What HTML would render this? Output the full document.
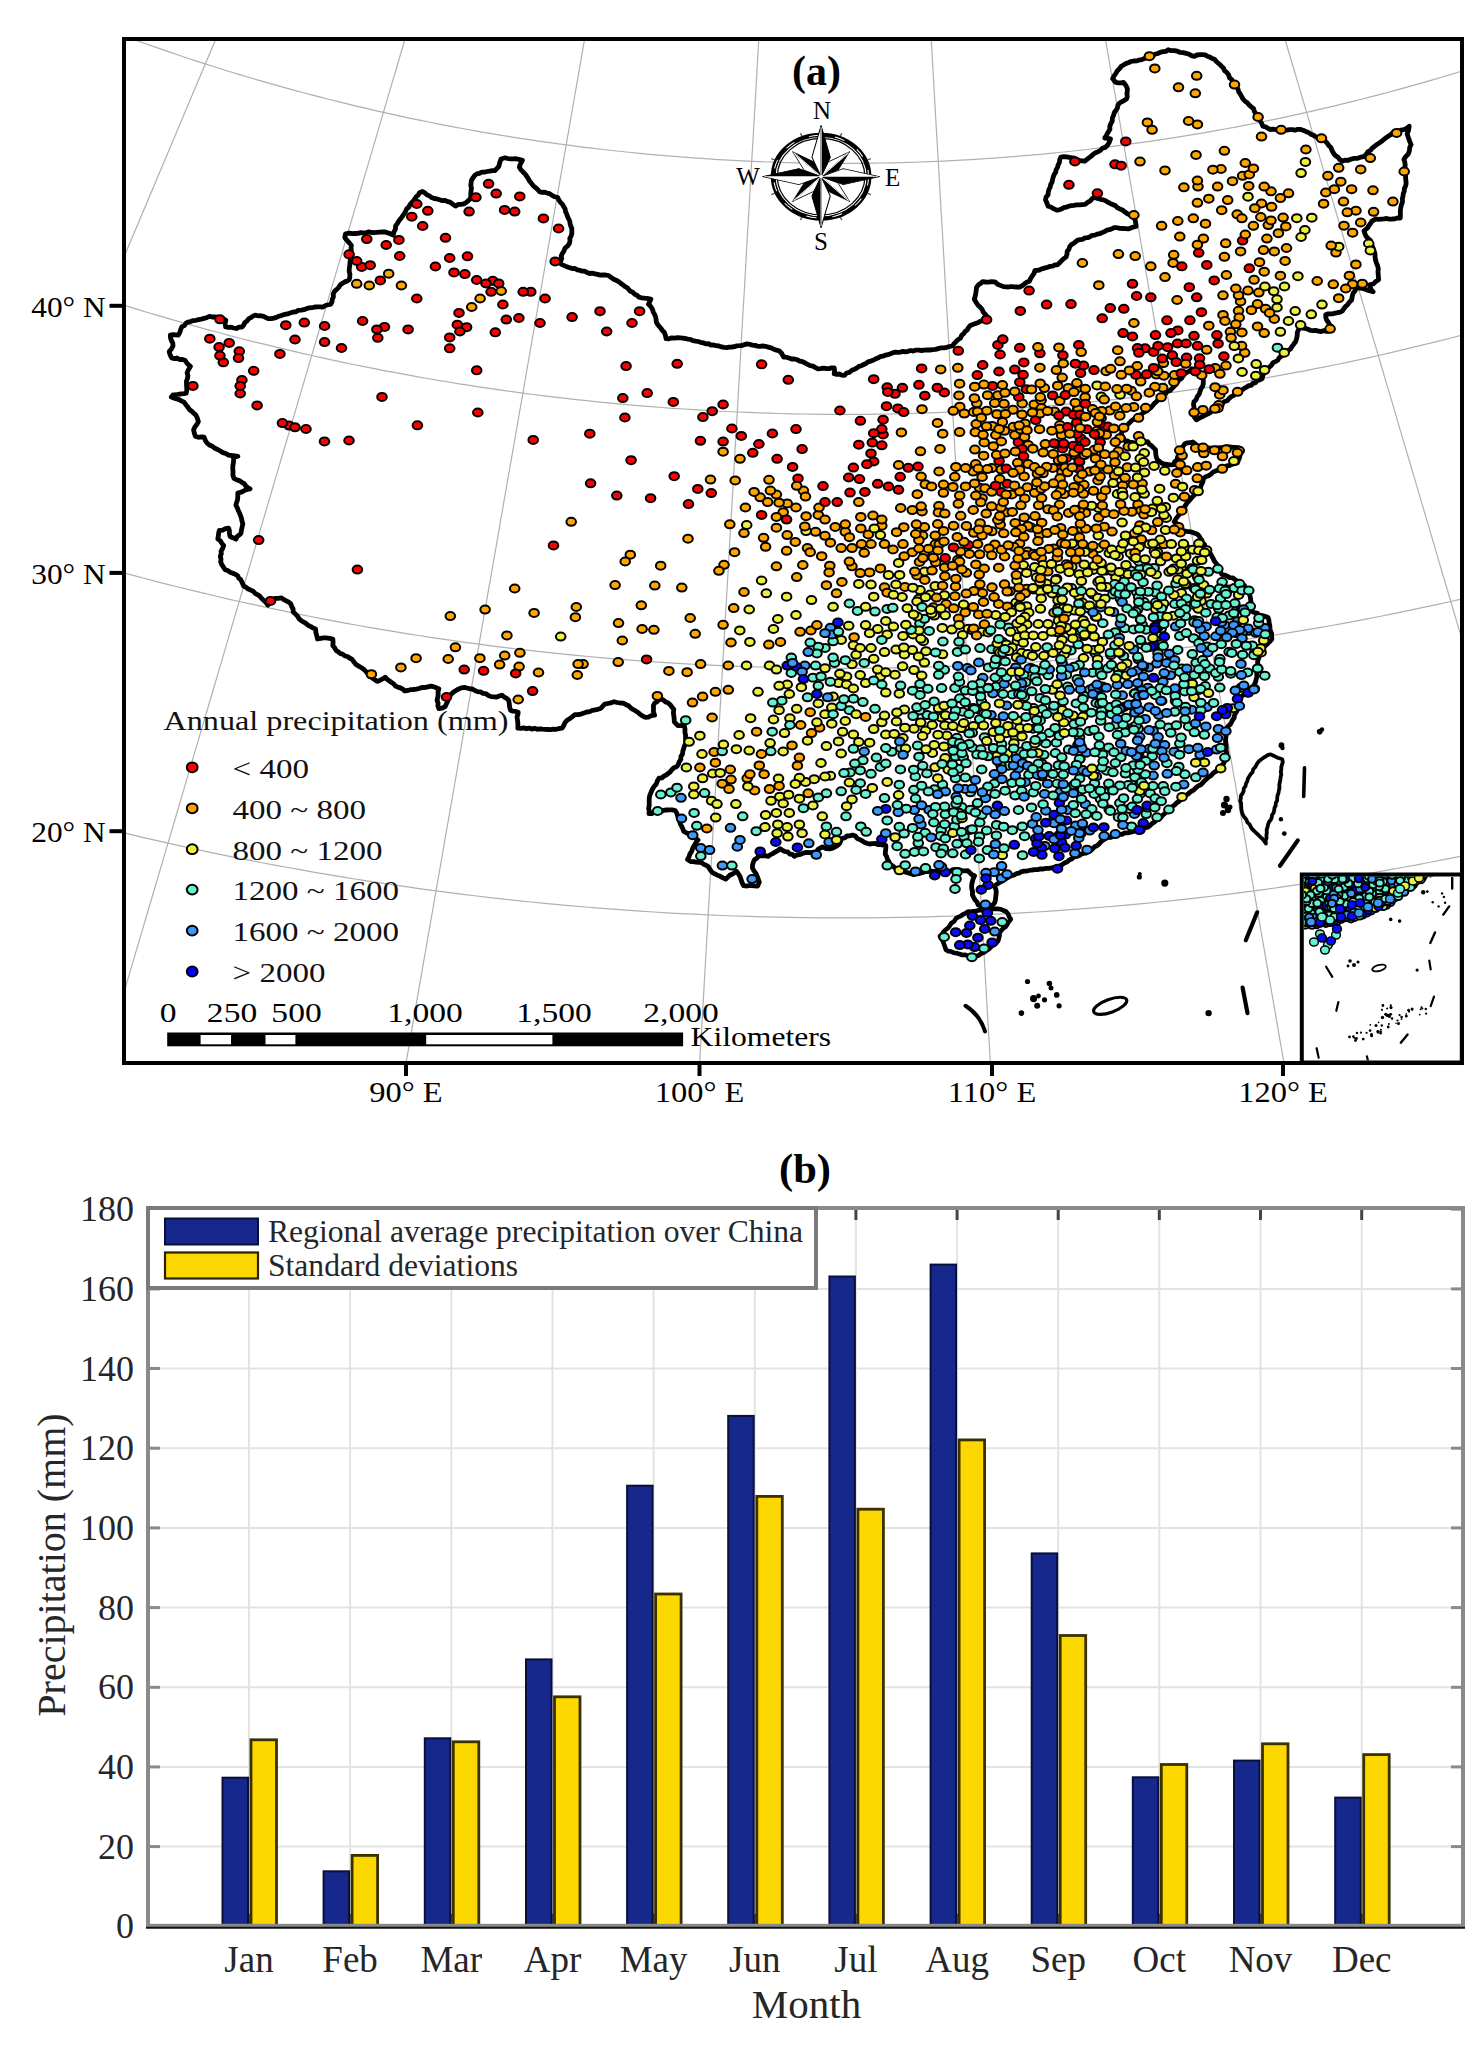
<!DOCTYPE html><html><head><meta charset="utf-8"><style>html,body{margin:0;padding:0;background:#fff;width:1481px;height:2049px;overflow:hidden}svg{display:block}</style></head><body>
<svg xmlns="http://www.w3.org/2000/svg" width="1481" height="2049" viewBox="0 0 1481 2049">
<rect width="100%" height="100%" fill="#fff"/>
<defs><clipPath id="mclip"><rect x="126" y="41" width="1334" height="1020"/></clipPath></defs>
<g clip-path="url(#mclip)">
<polyline fill="none" stroke="#b0b0b0" stroke-width="1.2" points="-578.7,1097.5 -567.7,1077.8 -556.6,1058.0 -545.4,1038.0 -534.2,1017.8 -522.9,997.5 -511.5,977.1 -500.0,956.6 -488.5,935.9 -476.9,915.1 -465.2,894.1 -453.4,873.1 -441.6,851.9 -429.7,830.6 -417.8,809.2 -405.8,787.7 -393.7,766.0 -381.6,744.3 -369.4,722.5 -357.1,700.5 -344.9,678.5 -332.5,656.4 -320.1,634.2 -307.7,612.0 -295.2,589.6 -282.7,567.2 -270.2,544.7 -257.6,522.1 -245.0,499.5 -232.3,476.9 -219.7,454.2 -207.0,431.4 -194.2,408.7 -181.5,385.8 -168.8,363.0 -156.0,340.1 -143.3,317.3 -130.5,294.4 -117.7,271.5 -105.0,248.7 -92.2,225.8 -79.5,203.0 -66.8,180.2 -54.1,157.5 -41.4,134.8 -28.8,112.1 -16.2,89.5 -3.6,67.0 8.9,44.6 21.3,22.3 33.7,0.1 46.0,-21.9 58.3,-43.9 70.4,-65.7 82.5,-87.3 94.5,-108.7 106.3,-130.0 118.1,-151.0 129.7,-171.8 141.2,-192.4 152.5,-212.7"/>
<polyline fill="none" stroke="#b0b0b0" stroke-width="1.2" points="-277.5,1209.5 -268.9,1188.9 -260.1,1168.2 -251.3,1147.3 -242.5,1126.3 -233.6,1105.1 -224.6,1083.8 -215.5,1062.4 -206.4,1040.8 -197.3,1019.0 -188.1,997.2 -178.8,975.2 -169.5,953.1 -160.1,930.9 -150.7,908.5 -141.2,886.0 -131.7,863.5 -122.1,840.8 -112.5,818.0 -102.9,795.1 -93.2,772.1 -83.5,749.0 -73.7,725.9 -63.9,702.6 -54.1,679.3 -44.2,655.9 -34.3,632.4 -24.4,608.9 -14.4,585.3 -4.5,561.6 5.5,537.9 15.5,514.2 25.6,490.4 35.6,466.6 45.7,442.7 55.7,418.9 65.8,395.0 75.8,371.1 85.9,347.2 96.0,323.4 106.0,299.5 116.1,275.7 126.1,251.9 136.1,228.2 146.1,204.5 156.1,180.8 166.0,157.3 175.9,133.8 185.7,110.4 195.6,87.1 205.3,63.9 215.0,40.9 224.7,18.0 234.3,-4.7 243.8,-27.3 253.2,-49.7 262.6,-71.9 271.8,-93.9 281.0,-115.6 290.1,-137.1 299.0,-158.3"/>
<polyline fill="none" stroke="#b0b0b0" stroke-width="1.2" points="35.0,1294.4 41.2,1273.2 47.5,1251.8 53.9,1230.3 60.3,1208.6 66.7,1186.8 73.2,1164.8 79.7,1142.6 86.3,1120.4 92.9,1097.9 99.5,1075.4 106.2,1052.7 112.9,1029.9 119.7,1006.9 126.5,983.9 133.3,960.7 140.2,937.4 147.1,914.0 154.0,890.5 161.0,866.8 168.0,843.1 175.0,819.3 182.1,795.4 189.1,771.4 196.2,747.3 203.4,723.2 210.5,699.0 217.7,674.7 224.8,650.3 232.0,625.9 239.2,601.5 246.5,577.0 253.7,552.4 260.9,527.8 268.2,503.2 275.4,478.6 282.7,454.0 290.0,429.4 297.2,404.7 304.5,380.1 311.7,355.5 319.0,330.9 326.2,306.3 333.4,281.8 340.7,257.4 347.8,233.0 355.0,208.7 362.2,184.4 369.3,160.3 376.4,136.3 383.4,112.4 390.4,88.6 397.4,65.0 404.3,41.5 411.2,18.2 418.0,-4.9 424.7,-27.8 431.4,-50.5 438.0,-72.9 444.5,-95.1 451.0,-116.9"/>
<polyline fill="none" stroke="#b0b0b0" stroke-width="1.2" points="355.7,1351.6 359.5,1329.9 363.3,1308.1 367.1,1286.1 371.0,1264.0 374.8,1241.7 378.8,1219.2 382.7,1196.6 386.7,1173.9 390.7,1151.0 394.7,1128.0 398.7,1104.8 402.8,1081.5 406.9,1058.1 411.0,1034.6 415.1,1010.9 419.2,987.1 423.4,963.2 427.6,939.2 431.8,915.1 436.0,890.9 440.3,866.6 444.5,842.2 448.8,817.7 453.1,793.1 457.4,768.5 461.7,743.7 466.0,718.9 470.4,694.1 474.7,669.2 479.1,644.2 483.4,619.2 487.8,594.1 492.2,569.0 496.6,543.9 500.9,518.8 505.3,493.7 509.7,468.5 514.1,443.4 518.5,418.2 522.9,393.1 527.2,368.0 531.6,342.9 536.0,317.9 540.3,293.0 544.7,268.1 549.0,243.2 553.3,218.5 557.6,193.9 561.9,169.3 566.2,144.9 570.4,120.7 574.6,96.5 578.8,72.6 582.9,48.8 587.0,25.2 591.1,1.8 595.2,-21.3 599.1,-44.2 603.1,-66.8 607.0,-89.1"/>
<polyline fill="none" stroke="#b0b0b0" stroke-width="1.2" points="681.3,1380.3 682.6,1358.4 683.9,1336.4 685.2,1314.2 686.4,1291.8 687.8,1269.3 689.1,1246.6 690.4,1223.8 691.7,1200.8 693.0,1177.7 694.4,1154.4 695.7,1131.0 697.1,1107.5 698.5,1083.8 699.8,1060.0 701.2,1036.1 702.6,1012.1 704.0,988.0 705.4,963.7 706.8,939.3 708.2,914.9 709.6,890.3 711.1,865.7 712.5,840.9 713.9,816.1 715.4,791.2 716.8,766.2 718.2,741.2 719.7,716.1 721.2,690.9 722.6,665.7 724.1,640.4 725.5,615.1 727.0,589.7 728.5,564.4 729.9,539.0 731.4,513.6 732.9,488.2 734.3,462.8 735.8,437.4 737.3,412.0 738.7,386.6 740.2,361.3 741.6,336.1 743.1,310.8 744.6,285.7 746.0,260.6 747.4,235.6 748.9,210.7 750.3,185.9 751.7,161.3 753.2,136.8 754.6,112.4 756.0,88.2 757.3,64.2 758.7,40.4 760.1,16.7 761.4,-6.6 762.8,-29.8 764.1,-52.6 765.4,-75.2"/>
<polyline fill="none" stroke="#b0b0b0" stroke-width="1.2" points="1008.7,1380.3 1007.4,1358.4 1006.1,1336.4 1004.8,1314.2 1003.6,1291.8 1002.2,1269.3 1000.9,1246.6 999.6,1223.8 998.3,1200.8 997.0,1177.7 995.6,1154.4 994.3,1131.0 992.9,1107.5 991.5,1083.8 990.2,1060.0 988.8,1036.1 987.4,1012.1 986.0,988.0 984.6,963.7 983.2,939.3 981.8,914.9 980.4,890.3 978.9,865.7 977.5,840.9 976.1,816.1 974.6,791.2 973.2,766.2 971.8,741.2 970.3,716.1 968.8,690.9 967.4,665.7 965.9,640.4 964.5,615.1 963.0,589.7 961.5,564.4 960.1,539.0 958.6,513.6 957.1,488.2 955.7,462.8 954.2,437.4 952.7,412.0 951.3,386.6 949.8,361.3 948.4,336.1 946.9,310.8 945.4,285.7 944.0,260.6 942.6,235.6 941.1,210.7 939.7,185.9 938.3,161.3 936.8,136.8 935.4,112.4 934.0,88.2 932.7,64.2 931.3,40.4 929.9,16.7 928.6,-6.6 927.2,-29.8 925.9,-52.6 924.6,-75.2"/>
<polyline fill="none" stroke="#b0b0b0" stroke-width="1.2" points="1334.3,1351.6 1330.5,1329.9 1326.7,1308.1 1322.9,1286.1 1319.0,1264.0 1315.2,1241.7 1311.2,1219.2 1307.3,1196.6 1303.3,1173.9 1299.3,1151.0 1295.3,1128.0 1291.3,1104.8 1287.2,1081.5 1283.1,1058.1 1279.0,1034.6 1274.9,1010.9 1270.8,987.1 1266.6,963.2 1262.4,939.2 1258.2,915.1 1254.0,890.9 1249.7,866.6 1245.5,842.2 1241.2,817.7 1236.9,793.1 1232.6,768.5 1228.3,743.7 1224.0,718.9 1219.6,694.1 1215.3,669.2 1210.9,644.2 1206.6,619.2 1202.2,594.1 1197.8,569.0 1193.4,543.9 1189.1,518.8 1184.7,493.7 1180.3,468.5 1175.9,443.4 1171.5,418.2 1167.1,393.1 1162.8,368.0 1158.4,342.9 1154.0,317.9 1149.7,293.0 1145.3,268.1 1141.0,243.2 1136.7,218.5 1132.4,193.9 1128.1,169.3 1123.8,144.9 1119.6,120.7 1115.4,96.5 1111.2,72.6 1107.1,48.8 1103.0,25.2 1098.9,1.8 1094.8,-21.3 1090.9,-44.2 1086.9,-66.8 1083.0,-89.1"/>
<polyline fill="none" stroke="#b0b0b0" stroke-width="1.2" points="1655.0,1294.4 1648.8,1273.2 1642.5,1251.8 1636.1,1230.3 1629.7,1208.6 1623.3,1186.8 1616.8,1164.8 1610.3,1142.6 1603.7,1120.4 1597.1,1097.9 1590.5,1075.4 1583.8,1052.7 1577.1,1029.9 1570.3,1006.9 1563.5,983.9 1556.7,960.7 1549.8,937.4 1542.9,914.0 1536.0,890.5 1529.0,866.8 1522.0,843.1 1515.0,819.3 1507.9,795.4 1500.9,771.4 1493.8,747.3 1486.6,723.2 1479.5,699.0 1472.3,674.7 1465.2,650.3 1458.0,625.9 1450.8,601.5 1443.5,577.0 1436.3,552.4 1429.1,527.8 1421.8,503.2 1414.6,478.6 1407.3,454.0 1400.0,429.4 1392.8,404.7 1385.5,380.1 1378.3,355.5 1371.0,330.9 1363.8,306.3 1356.6,281.8 1349.3,257.4 1342.2,233.0 1335.0,208.7 1327.8,184.4 1320.7,160.3 1313.6,136.3 1306.6,112.4 1299.6,88.6 1292.6,65.0 1285.7,41.5 1278.8,18.2 1272.0,-4.9 1265.3,-27.8 1258.6,-50.5 1252.0,-72.9 1245.5,-95.1 1239.0,-116.9"/>
<polyline fill="none" stroke="#b0b0b0" stroke-width="1.2" points="1967.5,1209.5 1958.9,1188.9 1950.1,1168.2 1941.3,1147.3 1932.5,1126.3 1923.6,1105.1 1914.6,1083.8 1905.5,1062.4 1896.4,1040.8 1887.3,1019.0 1878.1,997.2 1868.8,975.2 1859.5,953.1 1850.1,930.9 1840.7,908.5 1831.2,886.0 1821.7,863.5 1812.1,840.8 1802.5,818.0 1792.9,795.1 1783.2,772.1 1773.5,749.0 1763.7,725.9 1753.9,702.6 1744.1,679.3 1734.2,655.9 1724.3,632.4 1714.4,608.9 1704.4,585.3 1694.5,561.6 1684.5,537.9 1674.5,514.2 1664.4,490.4 1654.4,466.6 1644.3,442.7 1634.3,418.9 1624.2,395.0 1614.2,371.1 1604.1,347.2 1594.0,323.4 1584.0,299.5 1573.9,275.7 1563.9,251.9 1553.9,228.2 1543.9,204.5 1533.9,180.8 1524.0,157.3 1514.1,133.8 1504.3,110.4 1494.4,87.1 1484.7,63.9 1475.0,40.9 1465.3,18.0 1455.7,-4.7 1446.2,-27.3 1436.8,-49.7 1427.4,-71.9 1418.2,-93.9 1409.0,-115.6 1399.9,-137.1 1391.0,-158.3"/>
<polyline fill="none" stroke="#b0b0b0" stroke-width="1.2" points="-729.0,767.3 -716.2,774.2 -703.3,781.0 -690.4,787.8 -677.4,794.5 -664.5,801.2 -651.4,807.8 -638.4,814.3 -625.3,820.8 -612.1,827.3 -598.9,833.6 -585.7,839.9 -572.5,846.2 -559.2,852.4 -545.9,858.5 -532.5,864.6 -519.1,870.6 -505.7,876.6 -492.2,882.5 -478.7,888.4 -465.2,894.1 -451.6,899.9 -438.0,905.5 -424.4,911.1 -410.7,916.7 -397.0,922.2 -383.3,927.6 -369.6,933.0 -355.8,938.3 -342.0,943.5 -328.1,948.7 -314.2,953.8 -300.3,958.9 -286.4,963.9 -272.4,968.8 -258.4,973.7 -244.4,978.5 -230.4,983.3 -216.3,988.0 -202.2,992.6 -188.1,997.2 -173.9,1001.7 -159.7,1006.1 -145.5,1010.5 -131.3,1014.8 -117.0,1019.1 -102.7,1023.3 -88.4,1027.4 -74.1,1031.5 -59.8,1035.5 -45.4,1039.4 -31.0,1043.3 -16.6,1047.1 -2.1,1050.9 12.3,1054.6 26.8,1058.2 41.3,1061.8 55.8,1065.3 70.4,1068.7 85.0,1072.1 99.5,1075.4 114.1,1078.6 128.8,1081.8 143.4,1084.9 158.1,1088.0 172.7,1091.0 187.4,1093.9 202.1,1096.7 216.9,1099.5 231.6,1102.3 246.3,1104.9 261.1,1107.5 275.9,1110.1 290.7,1112.5 305.5,1114.9 320.3,1117.3 335.2,1119.5 350.0,1121.7 364.9,1123.9 379.8,1126.0 394.7,1128.0 409.6,1129.9 424.5,1131.8 439.4,1133.6 454.4,1135.4 469.3,1137.0 484.2,1138.7 499.2,1140.2 514.2,1141.7 529.2,1143.1 544.1,1144.5 559.1,1145.8 574.1,1147.0 589.2,1148.2 604.2,1149.2 619.2,1150.3 634.2,1151.2 649.3,1152.1 664.3,1152.9 679.3,1153.7 694.4,1154.4 709.4,1155.0 724.5,1155.6 739.5,1156.1 754.6,1156.5 769.7,1156.9 784.7,1157.2 799.8,1157.4 814.9,1157.6 829.9,1157.7 845.0,1157.7 860.1,1157.7 875.1,1157.6 890.2,1157.4 905.3,1157.2 920.3,1156.9 935.4,1156.5 950.5,1156.1 965.5,1155.6 980.6,1155.0 995.6,1154.4 1010.7,1153.7 1025.7,1152.9 1040.7,1152.1 1055.8,1151.2 1070.8,1150.3 1085.8,1149.2 1100.8,1148.2 1115.9,1147.0 1130.9,1145.8 1145.9,1144.5 1160.8,1143.1 1175.8,1141.7 1190.8,1140.2 1205.8,1138.7 1220.7,1137.0 1235.6,1135.4 1250.6,1133.6 1265.5,1131.8 1280.4,1129.9 1295.3,1128.0 1310.2,1126.0 1325.1,1123.9 1340.0,1121.7 1354.8,1119.5 1369.7,1117.3 1384.5,1114.9 1399.3,1112.5 1414.1,1110.1 1428.9,1107.5 1443.7,1104.9 1458.4,1102.3 1473.1,1099.5 1487.9,1096.7 1502.6,1093.9 1517.3,1091.0 1531.9,1088.0 1546.6,1084.9 1561.2,1081.8 1575.9,1078.6 1590.5,1075.4 1605.0,1072.1 1619.6,1068.7 1634.2,1065.3 1648.7,1061.8 1663.2,1058.2 1677.7,1054.6 1692.1,1050.9 1706.6,1047.1 1721.0,1043.3 1735.4,1039.4 1749.8,1035.5 1764.1,1031.5 1778.4,1027.4 1792.7,1023.3 1807.0,1019.1 1821.3,1014.8 1835.5,1010.5 1849.7,1006.1 1863.9,1001.7 1878.1,997.2 1892.2,992.6 1906.3,988.0 1920.4,983.3 1934.4,978.5 1948.4,973.7 1962.4,968.8 1976.4,963.9 1990.3,958.9 2004.2,953.8 2018.1,948.7 2032.0,943.5 2045.8,938.3 2059.6,933.0 2073.3,927.6 2087.0,922.2 2100.7,916.7 2114.4,911.1 2128.0,905.5 2141.6,899.9 2155.2,894.1 2168.7,888.4 2182.2,882.5 2195.7,876.6 2209.1,870.6 2222.5,864.6 2235.9,858.5 2249.2,852.4 2262.5,846.2 2275.7,839.9 2288.9,833.6 2302.1,827.3 2315.3,820.8 2328.4,814.3 2341.4,807.8 2354.5,801.2 2367.4,794.5 2380.4,787.8 2393.3,781.0 2406.2,774.2 2419.0,767.3"/>
<polyline fill="none" stroke="#b0b0b0" stroke-width="1.2" points="-584.5,563.3 -572.8,569.6 -561.1,575.8 -549.4,582.0 -537.6,588.1 -525.8,594.1 -514.0,600.1 -502.1,606.0 -490.2,611.9 -478.3,617.8 -466.3,623.6 -454.3,629.3 -442.3,635.0 -430.2,640.6 -418.1,646.2 -406.0,651.7 -393.8,657.2 -381.6,662.6 -369.4,668.0 -357.1,673.3 -344.9,678.5 -332.5,683.7 -320.2,688.9 -307.8,694.0 -295.4,699.0 -283.0,704.0 -270.5,708.9 -258.0,713.8 -245.5,718.6 -232.9,723.4 -220.4,728.1 -207.8,732.7 -195.1,737.3 -182.5,741.9 -169.8,746.4 -157.1,750.8 -144.4,755.2 -131.6,759.5 -118.8,763.7 -106.0,768.0 -93.2,772.1 -80.3,776.2 -67.4,780.2 -54.5,784.2 -41.6,788.1 -28.7,792.0 -15.7,795.8 -2.7,799.6 10.3,803.3 23.3,806.9 36.4,810.5 49.5,814.0 62.6,817.5 75.7,820.9 88.8,824.2 102.0,827.5 115.1,830.8 128.3,833.9 141.5,837.1 154.8,840.1 168.0,843.1 181.3,846.1 194.5,849.0 207.8,851.8 221.1,854.6 234.5,857.3 247.8,859.9 261.2,862.5 274.5,865.1 287.9,867.5 301.3,869.9 314.7,872.3 328.2,874.6 341.6,876.9 355.1,879.0 368.5,881.2 382.0,883.2 395.5,885.2 409.0,887.2 422.5,889.1 436.0,890.9 449.6,892.6 463.1,894.4 476.7,896.0 490.2,897.6 503.8,899.1 517.4,900.6 531.0,902.0 544.6,903.4 558.2,904.6 571.8,905.9 585.4,907.0 599.0,908.2 612.7,909.2 626.3,910.2 639.9,911.1 653.6,912.0 667.2,912.8 680.9,913.6 694.6,914.2 708.2,914.9 721.9,915.5 735.6,916.0 749.2,916.4 762.9,916.8 776.6,917.1 790.3,917.4 803.9,917.6 817.6,917.8 831.3,917.9 845.0,917.9 858.7,917.9 872.4,917.8 886.1,917.6 899.7,917.4 913.4,917.1 927.1,916.8 940.8,916.4 954.4,916.0 968.1,915.5 981.8,914.9 995.4,914.2 1009.1,913.6 1022.8,912.8 1036.4,912.0 1050.1,911.1 1063.7,910.2 1077.3,909.2 1091.0,908.2 1104.6,907.0 1118.2,905.9 1131.8,904.6 1145.4,903.4 1159.0,902.0 1172.6,900.6 1186.2,899.1 1199.8,897.6 1213.3,896.0 1226.9,894.4 1240.4,892.6 1254.0,890.9 1267.5,889.1 1281.0,887.2 1294.5,885.2 1308.0,883.2 1321.5,881.2 1334.9,879.0 1348.4,876.9 1361.8,874.6 1375.3,872.3 1388.7,869.9 1402.1,867.5 1415.5,865.1 1428.8,862.5 1442.2,859.9 1455.5,857.3 1468.9,854.6 1482.2,851.8 1495.5,849.0 1508.7,846.1 1522.0,843.1 1535.2,840.1 1548.5,837.1 1561.7,833.9 1574.9,830.8 1588.0,827.5 1601.2,824.2 1614.3,820.9 1627.4,817.5 1640.5,814.0 1653.6,810.5 1666.7,806.9 1679.7,803.3 1692.7,799.6 1705.7,795.8 1718.7,792.0 1731.6,788.1 1744.5,784.2 1757.4,780.2 1770.3,776.2 1783.2,772.1 1796.0,768.0 1808.8,763.7 1821.6,759.5 1834.4,755.2 1847.1,750.8 1859.8,746.4 1872.5,741.9 1885.1,737.3 1897.8,732.7 1910.4,728.1 1922.9,723.4 1935.5,718.6 1948.0,713.8 1960.5,708.9 1973.0,704.0 1985.4,699.0 1997.8,694.0 2010.2,688.9 2022.5,683.7 2034.9,678.5 2047.1,673.3 2059.4,668.0 2071.6,662.6 2083.8,657.2 2096.0,651.7 2108.1,646.2 2120.2,640.6 2132.3,635.0 2144.3,629.3 2156.3,623.6 2168.3,617.8 2180.2,611.9 2192.1,606.0 2204.0,600.1 2215.8,594.1 2227.6,588.1 2239.4,582.0 2251.1,575.8 2262.8,569.6 2274.5,563.3"/>
<polyline fill="none" stroke="#b0b0b0" stroke-width="1.2" points="-434.1,351.1 -423.6,356.7 -413.2,362.3 -402.7,367.8 -392.1,373.2 -381.6,378.6 -371.0,384.0 -360.4,389.3 -349.7,394.6 -339.1,399.8 -328.3,405.0 -317.6,410.1 -306.8,415.2 -296.0,420.3 -285.2,425.2 -274.4,430.2 -263.5,435.1 -252.6,439.9 -241.6,444.7 -230.6,449.5 -219.7,454.2 -208.6,458.8 -197.6,463.4 -186.5,468.0 -175.4,472.5 -164.3,477.0 -153.1,481.4 -141.9,485.7 -130.7,490.0 -119.5,494.3 -108.3,498.5 -97.0,502.7 -85.7,506.8 -74.4,510.9 -63.0,514.9 -51.6,518.8 -40.3,522.8 -28.8,526.6 -17.4,530.4 -5.9,534.2 5.5,537.9 17.0,541.6 28.6,545.2 40.1,548.7 51.7,552.3 63.3,555.7 74.9,559.1 86.5,562.5 98.1,565.8 109.8,569.1 121.5,572.3 133.2,575.4 144.9,578.5 156.6,581.6 168.4,584.6 180.1,587.5 191.9,590.4 203.7,593.2 215.5,596.0 227.4,598.8 239.2,601.5 251.1,604.1 263.0,606.7 274.9,609.2 286.8,611.7 298.7,614.1 310.6,616.5 322.6,618.8 334.6,621.1 346.5,623.3 358.5,625.5 370.5,627.6 382.6,629.6 394.6,631.6 406.6,633.6 418.7,635.5 430.7,637.3 442.8,639.1 454.9,640.9 467.0,642.6 479.1,644.2 491.2,645.8 503.3,647.3 515.4,648.8 527.6,650.2 539.7,651.6 551.9,652.9 564.0,654.1 576.2,655.4 588.3,656.5 600.5,657.6 612.7,658.7 624.9,659.6 637.1,660.6 649.3,661.5 661.5,662.3 673.7,663.1 685.9,663.8 698.2,664.5 710.4,665.1 722.6,665.7 734.8,666.2 747.1,666.6 759.3,667.0 771.5,667.4 783.8,667.7 796.0,667.9 808.3,668.1 820.5,668.2 832.8,668.3 845.0,668.4 857.2,668.3 869.5,668.2 881.7,668.1 894.0,667.9 906.2,667.7 918.5,667.4 930.7,667.0 942.9,666.6 955.2,666.2 967.4,665.7 979.6,665.1 991.8,664.5 1004.1,663.8 1016.3,663.1 1028.5,662.3 1040.7,661.5 1052.9,660.6 1065.1,659.6 1077.3,658.7 1089.5,657.6 1101.7,656.5 1113.8,655.4 1126.0,654.1 1138.1,652.9 1150.3,651.6 1162.4,650.2 1174.6,648.8 1186.7,647.3 1198.8,645.8 1210.9,644.2 1223.0,642.6 1235.1,640.9 1247.2,639.1 1259.3,637.3 1271.3,635.5 1283.4,633.6 1295.4,631.6 1307.4,629.6 1319.5,627.6 1331.5,625.5 1343.5,623.3 1355.4,621.1 1367.4,618.8 1379.4,616.5 1391.3,614.1 1403.2,611.7 1415.1,609.2 1427.0,606.7 1438.9,604.1 1450.8,601.5 1462.6,598.8 1474.5,596.0 1486.3,593.2 1498.1,590.4 1509.9,587.5 1521.6,584.6 1533.4,581.6 1545.1,578.5 1556.8,575.4 1568.5,572.3 1580.2,569.1 1591.9,565.8 1603.5,562.5 1615.1,559.1 1626.7,555.7 1638.3,552.3 1649.9,548.7 1661.4,545.2 1673.0,541.6 1684.5,537.9 1695.9,534.2 1707.4,530.4 1718.8,526.6 1730.3,522.8 1741.6,518.8 1753.0,514.9 1764.4,510.9 1775.7,506.8 1787.0,502.7 1798.3,498.5 1809.5,494.3 1820.7,490.0 1831.9,485.7 1843.1,481.4 1854.3,477.0 1865.4,472.5 1876.5,468.0 1887.6,463.4 1898.6,458.8 1909.7,454.2 1920.6,449.5 1931.6,444.7 1942.6,439.9 1953.5,435.1 1964.4,430.2 1975.2,425.2 1986.0,420.3 1996.8,415.2 2007.6,410.1 2018.3,405.0 2029.1,399.8 2039.7,394.6 2050.4,389.3 2061.0,384.0 2071.6,378.6 2082.1,373.2 2092.7,367.8 2103.2,362.3 2113.6,356.7 2124.1,351.1"/>
<polyline fill="none" stroke="#b0b0b0" stroke-width="1.2" points="-281.0,135.1 -271.8,140.0 -262.6,144.9 -253.3,149.8 -244.1,154.6 -234.8,159.3 -225.4,164.1 -216.1,168.7 -206.7,173.4 -197.3,178.0 -187.9,182.5 -178.4,187.1 -169.0,191.5 -159.5,196.0 -149.9,200.4 -140.4,204.7 -130.8,209.0 -121.2,213.3 -111.6,217.5 -101.9,221.7 -92.2,225.8 -82.5,229.9 -72.8,234.0 -63.0,238.0 -53.3,242.0 -43.5,245.9 -33.7,249.8 -23.8,253.6 -14.0,257.4 -4.1,261.1 5.8,264.9 15.8,268.5 25.7,272.1 35.7,275.7 45.7,279.3 55.7,282.7 65.7,286.2 75.8,289.6 85.8,292.9 95.9,296.3 106.0,299.5 116.1,302.8 126.3,305.9 136.5,309.1 146.6,312.2 156.8,315.2 167.0,318.2 177.3,321.2 187.5,324.1 197.8,326.9 208.1,329.8 218.4,332.5 228.7,335.3 239.0,338.0 249.4,340.6 259.7,343.2 270.1,345.7 280.5,348.2 290.9,350.7 301.3,353.1 311.7,355.5 322.2,357.8 332.6,360.1 343.1,362.3 353.6,364.5 364.1,366.6 374.6,368.7 385.1,370.8 395.7,372.7 406.2,374.7 416.8,376.6 427.3,378.5 437.9,380.3 448.5,382.0 459.1,383.8 469.7,385.4 480.3,387.1 490.9,388.6 501.6,390.2 512.2,391.7 522.9,393.1 533.5,394.5 544.2,395.8 554.9,397.1 565.6,398.4 576.2,399.6 586.9,400.7 597.6,401.9 608.4,402.9 619.1,403.9 629.8,404.9 640.5,405.8 651.2,406.7 662.0,407.5 672.7,408.3 683.5,409.0 694.2,409.7 705.0,410.4 715.7,411.0 726.5,411.5 737.3,412.0 748.0,412.4 758.8,412.8 769.6,413.2 780.3,413.5 791.1,413.8 801.9,414.0 812.7,414.1 823.4,414.3 834.2,414.3 845.0,414.4 855.8,414.3 866.6,414.3 877.3,414.1 888.1,414.0 898.9,413.8 909.7,413.5 920.4,413.2 931.2,412.8 942.0,412.4 952.7,412.0 963.5,411.5 974.3,411.0 985.0,410.4 995.8,409.7 1006.5,409.0 1017.3,408.3 1028.0,407.5 1038.8,406.7 1049.5,405.8 1060.2,404.9 1070.9,403.9 1081.6,402.9 1092.4,401.9 1103.1,400.7 1113.8,399.6 1124.4,398.4 1135.1,397.1 1145.8,395.8 1156.5,394.5 1167.1,393.1 1177.8,391.7 1188.4,390.2 1199.1,388.6 1209.7,387.1 1220.3,385.4 1230.9,383.8 1241.5,382.0 1252.1,380.3 1262.7,378.5 1273.2,376.6 1283.8,374.7 1294.3,372.7 1304.9,370.8 1315.4,368.7 1325.9,366.6 1336.4,364.5 1346.9,362.3 1357.4,360.1 1367.8,357.8 1378.3,355.5 1388.7,353.1 1399.1,350.7 1409.5,348.2 1419.9,345.7 1430.3,343.2 1440.6,340.6 1451.0,338.0 1461.3,335.3 1471.6,332.5 1481.9,329.8 1492.2,326.9 1502.5,324.1 1512.7,321.2 1523.0,318.2 1533.2,315.2 1543.4,312.2 1553.5,309.1 1563.7,305.9 1573.9,302.8 1584.0,299.5 1594.1,296.3 1604.2,292.9 1614.2,289.6 1624.3,286.2 1634.3,282.7 1644.3,279.3 1654.3,275.7 1664.3,272.1 1674.2,268.5 1684.2,264.9 1694.1,261.1 1704.0,257.4 1713.8,253.6 1723.7,249.8 1733.5,245.9 1743.3,242.0 1753.0,238.0 1762.8,234.0 1772.5,229.9 1782.2,225.8 1791.9,221.7 1801.6,217.5 1811.2,213.3 1820.8,209.0 1830.4,204.7 1839.9,200.4 1849.5,196.0 1859.0,191.5 1868.4,187.1 1877.9,182.5 1887.3,178.0 1896.7,173.4 1906.1,168.7 1915.4,164.1 1924.8,159.3 1934.1,154.6 1943.3,149.8 1952.6,144.9 1961.8,140.0 1971.0,135.1"/>
<polyline fill="none" stroke="#b0b0b0" stroke-width="1.2" points="-129.6,-78.4 -121.7,-74.1 -113.7,-69.9 -105.7,-65.7 -97.7,-61.6 -89.7,-57.4 -81.6,-53.3 -73.5,-49.3 -65.4,-45.3 -57.3,-41.3 -49.1,-37.3 -40.9,-33.4 -32.7,-29.6 -24.5,-25.7 -16.2,-21.9 -7.9,-18.1 0.3,-14.4 8.7,-10.7 17.0,-7.1 25.4,-3.4 33.7,0.1 42.1,3.7 50.5,7.2 59.0,10.7 67.4,14.1 75.9,17.5 84.4,20.9 92.9,24.2 101.5,27.5 110.0,30.7 118.6,33.9 127.2,37.1 135.8,40.2 144.4,43.3 153.1,46.4 161.8,49.4 170.4,52.4 179.1,55.3 187.8,58.2 196.6,61.1 205.3,63.9 214.1,66.7 222.9,69.5 231.7,72.2 240.5,74.9 249.3,77.5 258.2,80.1 267.0,82.7 275.9,85.2 284.8,87.7 293.7,90.1 302.6,92.5 311.5,94.9 320.5,97.2 329.4,99.5 338.4,101.7 347.4,103.9 356.3,106.1 365.4,108.2 374.4,110.3 383.4,112.4 392.4,114.4 401.5,116.3 410.6,118.3 419.6,120.2 428.7,122.0 437.8,123.8 446.9,125.6 456.0,127.3 465.2,129.0 474.3,130.7 483.5,132.3 492.6,133.8 501.8,135.4 511.0,136.8 520.1,138.3 529.3,139.7 538.5,141.1 547.7,142.4 556.9,143.7 566.2,144.9 575.4,146.1 584.6,147.3 593.9,148.4 603.1,149.5 612.4,150.5 621.6,151.5 630.9,152.5 640.2,153.4 649.4,154.3 658.7,155.1 668.0,155.9 677.3,156.7 686.6,157.4 695.9,158.1 705.2,158.7 714.5,159.3 723.8,159.9 733.1,160.4 742.4,160.9 751.7,161.3 761.1,161.7 770.4,162.0 779.7,162.3 789.0,162.6 798.4,162.8 807.7,163.0 817.0,163.2 826.3,163.3 835.7,163.3 845.0,163.3 854.3,163.3 863.7,163.3 873.0,163.2 882.3,163.0 891.6,162.8 901.0,162.6 910.3,162.3 919.6,162.0 928.9,161.7 938.3,161.3 947.6,160.9 956.9,160.4 966.2,159.9 975.5,159.3 984.8,158.7 994.1,158.1 1003.4,157.4 1012.7,156.7 1022.0,155.9 1031.3,155.1 1040.6,154.3 1049.8,153.4 1059.1,152.5 1068.4,151.5 1077.6,150.5 1086.9,149.5 1096.1,148.4 1105.4,147.3 1114.6,146.1 1123.8,144.9 1133.1,143.7 1142.3,142.4 1151.5,141.1 1160.7,139.7 1169.9,138.3 1179.0,136.8 1188.2,135.4 1197.4,133.8 1206.5,132.3 1215.7,130.7 1224.8,129.0 1234.0,127.3 1243.1,125.6 1252.2,123.8 1261.3,122.0 1270.4,120.2 1279.4,118.3 1288.5,116.3 1297.6,114.4 1306.6,112.4 1315.6,110.3 1324.6,108.2 1333.7,106.1 1342.6,103.9 1351.6,101.7 1360.6,99.5 1369.5,97.2 1378.5,94.9 1387.4,92.5 1396.3,90.1 1405.2,87.7 1414.1,85.2 1423.0,82.7 1431.8,80.1 1440.7,77.5 1449.5,74.9 1458.3,72.2 1467.1,69.5 1475.9,66.7 1484.7,63.9 1493.4,61.1 1502.2,58.2 1510.9,55.3 1519.6,52.4 1528.2,49.4 1536.9,46.4 1545.6,43.3 1554.2,40.2 1562.8,37.1 1571.4,33.9 1580.0,30.7 1588.5,27.5 1597.1,24.2 1605.6,20.9 1614.1,17.5 1622.6,14.1 1631.0,10.7 1639.5,7.2 1647.9,3.7 1656.3,0.1 1664.6,-3.4 1673.0,-7.1 1681.3,-10.7 1689.7,-14.4 1697.9,-18.1 1706.2,-21.9 1714.5,-25.7 1722.7,-29.6 1730.9,-33.4 1739.1,-37.3 1747.3,-41.3 1755.4,-45.3 1763.5,-49.3 1771.6,-53.3 1779.7,-57.4 1787.7,-61.6 1795.7,-65.7 1803.7,-69.9 1811.7,-74.1 1819.6,-78.4"/>
<polyline fill="none" stroke="#b0b0b0" stroke-width="1.2" points="13.1,-279.8 19.9,-276.1 26.7,-272.5 33.5,-268.9 40.3,-265.4 47.2,-261.9 54.1,-258.4 61.0,-254.9 67.9,-251.5 74.9,-248.1 81.8,-244.7 88.8,-241.4 95.8,-238.1 102.8,-234.8 109.9,-231.5 116.9,-228.3 124.0,-225.2 131.1,-222.0 138.2,-218.9 145.4,-215.8 152.5,-212.7 159.7,-209.7 166.9,-206.7 174.1,-203.7 181.3,-200.8 188.5,-197.9 195.8,-195.0 203.1,-192.2 210.3,-189.4 217.7,-186.6 225.0,-183.9 232.3,-181.2 239.7,-178.5 247.0,-175.9 254.4,-173.3 261.8,-170.7 269.2,-168.1 276.6,-165.6 284.1,-163.1 291.5,-160.7 299.0,-158.3 306.5,-155.9 314.0,-153.5 321.5,-151.2 329.0,-148.9 336.5,-146.7 344.1,-144.5 351.6,-142.3 359.2,-140.1 366.8,-138.0 374.4,-135.9 382.0,-133.9 389.6,-131.9 397.3,-129.9 404.9,-127.9 412.6,-126.0 420.2,-124.1 427.9,-122.3 435.6,-120.5 443.3,-118.7 451.0,-116.9 458.7,-115.2 466.4,-113.5 474.2,-111.9 481.9,-110.3 489.7,-108.7 497.4,-107.2 505.2,-105.6 513.0,-104.2 520.8,-102.7 528.6,-101.3 536.4,-100.0 544.2,-98.6 552.0,-97.3 559.9,-96.0 567.7,-94.8 575.5,-93.6 583.4,-92.4 591.3,-91.3 599.1,-90.2 607.0,-89.1 614.9,-88.1 622.7,-87.1 630.6,-86.2 638.5,-85.2 646.4,-84.3 654.3,-83.5 662.2,-82.7 670.2,-81.9 678.1,-81.1 686.0,-80.4 693.9,-79.7 701.8,-79.1 709.8,-78.5 717.7,-77.9 725.7,-77.4 733.6,-76.9 741.5,-76.4 749.5,-75.9 757.4,-75.5 765.4,-75.2 773.3,-74.8 781.3,-74.5 789.3,-74.3 797.2,-74.1 805.2,-73.9 813.1,-73.7 821.1,-73.6 829.1,-73.5 837.0,-73.4 845.0,-73.4 853.0,-73.4 860.9,-73.5 868.9,-73.6 876.9,-73.7 884.8,-73.9 892.8,-74.1 900.7,-74.3 908.7,-74.5 916.7,-74.8 924.6,-75.2 932.6,-75.5 940.5,-75.9 948.5,-76.4 956.4,-76.9 964.3,-77.4 972.3,-77.9 980.2,-78.5 988.2,-79.1 996.1,-79.7 1004.0,-80.4 1011.9,-81.1 1019.8,-81.9 1027.8,-82.7 1035.7,-83.5 1043.6,-84.3 1051.5,-85.2 1059.4,-86.2 1067.3,-87.1 1075.1,-88.1 1083.0,-89.1 1090.9,-90.2 1098.7,-91.3 1106.6,-92.4 1114.5,-93.6 1122.3,-94.8 1130.1,-96.0 1138.0,-97.3 1145.8,-98.6 1153.6,-100.0 1161.4,-101.3 1169.2,-102.7 1177.0,-104.2 1184.8,-105.6 1192.6,-107.2 1200.3,-108.7 1208.1,-110.3 1215.8,-111.9 1223.6,-113.5 1231.3,-115.2 1239.0,-116.9 1246.7,-118.7 1254.4,-120.5 1262.1,-122.3 1269.8,-124.1 1277.4,-126.0 1285.1,-127.9 1292.7,-129.9 1300.4,-131.9 1308.0,-133.9 1315.6,-135.9 1323.2,-138.0 1330.8,-140.1 1338.4,-142.3 1345.9,-144.5 1353.5,-146.7 1361.0,-148.9 1368.5,-151.2 1376.0,-153.5 1383.5,-155.9 1391.0,-158.3 1398.5,-160.7 1405.9,-163.1 1413.4,-165.6 1420.8,-168.1 1428.2,-170.7 1435.6,-173.3 1443.0,-175.9 1450.3,-178.5 1457.7,-181.2 1465.0,-183.9 1472.3,-186.6 1479.7,-189.4 1486.9,-192.2 1494.2,-195.0 1501.5,-197.9 1508.7,-200.8 1515.9,-203.7 1523.1,-206.7 1530.3,-209.7 1537.5,-212.7 1544.6,-215.8 1551.8,-218.9 1558.9,-222.0 1566.0,-225.2 1573.1,-228.3 1580.1,-231.5 1587.2,-234.8 1594.2,-238.1 1601.2,-241.4 1608.2,-244.7 1615.1,-248.1 1622.1,-251.5 1629.0,-254.9 1635.9,-258.4 1642.8,-261.9 1649.7,-265.4 1656.5,-268.9 1663.3,-272.5 1670.1,-276.1 1676.9,-279.8"/>
<polygon points="237.5,500.0 237.8,496.6 237.8,493.0 240.3,492.4 242.7,491.6 244.9,490.2 247.3,489.4 250.1,488.8 247.7,487.6 245.7,485.9 244.2,483.6 241.8,482.3 239.3,480.6 236.4,479.7 233.9,478.3 232.9,475.2 233.0,471.9 232.8,468.8 232.8,466.1 233.3,463.4 233.6,460.7 233.5,457.5 237.9,456.3 234.8,455.8 231.7,455.5 228.5,455.1 225.8,453.5 222.9,452.6 220.3,451.0 217.7,449.5 214.9,448.3 212.4,446.3 209.3,445.0 207.0,443.0 205.3,440.4 204.1,437.2 201.4,436.9 198.5,437.3 195.5,436.5 194.3,433.1 193.6,429.9 194.9,426.9 196.9,424.3 198.4,421.6 197.3,418.1 195.8,414.9 193.6,413.1 191.5,411.1 189.3,409.3 187.7,406.9 185.8,404.7 184.0,402.2 181.3,400.9 178.6,399.4 175.1,398.4 171.3,397.0 173.0,394.9 175.7,394.7 178.4,394.4 181.1,393.8 183.8,393.7 186.2,393.2 186.9,389.8 186.6,386.4 186.5,383.7 186.5,381.0 187.5,378.3 187.9,375.6 187.1,372.9 188.1,370.4 190.4,366.3 188.4,364.7 186.7,362.8 185.2,360.5 182.5,359.5 179.5,359.5 177.0,358.0 174.3,358.6 171.8,358.0 170.1,354.8 169.2,351.6 171.4,348.9 173.0,345.9 172.8,343.1 171.4,340.5 170.5,337.9 170.3,335.2 173.0,334.6 175.7,334.8 178.3,335.1 179.8,332.5 180.7,329.5 182.0,326.6 184.5,325.5 185.9,323.3 187.9,322.1 190.6,321.6 193.2,320.6 195.9,320.3 198.6,319.6 201.3,319.1 204.0,318.4 206.7,317.7 209.4,316.3 212.0,317.0 214.8,316.9 217.5,317.2 220.1,317.8 223.0,318.7 225.8,320.3 225.1,323.6 225.6,327.0 228.3,327.4 231.1,327.2 233.7,328.0 236.4,328.5 239.0,327.2 241.9,327.1 243.6,325.1 244.8,322.6 247.0,321.0 248.6,318.9 250.9,317.7 253.0,316.1 255.2,315.1 257.9,315.8 260.8,315.7 263.5,316.4 266.1,317.7 268.7,318.7 271.4,318.6 273.9,318.1 276.4,317.4 278.8,316.3 281.2,315.6 283.6,314.7 286.1,314.1 288.7,313.6 291.0,312.6 293.5,312.0 296.1,311.8 298.4,310.3 301.2,310.2 304.0,309.7 306.6,308.6 309.3,307.8 312.1,307.7 314.8,307.0 317.5,306.8 320.2,306.9 323.0,307.0 325.5,305.5 328.2,304.8 330.8,304.1 332.0,301.8 332.3,299.2 333.4,296.9 333.3,294.2 334.2,291.8 336.5,289.6 338.7,287.4 340.4,284.8 342.5,283.3 344.7,281.9 347.2,281.1 349.2,279.8 349.8,277.0 349.9,274.1 349.2,271.3 349.3,268.4 349.8,265.6 349.9,263.1 350.3,260.6 350.1,258.0 350.1,255.4 350.5,252.9 351.3,250.4 351.0,247.8 351.4,245.4 349.7,243.3 347.9,241.3 346.1,239.3 344.8,237.4 345.4,233.8 349.0,233.2 352.6,233.7 355.3,233.5 358.0,233.4 360.7,232.6 363.4,233.0 366.1,232.8 368.8,231.9 371.5,232.5 374.2,232.6 376.9,232.4 379.6,232.2 382.3,232.0 385.1,232.0 387.8,232.9 390.6,233.8 393.2,235.2 393.9,232.1 395.4,229.2 395.6,225.9 397.5,223.3 399.0,220.8 400.8,218.6 402.5,216.2 404.2,213.9 405.6,211.3 406.8,208.6 408.9,207.0 410.0,204.6 411.6,202.7 413.4,200.9 414.8,198.8 416.3,196.7 418.3,195.0 419.4,192.8 422.5,191.5 424.9,192.9 426.9,194.8 429.5,195.9 431.7,197.6 434.2,198.5 437.0,198.9 439.6,199.8 442.2,200.6 445.1,200.4 447.6,201.6 450.1,202.2 452.7,204.1 455.5,206.1 458.1,204.5 461.0,204.4 463.9,203.9 466.2,202.5 468.4,200.6 470.3,198.7 470.8,196.1 470.8,193.5 471.0,190.9 471.5,188.3 470.8,185.7 471.1,183.1 471.4,180.3 473.0,177.9 474.6,175.5 476.8,173.9 479.4,173.4 481.8,172.1 484.5,172.1 487.1,171.5 489.7,171.1 492.3,170.7 495.0,170.5 497.0,168.4 498.9,166.3 499.7,162.7 501.0,159.0 505.1,157.8 507.6,158.5 510.1,158.9 512.7,158.8 515.3,158.7 518.8,159.4 522.4,160.4 521.2,162.6 520.0,164.8 519.4,167.2 521.0,169.9 523.2,172.1 525.4,174.4 526.9,176.6 528.4,178.9 529.7,181.3 531.5,183.4 533.3,185.7 535.5,187.6 537.7,189.5 539.5,191.7 542.0,192.4 544.6,192.2 547.1,193.1 549.6,193.6 552.1,195.4 554.8,196.8 557.8,197.6 558.9,200.2 560.5,202.4 562.5,204.4 563.8,206.8 565.2,209.0 565.5,211.7 566.7,214.0 567.5,216.4 568.6,218.8 569.7,221.0 570.1,223.6 570.8,226.1 571.8,228.5 571.8,231.1 571.8,233.7 571.1,236.1 569.8,238.3 570.0,241.0 569.3,243.6 567.5,246.1 565.0,248.1 563.9,251.1 562.3,253.5 561.2,255.9 561.7,258.5 560.7,261.0 560.7,263.8 563.7,265.3 566.7,266.7 569.9,267.7 572.3,268.6 575.0,268.5 577.3,269.9 579.8,270.3 582.2,271.2 584.9,271.2 587.2,272.6 589.6,273.5 592.3,273.2 594.9,273.8 597.6,274.4 600.3,275.1 603.0,274.8 605.7,275.0 608.5,275.5 610.9,277.3 613.3,279.0 616.0,280.2 618.6,281.7 620.6,283.2 622.7,284.7 624.7,286.3 626.9,287.5 628.7,289.4 630.4,291.3 632.8,292.3 634.6,294.2 637.0,295.2 638.8,297.2 641.8,297.8 644.8,298.2 647.9,298.5 650.9,299.0 649.8,301.5 648.5,304.3 650.8,306.4 652.3,308.9 653.2,311.8 654.6,314.3 655.5,316.7 656.1,319.2 656.3,321.8 657.3,324.1 659.0,326.2 660.8,328.1 662.3,330.4 664.3,332.3 665.4,335.4 666.1,338.7 669.0,338.8 671.8,337.9 674.6,338.1 677.5,337.6 680.2,337.9 682.8,338.2 685.4,338.5 687.9,339.1 690.5,339.5 692.9,340.6 695.5,341.1 698.1,341.5 700.5,342.3 703.2,342.8 705.7,343.8 708.5,343.6 710.9,345.1 713.7,345.0 716.3,345.7 718.9,346.0 721.5,346.9 724.1,347.4 726.8,347.7 729.3,347.2 731.9,347.0 734.5,346.7 736.9,345.8 739.5,345.7 742.1,345.5 744.6,344.6 747.1,343.9 749.7,344.3 752.3,345.1 754.9,345.4 757.4,346.1 760.0,346.3 762.7,346.0 765.4,346.3 768.2,347.1 771.1,347.9 773.8,349.2 776.6,350.2 779.1,350.8 781.8,353.5 783.5,357.1 786.4,357.2 789.0,358.0 791.6,359.0 794.5,359.0 797.2,359.7 799.7,361.1 802.5,361.7 805.1,363.0 807.6,364.4 810.1,365.6 813.0,366.1 815.5,367.6 818.0,368.8 820.7,368.7 823.4,368.2 826.1,368.5 828.8,368.7 831.5,367.9 834.2,367.9 834.6,370.9 834.2,373.7 836.7,374.3 839.3,374.0 841.7,375.1 844.5,375.3 846.6,373.0 849.6,372.3 851.9,370.3 854.6,369.2 856.9,368.0 858.9,366.4 861.4,365.7 863.7,364.5 866.0,363.5 868.0,361.8 870.6,361.2 872.9,360.3 875.3,359.1 877.8,358.1 880.1,356.7 882.8,356.2 885.3,355.2 887.9,354.7 890.4,353.8 892.9,352.8 895.4,352.1 898.0,352.3 900.5,352.1 903.0,351.3 905.6,351.8 908.1,351.3 910.6,350.5 913.2,351.1 916.0,350.1 918.8,350.2 921.6,350.5 924.4,350.2 927.1,350.0 929.9,350.0 932.7,349.7 935.5,349.4 938.2,348.6 941.0,347.9 943.9,347.9 946.7,347.3 949.4,346.5 952.4,346.0 954.1,343.7 956.1,341.6 958.2,339.6 960.6,338.0 961.6,335.4 963.7,333.7 965.1,331.5 967.3,329.8 968.6,327.5 970.3,325.4 972.8,324.5 975.3,323.6 977.8,322.8 980.0,321.4 982.8,320.7 984.2,317.7 986.4,315.7 984.6,313.7 983.0,311.7 982.0,309.2 980.3,307.2 978.2,305.5 976.2,302.5 974.3,299.3 975.2,296.3 975.8,293.3 976.2,290.2 976.6,287.2 978.2,285.1 980.4,283.6 982.5,281.7 985.5,282.0 988.6,282.1 991.7,281.7 994.9,281.8 997.6,284.3 1000.8,285.6 1003.4,286.6 1006.0,286.8 1008.6,287.0 1011.2,286.5 1013.8,286.9 1016.4,287.0 1019.1,287.2 1021.8,286.0 1024.2,284.2 1026.5,282.3 1029.4,281.2 1030.6,278.5 1032.2,276.0 1033.9,273.6 1035.0,270.4 1037.8,270.4 1040.3,269.6 1042.8,268.6 1045.3,267.9 1047.7,267.2 1050.1,266.3 1052.6,266.1 1054.9,264.9 1057.5,264.8 1059.6,262.9 1061.5,260.7 1063.6,258.8 1066.1,256.9 1067.0,254.3 1067.2,251.5 1068.9,249.2 1069.7,246.7 1071.3,244.7 1073.6,243.4 1075.5,241.8 1077.6,240.1 1080.2,239.7 1082.7,239.3 1085.0,237.9 1087.6,237.7 1090.0,236.7 1092.2,235.3 1094.9,235.2 1097.2,234.1 1099.7,233.7 1102.1,232.6 1104.5,231.6 1106.8,230.2 1109.5,229.7 1111.9,228.8 1114.1,227.7 1117.1,227.7 1119.8,228.4 1122.7,228.5 1125.6,228.6 1128.2,228.9 1130.9,227.9 1133.7,227.0 1136.1,226.4 1135.8,223.6 1135.3,220.8 1134.4,218.2 1131.9,216.7 1129.7,214.8 1127.0,213.5 1124.7,211.8 1122.4,209.9 1119.9,208.9 1117.5,207.8 1115.6,205.8 1113.2,204.7 1110.7,203.7 1108.3,202.4 1106.1,201.0 1103.4,199.9 1100.4,199.3 1097.6,198.5 1095.2,197.3 1092.3,198.5 1090.3,200.9 1087.6,202.4 1085.1,204.4 1082.3,204.6 1079.4,204.9 1076.6,204.8 1073.8,205.3 1071.1,205.6 1068.7,206.3 1066.3,207.1 1063.8,207.6 1061.6,208.9 1059.2,209.8 1056.7,210.2 1054.0,208.9 1051.4,207.2 1048.2,206.3 1047.0,203.1 1045.5,200.0 1046.1,197.1 1048.1,194.8 1048.3,191.8 1049.0,189.3 1050.2,187.1 1050.7,184.5 1052.0,182.3 1052.5,179.7 1053.2,177.2 1054.0,174.7 1055.6,172.5 1056.1,169.8 1057.5,167.5 1058.1,164.9 1059.4,162.6 1059.7,159.9 1060.8,157.2 1063.8,156.7 1066.7,156.8 1069.4,157.4 1072.1,157.8 1074.8,158.2 1077.2,159.6 1079.7,160.6 1082.5,160.9 1084.8,161.1 1086.8,159.5 1088.9,157.9 1090.9,156.4 1092.9,154.6 1094.9,153.0 1097.7,151.9 1100.3,150.5 1102.3,148.3 1105.2,147.4 1107.4,145.3 1109.2,142.4 1110.5,138.9 1108.0,138.3 1104.8,138.0 1106.5,135.1 1108.1,132.2 1109.9,129.2 1109.8,126.3 1110.8,123.6 1112.3,121.1 1112.3,118.2 1113.5,115.6 1114.2,112.8 1115.9,110.5 1117.4,108.1 1117.9,105.2 1119.6,103.0 1122.0,101.7 1124.4,100.4 1126.7,98.7 1127.3,96.2 1126.9,93.6 1127.3,91.1 1127.4,88.8 1125.9,85.4 1123.6,82.5 1120.9,82.8 1118.2,82.9 1115.7,82.4 1114.0,80.4 1112.6,78.6 1114.1,75.9 1115.9,73.4 1117.4,70.7 1119.6,68.6 1121.2,66.3 1123.5,65.0 1125.7,63.6 1128.3,62.8 1130.9,61.5 1133.6,61.0 1136.5,60.9 1139.1,60.0 1141.9,59.6 1144.6,58.6 1147.2,57.1 1150.0,56.6 1152.6,55.6 1155.0,54.3 1157.7,53.5 1160.2,52.3 1162.9,51.7 1165.7,51.4 1168.2,49.7 1171.1,50.7 1174.3,50.7 1177.3,51.2 1180.3,52.4 1183.2,52.7 1186.1,53.3 1188.9,54.2 1191.5,55.6 1194.4,56.3 1197.0,55.0 1199.8,54.6 1202.4,54.7 1205.1,54.9 1207.4,56.3 1209.9,57.1 1212.2,58.5 1214.6,59.3 1216.1,61.3 1218.0,63.0 1220.0,64.6 1221.7,66.4 1223.5,68.2 1224.5,70.6 1226.8,72.5 1228.6,74.8 1229.5,77.8 1231.9,79.7 1232.9,82.5 1235.4,84.4 1236.4,86.9 1238.0,89.1 1238.7,91.8 1240.3,94.1 1241.6,96.4 1242.9,98.9 1244.8,101.0 1247.3,102.7 1249.1,104.9 1251.2,106.8 1253.6,108.7 1254.4,111.6 1256.2,114.0 1257.5,116.7 1259.6,118.8 1260.5,121.4 1261.8,123.6 1262.9,126.2 1265.5,126.8 1267.7,128.2 1270.0,129.5 1272.8,129.1 1275.7,129.7 1278.5,130.0 1281.3,129.7 1284.2,130.1 1287.0,130.1 1289.6,129.6 1292.3,129.6 1294.9,130.2 1297.6,129.4 1300.2,129.4 1303.1,130.2 1305.7,131.4 1308.4,132.4 1310.8,134.2 1313.1,135.1 1315.3,136.4 1317.5,137.6 1319.9,138.4 1322.0,139.8 1324.5,140.5 1326.8,142.7 1328.7,145.4 1330.9,147.5 1332.2,150.8 1334.0,154.0 1335.8,155.9 1338.1,157.3 1339.7,159.5 1342.2,161.3 1345.2,160.1 1348.4,160.3 1351.4,159.1 1354.5,158.3 1357.7,158.3 1360.6,157.2 1363.7,156.7 1366.0,154.6 1367.8,151.9 1370.6,150.2 1372.3,148.1 1374.4,146.5 1376.4,144.8 1378.6,143.4 1381.4,141.6 1383.8,139.4 1386.4,137.5 1388.6,136.1 1390.7,134.7 1392.5,132.9 1394.7,131.3 1398.0,131.1 1401.1,130.1 1404.4,129.5 1407.1,128.1 1409.2,126.2 1408.8,128.8 1408.2,131.4 1407.1,133.7 1408.0,136.5 1408.9,139.2 1409.9,141.9 1411.1,144.6 1409.7,147.6 1409.4,150.9 1408.3,154.0 1405.9,156.4 1403.9,159.4 1404.8,162.1 1405.2,164.8 1404.9,167.5 1406.1,170.2 1406.0,172.9 1405.6,175.6 1405.6,178.3 1406.0,181.0 1406.1,183.8 1405.5,186.2 1404.4,188.6 1404.3,191.2 1403.3,193.5 1403.0,196.1 1402.4,198.5 1402.5,201.9 1401.4,205.0 1400.7,208.0 1400.3,211.2 1400.4,214.3 1400.3,218.0 1397.5,217.9 1394.9,218.8 1392.1,219.0 1389.4,219.1 1386.7,218.5 1383.9,218.9 1381.2,219.1 1378.5,219.3 1375.8,218.9 1371.7,221.4 1370.3,223.7 1368.7,225.8 1367.5,228.0 1364.0,230.9 1365.3,234.7 1366.6,237.0 1368.4,238.8 1370.4,240.4 1371.0,243.2 1372.1,245.8 1373.3,248.4 1374.1,251.1 1375.0,253.8 1375.0,256.7 1375.4,259.5 1376.3,262.7 1377.6,265.7 1378.3,268.8 1378.0,271.5 1378.2,274.2 1378.4,276.9 1378.6,279.7 1375.8,281.6 1373.2,284.0 1369.4,284.8 1370.3,287.4 1371.3,289.8 1373.1,291.8 1370.4,291.0 1367.6,290.2 1365.0,289.1 1362.4,288.3 1359.6,288.2 1356.5,287.4 1355.2,290.6 1353.1,293.1 1352.2,296.5 1351.6,300.0 1349.2,302.4 1347.3,305.0 1345.3,306.7 1343.8,308.7 1342.4,310.9 1340.2,312.1 1337.7,312.6 1335.2,313.1 1332.8,313.8 1330.2,313.8 1327.7,314.0 1325.7,314.8 1325.8,317.6 1326.7,320.2 1328.4,322.5 1329.9,325.0 1331.6,326.7 1329.4,330.9 1326.7,331.4 1324.0,330.6 1321.2,331.5 1318.5,331.2 1315.8,330.4 1313.1,330.6 1310.4,330.3 1307.9,329.2 1305.2,328.3 1302.2,328.1 1299.7,327.1 1298.5,329.8 1297.3,332.4 1297.2,335.8 1296.5,338.9 1295.6,341.8 1293.8,344.1 1292.1,346.4 1290.5,348.9 1288.0,350.5 1285.7,352.2 1283.5,354.0 1281.5,356.1 1279.2,357.8 1277.7,360.2 1275.5,361.6 1273.0,362.7 1271.6,365.1 1269.2,367.2 1266.8,369.3 1264.7,371.7 1263.1,374.9 1262.1,378.7 1259.8,379.9 1257.2,380.6 1255.5,382.7 1252.9,383.4 1251.2,385.4 1248.5,385.7 1246.4,387.2 1244.2,388.3 1242.2,389.9 1240.0,391.1 1237.3,391.6 1235.7,393.8 1233.7,395.5 1231.2,396.6 1229.2,398.3 1227.3,400.7 1224.4,401.5 1222.3,403.6 1220.1,405.4 1217.9,407.4 1215.3,408.8 1212.6,410.0 1210.6,412.3 1208.0,413.8 1205.3,415.1 1202.6,416.5 1199.3,418.2 1196.4,419.8 1194.6,417.5 1193.7,414.8 1193.5,412.0 1193.8,409.6 1194.0,407.1 1193.5,404.5 1193.9,401.9 1196.1,399.6 1197.3,396.7 1199.2,394.1 1200.1,391.2 1201.2,388.4 1202.8,386.0 1203.3,383.3 1203.3,380.7 1203.1,378.0 1201.6,375.7 1200.4,373.3 1199.0,371.1 1195.5,370.0 1191.8,368.7 1189.9,370.9 1187.3,372.2 1184.6,373.7 1183.0,375.7 1181.8,378.2 1179.4,379.7 1177.7,381.7 1176.3,384.3 1174.2,386.2 1172.2,388.2 1170.3,390.4 1167.6,391.2 1165.9,393.3 1163.4,394.5 1162.2,397.0 1160.4,398.9 1157.9,400.1 1156.1,402.0 1154.1,403.7 1152.5,405.8 1150.8,407.8 1148.5,409.0 1146.7,411.1 1144.3,412.1 1142.2,413.6 1140.2,415.3 1137.7,416.4 1135.7,418.1 1133.5,419.3 1131.4,420.9 1129.3,423.1 1127.1,425.2 1124.7,427.1 1122.7,430.2 1121.1,433.9 1122.8,437.1 1124.7,440.6 1127.3,440.8 1129.5,442.3 1132.2,442.4 1134.4,443.0 1137.1,443.1 1139.7,443.0 1142.3,442.3 1144.9,442.3 1147.7,441.6 1149.2,444.2 1151.6,445.8 1153.6,447.9 1155.6,449.9 1155.7,453.2 1156.1,456.5 1157.2,459.6 1159.4,461.2 1161.5,463.0 1163.7,464.0 1166.9,464.4 1170.2,464.9 1173.7,464.7 1174.6,461.8 1177.0,459.7 1177.6,456.9 1179.3,454.4 1179.8,451.4 1181.3,448.6 1183.2,446.1 1184.9,443.8 1187.5,442.8 1190.3,442.7 1192.7,442.0 1195.1,443.7 1197.0,445.6 1199.5,446.2 1202.0,446.5 1204.6,446.8 1207.0,447.5 1209.5,448.1 1212.1,448.2 1214.6,448.1 1217.6,447.9 1220.6,447.7 1223.7,447.7 1226.7,446.8 1229.8,446.9 1232.8,447.4 1235.9,447.5 1239.4,447.8 1239.7,451.5 1240.2,454.8 1239.5,457.8 1238.3,460.5 1237.4,463.0 1234.7,463.7 1232.0,464.3 1229.4,465.5 1226.6,465.9 1224.1,467.7 1221.0,468.2 1218.4,469.9 1215.6,471.0 1213.0,472.1 1210.9,474.2 1208.5,475.8 1205.7,476.7 1203.4,478.5 1203.1,481.0 1202.2,483.4 1201.0,485.7 1200.4,488.4 1198.0,489.8 1196.8,492.3 1195.0,494.3 1193.2,496.2 1191.3,498.2 1189.7,500.2 1187.9,502.1 1186.3,504.1 1184.9,506.2 1183.5,508.5 1181.2,509.9 1179.8,512.1 1179.0,514.8 1177.4,516.9 1175.7,519.1 1174.2,521.9 1176.6,523.3 1178.4,525.3 1179.6,527.7 1181.3,529.6 1183.9,530.8 1186.6,531.4 1189.4,531.6 1192.1,532.3 1194.8,533.2 1197.1,534.0 1199.1,535.9 1200.3,538.2 1201.9,540.3 1202.8,542.9 1204.7,544.8 1205.2,547.6 1207.1,549.6 1208.6,552.0 1210.6,554.0 1212.0,556.4 1213.3,558.9 1214.5,561.4 1216.4,563.5 1218.0,566.1 1218.6,569.1 1220.3,571.7 1221.8,574.3 1224.6,575.0 1227.3,576.1 1229.7,577.7 1232.8,577.9 1235.0,579.7 1237.4,581.1 1240.0,582.2 1242.2,584.0 1244.4,585.3 1245.5,587.7 1246.7,590.0 1248.3,592.2 1249.6,594.6 1250.3,597.2 1250.7,599.9 1251.1,602.6 1250.6,605.3 1251.6,608.0 1251.3,611.0 1254.0,612.5 1257.1,613.1 1259.5,615.2 1262.3,615.6 1265.1,616.3 1268.0,617.4 1268.9,620.1 1269.1,622.9 1269.8,625.6 1270.0,628.3 1270.4,631.0 1271.6,633.6 1271.6,636.4 1271.9,639.2 1269.8,641.6 1267.5,643.8 1265.1,646.0 1261.0,647.4 1260.7,650.3 1260.2,653.2 1259.4,656.0 1258.5,658.7 1257.6,661.5 1257.8,664.0 1257.1,666.5 1257.5,669.1 1256.8,671.5 1256.7,674.1 1257.0,676.6 1256.2,679.0 1255.7,681.5 1254.7,683.8 1253.8,686.1 1252.9,688.4 1250.7,690.2 1248.6,692.2 1245.8,693.2 1243.4,694.7 1241.3,696.7 1240.3,699.6 1239.8,702.6 1238.3,705.3 1237.6,708.3 1237.1,710.8 1235.6,712.9 1234.5,715.2 1234.2,717.7 1232.7,719.7 1231.5,722.1 1230.2,724.5 1228.2,726.2 1226.9,728.6 1224.9,730.6 1225.3,733.5 1226.0,736.3 1225.6,739.2 1225.5,742.1 1226.0,745.0 1226.2,747.6 1226.0,750.2 1226.7,752.8 1226.8,755.4 1226.9,757.9 1225.1,760.0 1224.1,762.6 1222.6,764.9 1220.4,766.6 1219.0,769.0 1217.1,770.8 1214.7,772.0 1212.7,773.7 1211.0,775.6 1208.7,776.9 1206.8,778.7 1204.7,780.6 1202.8,782.7 1200.8,784.7 1198.2,785.9 1196.0,787.6 1194.1,789.7 1191.8,791.1 1189.6,792.6 1187.6,794.4 1185.1,795.5 1183.0,797.1 1181.0,799.2 1179.0,801.4 1176.6,802.9 1174.6,805.0 1172.4,806.4 1170.9,808.5 1168.8,810.0 1167.0,811.9 1164.9,813.4 1162.9,815.0 1161.3,817.0 1159.0,818.8 1156.5,820.1 1154.4,822.1 1152.0,823.5 1150.0,825.5 1147.6,827.3 1145.1,827.6 1142.5,827.9 1140.1,828.7 1137.8,829.7 1135.5,830.6 1133.1,831.6 1130.7,832.1 1127.8,832.8 1124.8,832.8 1122.1,834.4 1119.0,834.2 1116.3,835.4 1113.4,836.3 1110.5,837.4 1107.3,837.5 1104.7,839.1 1102.5,840.4 1100.6,842.2 1098.9,844.1 1097.0,845.8 1094.5,846.8 1092.7,848.7 1090.9,850.4 1088.4,851.2 1086.3,853.0 1083.7,853.3 1081.2,854.2 1079.0,855.7 1076.5,856.5 1073.8,857.0 1071.8,859.0 1069.1,860.0 1067.0,862.0 1064.3,863.0 1062.2,864.8 1059.6,866.0 1057.2,867.6 1054.4,867.4 1051.6,867.8 1048.8,868.3 1046.0,868.4 1043.2,869.0 1040.4,868.9 1037.6,869.7 1034.8,869.7 1031.9,870.0 1029.1,870.5 1026.4,871.1 1023.6,871.2 1021.1,871.8 1018.9,873.2 1016.3,873.7 1014.1,875.0 1011.5,875.6 1009.0,876.9 1006.5,878.3 1004.1,879.9 1001.8,881.4 999.2,882.7 996.9,884.2 994.3,886.2 995.7,888.8 996.3,891.6 996.0,894.4 995.7,897.3 995.4,900.2 994.6,902.8 992.8,905.0 990.2,906.3 988.1,907.8 985.5,907.1 982.8,906.7 980.3,905.9 978.0,904.6 977.0,902.0 975.0,899.8 973.6,897.3 972.3,894.6 972.7,891.9 971.9,889.5 971.6,886.9 971.7,884.6 972.4,881.6 973.2,878.7 974.6,875.8 971.9,874.7 969.9,872.8 967.8,870.7 964.8,870.8 961.8,870.6 959.0,869.6 956.1,869.4 952.9,869.6 950.2,871.3 947.0,871.4 944.1,872.7 941.4,871.9 938.7,872.0 936.0,871.4 933.3,871.4 930.7,871.2 927.8,871.5 924.9,871.7 922.2,872.8 919.5,873.5 916.6,873.8 913.7,874.7 911.1,873.8 908.4,872.9 905.7,872.2 903.0,871.5 900.2,871.1 897.5,869.6 894.9,867.9 892.6,865.9 889.8,864.2 888.9,861.5 887.4,859.2 886.6,856.4 885.2,854.0 885.5,851.1 885.8,848.2 885.8,845.3 883.2,845.0 880.5,844.7 877.8,844.5 875.3,843.3 872.4,843.6 869.4,844.0 866.7,843.2 864.3,842.2 862.2,840.8 859.9,839.7 857.5,838.6 855.4,836.1 852.5,835.1 849.8,835.8 847.0,836.0 844.7,837.8 841.9,838.3 840.8,840.6 839.8,843.1 838.2,844.9 835.5,846.6 832.7,848.1 829.6,848.8 826.0,848.5 822.5,846.9 820.2,848.1 818.0,849.4 816.3,851.5 813.8,852.2 810.9,852.6 807.9,852.4 805.1,852.6 802.4,853.5 799.9,854.5 797.1,854.9 794.3,856.3 792.4,854.3 789.6,854.0 787.7,851.9 785.0,851.5 782.6,850.4 780.2,848.6 777.8,850.6 775.1,852.1 772.9,853.6 770.5,854.6 768.2,856.4 765.3,855.7 762.3,855.9 759.1,855.5 757.0,858.1 754.6,859.5 753.3,862.3 752.5,865.2 752.5,868.2 754.0,870.9 755.8,873.4 757.2,876.3 758.3,879.3 759.3,882.1 757.6,886.2 754.1,885.9 750.6,885.4 747.1,886.0 743.6,885.7 742.2,882.9 741.1,879.9 740.2,876.8 738.6,874.2 736.4,871.2 734.2,872.9 732.0,874.3 729.6,875.3 725.8,879.2 723.0,877.8 720.2,876.3 717.3,875.1 714.4,873.7 711.7,871.9 709.9,869.3 708.3,866.7 706.1,865.2 703.6,864.3 701.5,862.5 698.8,862.4 696.1,862.2 693.5,861.6 690.7,861.6 687.6,859.5 689.0,856.9 689.9,854.0 691.6,851.6 692.5,848.7 693.7,846.5 695.0,844.3 696.3,842.1 698.0,840.0 695.4,838.2 692.8,836.4 690.3,835.6 688.5,833.7 686.1,832.6 683.8,831.4 682.8,828.8 681.7,826.4 680.4,824.1 679.6,821.5 678.7,818.9 677.7,816.0 676.7,813.0 675.1,810.5 672.2,809.8 669.2,809.9 666.3,810.0 663.3,810.3 660.6,811.8 657.5,811.7 654.6,812.1 651.8,813.5 648.9,813.7 649.3,811.1 648.6,808.5 649.2,805.8 649.2,803.3 649.2,800.6 649.3,797.9 649.8,795.3 650.8,792.9 651.8,790.5 653.0,788.2 654.4,786.1 656.2,784.2 657.3,781.1 659.1,778.1 661.9,777.9 663.9,776.1 666.2,775.0 670.1,772.0 671.9,769.7 673.9,767.7 676.7,766.7 678.3,764.5 679.2,761.9 680.8,759.5 680.9,756.6 682.5,754.1 682.8,751.3 683.6,748.7 684.4,746.0 685.6,743.5 685.7,740.8 685.5,738.0 685.6,735.3 684.9,732.2 685.0,728.9 684.2,725.3 680.9,725.5 677.8,725.6 674.3,721.9 674.2,718.8 673.8,715.7 673.4,712.7 673.8,709.3 671.9,707.1 670.2,704.8 668.0,702.8 665.5,701.9 663.5,700.2 661.6,699.2 658.8,699.8 656.9,701.8 654.7,703.0 653.4,705.5 653.5,708.2 653.4,711.7 654.6,715.2 651.3,715.7 648.4,717.2 645.4,717.3 642.7,716.1 640.3,714.5 638.1,712.5 635.7,710.9 633.1,709.5 630.7,707.9 628.6,705.8 626.1,704.7 623.2,703.1 620.1,703.0 617.0,702.5 614.1,701.7 611.0,702.8 607.8,703.5 604.6,704.2 602.6,706.3 600.6,708.5 597.9,709.3 595.1,709.9 592.3,710.4 589.7,711.6 586.9,712.0 584.0,713.0 581.0,714.1 578.0,714.7 574.7,714.7 572.2,716.9 569.6,718.8 566.8,720.5 564.9,722.8 563.7,725.6 562.0,728.2 559.2,728.5 556.4,729.3 553.5,729.2 550.7,729.6 548.0,729.5 545.3,729.4 542.6,729.2 539.9,728.8 537.2,729.3 534.5,728.3 531.8,729.1 529.1,728.1 526.4,728.8 523.7,727.9 521.0,728.4 517.8,728.1 517.9,725.2 517.8,722.3 517.4,719.5 517.0,716.8 517.9,714.4 518.2,712.3 515.6,711.4 512.8,711.2 510.5,710.2 509.6,707.0 509.3,703.7 508.7,700.2 506.7,698.4 504.3,697.1 501.9,695.2 499.3,696.1 496.8,697.1 494.2,696.8 491.1,696.6 488.4,695.5 485.9,693.7 483.0,693.3 480.5,691.9 477.5,691.6 474.9,690.5 472.4,689.0 469.6,688.8 466.9,688.0 464.2,687.3 461.7,687.8 458.7,688.9 456.0,690.5 453.3,692.3 450.8,694.6 448.4,697.1 448.3,699.8 447.3,702.2 446.1,704.5 445.2,706.5 442.1,708.1 438.9,708.6 437.9,706.0 438.1,703.1 437.1,700.5 437.6,697.7 438.2,694.8 438.0,691.9 438.9,688.9 436.2,687.7 433.5,686.6 430.8,686.1 427.9,686.8 425.0,687.5 421.9,687.4 419.1,688.5 416.2,689.2 413.3,689.5 410.5,689.7 407.7,690.5 404.7,690.9 402.7,689.2 400.4,687.9 397.9,687.1 395.5,686.0 393.8,683.9 391.6,682.5 389.5,681.0 387.4,679.5 385.2,677.3 382.7,678.9 380.1,680.2 377.1,681.4 374.5,679.5 372.0,677.7 369.1,676.3 368.0,673.7 366.1,671.8 364.3,669.7 361.6,667.8 358.7,666.1 355.9,664.4 353.8,661.8 351.8,659.1 349.5,658.0 347.5,656.5 344.9,656.0 342.9,654.3 340.5,653.6 338.6,652.1 336.1,650.4 334.7,647.8 332.8,645.6 333.1,642.2 332.8,639.1 329.5,638.4 326.2,637.9 323.4,637.9 320.7,638.3 317.5,639.0 316.8,635.8 315.9,632.6 315.6,629.0 313.0,628.1 310.8,626.6 308.4,625.5 306.4,623.8 304.2,622.3 301.9,621.1 299.4,619.2 297.7,616.5 295.7,614.2 293.2,612.0 293.1,609.0 291.7,606.5 290.9,603.9 288.7,602.2 286.3,600.9 283.9,599.7 281.5,597.9 278.1,598.3 274.9,598.4 272.9,600.9 270.2,602.7 267.9,605.1 266.0,602.6 263.8,600.4 261.5,598.3 259.6,596.0 257.4,594.6 255.0,593.3 253.2,591.2 250.7,590.1 248.2,589.1 246.1,587.3 243.8,586.1 242.0,582.4 240.9,579.9 238.8,578.2 237.7,575.7 235.5,574.4 232.8,573.2 230.1,572.2 227.6,570.6 225.1,569.7 223.5,567.2 221.8,564.7 220.7,561.8 221.0,559.1 220.3,556.4 221.3,553.7 221.1,551.2 222.6,548.5 223.7,545.5 221.8,543.3 220.3,540.8 217.8,538.9 218.3,536.2 218.6,533.4 219.3,530.5 222.7,530.2 225.6,528.6 228.6,528.1 229.4,530.8 229.4,533.6 230.1,536.5 232.8,537.7 235.9,539.2 237.0,536.7 239.0,535.1 240.9,533.5 241.4,530.3 242.1,527.2 242.8,523.9 242.0,521.2 241.5,518.5 240.6,515.8 239.6,513.3 238.3,510.5 237.2,507.7 235.9,505.2 236.6,502.5" fill="none" stroke="#000" stroke-width="4.8" stroke-linejoin="round"/>
<polygon points="1270.8,754.4 1273.1,755.5 1275.4,756.6 1277.7,757.7 1280.1,758.5 1282.2,759.3 1282.8,761.9 1282.1,764.4 1281.3,766.9 1281.3,769.4 1280.8,771.9 1281.3,774.6 1280.6,777.1 1280.4,779.8 1279.7,782.4 1279.3,785.0 1279.5,787.7 1278.9,790.3 1278.5,793.0 1277.5,795.5 1277.2,798.1 1277.1,800.7 1275.8,802.9 1275.7,805.5 1274.5,807.8 1274.2,810.3 1273.6,812.7 1272.1,814.9 1271.7,817.5 1270.7,819.9 1269.0,822.0 1268.1,824.4 1267.6,826.9 1266.7,829.7 1266.8,832.5 1266.4,835.3 1266.6,838.1 1265.5,840.9 1265.9,843.6 1264.4,841.2 1262.6,839.0 1260.5,837.1 1258.4,835.0 1256.2,833.0 1254.0,830.9 1251.8,828.7 1250.6,826.5 1249.4,824.1 1247.4,822.3 1246.5,819.8 1244.8,817.8 1243.3,815.7 1242.3,813.4 1241.7,810.9 1241.3,808.4 1241.2,805.8 1241.1,803.2 1240.2,800.8 1240.8,798.4 1240.9,795.6 1242.5,793.5 1243.6,791.1 1243.8,788.4 1245.5,786.2 1246.0,783.7 1247.2,781.3 1247.9,778.7 1249.2,776.4 1250.6,774.2 1252.6,772.2 1253.1,769.5 1254.9,767.5 1256.3,765.2 1257.5,763.0 1259.2,760.9 1261.4,759.2 1263.6,757.7 1265.8,756.3 1268.1,754.8" fill="none" stroke="#000" stroke-width="3.8" stroke-linejoin="round"/>
<polygon points="958.5,917.0 961.1,915.8 963.4,914.3 965.9,913.0 968.4,911.5 971.1,911.8 973.6,911.2 976.2,911.1 978.7,910.3 981.3,910.3 984.0,909.5 986.7,909.8 989.4,909.5 992.1,909.0 994.8,908.9 997.4,908.8 1000.5,909.2 1003.4,910.5 1006.0,911.5 1008.1,913.9 1009.2,916.9 1010.9,919.3 1008.9,921.5 1007.5,924.0 1005.9,926.5 1003.3,928.2 1001.3,930.5 999.6,932.9 999.5,935.7 998.9,938.3 998.1,940.9 994.9,944.6 992.5,945.6 990.7,947.4 988.9,949.2 986.6,950.4 984.1,952.4 981.1,953.7 978.5,955.5 975.9,956.3 973.2,956.6 970.6,957.0 967.9,956.0 965.3,954.9 962.3,955.0 959.4,954.0 956.6,953.1 953.5,952.7 950.9,951.5 948.1,951.1 945.9,949.7 944.9,946.7 943.9,943.9 943.0,941.2 941.3,938.9 939.9,936.1 941.9,934.3 943.4,932.0 945.3,930.0 947.8,928.2 949.7,925.9 951.3,923.2 954.1,921.4 955.8,918.6" fill="none" stroke="#000" stroke-width="4.6" stroke-linejoin="round"/>
<g stroke="#000" stroke-width="2.0">
<ellipse cx="1097.6" cy="436.0" rx="4.8" ry="4.0" fill="#ffa500"/>
<ellipse cx="1058.4" cy="765.3" rx="4.8" ry="4.0" fill="#66f2d2"/>
<ellipse cx="1064.0" cy="494.2" rx="4.8" ry="4.0" fill="#ffa500"/>
<ellipse cx="833.1" cy="696.6" rx="4.8" ry="4.0" fill="#eef040"/>
<ellipse cx="1098.5" cy="548.2" rx="4.8" ry="4.0" fill="#eef040"/>
<ellipse cx="1216.6" cy="749.6" rx="4.8" ry="4.0" fill="#3c9aff"/>
<ellipse cx="969.8" cy="925.5" rx="4.8" ry="4.0" fill="#0a0aff"/>
<ellipse cx="1063.1" cy="701.3" rx="4.8" ry="4.0" fill="#66f2d2"/>
<ellipse cx="1130.4" cy="570.4" rx="4.8" ry="4.0" fill="#66f2d2"/>
<ellipse cx="903.8" cy="527.2" rx="4.8" ry="4.0" fill="#ffa500"/>
<ellipse cx="941.1" cy="830.2" rx="4.8" ry="4.0" fill="#66f2d2"/>
<ellipse cx="921.6" cy="368.4" rx="4.8" ry="4.0" fill="#ff0000"/>
<ellipse cx="1155.8" cy="602.3" rx="4.8" ry="4.0" fill="#66f2d2"/>
<ellipse cx="427.8" cy="210.8" rx="4.8" ry="4.0" fill="#ff0000"/>
<ellipse cx="872.3" cy="787.9" rx="4.8" ry="4.0" fill="#eef040"/>
<ellipse cx="1133.6" cy="556.6" rx="4.8" ry="4.0" fill="#ffa500"/>
<ellipse cx="965.5" cy="690.5" rx="4.8" ry="4.0" fill="#66f2d2"/>
<ellipse cx="1201.0" cy="601.1" rx="4.8" ry="4.0" fill="#eef040"/>
<ellipse cx="981.1" cy="690.4" rx="4.8" ry="4.0" fill="#66f2d2"/>
<ellipse cx="986.7" cy="830.5" rx="4.8" ry="4.0" fill="#66f2d2"/>
<ellipse cx="798.0" cy="478.4" rx="4.8" ry="4.0" fill="#ff0000"/>
<ellipse cx="1143.2" cy="823.1" rx="4.8" ry="4.0" fill="#0a0aff"/>
<ellipse cx="1163.2" cy="786.0" rx="4.8" ry="4.0" fill="#66f2d2"/>
<ellipse cx="865.6" cy="794.0" rx="4.8" ry="4.0" fill="#66f2d2"/>
<ellipse cx="802.1" cy="833.2" rx="4.8" ry="4.0" fill="#eef040"/>
<ellipse cx="1001.2" cy="469.6" rx="4.8" ry="4.0" fill="#ffa500"/>
<ellipse cx="765.6" cy="546.8" rx="4.8" ry="4.0" fill="#ffa500"/>
<ellipse cx="998.0" cy="395.2" rx="4.8" ry="4.0" fill="#ffa500"/>
<ellipse cx="987.4" cy="912.7" rx="4.8" ry="4.0" fill="#0a0aff"/>
<ellipse cx="1247.5" cy="672.5" rx="4.8" ry="4.0" fill="#66f2d2"/>
<ellipse cx="924.8" cy="395.7" rx="4.8" ry="4.0" fill="#ff0000"/>
<ellipse cx="639.6" cy="311.2" rx="4.8" ry="4.0" fill="#ff0000"/>
<ellipse cx="1100.4" cy="567.7" rx="4.8" ry="4.0" fill="#eef040"/>
<ellipse cx="1242.6" cy="240.6" rx="4.8" ry="4.0" fill="#ff0000"/>
<ellipse cx="796.0" cy="615.0" rx="4.8" ry="4.0" fill="#eef040"/>
<ellipse cx="1196.1" cy="662.7" rx="4.8" ry="4.0" fill="#66f2d2"/>
<ellipse cx="681.5" cy="818.5" rx="4.8" ry="4.0" fill="#3c9aff"/>
<ellipse cx="1001.6" cy="744.0" rx="4.8" ry="4.0" fill="#66f2d2"/>
<ellipse cx="1156.2" cy="574.5" rx="4.8" ry="4.0" fill="#eef040"/>
<ellipse cx="1098.8" cy="736.5" rx="4.8" ry="4.0" fill="#66f2d2"/>
<ellipse cx="1082.9" cy="770.0" rx="4.8" ry="4.0" fill="#3c9aff"/>
<ellipse cx="1060.7" cy="468.2" rx="4.8" ry="4.0" fill="#ff0000"/>
<ellipse cx="1004.5" cy="584.3" rx="4.8" ry="4.0" fill="#ffa500"/>
<ellipse cx="1002.4" cy="422.0" rx="4.8" ry="4.0" fill="#ffa500"/>
<ellipse cx="1015.4" cy="737.5" rx="4.8" ry="4.0" fill="#eef040"/>
<ellipse cx="1085.1" cy="397.2" rx="4.8" ry="4.0" fill="#ffa500"/>
<ellipse cx="995.9" cy="686.5" rx="4.8" ry="4.0" fill="#66f2d2"/>
<ellipse cx="1169.2" cy="653.7" rx="4.8" ry="4.0" fill="#3c9aff"/>
<ellipse cx="935.5" cy="544.0" rx="4.8" ry="4.0" fill="#ffa500"/>
<ellipse cx="883.1" cy="434.5" rx="4.8" ry="4.0" fill="#ff0000"/>
<ellipse cx="1147.4" cy="122.4" rx="4.8" ry="4.0" fill="#ffa500"/>
<ellipse cx="895.0" cy="393.8" rx="4.8" ry="4.0" fill="#ff0000"/>
<ellipse cx="1052.3" cy="593.5" rx="4.8" ry="4.0" fill="#eef040"/>
<ellipse cx="991.9" cy="531.3" rx="4.8" ry="4.0" fill="#ffa500"/>
<ellipse cx="699.9" cy="735.7" rx="4.8" ry="4.0" fill="#eef040"/>
<ellipse cx="972.3" cy="747.7" rx="4.8" ry="4.0" fill="#66f2d2"/>
<ellipse cx="1172.4" cy="355.3" rx="4.8" ry="4.0" fill="#ff0000"/>
<ellipse cx="1139.8" cy="568.9" rx="4.8" ry="4.0" fill="#66f2d2"/>
<ellipse cx="1183.7" cy="784.6" rx="4.8" ry="4.0" fill="#3c9aff"/>
<ellipse cx="1057.3" cy="557.5" rx="4.8" ry="4.0" fill="#ffa500"/>
<ellipse cx="884.5" cy="587.3" rx="4.8" ry="4.0" fill="#ffa500"/>
<ellipse cx="1013.3" cy="426.8" rx="4.8" ry="4.0" fill="#ffa500"/>
<ellipse cx="1030.8" cy="667.9" rx="4.8" ry="4.0" fill="#66f2d2"/>
<ellipse cx="1191.6" cy="709.7" rx="4.8" ry="4.0" fill="#3c9aff"/>
<ellipse cx="1181.0" cy="568.0" rx="4.8" ry="4.0" fill="#eef040"/>
<ellipse cx="825.0" cy="648.0" rx="4.8" ry="4.0" fill="#66f2d2"/>
<ellipse cx="1082.6" cy="789.4" rx="4.8" ry="4.0" fill="#66f2d2"/>
<ellipse cx="954.3" cy="826.4" rx="4.8" ry="4.0" fill="#66f2d2"/>
<ellipse cx="464.2" cy="669.6" rx="4.8" ry="4.0" fill="#ff0000"/>
<ellipse cx="976.2" cy="424.0" rx="4.8" ry="4.0" fill="#ffa500"/>
<ellipse cx="922.6" cy="535.5" rx="4.8" ry="4.0" fill="#ffa500"/>
<ellipse cx="1195.8" cy="777.3" rx="4.8" ry="4.0" fill="#66f2d2"/>
<ellipse cx="622.3" cy="640.5" rx="4.8" ry="4.0" fill="#ffa500"/>
<ellipse cx="1058.2" cy="607.6" rx="4.8" ry="4.0" fill="#eef040"/>
<ellipse cx="929.1" cy="810.0" rx="4.8" ry="4.0" fill="#3c9aff"/>
<ellipse cx="924.4" cy="527.1" rx="4.8" ry="4.0" fill="#ffa500"/>
<ellipse cx="925.2" cy="832.8" rx="4.8" ry="4.0" fill="#66f2d2"/>
<ellipse cx="1021.7" cy="652.8" rx="4.8" ry="4.0" fill="#eef040"/>
<ellipse cx="1181.7" cy="668.6" rx="4.8" ry="4.0" fill="#66f2d2"/>
<ellipse cx="899.3" cy="693.7" rx="4.8" ry="4.0" fill="#eef040"/>
<ellipse cx="1154.2" cy="765.6" rx="4.8" ry="4.0" fill="#3c9aff"/>
<ellipse cx="692.7" cy="835.2" rx="4.8" ry="4.0" fill="#3c9aff"/>
<ellipse cx="1044.8" cy="845.9" rx="4.8" ry="4.0" fill="#3c9aff"/>
<ellipse cx="807.5" cy="548.1" rx="4.8" ry="4.0" fill="#ffa500"/>
<ellipse cx="1100.2" cy="442.3" rx="4.8" ry="4.0" fill="#ff0000"/>
<ellipse cx="1200.1" cy="754.7" rx="4.8" ry="4.0" fill="#3c9aff"/>
<ellipse cx="1139.1" cy="547.3" rx="4.8" ry="4.0" fill="#eef040"/>
<ellipse cx="974.6" cy="947.1" rx="4.8" ry="4.0" fill="#0a0aff"/>
<ellipse cx="779.8" cy="796.7" rx="4.8" ry="4.0" fill="#eef040"/>
<ellipse cx="836.5" cy="831.8" rx="4.8" ry="4.0" fill="#66f2d2"/>
<ellipse cx="1264.8" cy="628.1" rx="4.8" ry="4.0" fill="#3c9aff"/>
<ellipse cx="1005.0" cy="392.8" rx="4.8" ry="4.0" fill="#ffa500"/>
<ellipse cx="1049.3" cy="836.0" rx="4.8" ry="4.0" fill="#0a0aff"/>
<ellipse cx="944.9" cy="576.2" rx="4.8" ry="4.0" fill="#ffa500"/>
<ellipse cx="1240.6" cy="301.4" rx="4.8" ry="4.0" fill="#ffa500"/>
<ellipse cx="964.4" cy="728.4" rx="4.8" ry="4.0" fill="#eef040"/>
<ellipse cx="912.3" cy="552.2" rx="4.8" ry="4.0" fill="#ffa500"/>
<ellipse cx="1185.4" cy="616.2" rx="4.8" ry="4.0" fill="#66f2d2"/>
<ellipse cx="1119.9" cy="438.2" rx="4.8" ry="4.0" fill="#ffa500"/>
<ellipse cx="961.0" cy="728.1" rx="4.8" ry="4.0" fill="#eef040"/>
<ellipse cx="514.7" cy="588.5" rx="4.8" ry="4.0" fill="#ffa500"/>
<ellipse cx="920.7" cy="722.5" rx="4.8" ry="4.0" fill="#eef040"/>
<ellipse cx="555.2" cy="261.4" rx="4.8" ry="4.0" fill="#ff0000"/>
<ellipse cx="1216.9" cy="335.1" rx="4.8" ry="4.0" fill="#ff0000"/>
<ellipse cx="944.2" cy="937.0" rx="4.8" ry="4.0" fill="#66f2d2"/>
<ellipse cx="815.6" cy="531.8" rx="4.8" ry="4.0" fill="#ffa500"/>
<ellipse cx="986.6" cy="319.7" rx="4.8" ry="4.0" fill="#ff0000"/>
<ellipse cx="1122.1" cy="522.6" rx="4.8" ry="4.0" fill="#eef040"/>
<ellipse cx="1122.8" cy="485.5" rx="4.8" ry="4.0" fill="#ffa500"/>
<ellipse cx="1017.3" cy="641.1" rx="4.8" ry="4.0" fill="#eef040"/>
<ellipse cx="1117.4" cy="685.0" rx="4.8" ry="4.0" fill="#3c9aff"/>
<ellipse cx="417.4" cy="425.3" rx="4.8" ry="4.0" fill="#ff0000"/>
<ellipse cx="1268.3" cy="225.1" rx="4.8" ry="4.0" fill="#ffa500"/>
<ellipse cx="1285.1" cy="260.9" rx="4.8" ry="4.0" fill="#ffa500"/>
<ellipse cx="921.0" cy="824.5" rx="4.8" ry="4.0" fill="#3c9aff"/>
<ellipse cx="1013.9" cy="743.2" rx="4.8" ry="4.0" fill="#eef040"/>
<ellipse cx="1288.5" cy="193.3" rx="4.8" ry="4.0" fill="#ffa500"/>
<ellipse cx="630.3" cy="554.7" rx="4.8" ry="4.0" fill="#ffa500"/>
<ellipse cx="1175.7" cy="626.6" rx="4.8" ry="4.0" fill="#3c9aff"/>
<ellipse cx="1392.9" cy="201.6" rx="4.8" ry="4.0" fill="#ffa500"/>
<ellipse cx="1102.9" cy="586.3" rx="4.8" ry="4.0" fill="#eef040"/>
<ellipse cx="361.7" cy="266.9" rx="4.8" ry="4.0" fill="#ff0000"/>
<ellipse cx="930.1" cy="594.5" rx="4.8" ry="4.0" fill="#eef040"/>
<ellipse cx="992.1" cy="425.9" rx="4.8" ry="4.0" fill="#ffa500"/>
<ellipse cx="860.2" cy="770.4" rx="4.8" ry="4.0" fill="#66f2d2"/>
<ellipse cx="880.4" cy="767.0" rx="4.8" ry="4.0" fill="#66f2d2"/>
<ellipse cx="904.1" cy="833.6" rx="4.8" ry="4.0" fill="#66f2d2"/>
<ellipse cx="1296.8" cy="218.2" rx="4.8" ry="4.0" fill="#eef040"/>
<ellipse cx="1048.2" cy="675.3" rx="4.8" ry="4.0" fill="#66f2d2"/>
<ellipse cx="962.6" cy="711.7" rx="4.8" ry="4.0" fill="#66f2d2"/>
<ellipse cx="1043.8" cy="655.8" rx="4.8" ry="4.0" fill="#eef040"/>
<ellipse cx="810.2" cy="712.2" rx="4.8" ry="4.0" fill="#ffa500"/>
<ellipse cx="1054.2" cy="818.3" rx="4.8" ry="4.0" fill="#3c9aff"/>
<ellipse cx="731.0" cy="642.5" rx="4.8" ry="4.0" fill="#ffa500"/>
<ellipse cx="1211.1" cy="604.0" rx="4.8" ry="4.0" fill="#66f2d2"/>
<ellipse cx="967.8" cy="944.4" rx="4.8" ry="4.0" fill="#0a0aff"/>
<ellipse cx="384.5" cy="326.9" rx="4.8" ry="4.0" fill="#ff0000"/>
<ellipse cx="969.3" cy="553.9" rx="4.8" ry="4.0" fill="#ffa500"/>
<ellipse cx="978.8" cy="662.5" rx="4.8" ry="4.0" fill="#3c9aff"/>
<ellipse cx="803.4" cy="808.2" rx="4.8" ry="4.0" fill="#66f2d2"/>
<ellipse cx="842.6" cy="731.8" rx="4.8" ry="4.0" fill="#eef040"/>
<ellipse cx="981.8" cy="815.1" rx="4.8" ry="4.0" fill="#66f2d2"/>
<ellipse cx="994.4" cy="783.6" rx="4.8" ry="4.0" fill="#66f2d2"/>
<ellipse cx="632.0" cy="323.0" rx="4.8" ry="4.0" fill="#ff0000"/>
<ellipse cx="1002.5" cy="641.9" rx="4.8" ry="4.0" fill="#66f2d2"/>
<ellipse cx="1311.3" cy="314.3" rx="4.8" ry="4.0" fill="#eef040"/>
<ellipse cx="825.0" cy="668.3" rx="4.8" ry="4.0" fill="#eef040"/>
<ellipse cx="571.2" cy="521.8" rx="4.8" ry="4.0" fill="#ffa500"/>
<ellipse cx="1015.8" cy="667.4" rx="4.8" ry="4.0" fill="#3c9aff"/>
<ellipse cx="1041.3" cy="558.1" rx="4.8" ry="4.0" fill="#ffa500"/>
<ellipse cx="1062.0" cy="709.9" rx="4.8" ry="4.0" fill="#eef040"/>
<ellipse cx="1066.5" cy="612.4" rx="4.8" ry="4.0" fill="#eef040"/>
<ellipse cx="1138.0" cy="504.4" rx="4.8" ry="4.0" fill="#ffa500"/>
<ellipse cx="1118.3" cy="451.3" rx="4.8" ry="4.0" fill="#ffa500"/>
<ellipse cx="898.5" cy="489.8" rx="4.8" ry="4.0" fill="#ff0000"/>
<ellipse cx="1155.1" cy="592.5" rx="4.8" ry="4.0" fill="#66f2d2"/>
<ellipse cx="229.2" cy="342.9" rx="4.8" ry="4.0" fill="#ff0000"/>
<ellipse cx="1031.7" cy="691.3" rx="4.8" ry="4.0" fill="#66f2d2"/>
<ellipse cx="1081.2" cy="528.7" rx="4.8" ry="4.0" fill="#ffa500"/>
<ellipse cx="1248.7" cy="185.9" rx="4.8" ry="4.0" fill="#ffa500"/>
<ellipse cx="1092.4" cy="672.7" rx="4.8" ry="4.0" fill="#66f2d2"/>
<ellipse cx="1061.6" cy="435.1" rx="4.8" ry="4.0" fill="#ffa500"/>
<ellipse cx="934.3" cy="789.3" rx="4.8" ry="4.0" fill="#66f2d2"/>
<ellipse cx="1159.6" cy="488.7" rx="4.8" ry="4.0" fill="#eef040"/>
<ellipse cx="450.3" cy="616.1" rx="4.8" ry="4.0" fill="#ffa500"/>
<ellipse cx="1197.5" cy="560.8" rx="4.8" ry="4.0" fill="#eef040"/>
<ellipse cx="1099.4" cy="745.3" rx="4.8" ry="4.0" fill="#66f2d2"/>
<ellipse cx="1218.4" cy="728.9" rx="4.8" ry="4.0" fill="#3c9aff"/>
<ellipse cx="1124.1" cy="581.6" rx="4.8" ry="4.0" fill="#66f2d2"/>
<ellipse cx="686.4" cy="767.5" rx="4.8" ry="4.0" fill="#eef040"/>
<ellipse cx="1373.0" cy="190.3" rx="4.8" ry="4.0" fill="#ffa500"/>
<ellipse cx="966.4" cy="572.8" rx="4.8" ry="4.0" fill="#ffa500"/>
<ellipse cx="1094.3" cy="449.8" rx="4.8" ry="4.0" fill="#ffa500"/>
<ellipse cx="1238.5" cy="310.8" rx="4.8" ry="4.0" fill="#ffa500"/>
<ellipse cx="885.8" cy="808.9" rx="4.8" ry="4.0" fill="#0a0aff"/>
<ellipse cx="1066.1" cy="411.6" rx="4.8" ry="4.0" fill="#ff0000"/>
<ellipse cx="1008.6" cy="765.7" rx="4.8" ry="4.0" fill="#66f2d2"/>
<ellipse cx="1012.4" cy="694.5" rx="4.8" ry="4.0" fill="#66f2d2"/>
<ellipse cx="814.2" cy="779.2" rx="4.8" ry="4.0" fill="#eef040"/>
<ellipse cx="1185.7" cy="556.5" rx="4.8" ry="4.0" fill="#eef040"/>
<ellipse cx="1238.6" cy="594.9" rx="4.8" ry="4.0" fill="#eef040"/>
<ellipse cx="764.1" cy="774.2" rx="4.8" ry="4.0" fill="#ffa500"/>
<ellipse cx="1193.5" cy="604.9" rx="4.8" ry="4.0" fill="#3c9aff"/>
<ellipse cx="1049.3" cy="733.0" rx="4.8" ry="4.0" fill="#66f2d2"/>
<ellipse cx="788.6" cy="794.7" rx="4.8" ry="4.0" fill="#eef040"/>
<ellipse cx="1005.1" cy="790.7" rx="4.8" ry="4.0" fill="#66f2d2"/>
<ellipse cx="1144.2" cy="453.1" rx="4.8" ry="4.0" fill="#eef040"/>
<ellipse cx="1039.7" cy="534.6" rx="4.8" ry="4.0" fill="#ffa500"/>
<ellipse cx="455.4" cy="647.3" rx="4.8" ry="4.0" fill="#ffa500"/>
<ellipse cx="1043.2" cy="564.7" rx="4.8" ry="4.0" fill="#eef040"/>
<ellipse cx="1176.5" cy="558.4" rx="4.8" ry="4.0" fill="#eef040"/>
<ellipse cx="1100.4" cy="672.4" rx="4.8" ry="4.0" fill="#66f2d2"/>
<ellipse cx="961.8" cy="807.0" rx="4.8" ry="4.0" fill="#66f2d2"/>
<ellipse cx="810.9" cy="630.5" rx="4.8" ry="4.0" fill="#ffa500"/>
<ellipse cx="1016.1" cy="602.6" rx="4.8" ry="4.0" fill="#eef040"/>
<ellipse cx="1351.6" cy="189.2" rx="4.8" ry="4.0" fill="#ffa500"/>
<ellipse cx="699.9" cy="767.5" rx="4.8" ry="4.0" fill="#ffa500"/>
<ellipse cx="1141.0" cy="510.4" rx="4.8" ry="4.0" fill="#ffa500"/>
<ellipse cx="1102.4" cy="641.7" rx="4.8" ry="4.0" fill="#eef040"/>
<ellipse cx="982.5" cy="631.6" rx="4.8" ry="4.0" fill="#eef040"/>
<ellipse cx="1104.0" cy="792.0" rx="4.8" ry="4.0" fill="#66f2d2"/>
<ellipse cx="997.7" cy="661.6" rx="4.8" ry="4.0" fill="#66f2d2"/>
<ellipse cx="841.2" cy="791.3" rx="4.8" ry="4.0" fill="#66f2d2"/>
<ellipse cx="1149.2" cy="707.2" rx="4.8" ry="4.0" fill="#3c9aff"/>
<ellipse cx="995.4" cy="844.2" rx="4.8" ry="4.0" fill="#3c9aff"/>
<ellipse cx="1039.9" cy="367.7" rx="4.8" ry="4.0" fill="#ffa500"/>
<ellipse cx="530.8" cy="291.8" rx="4.8" ry="4.0" fill="#ff0000"/>
<ellipse cx="1084.0" cy="636.1" rx="4.8" ry="4.0" fill="#eef040"/>
<ellipse cx="1165.5" cy="530.1" rx="4.8" ry="4.0" fill="#eef040"/>
<ellipse cx="1101.4" cy="697.1" rx="4.8" ry="4.0" fill="#66f2d2"/>
<ellipse cx="924.7" cy="571.5" rx="4.8" ry="4.0" fill="#eef040"/>
<ellipse cx="858.8" cy="444.7" rx="4.8" ry="4.0" fill="#ff0000"/>
<ellipse cx="1094.5" cy="783.3" rx="4.8" ry="4.0" fill="#66f2d2"/>
<ellipse cx="944.7" cy="567.4" rx="4.8" ry="4.0" fill="#ffa500"/>
<ellipse cx="1046.3" cy="583.6" rx="4.8" ry="4.0" fill="#eef040"/>
<ellipse cx="1092.7" cy="594.5" rx="4.8" ry="4.0" fill="#eef040"/>
<ellipse cx="1096.2" cy="702.9" rx="4.8" ry="4.0" fill="#66f2d2"/>
<ellipse cx="966.5" cy="932.9" rx="4.8" ry="4.0" fill="#0a0aff"/>
<ellipse cx="933.3" cy="607.3" rx="4.8" ry="4.0" fill="#ffa500"/>
<ellipse cx="1284.5" cy="286.5" rx="4.8" ry="4.0" fill="#eef040"/>
<ellipse cx="746.7" cy="525.0" rx="4.8" ry="4.0" fill="#eef040"/>
<ellipse cx="485.1" cy="609.6" rx="4.8" ry="4.0" fill="#ffa500"/>
<ellipse cx="572.1" cy="317.1" rx="4.8" ry="4.0" fill="#ff0000"/>
<ellipse cx="1009.9" cy="591.3" rx="4.8" ry="4.0" fill="#ffa500"/>
<ellipse cx="1100.7" cy="720.8" rx="4.8" ry="4.0" fill="#66f2d2"/>
<ellipse cx="791.3" cy="673.0" rx="4.8" ry="4.0" fill="#66f2d2"/>
<ellipse cx="956.1" cy="803.8" rx="4.8" ry="4.0" fill="#66f2d2"/>
<ellipse cx="1139.1" cy="756.8" rx="4.8" ry="4.0" fill="#3c9aff"/>
<ellipse cx="1109.7" cy="410.6" rx="4.8" ry="4.0" fill="#ffa500"/>
<ellipse cx="1188.9" cy="749.2" rx="4.8" ry="4.0" fill="#3c9aff"/>
<ellipse cx="979.7" cy="487.7" rx="4.8" ry="4.0" fill="#ffa500"/>
<ellipse cx="1241.4" cy="675.1" rx="4.8" ry="4.0" fill="#3c9aff"/>
<ellipse cx="1151.6" cy="530.3" rx="4.8" ry="4.0" fill="#ffa500"/>
<ellipse cx="1178.8" cy="766.7" rx="4.8" ry="4.0" fill="#66f2d2"/>
<ellipse cx="1121.3" cy="374.8" rx="4.8" ry="4.0" fill="#ffa500"/>
<ellipse cx="1179.8" cy="636.1" rx="4.8" ry="4.0" fill="#66f2d2"/>
<ellipse cx="799.4" cy="798.7" rx="4.8" ry="4.0" fill="#eef040"/>
<ellipse cx="898.6" cy="562.9" rx="4.8" ry="4.0" fill="#eef040"/>
<ellipse cx="1230.4" cy="331.8" rx="4.8" ry="4.0" fill="#ffa500"/>
<ellipse cx="1192.3" cy="654.1" rx="4.8" ry="4.0" fill="#66f2d2"/>
<ellipse cx="818.3" cy="797.4" rx="4.8" ry="4.0" fill="#66f2d2"/>
<ellipse cx="1198.7" cy="252.8" rx="4.8" ry="4.0" fill="#ff0000"/>
<ellipse cx="1277.0" cy="307.5" rx="4.8" ry="4.0" fill="#eef040"/>
<ellipse cx="996.4" cy="835.4" rx="4.8" ry="4.0" fill="#66f2d2"/>
<ellipse cx="984.0" cy="948.5" rx="4.8" ry="4.0" fill="#66f2d2"/>
<ellipse cx="1148.5" cy="568.2" rx="4.8" ry="4.0" fill="#66f2d2"/>
<ellipse cx="940.0" cy="448.9" rx="4.8" ry="4.0" fill="#ffa500"/>
<ellipse cx="868.3" cy="534.5" rx="4.8" ry="4.0" fill="#ffa500"/>
<ellipse cx="1023.3" cy="565.1" rx="4.8" ry="4.0" fill="#eef040"/>
<ellipse cx="995.0" cy="794.0" rx="4.8" ry="4.0" fill="#66f2d2"/>
<ellipse cx="761.6" cy="364.3" rx="4.8" ry="4.0" fill="#ff0000"/>
<ellipse cx="945.2" cy="872.3" rx="4.8" ry="4.0" fill="#0a0aff"/>
<ellipse cx="1217.9" cy="568.8" rx="4.8" ry="4.0" fill="#66f2d2"/>
<ellipse cx="1220.7" cy="747.7" rx="4.8" ry="4.0" fill="#66f2d2"/>
<ellipse cx="783.2" cy="751.5" rx="4.8" ry="4.0" fill="#eef040"/>
<ellipse cx="830.4" cy="775.8" rx="4.8" ry="4.0" fill="#eef040"/>
<ellipse cx="1058.5" cy="620.6" rx="4.8" ry="4.0" fill="#eef040"/>
<ellipse cx="1045.8" cy="810.7" rx="4.8" ry="4.0" fill="#3c9aff"/>
<ellipse cx="759.3" cy="765.4" rx="4.8" ry="4.0" fill="#ffa500"/>
<ellipse cx="382.0" cy="396.9" rx="4.8" ry="4.0" fill="#ff0000"/>
<ellipse cx="1063.8" cy="722.5" rx="4.8" ry="4.0" fill="#eef040"/>
<ellipse cx="357.4" cy="569.6" rx="4.8" ry="4.0" fill="#ff0000"/>
<ellipse cx="1153.1" cy="775.6" rx="4.8" ry="4.0" fill="#3c9aff"/>
<ellipse cx="349.0" cy="440.5" rx="4.8" ry="4.0" fill="#ff0000"/>
<ellipse cx="1165.0" cy="277.1" rx="4.8" ry="4.0" fill="#ffa500"/>
<ellipse cx="1238.5" cy="295.3" rx="4.8" ry="4.0" fill="#ffa500"/>
<ellipse cx="1215.2" cy="368.1" rx="4.8" ry="4.0" fill="#ffa500"/>
<ellipse cx="1101.6" cy="710.4" rx="4.8" ry="4.0" fill="#66f2d2"/>
<ellipse cx="715.7" cy="817.6" rx="4.8" ry="4.0" fill="#eef040"/>
<ellipse cx="1186.6" cy="357.5" rx="4.8" ry="4.0" fill="#ff0000"/>
<ellipse cx="900.4" cy="769.4" rx="4.8" ry="4.0" fill="#66f2d2"/>
<ellipse cx="1066.5" cy="820.5" rx="4.8" ry="4.0" fill="#0a0aff"/>
<ellipse cx="1033.0" cy="728.7" rx="4.8" ry="4.0" fill="#66f2d2"/>
<ellipse cx="1024.8" cy="498.5" rx="4.8" ry="4.0" fill="#ffa500"/>
<ellipse cx="1138.4" cy="691.3" rx="4.8" ry="4.0" fill="#3c9aff"/>
<ellipse cx="881.8" cy="445.3" rx="4.8" ry="4.0" fill="#ff0000"/>
<ellipse cx="942.3" cy="627.9" rx="4.8" ry="4.0" fill="#eef040"/>
<ellipse cx="799.4" cy="757.6" rx="4.8" ry="4.0" fill="#ffa500"/>
<ellipse cx="1019.9" cy="728.0" rx="4.8" ry="4.0" fill="#eef040"/>
<ellipse cx="723.1" cy="441.6" rx="4.8" ry="4.0" fill="#ff0000"/>
<ellipse cx="918.7" cy="598.8" rx="4.8" ry="4.0" fill="#eef040"/>
<ellipse cx="1115.2" cy="632.2" rx="4.8" ry="4.0" fill="#66f2d2"/>
<ellipse cx="501.2" cy="291.0" rx="4.8" ry="4.0" fill="#ffa500"/>
<ellipse cx="1073.7" cy="785.2" rx="4.8" ry="4.0" fill="#66f2d2"/>
<ellipse cx="796.0" cy="507.5" rx="4.8" ry="4.0" fill="#ffa500"/>
<ellipse cx="984.2" cy="568.5" rx="4.8" ry="4.0" fill="#ffa500"/>
<ellipse cx="1062.4" cy="448.4" rx="4.8" ry="4.0" fill="#ff0000"/>
<ellipse cx="964.0" cy="836.4" rx="4.8" ry="4.0" fill="#66f2d2"/>
<ellipse cx="1066.3" cy="458.2" rx="4.8" ry="4.0" fill="#ff0000"/>
<ellipse cx="1139.9" cy="525.2" rx="4.8" ry="4.0" fill="#ffa500"/>
<ellipse cx="875.0" cy="708.8" rx="4.8" ry="4.0" fill="#66f2d2"/>
<ellipse cx="1108.7" cy="747.6" rx="4.8" ry="4.0" fill="#66f2d2"/>
<ellipse cx="506.3" cy="319.6" rx="4.8" ry="4.0" fill="#ff0000"/>
<ellipse cx="997.9" cy="344.9" rx="4.8" ry="4.0" fill="#ff0000"/>
<ellipse cx="993.3" cy="446.2" rx="4.8" ry="4.0" fill="#ffa500"/>
<ellipse cx="1150.2" cy="793.5" rx="4.8" ry="4.0" fill="#66f2d2"/>
<ellipse cx="1060.1" cy="791.9" rx="4.8" ry="4.0" fill="#3c9aff"/>
<ellipse cx="1007.3" cy="753.5" rx="4.8" ry="4.0" fill="#eef040"/>
<ellipse cx="1114.6" cy="475.7" rx="4.8" ry="4.0" fill="#ffa500"/>
<ellipse cx="1204.2" cy="636.1" rx="4.8" ry="4.0" fill="#3c9aff"/>
<ellipse cx="1101.8" cy="496.8" rx="4.8" ry="4.0" fill="#ffa500"/>
<ellipse cx="1076.7" cy="422.6" rx="4.8" ry="4.0" fill="#ff0000"/>
<ellipse cx="1058.5" cy="460.3" rx="4.8" ry="4.0" fill="#ffa500"/>
<ellipse cx="1229.1" cy="651.8" rx="4.8" ry="4.0" fill="#66f2d2"/>
<ellipse cx="1088.3" cy="608.4" rx="4.8" ry="4.0" fill="#66f2d2"/>
<ellipse cx="915.5" cy="871.4" rx="4.8" ry="4.0" fill="#3c9aff"/>
<ellipse cx="1113.5" cy="612.1" rx="4.8" ry="4.0" fill="#3c9aff"/>
<ellipse cx="1053.3" cy="709.7" rx="4.8" ry="4.0" fill="#66f2d2"/>
<ellipse cx="917.3" cy="494.2" rx="4.8" ry="4.0" fill="#ffa500"/>
<ellipse cx="1155.7" cy="609.1" rx="4.8" ry="4.0" fill="#eef040"/>
<ellipse cx="697.8" cy="488.9" rx="4.8" ry="4.0" fill="#ff0000"/>
<ellipse cx="1112.2" cy="571.1" rx="4.8" ry="4.0" fill="#eef040"/>
<ellipse cx="469.1" cy="211.6" rx="4.8" ry="4.0" fill="#ff0000"/>
<ellipse cx="1254.1" cy="279.8" rx="4.8" ry="4.0" fill="#ffa500"/>
<ellipse cx="982.0" cy="688.7" rx="4.8" ry="4.0" fill="#66f2d2"/>
<ellipse cx="956.9" cy="819.7" rx="4.8" ry="4.0" fill="#66f2d2"/>
<ellipse cx="1248.5" cy="630.8" rx="4.8" ry="4.0" fill="#3c9aff"/>
<ellipse cx="1052.8" cy="467.9" rx="4.8" ry="4.0" fill="#ffa500"/>
<ellipse cx="830.4" cy="627.8" rx="4.8" ry="4.0" fill="#3c9aff"/>
<ellipse cx="1098.1" cy="581.9" rx="4.8" ry="4.0" fill="#eef040"/>
<ellipse cx="783.2" cy="512.2" rx="4.8" ry="4.0" fill="#ffa500"/>
<ellipse cx="1220.5" cy="598.3" rx="4.8" ry="4.0" fill="#66f2d2"/>
<ellipse cx="1111.6" cy="714.2" rx="4.8" ry="4.0" fill="#66f2d2"/>
<ellipse cx="1156.8" cy="663.6" rx="4.8" ry="4.0" fill="#3c9aff"/>
<ellipse cx="1404.2" cy="171.5" rx="4.8" ry="4.0" fill="#ffa500"/>
<ellipse cx="688.5" cy="504.1" rx="4.8" ry="4.0" fill="#ff0000"/>
<ellipse cx="1068.9" cy="184.8" rx="4.8" ry="4.0" fill="#ff0000"/>
<ellipse cx="1035.0" cy="677.2" rx="4.8" ry="4.0" fill="#66f2d2"/>
<ellipse cx="1140.0" cy="161.6" rx="4.8" ry="4.0" fill="#ffa500"/>
<ellipse cx="1241.0" cy="687.8" rx="4.8" ry="4.0" fill="#3c9aff"/>
<ellipse cx="927.8" cy="688.8" rx="4.8" ry="4.0" fill="#66f2d2"/>
<ellipse cx="1150.8" cy="297.3" rx="4.8" ry="4.0" fill="#ff0000"/>
<ellipse cx="1152.3" cy="508.5" rx="4.8" ry="4.0" fill="#eef040"/>
<ellipse cx="987.9" cy="786.6" rx="4.8" ry="4.0" fill="#66f2d2"/>
<ellipse cx="1194.0" cy="697.2" rx="4.8" ry="4.0" fill="#eef040"/>
<ellipse cx="846.6" cy="676.4" rx="4.8" ry="4.0" fill="#eef040"/>
<ellipse cx="1194.1" cy="587.9" rx="4.8" ry="4.0" fill="#66f2d2"/>
<ellipse cx="1084.7" cy="672.5" rx="4.8" ry="4.0" fill="#3c9aff"/>
<ellipse cx="700.4" cy="440.8" rx="4.8" ry="4.0" fill="#ff0000"/>
<ellipse cx="1059.4" cy="802.8" rx="4.8" ry="4.0" fill="#0a0aff"/>
<ellipse cx="760.2" cy="497.3" rx="4.8" ry="4.0" fill="#ffa500"/>
<ellipse cx="1186.2" cy="584.7" rx="4.8" ry="4.0" fill="#66f2d2"/>
<ellipse cx="1133.2" cy="727.3" rx="4.8" ry="4.0" fill="#66f2d2"/>
<ellipse cx="831.8" cy="707.5" rx="4.8" ry="4.0" fill="#eef040"/>
<ellipse cx="1138.3" cy="659.3" rx="4.8" ry="4.0" fill="#3c9aff"/>
<ellipse cx="1123.5" cy="656.2" rx="4.8" ry="4.0" fill="#66f2d2"/>
<ellipse cx="1083.5" cy="658.0" rx="4.8" ry="4.0" fill="#eef040"/>
<ellipse cx="770.8" cy="751.3" rx="4.8" ry="4.0" fill="#66f2d2"/>
<ellipse cx="700.8" cy="848.0" rx="4.8" ry="4.0" fill="#3c9aff"/>
<ellipse cx="712.2" cy="411.2" rx="4.8" ry="4.0" fill="#ff0000"/>
<ellipse cx="1209.3" cy="369.2" rx="4.8" ry="4.0" fill="#ff0000"/>
<ellipse cx="925.6" cy="730.5" rx="4.8" ry="4.0" fill="#eef040"/>
<ellipse cx="1063.2" cy="797.1" rx="4.8" ry="4.0" fill="#3c9aff"/>
<ellipse cx="1029.1" cy="290.6" rx="4.8" ry="4.0" fill="#ff0000"/>
<ellipse cx="988.1" cy="885.0" rx="4.8" ry="4.0" fill="#0a0aff"/>
<ellipse cx="972.5" cy="916.0" rx="4.8" ry="4.0" fill="#0a0aff"/>
<ellipse cx="1063.2" cy="774.6" rx="4.8" ry="4.0" fill="#66f2d2"/>
<ellipse cx="955.5" cy="756.6" rx="4.8" ry="4.0" fill="#66f2d2"/>
<ellipse cx="1336.0" cy="252.6" rx="4.8" ry="4.0" fill="#ffa500"/>
<ellipse cx="1203.0" cy="772.5" rx="4.8" ry="4.0" fill="#3c9aff"/>
<ellipse cx="1039.4" cy="770.0" rx="4.8" ry="4.0" fill="#66f2d2"/>
<ellipse cx="504.6" cy="209.9" rx="4.8" ry="4.0" fill="#ff0000"/>
<ellipse cx="1157.7" cy="544.6" rx="4.8" ry="4.0" fill="#eef040"/>
<ellipse cx="398.9" cy="239.9" rx="4.8" ry="4.0" fill="#ff0000"/>
<ellipse cx="796.7" cy="577.1" rx="4.8" ry="4.0" fill="#ffa500"/>
<ellipse cx="1085.5" cy="513.0" rx="4.8" ry="4.0" fill="#ffa500"/>
<ellipse cx="876.4" cy="757.6" rx="4.8" ry="4.0" fill="#66f2d2"/>
<ellipse cx="940.6" cy="836.0" rx="4.8" ry="4.0" fill="#66f2d2"/>
<ellipse cx="1017.8" cy="637.0" rx="4.8" ry="4.0" fill="#eef040"/>
<ellipse cx="800.7" cy="725.0" rx="4.8" ry="4.0" fill="#ffa500"/>
<ellipse cx="1191.8" cy="568.2" rx="4.8" ry="4.0" fill="#eef040"/>
<ellipse cx="942.5" cy="784.5" rx="4.8" ry="4.0" fill="#66f2d2"/>
<ellipse cx="838.5" cy="683.1" rx="4.8" ry="4.0" fill="#eef040"/>
<ellipse cx="981.5" cy="701.5" rx="4.8" ry="4.0" fill="#66f2d2"/>
<ellipse cx="913.9" cy="789.8" rx="4.8" ry="4.0" fill="#66f2d2"/>
<ellipse cx="1042.3" cy="709.0" rx="4.8" ry="4.0" fill="#66f2d2"/>
<ellipse cx="532.6" cy="691.1" rx="4.8" ry="4.0" fill="#ff0000"/>
<ellipse cx="1175.9" cy="786.7" rx="4.8" ry="4.0" fill="#66f2d2"/>
<ellipse cx="914.3" cy="810.1" rx="4.8" ry="4.0" fill="#3c9aff"/>
<ellipse cx="1033.3" cy="792.5" rx="4.8" ry="4.0" fill="#66f2d2"/>
<ellipse cx="955.0" cy="687.9" rx="4.8" ry="4.0" fill="#66f2d2"/>
<ellipse cx="1239.2" cy="450.7" rx="4.8" ry="4.0" fill="#eef040"/>
<ellipse cx="1078.7" cy="596.1" rx="4.8" ry="4.0" fill="#eef040"/>
<ellipse cx="1134.9" cy="777.2" rx="4.8" ry="4.0" fill="#66f2d2"/>
<ellipse cx="1102.2" cy="318.3" rx="4.8" ry="4.0" fill="#ff0000"/>
<ellipse cx="1224.6" cy="625.1" rx="4.8" ry="4.0" fill="#3c9aff"/>
<ellipse cx="1054.4" cy="411.4" rx="4.8" ry="4.0" fill="#ffa500"/>
<ellipse cx="1092.6" cy="553.9" rx="4.8" ry="4.0" fill="#ffa500"/>
<ellipse cx="1140.1" cy="793.9" rx="4.8" ry="4.0" fill="#66f2d2"/>
<ellipse cx="797.4" cy="765.7" rx="4.8" ry="4.0" fill="#ffa500"/>
<ellipse cx="999.0" cy="371.5" rx="4.8" ry="4.0" fill="#ff0000"/>
<ellipse cx="1043.8" cy="754.8" rx="4.8" ry="4.0" fill="#66f2d2"/>
<ellipse cx="1115.9" cy="577.6" rx="4.8" ry="4.0" fill="#eef040"/>
<ellipse cx="885.8" cy="734.5" rx="4.8" ry="4.0" fill="#eef040"/>
<ellipse cx="1007.3" cy="606.4" rx="4.8" ry="4.0" fill="#ffa500"/>
<ellipse cx="897.9" cy="408.4" rx="4.8" ry="4.0" fill="#ff0000"/>
<ellipse cx="959.7" cy="495.4" rx="4.8" ry="4.0" fill="#ffa500"/>
<ellipse cx="1164.6" cy="745.1" rx="4.8" ry="4.0" fill="#3c9aff"/>
<ellipse cx="1160.3" cy="616.0" rx="4.8" ry="4.0" fill="#66f2d2"/>
<ellipse cx="900.7" cy="508.0" rx="4.8" ry="4.0" fill="#ffa500"/>
<ellipse cx="1207.0" cy="593.6" rx="4.8" ry="4.0" fill="#eef040"/>
<ellipse cx="919.0" cy="756.7" rx="4.8" ry="4.0" fill="#66f2d2"/>
<ellipse cx="1362.3" cy="283.7" rx="4.8" ry="4.0" fill="#ffa500"/>
<ellipse cx="1103.9" cy="827.2" rx="4.8" ry="4.0" fill="#0a0aff"/>
<ellipse cx="944.3" cy="669.8" rx="4.8" ry="4.0" fill="#66f2d2"/>
<ellipse cx="1079.6" cy="737.3" rx="4.8" ry="4.0" fill="#66f2d2"/>
<ellipse cx="935.1" cy="767.3" rx="4.8" ry="4.0" fill="#eef040"/>
<ellipse cx="1071.4" cy="587.9" rx="4.8" ry="4.0" fill="#66f2d2"/>
<ellipse cx="994.1" cy="872.2" rx="4.8" ry="4.0" fill="#3c9aff"/>
<ellipse cx="1205.5" cy="223.7" rx="4.8" ry="4.0" fill="#ffa500"/>
<ellipse cx="1209.7" cy="668.4" rx="4.8" ry="4.0" fill="#66f2d2"/>
<ellipse cx="1222.1" cy="582.1" rx="4.8" ry="4.0" fill="#66f2d2"/>
<ellipse cx="1046.6" cy="714.0" rx="4.8" ry="4.0" fill="#66f2d2"/>
<ellipse cx="1070.9" cy="650.5" rx="4.8" ry="4.0" fill="#66f2d2"/>
<ellipse cx="1128.1" cy="574.3" rx="4.8" ry="4.0" fill="#eef040"/>
<ellipse cx="1034.2" cy="404.4" rx="4.8" ry="4.0" fill="#ffa500"/>
<ellipse cx="1264.6" cy="370.1" rx="4.8" ry="4.0" fill="#eef040"/>
<ellipse cx="1066.4" cy="564.2" rx="4.8" ry="4.0" fill="#eef040"/>
<ellipse cx="1119.8" cy="803.1" rx="4.8" ry="4.0" fill="#66f2d2"/>
<ellipse cx="761.4" cy="754.0" rx="4.8" ry="4.0" fill="#ffa500"/>
<ellipse cx="1126.7" cy="663.4" rx="4.8" ry="4.0" fill="#eef040"/>
<ellipse cx="914.0" cy="728.7" rx="4.8" ry="4.0" fill="#eef040"/>
<ellipse cx="877.7" cy="810.9" rx="4.8" ry="4.0" fill="#3c9aff"/>
<ellipse cx="1101.3" cy="396.6" rx="4.8" ry="4.0" fill="#eef040"/>
<ellipse cx="1049.3" cy="669.5" rx="4.8" ry="4.0" fill="#3c9aff"/>
<ellipse cx="1100.0" cy="580.4" rx="4.8" ry="4.0" fill="#eef040"/>
<ellipse cx="1097.1" cy="385.4" rx="4.8" ry="4.0" fill="#eef040"/>
<ellipse cx="944.3" cy="392.5" rx="4.8" ry="4.0" fill="#ff0000"/>
<ellipse cx="1118.2" cy="556.3" rx="4.8" ry="4.0" fill="#eef040"/>
<ellipse cx="825.0" cy="535.8" rx="4.8" ry="4.0" fill="#ffa500"/>
<ellipse cx="816.3" cy="854.8" rx="4.8" ry="4.0" fill="#3c9aff"/>
<ellipse cx="807.5" cy="740.7" rx="4.8" ry="4.0" fill="#eef040"/>
<ellipse cx="1041.5" cy="847.9" rx="4.8" ry="4.0" fill="#0a0aff"/>
<ellipse cx="1280.4" cy="331.8" rx="4.8" ry="4.0" fill="#eef040"/>
<ellipse cx="1080.4" cy="438.6" rx="4.8" ry="4.0" fill="#ff0000"/>
<ellipse cx="1062.0" cy="472.2" rx="4.8" ry="4.0" fill="#ffa500"/>
<ellipse cx="987.3" cy="529.8" rx="4.8" ry="4.0" fill="#ffa500"/>
<ellipse cx="1011.8" cy="494.4" rx="4.8" ry="4.0" fill="#ffa500"/>
<ellipse cx="959.7" cy="945.1" rx="4.8" ry="4.0" fill="#0a0aff"/>
<ellipse cx="1152.2" cy="756.2" rx="4.8" ry="4.0" fill="#66f2d2"/>
<ellipse cx="781.8" cy="700.7" rx="4.8" ry="4.0" fill="#66f2d2"/>
<ellipse cx="1018.4" cy="768.5" rx="4.8" ry="4.0" fill="#3c9aff"/>
<ellipse cx="860.2" cy="573.1" rx="4.8" ry="4.0" fill="#ffa500"/>
<ellipse cx="1084.0" cy="695.7" rx="4.8" ry="4.0" fill="#66f2d2"/>
<ellipse cx="1137.7" cy="609.3" rx="4.8" ry="4.0" fill="#66f2d2"/>
<ellipse cx="1100.5" cy="798.9" rx="4.8" ry="4.0" fill="#66f2d2"/>
<ellipse cx="422.7" cy="226.0" rx="4.8" ry="4.0" fill="#ff0000"/>
<ellipse cx="1008.5" cy="627.6" rx="4.8" ry="4.0" fill="#66f2d2"/>
<ellipse cx="1184.8" cy="691.5" rx="4.8" ry="4.0" fill="#66f2d2"/>
<ellipse cx="386.2" cy="245.0" rx="4.8" ry="4.0" fill="#ff0000"/>
<ellipse cx="446.5" cy="697.0" rx="4.8" ry="4.0" fill="#ff0000"/>
<ellipse cx="577.3" cy="675.0" rx="4.8" ry="4.0" fill="#ffa500"/>
<ellipse cx="992.0" cy="587.3" rx="4.8" ry="4.0" fill="#ffa500"/>
<ellipse cx="938.7" cy="674.8" rx="4.8" ry="4.0" fill="#66f2d2"/>
<ellipse cx="924.6" cy="552.3" rx="4.8" ry="4.0" fill="#ffa500"/>
<ellipse cx="1026.8" cy="624.4" rx="4.8" ry="4.0" fill="#eef040"/>
<ellipse cx="1218.8" cy="608.8" rx="4.8" ry="4.0" fill="#66f2d2"/>
<ellipse cx="887.2" cy="608.9" rx="4.8" ry="4.0" fill="#66f2d2"/>
<ellipse cx="1153.2" cy="731.0" rx="4.8" ry="4.0" fill="#3c9aff"/>
<ellipse cx="1073.0" cy="715.4" rx="4.8" ry="4.0" fill="#eef040"/>
<ellipse cx="241.9" cy="380.0" rx="4.8" ry="4.0" fill="#ff0000"/>
<ellipse cx="1058.9" cy="347.4" rx="4.8" ry="4.0" fill="#ffa500"/>
<ellipse cx="1118.5" cy="471.3" rx="4.8" ry="4.0" fill="#eef040"/>
<ellipse cx="786.6" cy="596.7" rx="4.8" ry="4.0" fill="#eef040"/>
<ellipse cx="1012.0" cy="782.9" rx="4.8" ry="4.0" fill="#66f2d2"/>
<ellipse cx="862.9" cy="760.3" rx="4.8" ry="4.0" fill="#66f2d2"/>
<ellipse cx="829.8" cy="565.7" rx="4.8" ry="4.0" fill="#ffa500"/>
<ellipse cx="1068.7" cy="512.9" rx="4.8" ry="4.0" fill="#ffa500"/>
<ellipse cx="973.5" cy="725.9" rx="4.8" ry="4.0" fill="#eef040"/>
<ellipse cx="1088.8" cy="548.4" rx="4.8" ry="4.0" fill="#ffa500"/>
<ellipse cx="880.4" cy="676.4" rx="4.8" ry="4.0" fill="#eef040"/>
<ellipse cx="920.5" cy="451.3" rx="4.8" ry="4.0" fill="#ffa500"/>
<ellipse cx="1015.2" cy="522.9" rx="4.8" ry="4.0" fill="#ffa500"/>
<ellipse cx="1134.4" cy="693.3" rx="4.8" ry="4.0" fill="#3c9aff"/>
<ellipse cx="881.8" cy="525.7" rx="4.8" ry="4.0" fill="#ffa500"/>
<ellipse cx="1101.8" cy="675.3" rx="4.8" ry="4.0" fill="#66f2d2"/>
<ellipse cx="1136.7" cy="592.1" rx="4.8" ry="4.0" fill="#66f2d2"/>
<ellipse cx="895.0" cy="674.7" rx="4.8" ry="4.0" fill="#eef040"/>
<ellipse cx="995.8" cy="723.1" rx="4.8" ry="4.0" fill="#eef040"/>
<ellipse cx="1170.4" cy="675.3" rx="4.8" ry="4.0" fill="#3c9aff"/>
<ellipse cx="1131.8" cy="511.8" rx="4.8" ry="4.0" fill="#ffa500"/>
<ellipse cx="1106.2" cy="434.8" rx="4.8" ry="4.0" fill="#ffa500"/>
<ellipse cx="960.7" cy="515.8" rx="4.8" ry="4.0" fill="#ffa500"/>
<ellipse cx="1027.5" cy="551.5" rx="4.8" ry="4.0" fill="#ffa500"/>
<ellipse cx="886.5" cy="406.2" rx="4.8" ry="4.0" fill="#ff0000"/>
<ellipse cx="1154.1" cy="466.0" rx="4.8" ry="4.0" fill="#eef040"/>
<ellipse cx="971.9" cy="957.2" rx="4.8" ry="4.0" fill="#66f2d2"/>
<ellipse cx="1135.8" cy="611.5" rx="4.8" ry="4.0" fill="#66f2d2"/>
<ellipse cx="887.2" cy="634.5" rx="4.8" ry="4.0" fill="#eef040"/>
<ellipse cx="1043.2" cy="452.6" rx="4.8" ry="4.0" fill="#ffa500"/>
<ellipse cx="1098.5" cy="507.9" rx="4.8" ry="4.0" fill="#eef040"/>
<ellipse cx="818.3" cy="646.7" rx="4.8" ry="4.0" fill="#66f2d2"/>
<ellipse cx="1098.7" cy="517.6" rx="4.8" ry="4.0" fill="#ffa500"/>
<ellipse cx="956.2" cy="796.8" rx="4.8" ry="4.0" fill="#3c9aff"/>
<ellipse cx="1176.0" cy="583.4" rx="4.8" ry="4.0" fill="#66f2d2"/>
<ellipse cx="1193.5" cy="638.2" rx="4.8" ry="4.0" fill="#66f2d2"/>
<ellipse cx="1077.5" cy="409.3" rx="4.8" ry="4.0" fill="#ff0000"/>
<ellipse cx="240.2" cy="393.5" rx="4.8" ry="4.0" fill="#ff0000"/>
<ellipse cx="1091.6" cy="505.8" rx="4.8" ry="4.0" fill="#eef040"/>
<ellipse cx="1060.6" cy="490.9" rx="4.8" ry="4.0" fill="#ffa500"/>
<ellipse cx="997.0" cy="414.2" rx="4.8" ry="4.0" fill="#ffa500"/>
<ellipse cx="1181.1" cy="708.1" rx="4.8" ry="4.0" fill="#66f2d2"/>
<ellipse cx="506.9" cy="635.4" rx="4.8" ry="4.0" fill="#ffa500"/>
<ellipse cx="1013.0" cy="409.8" rx="4.8" ry="4.0" fill="#ffa500"/>
<ellipse cx="834.5" cy="662.9" rx="4.8" ry="4.0" fill="#66f2d2"/>
<ellipse cx="1194.7" cy="620.2" rx="4.8" ry="4.0" fill="#eef040"/>
<ellipse cx="995.8" cy="615.1" rx="4.8" ry="4.0" fill="#eef040"/>
<ellipse cx="1154.4" cy="551.2" rx="4.8" ry="4.0" fill="#eef040"/>
<ellipse cx="1126.2" cy="750.9" rx="4.8" ry="4.0" fill="#3c9aff"/>
<ellipse cx="1161.4" cy="633.9" rx="4.8" ry="4.0" fill="#66f2d2"/>
<ellipse cx="492.8" cy="280.8" rx="4.8" ry="4.0" fill="#ff0000"/>
<ellipse cx="951.9" cy="629.6" rx="4.8" ry="4.0" fill="#eef040"/>
<ellipse cx="1019.6" cy="543.5" rx="4.8" ry="4.0" fill="#ffa500"/>
<ellipse cx="852.0" cy="566.3" rx="4.8" ry="4.0" fill="#ffa500"/>
<ellipse cx="1083.3" cy="493.8" rx="4.8" ry="4.0" fill="#ffa500"/>
<ellipse cx="1015.3" cy="775.6" rx="4.8" ry="4.0" fill="#3c9aff"/>
<ellipse cx="1231.8" cy="652.9" rx="4.8" ry="4.0" fill="#66f2d2"/>
<ellipse cx="1250.3" cy="606.3" rx="4.8" ry="4.0" fill="#66f2d2"/>
<ellipse cx="786.6" cy="519.6" rx="4.8" ry="4.0" fill="#ff0000"/>
<ellipse cx="948.3" cy="769.7" rx="4.8" ry="4.0" fill="#eef040"/>
<ellipse cx="1079.2" cy="664.8" rx="4.8" ry="4.0" fill="#66f2d2"/>
<ellipse cx="1095.0" cy="653.0" rx="4.8" ry="4.0" fill="#66f2d2"/>
<ellipse cx="514.7" cy="211.6" rx="4.8" ry="4.0" fill="#ff0000"/>
<ellipse cx="1020.9" cy="687.6" rx="4.8" ry="4.0" fill="#3c9aff"/>
<ellipse cx="747.2" cy="778.3" rx="4.8" ry="4.0" fill="#ffa500"/>
<ellipse cx="1166.9" cy="763.2" rx="4.8" ry="4.0" fill="#66f2d2"/>
<ellipse cx="1225.8" cy="714.3" rx="4.8" ry="4.0" fill="#0a0aff"/>
<ellipse cx="1020.9" cy="505.3" rx="4.8" ry="4.0" fill="#ffa500"/>
<ellipse cx="1218.3" cy="676.8" rx="4.8" ry="4.0" fill="#66f2d2"/>
<ellipse cx="1045.7" cy="743.4" rx="4.8" ry="4.0" fill="#66f2d2"/>
<ellipse cx="1340.8" cy="181.7" rx="4.8" ry="4.0" fill="#ffa500"/>
<ellipse cx="1067.8" cy="810.0" rx="4.8" ry="4.0" fill="#3c9aff"/>
<ellipse cx="968.4" cy="628.8" rx="4.8" ry="4.0" fill="#eef040"/>
<ellipse cx="977.9" cy="937.7" rx="4.8" ry="4.0" fill="#0a0aff"/>
<ellipse cx="1059.8" cy="401.1" rx="4.8" ry="4.0" fill="#ffa500"/>
<ellipse cx="1142.1" cy="483.5" rx="4.8" ry="4.0" fill="#ffa500"/>
<ellipse cx="858.8" cy="742.0" rx="4.8" ry="4.0" fill="#eef040"/>
<ellipse cx="1055.9" cy="444.1" rx="4.8" ry="4.0" fill="#ffa500"/>
<ellipse cx="965.3" cy="777.4" rx="4.8" ry="4.0" fill="#66f2d2"/>
<ellipse cx="952.9" cy="486.9" rx="4.8" ry="4.0" fill="#ffa500"/>
<ellipse cx="1074.9" cy="161.5" rx="4.8" ry="4.0" fill="#ff0000"/>
<ellipse cx="1060.2" cy="604.3" rx="4.8" ry="4.0" fill="#ffa500"/>
<ellipse cx="1053.9" cy="548.4" rx="4.8" ry="4.0" fill="#ffa500"/>
<ellipse cx="1080.9" cy="438.4" rx="4.8" ry="4.0" fill="#ff0000"/>
<ellipse cx="1185.1" cy="583.9" rx="4.8" ry="4.0" fill="#eef040"/>
<ellipse cx="853.4" cy="698.7" rx="4.8" ry="4.0" fill="#66f2d2"/>
<ellipse cx="1021.9" cy="628.7" rx="4.8" ry="4.0" fill="#eef040"/>
<ellipse cx="1149.4" cy="544.2" rx="4.8" ry="4.0" fill="#eef040"/>
<ellipse cx="902.9" cy="738.1" rx="4.8" ry="4.0" fill="#eef040"/>
<ellipse cx="990.8" cy="920.8" rx="4.8" ry="4.0" fill="#0a0aff"/>
<ellipse cx="641.3" cy="605.3" rx="4.8" ry="4.0" fill="#ffa500"/>
<ellipse cx="1333.3" cy="284.3" rx="4.8" ry="4.0" fill="#ffa500"/>
<ellipse cx="934.1" cy="701.4" rx="4.8" ry="4.0" fill="#66f2d2"/>
<ellipse cx="881.8" cy="722.3" rx="4.8" ry="4.0" fill="#eef040"/>
<ellipse cx="1175.6" cy="483.8" rx="4.8" ry="4.0" fill="#ffa500"/>
<ellipse cx="1261.5" cy="203.5" rx="4.8" ry="4.0" fill="#ffa500"/>
<ellipse cx="797.4" cy="847.4" rx="4.8" ry="4.0" fill="#0a0aff"/>
<ellipse cx="480.1" cy="298.5" rx="4.8" ry="4.0" fill="#ffa500"/>
<ellipse cx="1161.9" cy="751.2" rx="4.8" ry="4.0" fill="#3c9aff"/>
<ellipse cx="1177.6" cy="343.5" rx="4.8" ry="4.0" fill="#ff0000"/>
<ellipse cx="1206.1" cy="626.4" rx="4.8" ry="4.0" fill="#3c9aff"/>
<ellipse cx="1158.3" cy="644.5" rx="4.8" ry="4.0" fill="#0a0aff"/>
<ellipse cx="1228.3" cy="589.4" rx="4.8" ry="4.0" fill="#66f2d2"/>
<ellipse cx="1217.5" cy="738.1" rx="4.8" ry="4.0" fill="#3c9aff"/>
<ellipse cx="1136.6" cy="296.0" rx="4.8" ry="4.0" fill="#ff0000"/>
<ellipse cx="1168.5" cy="727.5" rx="4.8" ry="4.0" fill="#66f2d2"/>
<ellipse cx="1162.9" cy="681.7" rx="4.8" ry="4.0" fill="#3c9aff"/>
<ellipse cx="1074.5" cy="610.6" rx="4.8" ry="4.0" fill="#eef040"/>
<ellipse cx="805.5" cy="781.9" rx="4.8" ry="4.0" fill="#eef040"/>
<ellipse cx="1107.6" cy="426.5" rx="4.8" ry="4.0" fill="#ff0000"/>
<ellipse cx="821.7" cy="556.2" rx="4.8" ry="4.0" fill="#ffa500"/>
<ellipse cx="826.4" cy="746.1" rx="4.8" ry="4.0" fill="#eef040"/>
<ellipse cx="1110.9" cy="655.1" rx="4.8" ry="4.0" fill="#66f2d2"/>
<ellipse cx="1020.7" cy="751.5" rx="4.8" ry="4.0" fill="#66f2d2"/>
<ellipse cx="1352.6" cy="232.7" rx="4.8" ry="4.0" fill="#ffa500"/>
<ellipse cx="1061.7" cy="630.2" rx="4.8" ry="4.0" fill="#ffa500"/>
<ellipse cx="906.2" cy="808.7" rx="4.8" ry="4.0" fill="#66f2d2"/>
<ellipse cx="825.0" cy="834.5" rx="4.8" ry="4.0" fill="#eef040"/>
<ellipse cx="769.0" cy="479.8" rx="4.8" ry="4.0" fill="#ffa500"/>
<ellipse cx="1226.1" cy="449.2" rx="4.8" ry="4.0" fill="#ffa500"/>
<ellipse cx="1090.0" cy="689.5" rx="4.8" ry="4.0" fill="#66f2d2"/>
<ellipse cx="1045.3" cy="444.1" rx="4.8" ry="4.0" fill="#ffa500"/>
<ellipse cx="1137.4" cy="786.7" rx="4.8" ry="4.0" fill="#66f2d2"/>
<ellipse cx="1203.4" cy="238.6" rx="4.8" ry="4.0" fill="#ffa500"/>
<ellipse cx="1026.7" cy="588.7" rx="4.8" ry="4.0" fill="#ffa500"/>
<ellipse cx="1164.8" cy="470.8" rx="4.8" ry="4.0" fill="#eef040"/>
<ellipse cx="1026.9" cy="745.9" rx="4.8" ry="4.0" fill="#66f2d2"/>
<ellipse cx="958.8" cy="812.7" rx="4.8" ry="4.0" fill="#eef040"/>
<ellipse cx="1064.2" cy="654.4" rx="4.8" ry="4.0" fill="#eef040"/>
<ellipse cx="1155.2" cy="798.3" rx="4.8" ry="4.0" fill="#66f2d2"/>
<ellipse cx="1065.7" cy="788.5" rx="4.8" ry="4.0" fill="#66f2d2"/>
<ellipse cx="985.5" cy="798.2" rx="4.8" ry="4.0" fill="#3c9aff"/>
<ellipse cx="1059.6" cy="504.5" rx="4.8" ry="4.0" fill="#ffa500"/>
<ellipse cx="819.6" cy="727.7" rx="4.8" ry="4.0" fill="#ffa500"/>
<ellipse cx="1026.6" cy="606.2" rx="4.8" ry="4.0" fill="#eef040"/>
<ellipse cx="1007.2" cy="591.6" rx="4.8" ry="4.0" fill="#ffa500"/>
<ellipse cx="1086.9" cy="429.2" rx="4.8" ry="4.0" fill="#ff0000"/>
<ellipse cx="543.4" cy="218.4" rx="4.8" ry="4.0" fill="#ff0000"/>
<ellipse cx="1054.0" cy="823.2" rx="4.8" ry="4.0" fill="#3c9aff"/>
<ellipse cx="917.6" cy="745.6" rx="4.8" ry="4.0" fill="#66f2d2"/>
<ellipse cx="1079.4" cy="509.8" rx="4.8" ry="4.0" fill="#ffa500"/>
<ellipse cx="988.5" cy="667.4" rx="4.8" ry="4.0" fill="#66f2d2"/>
<ellipse cx="1237.8" cy="621.1" rx="4.8" ry="4.0" fill="#3c9aff"/>
<ellipse cx="1022.5" cy="855.2" rx="4.8" ry="4.0" fill="#66f2d2"/>
<ellipse cx="970.4" cy="792.3" rx="4.8" ry="4.0" fill="#66f2d2"/>
<ellipse cx="1017.7" cy="671.8" rx="4.8" ry="4.0" fill="#66f2d2"/>
<ellipse cx="1086.4" cy="752.7" rx="4.8" ry="4.0" fill="#3c9aff"/>
<ellipse cx="973.2" cy="708.1" rx="4.8" ry="4.0" fill="#eef040"/>
<ellipse cx="857.5" cy="610.9" rx="4.8" ry="4.0" fill="#66f2d2"/>
<ellipse cx="946.1" cy="604.0" rx="4.8" ry="4.0" fill="#ffa500"/>
<ellipse cx="864.2" cy="552.8" rx="4.8" ry="4.0" fill="#ffa500"/>
<ellipse cx="807.5" cy="697.3" rx="4.8" ry="4.0" fill="#66f2d2"/>
<ellipse cx="1123.1" cy="333.1" rx="4.8" ry="4.0" fill="#ff0000"/>
<ellipse cx="1047.1" cy="647.2" rx="4.8" ry="4.0" fill="#66f2d2"/>
<ellipse cx="1198.9" cy="543.5" rx="4.8" ry="4.0" fill="#eef040"/>
<ellipse cx="1031.2" cy="527.6" rx="4.8" ry="4.0" fill="#ffa500"/>
<ellipse cx="1007.2" cy="483.7" rx="4.8" ry="4.0" fill="#ff0000"/>
<ellipse cx="1137.2" cy="366.0" rx="4.8" ry="4.0" fill="#ffa500"/>
<ellipse cx="993.4" cy="747.9" rx="4.8" ry="4.0" fill="#66f2d2"/>
<ellipse cx="1127.4" cy="467.3" rx="4.8" ry="4.0" fill="#ffa500"/>
<ellipse cx="917.0" cy="601.6" rx="4.8" ry="4.0" fill="#eef040"/>
<ellipse cx="773.5" cy="629.0" rx="4.8" ry="4.0" fill="#eef040"/>
<ellipse cx="1148.6" cy="667.6" rx="4.8" ry="4.0" fill="#3c9aff"/>
<ellipse cx="754.1" cy="491.9" rx="4.8" ry="4.0" fill="#ffa500"/>
<ellipse cx="1002.3" cy="855.2" rx="4.8" ry="4.0" fill="#eef040"/>
<ellipse cx="872.3" cy="442.6" rx="4.8" ry="4.0" fill="#ff0000"/>
<ellipse cx="295.0" cy="339.5" rx="4.8" ry="4.0" fill="#ff0000"/>
<ellipse cx="923.3" cy="641.2" rx="4.8" ry="4.0" fill="#eef040"/>
<ellipse cx="996.9" cy="756.1" rx="4.8" ry="4.0" fill="#eef040"/>
<ellipse cx="1107.9" cy="469.5" rx="4.8" ry="4.0" fill="#ffa500"/>
<ellipse cx="1000.9" cy="765.3" rx="4.8" ry="4.0" fill="#66f2d2"/>
<ellipse cx="1124.0" cy="510.9" rx="4.8" ry="4.0" fill="#ffa500"/>
<ellipse cx="1102.3" cy="505.5" rx="4.8" ry="4.0" fill="#ffa500"/>
<ellipse cx="1244.7" cy="352.8" rx="4.8" ry="4.0" fill="#ffa500"/>
<ellipse cx="941.5" cy="717.6" rx="4.8" ry="4.0" fill="#eef040"/>
<ellipse cx="1139.7" cy="791.1" rx="4.8" ry="4.0" fill="#eef040"/>
<ellipse cx="806.1" cy="531.1" rx="4.8" ry="4.0" fill="#eef040"/>
<ellipse cx="888.5" cy="575.1" rx="4.8" ry="4.0" fill="#eef040"/>
<ellipse cx="1120.1" cy="394.7" rx="4.8" ry="4.0" fill="#eef040"/>
<ellipse cx="499.6" cy="664.6" rx="4.8" ry="4.0" fill="#ffa500"/>
<ellipse cx="976.8" cy="403.3" rx="4.8" ry="4.0" fill="#ffa500"/>
<ellipse cx="1133.9" cy="215.0" rx="4.8" ry="4.0" fill="#ffa500"/>
<ellipse cx="776.4" cy="494.6" rx="4.8" ry="4.0" fill="#ffa500"/>
<ellipse cx="1197.7" cy="467.1" rx="4.8" ry="4.0" fill="#ffa500"/>
<ellipse cx="829.1" cy="842.0" rx="4.8" ry="4.0" fill="#3c9aff"/>
<ellipse cx="1145.1" cy="718.9" rx="4.8" ry="4.0" fill="#3c9aff"/>
<ellipse cx="653.9" cy="629.8" rx="4.8" ry="4.0" fill="#ffa500"/>
<ellipse cx="986.5" cy="426.3" rx="4.8" ry="4.0" fill="#ffa500"/>
<ellipse cx="945.2" cy="615.3" rx="4.8" ry="4.0" fill="#eef040"/>
<ellipse cx="1343.5" cy="201.6" rx="4.8" ry="4.0" fill="#ffa500"/>
<ellipse cx="1271.0" cy="191.3" rx="4.8" ry="4.0" fill="#ffa500"/>
<ellipse cx="1137.4" cy="798.8" rx="4.8" ry="4.0" fill="#66f2d2"/>
<ellipse cx="1173.3" cy="615.7" rx="4.8" ry="4.0" fill="#eef040"/>
<ellipse cx="687.1" cy="672.2" rx="4.8" ry="4.0" fill="#ffa500"/>
<ellipse cx="958.6" cy="768.8" rx="4.8" ry="4.0" fill="#66f2d2"/>
<ellipse cx="1120.8" cy="757.3" rx="4.8" ry="4.0" fill="#66f2d2"/>
<ellipse cx="722.2" cy="783.7" rx="4.8" ry="4.0" fill="#ffa500"/>
<ellipse cx="988.3" cy="632.4" rx="4.8" ry="4.0" fill="#eef040"/>
<ellipse cx="1016.6" cy="657.3" rx="4.8" ry="4.0" fill="#eef040"/>
<ellipse cx="1177.7" cy="649.9" rx="4.8" ry="4.0" fill="#66f2d2"/>
<ellipse cx="955.0" cy="889.0" rx="4.8" ry="4.0" fill="#66f2d2"/>
<ellipse cx="869.6" cy="742.7" rx="4.8" ry="4.0" fill="#eef040"/>
<ellipse cx="887.2" cy="387.3" rx="4.8" ry="4.0" fill="#ff0000"/>
<ellipse cx="1149.4" cy="56.2" rx="4.8" ry="4.0" fill="#ffa500"/>
<ellipse cx="871.0" cy="773.8" rx="4.8" ry="4.0" fill="#66f2d2"/>
<ellipse cx="765.0" cy="827.1" rx="4.8" ry="4.0" fill="#eef040"/>
<ellipse cx="1163.9" cy="544.3" rx="4.8" ry="4.0" fill="#ffa500"/>
<ellipse cx="1060.3" cy="568.7" rx="4.8" ry="4.0" fill="#eef040"/>
<ellipse cx="1061.9" cy="668.6" rx="4.8" ry="4.0" fill="#66f2d2"/>
<ellipse cx="711.6" cy="800.8" rx="4.8" ry="4.0" fill="#eef040"/>
<ellipse cx="1078.8" cy="344.9" rx="4.8" ry="4.0" fill="#ff0000"/>
<ellipse cx="1022.2" cy="403.4" rx="4.8" ry="4.0" fill="#ffa500"/>
<ellipse cx="1101.1" cy="418.1" rx="4.8" ry="4.0" fill="#ffa500"/>
<ellipse cx="1074.7" cy="509.8" rx="4.8" ry="4.0" fill="#ffa500"/>
<ellipse cx="1144.5" cy="472.6" rx="4.8" ry="4.0" fill="#eef040"/>
<ellipse cx="810.2" cy="642.6" rx="4.8" ry="4.0" fill="#66f2d2"/>
<ellipse cx="1071.8" cy="566.7" rx="4.8" ry="4.0" fill="#eef040"/>
<ellipse cx="995.8" cy="435.0" rx="4.8" ry="4.0" fill="#ffa500"/>
<ellipse cx="1145.3" cy="774.2" rx="4.8" ry="4.0" fill="#66f2d2"/>
<ellipse cx="1360.7" cy="169.4" rx="4.8" ry="4.0" fill="#ffa500"/>
<ellipse cx="1098.4" cy="447.7" rx="4.8" ry="4.0" fill="#ffa500"/>
<ellipse cx="1021.1" cy="659.7" rx="4.8" ry="4.0" fill="#3c9aff"/>
<ellipse cx="1205.9" cy="726.4" rx="4.8" ry="4.0" fill="#3c9aff"/>
<ellipse cx="1002.4" cy="385.0" rx="4.8" ry="4.0" fill="#ffa500"/>
<ellipse cx="965.2" cy="612.5" rx="4.8" ry="4.0" fill="#ffa500"/>
<ellipse cx="1078.6" cy="468.7" rx="4.8" ry="4.0" fill="#ff0000"/>
<ellipse cx="1202.6" cy="660.0" rx="4.8" ry="4.0" fill="#66f2d2"/>
<ellipse cx="1034.7" cy="492.8" rx="4.8" ry="4.0" fill="#ffa500"/>
<ellipse cx="941.5" cy="866.8" rx="4.8" ry="4.0" fill="#3c9aff"/>
<ellipse cx="973.2" cy="471.6" rx="4.8" ry="4.0" fill="#ffa500"/>
<ellipse cx="802.8" cy="565.0" rx="4.8" ry="4.0" fill="#ffa500"/>
<ellipse cx="850.0" cy="772.4" rx="4.8" ry="4.0" fill="#66f2d2"/>
<ellipse cx="735.9" cy="804.1" rx="4.8" ry="4.0" fill="#eef040"/>
<ellipse cx="1147.9" cy="687.7" rx="4.8" ry="4.0" fill="#3c9aff"/>
<ellipse cx="1006.3" cy="733.2" rx="4.8" ry="4.0" fill="#eef040"/>
<ellipse cx="975.4" cy="779.9" rx="4.8" ry="4.0" fill="#3c9aff"/>
<ellipse cx="1166.3" cy="518.0" rx="4.8" ry="4.0" fill="#eef040"/>
<ellipse cx="1074.9" cy="853.2" rx="4.8" ry="4.0" fill="#3c9aff"/>
<ellipse cx="898.3" cy="812.2" rx="4.8" ry="4.0" fill="#3c9aff"/>
<ellipse cx="1254.8" cy="208.2" rx="4.8" ry="4.0" fill="#ffa500"/>
<ellipse cx="1220.9" cy="631.6" rx="4.8" ry="4.0" fill="#3c9aff"/>
<ellipse cx="696.8" cy="825.8" rx="4.8" ry="4.0" fill="#66f2d2"/>
<ellipse cx="1263.7" cy="640.5" rx="4.8" ry="4.0" fill="#eef040"/>
<ellipse cx="1248.0" cy="628.4" rx="4.8" ry="4.0" fill="#3c9aff"/>
<ellipse cx="1160.3" cy="687.9" rx="4.8" ry="4.0" fill="#66f2d2"/>
<ellipse cx="799.4" cy="777.8" rx="4.8" ry="4.0" fill="#eef040"/>
<ellipse cx="974.4" cy="398.2" rx="4.8" ry="4.0" fill="#ffa500"/>
<ellipse cx="1040.2" cy="698.0" rx="4.8" ry="4.0" fill="#66f2d2"/>
<ellipse cx="1098.0" cy="480.5" rx="4.8" ry="4.0" fill="#ffa500"/>
<ellipse cx="1074.0" cy="666.8" rx="4.8" ry="4.0" fill="#66f2d2"/>
<ellipse cx="849.4" cy="710.2" rx="4.8" ry="4.0" fill="#66f2d2"/>
<ellipse cx="642.1" cy="629.0" rx="4.8" ry="4.0" fill="#ffa500"/>
<ellipse cx="1105.9" cy="570.6" rx="4.8" ry="4.0" fill="#eef040"/>
<ellipse cx="903.7" cy="412.1" rx="4.8" ry="4.0" fill="#ff0000"/>
<ellipse cx="1066.1" cy="649.3" rx="4.8" ry="4.0" fill="#eef040"/>
<ellipse cx="349.1" cy="254.3" rx="4.8" ry="4.0" fill="#ff0000"/>
<ellipse cx="1052.9" cy="774.1" rx="4.8" ry="4.0" fill="#66f2d2"/>
<ellipse cx="1099.9" cy="791.5" rx="4.8" ry="4.0" fill="#66f2d2"/>
<ellipse cx="1233.2" cy="708.2" rx="4.8" ry="4.0" fill="#eef040"/>
<ellipse cx="1093.9" cy="650.0" rx="4.8" ry="4.0" fill="#eef040"/>
<ellipse cx="899.4" cy="870.3" rx="4.8" ry="4.0" fill="#eef040"/>
<ellipse cx="1141.3" cy="539.3" rx="4.8" ry="4.0" fill="#ffa500"/>
<ellipse cx="846.6" cy="684.5" rx="4.8" ry="4.0" fill="#eef040"/>
<ellipse cx="979.7" cy="719.2" rx="4.8" ry="4.0" fill="#66f2d2"/>
<ellipse cx="789.9" cy="718.3" rx="4.8" ry="4.0" fill="#eef040"/>
<ellipse cx="1127.8" cy="684.2" rx="4.8" ry="4.0" fill="#3c9aff"/>
<ellipse cx="1059.2" cy="835.1" rx="4.8" ry="4.0" fill="#0a0aff"/>
<ellipse cx="969.9" cy="829.9" rx="4.8" ry="4.0" fill="#66f2d2"/>
<ellipse cx="789.3" cy="812.9" rx="4.8" ry="4.0" fill="#eef040"/>
<ellipse cx="1024.9" cy="635.6" rx="4.8" ry="4.0" fill="#eef040"/>
<ellipse cx="1060.7" cy="527.9" rx="4.8" ry="4.0" fill="#ffa500"/>
<ellipse cx="1034.7" cy="567.0" rx="4.8" ry="4.0" fill="#eef040"/>
<ellipse cx="1261.1" cy="652.4" rx="4.8" ry="4.0" fill="#eef040"/>
<ellipse cx="1368.7" cy="243.5" rx="4.8" ry="4.0" fill="#eef040"/>
<ellipse cx="939.3" cy="544.2" rx="4.8" ry="4.0" fill="#ffa500"/>
<ellipse cx="994.6" cy="664.6" rx="4.8" ry="4.0" fill="#66f2d2"/>
<ellipse cx="1124.5" cy="706.7" rx="4.8" ry="4.0" fill="#3c9aff"/>
<ellipse cx="324.5" cy="441.4" rx="4.8" ry="4.0" fill="#ff0000"/>
<ellipse cx="921.6" cy="805.3" rx="4.8" ry="4.0" fill="#3c9aff"/>
<ellipse cx="1040.2" cy="720.4" rx="4.8" ry="4.0" fill="#66f2d2"/>
<ellipse cx="791.3" cy="657.5" rx="4.8" ry="4.0" fill="#66f2d2"/>
<ellipse cx="1137.6" cy="683.0" rx="4.8" ry="4.0" fill="#3c9aff"/>
<ellipse cx="802.1" cy="449.1" rx="4.8" ry="4.0" fill="#ff0000"/>
<ellipse cx="1197.4" cy="124.4" rx="4.8" ry="4.0" fill="#ffa500"/>
<ellipse cx="995.8" cy="659.2" rx="4.8" ry="4.0" fill="#66f2d2"/>
<ellipse cx="927.2" cy="715.1" rx="4.8" ry="4.0" fill="#66f2d2"/>
<ellipse cx="754.6" cy="790.4" rx="4.8" ry="4.0" fill="#ffa500"/>
<ellipse cx="1023.1" cy="374.8" rx="4.8" ry="4.0" fill="#ff0000"/>
<ellipse cx="1255.8" cy="375.8" rx="4.8" ry="4.0" fill="#eef040"/>
<ellipse cx="1057.1" cy="783.5" rx="4.8" ry="4.0" fill="#66f2d2"/>
<ellipse cx="1158.0" cy="653.4" rx="4.8" ry="4.0" fill="#66f2d2"/>
<ellipse cx="1139.0" cy="561.5" rx="4.8" ry="4.0" fill="#66f2d2"/>
<ellipse cx="887.2" cy="781.9" rx="4.8" ry="4.0" fill="#eef040"/>
<ellipse cx="714.1" cy="751.9" rx="4.8" ry="4.0" fill="#ffa500"/>
<ellipse cx="533.2" cy="439.9" rx="4.8" ry="4.0" fill="#ff0000"/>
<ellipse cx="983.6" cy="455.7" rx="4.8" ry="4.0" fill="#ffa500"/>
<ellipse cx="1134.4" cy="813.9" rx="4.8" ry="4.0" fill="#3c9aff"/>
<ellipse cx="1218.1" cy="343.7" rx="4.8" ry="4.0" fill="#ff0000"/>
<ellipse cx="449.7" cy="348.3" rx="4.8" ry="4.0" fill="#ff0000"/>
<ellipse cx="1138.2" cy="728.7" rx="4.8" ry="4.0" fill="#66f2d2"/>
<ellipse cx="1025.2" cy="593.3" rx="4.8" ry="4.0" fill="#ffa500"/>
<ellipse cx="1055.4" cy="753.1" rx="4.8" ry="4.0" fill="#66f2d2"/>
<ellipse cx="1093.2" cy="687.9" rx="4.8" ry="4.0" fill="#3c9aff"/>
<ellipse cx="924.4" cy="662.6" rx="4.8" ry="4.0" fill="#eef040"/>
<ellipse cx="1224.4" cy="150.8" rx="4.8" ry="4.0" fill="#ffa500"/>
<ellipse cx="1128.2" cy="785.0" rx="4.8" ry="4.0" fill="#66f2d2"/>
<ellipse cx="690.2" cy="618.0" rx="4.8" ry="4.0" fill="#ffa500"/>
<ellipse cx="983.5" cy="725.6" rx="4.8" ry="4.0" fill="#eef040"/>
<ellipse cx="979.2" cy="709.6" rx="4.8" ry="4.0" fill="#66f2d2"/>
<ellipse cx="1052.3" cy="689.8" rx="4.8" ry="4.0" fill="#eef040"/>
<ellipse cx="770.4" cy="490.6" rx="4.8" ry="4.0" fill="#ffa500"/>
<ellipse cx="1081.2" cy="352.1" rx="4.8" ry="4.0" fill="#ffa500"/>
<ellipse cx="1195.3" cy="93.3" rx="4.8" ry="4.0" fill="#ffa500"/>
<ellipse cx="1100.1" cy="476.6" rx="4.8" ry="4.0" fill="#ffa500"/>
<ellipse cx="1054.0" cy="443.3" rx="4.8" ry="4.0" fill="#ff0000"/>
<ellipse cx="1215.9" cy="636.3" rx="4.8" ry="4.0" fill="#3c9aff"/>
<ellipse cx="1072.7" cy="531.0" rx="4.8" ry="4.0" fill="#ffa500"/>
<ellipse cx="1060.1" cy="695.5" rx="4.8" ry="4.0" fill="#eef040"/>
<ellipse cx="1004.0" cy="403.8" rx="4.8" ry="4.0" fill="#ffa500"/>
<ellipse cx="1025.0" cy="423.4" rx="4.8" ry="4.0" fill="#ffa500"/>
<ellipse cx="1045.3" cy="689.1" rx="4.8" ry="4.0" fill="#66f2d2"/>
<ellipse cx="963.6" cy="604.5" rx="4.8" ry="4.0" fill="#eef040"/>
<ellipse cx="1056.4" cy="742.7" rx="4.8" ry="4.0" fill="#66f2d2"/>
<ellipse cx="1002.8" cy="339.3" rx="4.8" ry="4.0" fill="#ff0000"/>
<ellipse cx="881.8" cy="639.9" rx="4.8" ry="4.0" fill="#66f2d2"/>
<ellipse cx="1223.0" cy="314.9" rx="4.8" ry="4.0" fill="#ffa500"/>
<ellipse cx="956.9" cy="737.8" rx="4.8" ry="4.0" fill="#66f2d2"/>
<ellipse cx="865.6" cy="683.1" rx="4.8" ry="4.0" fill="#eef040"/>
<ellipse cx="1277.4" cy="347.7" rx="4.8" ry="4.0" fill="#66f2d2"/>
<ellipse cx="1014.3" cy="844.8" rx="4.8" ry="4.0" fill="#0a0aff"/>
<ellipse cx="711.3" cy="493.1" rx="4.8" ry="4.0" fill="#ff0000"/>
<ellipse cx="955.5" cy="586.5" rx="4.8" ry="4.0" fill="#ffa500"/>
<ellipse cx="1133.7" cy="406.9" rx="4.8" ry="4.0" fill="#ffa500"/>
<ellipse cx="902.4" cy="387.8" rx="4.8" ry="4.0" fill="#ff0000"/>
<ellipse cx="928.5" cy="548.7" rx="4.8" ry="4.0" fill="#ffa500"/>
<ellipse cx="1014.9" cy="435.1" rx="4.8" ry="4.0" fill="#ffa500"/>
<ellipse cx="616.8" cy="495.6" rx="4.8" ry="4.0" fill="#ff0000"/>
<ellipse cx="1133.3" cy="706.4" rx="4.8" ry="4.0" fill="#3c9aff"/>
<ellipse cx="987.6" cy="395.2" rx="4.8" ry="4.0" fill="#ffa500"/>
<ellipse cx="1233.8" cy="625.2" rx="4.8" ry="4.0" fill="#3c9aff"/>
<ellipse cx="1242.6" cy="175.8" rx="4.8" ry="4.0" fill="#ffa500"/>
<ellipse cx="1184.5" cy="547.0" rx="4.8" ry="4.0" fill="#eef040"/>
<ellipse cx="1004.2" cy="684.0" rx="4.8" ry="4.0" fill="#3c9aff"/>
<ellipse cx="892.8" cy="607.8" rx="4.8" ry="4.0" fill="#66f2d2"/>
<ellipse cx="1067.9" cy="713.3" rx="4.8" ry="4.0" fill="#66f2d2"/>
<ellipse cx="962.6" cy="634.9" rx="4.8" ry="4.0" fill="#eef040"/>
<ellipse cx="953.5" cy="525.8" rx="4.8" ry="4.0" fill="#ffa500"/>
<ellipse cx="944.4" cy="595.2" rx="4.8" ry="4.0" fill="#eef040"/>
<ellipse cx="919.5" cy="561.9" rx="4.8" ry="4.0" fill="#ffa500"/>
<ellipse cx="1015.1" cy="795.4" rx="4.8" ry="4.0" fill="#66f2d2"/>
<ellipse cx="1075.5" cy="455.7" rx="4.8" ry="4.0" fill="#ff0000"/>
<ellipse cx="1099.3" cy="648.8" rx="4.8" ry="4.0" fill="#eef040"/>
<ellipse cx="1035.7" cy="838.5" rx="4.8" ry="4.0" fill="#0a0aff"/>
<ellipse cx="1229.2" cy="615.4" rx="4.8" ry="4.0" fill="#66f2d2"/>
<ellipse cx="969.2" cy="743.9" rx="4.8" ry="4.0" fill="#66f2d2"/>
<ellipse cx="1002.2" cy="922.1" rx="4.8" ry="4.0" fill="#66f2d2"/>
<ellipse cx="1295.2" cy="311.1" rx="4.8" ry="4.0" fill="#eef040"/>
<ellipse cx="624.9" cy="417.5" rx="4.8" ry="4.0" fill="#ff0000"/>
<ellipse cx="852.0" cy="664.2" rx="4.8" ry="4.0" fill="#eef040"/>
<ellipse cx="953.7" cy="608.3" rx="4.8" ry="4.0" fill="#ffa500"/>
<ellipse cx="1234.3" cy="588.0" rx="4.8" ry="4.0" fill="#66f2d2"/>
<ellipse cx="816.9" cy="625.1" rx="4.8" ry="4.0" fill="#ffa500"/>
<ellipse cx="913.1" cy="634.4" rx="4.8" ry="4.0" fill="#eef040"/>
<ellipse cx="926.0" cy="651.2" rx="4.8" ry="4.0" fill="#eef040"/>
<ellipse cx="934.2" cy="744.9" rx="4.8" ry="4.0" fill="#eef040"/>
<ellipse cx="873.7" cy="729.1" rx="4.8" ry="4.0" fill="#eef040"/>
<ellipse cx="1074.1" cy="723.9" rx="4.8" ry="4.0" fill="#66f2d2"/>
<ellipse cx="747.9" cy="786.4" rx="4.8" ry="4.0" fill="#eef040"/>
<ellipse cx="1027.8" cy="728.1" rx="4.8" ry="4.0" fill="#eef040"/>
<ellipse cx="788.3" cy="379.8" rx="4.8" ry="4.0" fill="#ff0000"/>
<ellipse cx="1162.2" cy="606.8" rx="4.8" ry="4.0" fill="#eef040"/>
<ellipse cx="1160.2" cy="539.5" rx="4.8" ry="4.0" fill="#eef040"/>
<ellipse cx="435.4" cy="266.5" rx="4.8" ry="4.0" fill="#ff0000"/>
<ellipse cx="1185.2" cy="604.5" rx="4.8" ry="4.0" fill="#66f2d2"/>
<ellipse cx="1178.5" cy="87.3" rx="4.8" ry="4.0" fill="#ffa500"/>
<ellipse cx="974.4" cy="709.0" rx="4.8" ry="4.0" fill="#66f2d2"/>
<ellipse cx="1164.8" cy="791.2" rx="4.8" ry="4.0" fill="#66f2d2"/>
<ellipse cx="897.1" cy="846.2" rx="4.8" ry="4.0" fill="#66f2d2"/>
<ellipse cx="1119.8" cy="415.7" rx="4.8" ry="4.0" fill="#ffa500"/>
<ellipse cx="902.6" cy="666.3" rx="4.8" ry="4.0" fill="#eef040"/>
<ellipse cx="464.9" cy="274.1" rx="4.8" ry="4.0" fill="#ff0000"/>
<ellipse cx="825.0" cy="776.5" rx="4.8" ry="4.0" fill="#eef040"/>
<ellipse cx="1131.1" cy="390.7" rx="4.8" ry="4.0" fill="#ffa500"/>
<ellipse cx="1161.2" cy="628.6" rx="4.8" ry="4.0" fill="#66f2d2"/>
<ellipse cx="1243.8" cy="685.5" rx="4.8" ry="4.0" fill="#3c9aff"/>
<ellipse cx="977.6" cy="544.1" rx="4.8" ry="4.0" fill="#ffa500"/>
<ellipse cx="1112.1" cy="570.8" rx="4.8" ry="4.0" fill="#eef040"/>
<ellipse cx="192.9" cy="385.9" rx="4.8" ry="4.0" fill="#ff0000"/>
<ellipse cx="776.4" cy="812.9" rx="4.8" ry="4.0" fill="#eef040"/>
<ellipse cx="1041.1" cy="400.2" rx="4.8" ry="4.0" fill="#ffa500"/>
<ellipse cx="1004.5" cy="430.8" rx="4.8" ry="4.0" fill="#ffa500"/>
<ellipse cx="1024.2" cy="697.0" rx="4.8" ry="4.0" fill="#66f2d2"/>
<ellipse cx="985.4" cy="904.6" rx="4.8" ry="4.0" fill="#3c9aff"/>
<ellipse cx="1156.5" cy="374.6" rx="4.8" ry="4.0" fill="#ffa500"/>
<ellipse cx="1227.7" cy="200.1" rx="4.8" ry="4.0" fill="#ffa500"/>
<ellipse cx="1322.0" cy="304.6" rx="4.8" ry="4.0" fill="#eef040"/>
<ellipse cx="1176.9" cy="472.9" rx="4.8" ry="4.0" fill="#ffa500"/>
<ellipse cx="957.8" cy="367.8" rx="4.8" ry="4.0" fill="#ffa500"/>
<ellipse cx="1106.1" cy="371.2" rx="4.8" ry="4.0" fill="#ffa500"/>
<ellipse cx="1264.2" cy="271.7" rx="4.8" ry="4.0" fill="#ffa500"/>
<ellipse cx="1058.9" cy="415.6" rx="4.8" ry="4.0" fill="#ff0000"/>
<ellipse cx="904.3" cy="709.6" rx="4.8" ry="4.0" fill="#eef040"/>
<ellipse cx="811.5" cy="600.1" rx="4.8" ry="4.0" fill="#eef040"/>
<ellipse cx="919.9" cy="623.6" rx="4.8" ry="4.0" fill="#66f2d2"/>
<ellipse cx="1067.9" cy="566.2" rx="4.8" ry="4.0" fill="#ffa500"/>
<ellipse cx="1102.8" cy="623.2" rx="4.8" ry="4.0" fill="#66f2d2"/>
<ellipse cx="1168.9" cy="809.5" rx="4.8" ry="4.0" fill="#66f2d2"/>
<ellipse cx="1060.1" cy="478.2" rx="4.8" ry="4.0" fill="#ffa500"/>
<ellipse cx="1106.8" cy="770.7" rx="4.8" ry="4.0" fill="#66f2d2"/>
<ellipse cx="885.8" cy="621.0" rx="4.8" ry="4.0" fill="#eef040"/>
<ellipse cx="722.4" cy="865.6" rx="4.8" ry="4.0" fill="#3c9aff"/>
<ellipse cx="1096.4" cy="776.4" rx="4.8" ry="4.0" fill="#3c9aff"/>
<ellipse cx="803.4" cy="490.6" rx="4.8" ry="4.0" fill="#ffa500"/>
<ellipse cx="1271.6" cy="206.8" rx="4.8" ry="4.0" fill="#ffa500"/>
<ellipse cx="1101.7" cy="411.1" rx="4.8" ry="4.0" fill="#ffa500"/>
<ellipse cx="1149.0" cy="748.8" rx="4.8" ry="4.0" fill="#3c9aff"/>
<ellipse cx="1205.2" cy="686.0" rx="4.8" ry="4.0" fill="#66f2d2"/>
<ellipse cx="1188.7" cy="726.4" rx="4.8" ry="4.0" fill="#66f2d2"/>
<ellipse cx="1099.6" cy="423.9" rx="4.8" ry="4.0" fill="#ff0000"/>
<ellipse cx="715.4" cy="762.7" rx="4.8" ry="4.0" fill="#ffa500"/>
<ellipse cx="1013.5" cy="765.6" rx="4.8" ry="4.0" fill="#3c9aff"/>
<ellipse cx="1046.6" cy="466.8" rx="4.8" ry="4.0" fill="#ffa500"/>
<ellipse cx="356.7" cy="261.0" rx="4.8" ry="4.0" fill="#ff0000"/>
<ellipse cx="918.0" cy="466.6" rx="4.8" ry="4.0" fill="#ff0000"/>
<ellipse cx="1071.0" cy="304.1" rx="4.8" ry="4.0" fill="#ff0000"/>
<ellipse cx="1000.2" cy="524.7" rx="4.8" ry="4.0" fill="#ffa500"/>
<ellipse cx="1152.9" cy="748.8" rx="4.8" ry="4.0" fill="#66f2d2"/>
<ellipse cx="1216.6" cy="716.2" rx="4.8" ry="4.0" fill="#0a0aff"/>
<ellipse cx="919.5" cy="710.6" rx="4.8" ry="4.0" fill="#66f2d2"/>
<ellipse cx="756.2" cy="831.2" rx="4.8" ry="4.0" fill="#66f2d2"/>
<ellipse cx="841.2" cy="639.9" rx="4.8" ry="4.0" fill="#eef040"/>
<ellipse cx="1317.2" cy="281.0" rx="4.8" ry="4.0" fill="#ffa500"/>
<ellipse cx="1062.6" cy="831.9" rx="4.8" ry="4.0" fill="#3c9aff"/>
<ellipse cx="1219.9" cy="658.8" rx="4.8" ry="4.0" fill="#66f2d2"/>
<ellipse cx="1349.4" cy="275.7" rx="4.8" ry="4.0" fill="#ffa500"/>
<ellipse cx="1061.8" cy="757.3" rx="4.8" ry="4.0" fill="#66f2d2"/>
<ellipse cx="1130.6" cy="553.4" rx="4.8" ry="4.0" fill="#eef040"/>
<ellipse cx="919.0" cy="548.5" rx="4.8" ry="4.0" fill="#ffa500"/>
<ellipse cx="952.9" cy="741.7" rx="4.8" ry="4.0" fill="#66f2d2"/>
<ellipse cx="985.1" cy="488.3" rx="4.8" ry="4.0" fill="#ffa500"/>
<ellipse cx="1153.0" cy="638.0" rx="4.8" ry="4.0" fill="#eef040"/>
<ellipse cx="1104.4" cy="544.6" rx="4.8" ry="4.0" fill="#ffa500"/>
<ellipse cx="1023.8" cy="536.8" rx="4.8" ry="4.0" fill="#ffa500"/>
<ellipse cx="1255.8" cy="632.8" rx="4.8" ry="4.0" fill="#66f2d2"/>
<ellipse cx="1142.0" cy="644.5" rx="4.8" ry="4.0" fill="#66f2d2"/>
<ellipse cx="970.4" cy="809.8" rx="4.8" ry="4.0" fill="#66f2d2"/>
<ellipse cx="1087.1" cy="849.7" rx="4.8" ry="4.0" fill="#3c9aff"/>
<ellipse cx="999.1" cy="460.9" rx="4.8" ry="4.0" fill="#ff0000"/>
<ellipse cx="1197.4" cy="202.8" rx="4.8" ry="4.0" fill="#ffa500"/>
<ellipse cx="1026.3" cy="389.2" rx="4.8" ry="4.0" fill="#ff0000"/>
<ellipse cx="685.7" cy="720.2" rx="4.8" ry="4.0" fill="#66f2d2"/>
<ellipse cx="1105.2" cy="513.0" rx="4.8" ry="4.0" fill="#ffa500"/>
<ellipse cx="729.0" cy="789.1" rx="4.8" ry="4.0" fill="#ffa500"/>
<ellipse cx="1207.0" cy="707.1" rx="4.8" ry="4.0" fill="#3c9aff"/>
<ellipse cx="853.4" cy="645.3" rx="4.8" ry="4.0" fill="#eef040"/>
<ellipse cx="657.4" cy="695.9" rx="4.8" ry="4.0" fill="#ffa500"/>
<ellipse cx="1237.6" cy="391.8" rx="4.8" ry="4.0" fill="#ffa500"/>
<ellipse cx="694.1" cy="812.9" rx="4.8" ry="4.0" fill="#66f2d2"/>
<ellipse cx="1221.3" cy="622.5" rx="4.8" ry="4.0" fill="#3c9aff"/>
<ellipse cx="789.3" cy="694.0" rx="4.8" ry="4.0" fill="#eef040"/>
<ellipse cx="1167.0" cy="320.3" rx="4.8" ry="4.0" fill="#ff0000"/>
<ellipse cx="1092.8" cy="545.8" rx="4.8" ry="4.0" fill="#ffa500"/>
<ellipse cx="401.4" cy="285.5" rx="4.8" ry="4.0" fill="#ffa500"/>
<ellipse cx="1198.4" cy="690.1" rx="4.8" ry="4.0" fill="#66f2d2"/>
<ellipse cx="1133.5" cy="649.6" rx="4.8" ry="4.0" fill="#3c9aff"/>
<ellipse cx="1100.7" cy="607.4" rx="4.8" ry="4.0" fill="#3c9aff"/>
<ellipse cx="1221.0" cy="169.0" rx="4.8" ry="4.0" fill="#ffa500"/>
<ellipse cx="1264.8" cy="675.7" rx="4.8" ry="4.0" fill="#66f2d2"/>
<ellipse cx="1183.9" cy="187.3" rx="4.8" ry="4.0" fill="#ffa500"/>
<ellipse cx="962.0" cy="818.2" rx="4.8" ry="4.0" fill="#eef040"/>
<ellipse cx="1239.5" cy="583.8" rx="4.8" ry="4.0" fill="#66f2d2"/>
<ellipse cx="1157.5" cy="552.2" rx="4.8" ry="4.0" fill="#eef040"/>
<ellipse cx="998.6" cy="604.0" rx="4.8" ry="4.0" fill="#ffa500"/>
<ellipse cx="1160.6" cy="561.3" rx="4.8" ry="4.0" fill="#eef040"/>
<ellipse cx="935.7" cy="562.2" rx="4.8" ry="4.0" fill="#ffa500"/>
<ellipse cx="1035.7" cy="420.1" rx="4.8" ry="4.0" fill="#ff0000"/>
<ellipse cx="1137.3" cy="670.5" rx="4.8" ry="4.0" fill="#3c9aff"/>
<ellipse cx="1301.1" cy="173.1" rx="4.8" ry="4.0" fill="#eef040"/>
<ellipse cx="801.4" cy="687.2" rx="4.8" ry="4.0" fill="#eef040"/>
<ellipse cx="1190.4" cy="571.2" rx="4.8" ry="4.0" fill="#eef040"/>
<ellipse cx="1120.4" cy="598.7" rx="4.8" ry="4.0" fill="#66f2d2"/>
<ellipse cx="862.9" cy="702.1" rx="4.8" ry="4.0" fill="#66f2d2"/>
<ellipse cx="1016.3" cy="758.5" rx="4.8" ry="4.0" fill="#3c9aff"/>
<ellipse cx="899.3" cy="784.7" rx="4.8" ry="4.0" fill="#66f2d2"/>
<ellipse cx="626.1" cy="366.1" rx="4.8" ry="4.0" fill="#ff0000"/>
<ellipse cx="975.3" cy="432.2" rx="4.8" ry="4.0" fill="#ffa500"/>
<ellipse cx="1197.6" cy="576.9" rx="4.8" ry="4.0" fill="#eef040"/>
<ellipse cx="1237.1" cy="608.6" rx="4.8" ry="4.0" fill="#66f2d2"/>
<ellipse cx="650.6" cy="498.2" rx="4.8" ry="4.0" fill="#ff0000"/>
<ellipse cx="1200.6" cy="689.1" rx="4.8" ry="4.0" fill="#66f2d2"/>
<ellipse cx="1194.6" cy="490.0" rx="4.8" ry="4.0" fill="#ffa500"/>
<ellipse cx="1112.0" cy="531.6" rx="4.8" ry="4.0" fill="#ffa500"/>
<ellipse cx="1004.0" cy="848.3" rx="4.8" ry="4.0" fill="#66f2d2"/>
<ellipse cx="756.6" cy="731.7" rx="4.8" ry="4.0" fill="#ffa500"/>
<ellipse cx="1117.0" cy="389.1" rx="4.8" ry="4.0" fill="#ffa500"/>
<ellipse cx="324.6" cy="326.0" rx="4.8" ry="4.0" fill="#ff0000"/>
<ellipse cx="1083.9" cy="484.8" rx="4.8" ry="4.0" fill="#ffa500"/>
<ellipse cx="841.2" cy="706.1" rx="4.8" ry="4.0" fill="#66f2d2"/>
<ellipse cx="1206.6" cy="550.2" rx="4.8" ry="4.0" fill="#eef040"/>
<ellipse cx="1224.9" cy="757.6" rx="4.8" ry="4.0" fill="#66f2d2"/>
<ellipse cx="775.8" cy="842.0" rx="4.8" ry="4.0" fill="#0a0aff"/>
<ellipse cx="777.8" cy="824.4" rx="4.8" ry="4.0" fill="#eef040"/>
<ellipse cx="449.7" cy="258.0" rx="4.8" ry="4.0" fill="#ff0000"/>
<ellipse cx="1150.8" cy="266.3" rx="4.8" ry="4.0" fill="#ffa500"/>
<ellipse cx="369.3" cy="285.5" rx="4.8" ry="4.0" fill="#ffa500"/>
<ellipse cx="731.9" cy="865.6" rx="4.8" ry="4.0" fill="#66f2d2"/>
<ellipse cx="1177.8" cy="330.4" rx="4.8" ry="4.0" fill="#ff0000"/>
<ellipse cx="1017.0" cy="623.4" rx="4.8" ry="4.0" fill="#eef040"/>
<ellipse cx="1077.9" cy="745.1" rx="4.8" ry="4.0" fill="#0a0aff"/>
<ellipse cx="1112.8" cy="594.5" rx="4.8" ry="4.0" fill="#66f2d2"/>
<ellipse cx="1220.7" cy="630.8" rx="4.8" ry="4.0" fill="#3c9aff"/>
<ellipse cx="852.0" cy="548.1" rx="4.8" ry="4.0" fill="#ffa500"/>
<ellipse cx="992.5" cy="385.9" rx="4.8" ry="4.0" fill="#ff0000"/>
<ellipse cx="1155.5" cy="335.1" rx="4.8" ry="4.0" fill="#ff0000"/>
<ellipse cx="702.9" cy="417.1" rx="4.8" ry="4.0" fill="#ff0000"/>
<ellipse cx="681.8" cy="587.6" rx="4.8" ry="4.0" fill="#ffa500"/>
<ellipse cx="988.1" cy="756.3" rx="4.8" ry="4.0" fill="#66f2d2"/>
<ellipse cx="1044.4" cy="388.1" rx="4.8" ry="4.0" fill="#ffa500"/>
<ellipse cx="1219.8" cy="687.6" rx="4.8" ry="4.0" fill="#66f2d2"/>
<ellipse cx="1201.4" cy="312.2" rx="4.8" ry="4.0" fill="#ff0000"/>
<ellipse cx="1119.9" cy="785.4" rx="4.8" ry="4.0" fill="#66f2d2"/>
<ellipse cx="918.9" cy="540.2" rx="4.8" ry="4.0" fill="#ffa500"/>
<ellipse cx="1097.4" cy="193.3" rx="4.8" ry="4.0" fill="#ff0000"/>
<ellipse cx="854.1" cy="637.2" rx="4.8" ry="4.0" fill="#ffa500"/>
<ellipse cx="826.4" cy="585.2" rx="4.8" ry="4.0" fill="#ffa500"/>
<ellipse cx="845.3" cy="531.8" rx="4.8" ry="4.0" fill="#ffa500"/>
<ellipse cx="1234.5" cy="84.6" rx="4.8" ry="4.0" fill="#ffa500"/>
<ellipse cx="1141.7" cy="690.2" rx="4.8" ry="4.0" fill="#3c9aff"/>
<ellipse cx="859.5" cy="479.1" rx="4.8" ry="4.0" fill="#ff0000"/>
<ellipse cx="1242.0" cy="633.1" rx="4.8" ry="4.0" fill="#3c9aff"/>
<ellipse cx="1163.8" cy="375.7" rx="4.8" ry="4.0" fill="#ffa500"/>
<ellipse cx="408.1" cy="329.4" rx="4.8" ry="4.0" fill="#ff0000"/>
<ellipse cx="1004.4" cy="811.1" rx="4.8" ry="4.0" fill="#3c9aff"/>
<ellipse cx="1177.9" cy="569.7" rx="4.8" ry="4.0" fill="#eef040"/>
<ellipse cx="1199.5" cy="358.3" rx="4.8" ry="4.0" fill="#ff0000"/>
<ellipse cx="1249.3" cy="268.3" rx="4.8" ry="4.0" fill="#ff0000"/>
<ellipse cx="1213.6" cy="702.9" rx="4.8" ry="4.0" fill="#66f2d2"/>
<ellipse cx="865.6" cy="606.8" rx="4.8" ry="4.0" fill="#eef040"/>
<ellipse cx="772.4" cy="433.5" rx="4.8" ry="4.0" fill="#ff0000"/>
<ellipse cx="631.1" cy="460.2" rx="4.8" ry="4.0" fill="#ff0000"/>
<ellipse cx="1177.1" cy="300.0" rx="4.8" ry="4.0" fill="#ffa500"/>
<ellipse cx="1140.7" cy="574.5" rx="4.8" ry="4.0" fill="#eef040"/>
<ellipse cx="1144.0" cy="514.6" rx="4.8" ry="4.0" fill="#ffa500"/>
<ellipse cx="1115.3" cy="834.1" rx="4.8" ry="4.0" fill="#3c9aff"/>
<ellipse cx="994.9" cy="544.4" rx="4.8" ry="4.0" fill="#ffa500"/>
<ellipse cx="1033.2" cy="589.4" rx="4.8" ry="4.0" fill="#eef040"/>
<ellipse cx="1164.0" cy="515.0" rx="4.8" ry="4.0" fill="#eef040"/>
<ellipse cx="1109.2" cy="809.4" rx="4.8" ry="4.0" fill="#66f2d2"/>
<ellipse cx="1219.9" cy="373.8" rx="4.8" ry="4.0" fill="#ffa500"/>
<ellipse cx="692.5" cy="702.6" rx="4.8" ry="4.0" fill="#ffa500"/>
<ellipse cx="1174.1" cy="751.7" rx="4.8" ry="4.0" fill="#3c9aff"/>
<ellipse cx="1018.9" cy="694.0" rx="4.8" ry="4.0" fill="#3c9aff"/>
<ellipse cx="980.8" cy="749.3" rx="4.8" ry="4.0" fill="#66f2d2"/>
<ellipse cx="1062.2" cy="377.6" rx="4.8" ry="4.0" fill="#ffa500"/>
<ellipse cx="1173.7" cy="254.8" rx="4.8" ry="4.0" fill="#ffa500"/>
<ellipse cx="777.1" cy="833.2" rx="4.8" ry="4.0" fill="#eef040"/>
<ellipse cx="1041.3" cy="488.7" rx="4.8" ry="4.0" fill="#ffa500"/>
<ellipse cx="815.6" cy="665.6" rx="4.8" ry="4.0" fill="#66f2d2"/>
<ellipse cx="647.2" cy="393.1" rx="4.8" ry="4.0" fill="#ff0000"/>
<ellipse cx="1162.7" cy="387.7" rx="4.8" ry="4.0" fill="#ffa500"/>
<ellipse cx="1153.4" cy="617.2" rx="4.8" ry="4.0" fill="#66f2d2"/>
<ellipse cx="772.2" cy="731.7" rx="4.8" ry="4.0" fill="#66f2d2"/>
<ellipse cx="1217.3" cy="605.2" rx="4.8" ry="4.0" fill="#66f2d2"/>
<ellipse cx="1047.8" cy="571.6" rx="4.8" ry="4.0" fill="#ffa500"/>
<ellipse cx="1091.3" cy="712.7" rx="4.8" ry="4.0" fill="#66f2d2"/>
<ellipse cx="915.7" cy="534.0" rx="4.8" ry="4.0" fill="#ffa500"/>
<ellipse cx="1352.6" cy="284.3" rx="4.8" ry="4.0" fill="#ffa500"/>
<ellipse cx="945.3" cy="814.3" rx="4.8" ry="4.0" fill="#66f2d2"/>
<ellipse cx="873.7" cy="680.4" rx="4.8" ry="4.0" fill="#66f2d2"/>
<ellipse cx="1223.9" cy="356.3" rx="4.8" ry="4.0" fill="#ff0000"/>
<ellipse cx="1119.3" cy="637.7" rx="4.8" ry="4.0" fill="#3c9aff"/>
<ellipse cx="850.0" cy="492.6" rx="4.8" ry="4.0" fill="#ff0000"/>
<ellipse cx="897.4" cy="805.0" rx="4.8" ry="4.0" fill="#66f2d2"/>
<ellipse cx="1121.1" cy="708.5" rx="4.8" ry="4.0" fill="#3c9aff"/>
<ellipse cx="1155.4" cy="553.8" rx="4.8" ry="4.0" fill="#eef040"/>
<ellipse cx="1094.2" cy="636.6" rx="4.8" ry="4.0" fill="#eef040"/>
<ellipse cx="1207.1" cy="646.5" rx="4.8" ry="4.0" fill="#66f2d2"/>
<ellipse cx="366.8" cy="239.1" rx="4.8" ry="4.0" fill="#ff0000"/>
<ellipse cx="905.1" cy="853.8" rx="4.8" ry="4.0" fill="#66f2d2"/>
<ellipse cx="955.7" cy="932.2" rx="4.8" ry="4.0" fill="#0a0aff"/>
<ellipse cx="1235.6" cy="632.9" rx="4.8" ry="4.0" fill="#3c9aff"/>
<ellipse cx="1085.4" cy="804.2" rx="4.8" ry="4.0" fill="#3c9aff"/>
<ellipse cx="729.8" cy="524.3" rx="4.8" ry="4.0" fill="#ffa500"/>
<ellipse cx="1215.7" cy="672.9" rx="4.8" ry="4.0" fill="#66f2d2"/>
<ellipse cx="1261.5" cy="136.6" rx="4.8" ry="4.0" fill="#ffa500"/>
<ellipse cx="1274.3" cy="251.4" rx="4.8" ry="4.0" fill="#ffa500"/>
<ellipse cx="818.3" cy="514.9" rx="4.8" ry="4.0" fill="#ffa500"/>
<ellipse cx="1192.2" cy="683.7" rx="4.8" ry="4.0" fill="#eef040"/>
<ellipse cx="852.0" cy="799.4" rx="4.8" ry="4.0" fill="#eef040"/>
<ellipse cx="1164.4" cy="636.7" rx="4.8" ry="4.0" fill="#0a0aff"/>
<ellipse cx="1125.1" cy="477.8" rx="4.8" ry="4.0" fill="#ffa500"/>
<ellipse cx="483.6" cy="670.8" rx="4.8" ry="4.0" fill="#ff0000"/>
<ellipse cx="1166.5" cy="556.6" rx="4.8" ry="4.0" fill="#ffa500"/>
<ellipse cx="1054.1" cy="814.7" rx="4.8" ry="4.0" fill="#0a0aff"/>
<ellipse cx="944.0" cy="541.5" rx="4.8" ry="4.0" fill="#ffa500"/>
<ellipse cx="896.1" cy="649.6" rx="4.8" ry="4.0" fill="#eef040"/>
<ellipse cx="845.3" cy="721.0" rx="4.8" ry="4.0" fill="#eef040"/>
<ellipse cx="1092.8" cy="694.1" rx="4.8" ry="4.0" fill="#3c9aff"/>
<ellipse cx="723.1" cy="451.7" rx="4.8" ry="4.0" fill="#ffa500"/>
<ellipse cx="953.2" cy="750.8" rx="4.8" ry="4.0" fill="#66f2d2"/>
<ellipse cx="769.5" cy="665.5" rx="4.8" ry="4.0" fill="#eef040"/>
<ellipse cx="1083.5" cy="365.5" rx="4.8" ry="4.0" fill="#ff0000"/>
<ellipse cx="945.1" cy="758.0" rx="4.8" ry="4.0" fill="#eef040"/>
<ellipse cx="1079.6" cy="461.9" rx="4.8" ry="4.0" fill="#ffa500"/>
<ellipse cx="871.0" cy="544.1" rx="4.8" ry="4.0" fill="#ffa500"/>
<ellipse cx="1128.7" cy="809.0" rx="4.8" ry="4.0" fill="#66f2d2"/>
<ellipse cx="1181.7" cy="510.7" rx="4.8" ry="4.0" fill="#ffa500"/>
<ellipse cx="1115.7" cy="724.8" rx="4.8" ry="4.0" fill="#66f2d2"/>
<ellipse cx="864.9" cy="491.9" rx="4.8" ry="4.0" fill="#ff0000"/>
<ellipse cx="1143.7" cy="760.4" rx="4.8" ry="4.0" fill="#3c9aff"/>
<ellipse cx="1141.5" cy="782.3" rx="4.8" ry="4.0" fill="#66f2d2"/>
<ellipse cx="944.6" cy="806.6" rx="4.8" ry="4.0" fill="#66f2d2"/>
<ellipse cx="816.9" cy="694.0" rx="4.8" ry="4.0" fill="#0a0aff"/>
<ellipse cx="959.6" cy="383.7" rx="4.8" ry="4.0" fill="#ffa500"/>
<ellipse cx="1042.0" cy="670.6" rx="4.8" ry="4.0" fill="#66f2d2"/>
<ellipse cx="454.0" cy="272.4" rx="4.8" ry="4.0" fill="#ff0000"/>
<ellipse cx="681.0" cy="797.8" rx="4.8" ry="4.0" fill="#3c9aff"/>
<ellipse cx="902.1" cy="597.0" rx="4.8" ry="4.0" fill="#eef040"/>
<ellipse cx="1194.4" cy="732.3" rx="4.8" ry="4.0" fill="#66f2d2"/>
<ellipse cx="983.5" cy="601.9" rx="4.8" ry="4.0" fill="#ffa500"/>
<ellipse cx="907.3" cy="608.2" rx="4.8" ry="4.0" fill="#eef040"/>
<ellipse cx="974.9" cy="449.6" rx="4.8" ry="4.0" fill="#ffa500"/>
<ellipse cx="657.6" cy="811.0" rx="4.8" ry="4.0" fill="#66f2d2"/>
<ellipse cx="917.0" cy="575.5" rx="4.8" ry="4.0" fill="#ffa500"/>
<ellipse cx="1017.1" cy="720.2" rx="4.8" ry="4.0" fill="#eef040"/>
<ellipse cx="922.9" cy="558.1" rx="4.8" ry="4.0" fill="#ffa500"/>
<ellipse cx="1055.1" cy="727.9" rx="4.8" ry="4.0" fill="#66f2d2"/>
<ellipse cx="1136.4" cy="396.3" rx="4.8" ry="4.0" fill="#ffa500"/>
<ellipse cx="1006.8" cy="512.5" rx="4.8" ry="4.0" fill="#ffa500"/>
<ellipse cx="1396.6" cy="132.9" rx="4.8" ry="4.0" fill="#ffa500"/>
<ellipse cx="1018.4" cy="442.2" rx="4.8" ry="4.0" fill="#ff0000"/>
<ellipse cx="938.7" cy="665.7" rx="4.8" ry="4.0" fill="#66f2d2"/>
<ellipse cx="779.1" cy="710.2" rx="4.8" ry="4.0" fill="#eef040"/>
<ellipse cx="1152.1" cy="129.8" rx="4.8" ry="4.0" fill="#ffa500"/>
<ellipse cx="467.5" cy="256.3" rx="4.8" ry="4.0" fill="#ff0000"/>
<ellipse cx="1113.0" cy="772.3" rx="4.8" ry="4.0" fill="#66f2d2"/>
<ellipse cx="778.5" cy="778.5" rx="4.8" ry="4.0" fill="#eef040"/>
<ellipse cx="1069.0" cy="668.6" rx="4.8" ry="4.0" fill="#3c9aff"/>
<ellipse cx="1052.7" cy="395.4" rx="4.8" ry="4.0" fill="#ff0000"/>
<ellipse cx="1001.2" cy="492.0" rx="4.8" ry="4.0" fill="#ff0000"/>
<ellipse cx="997.4" cy="760.8" rx="4.8" ry="4.0" fill="#3c9aff"/>
<ellipse cx="1094.2" cy="793.9" rx="4.8" ry="4.0" fill="#66f2d2"/>
<ellipse cx="943.4" cy="492.8" rx="4.8" ry="4.0" fill="#ffa500"/>
<ellipse cx="938.6" cy="708.3" rx="4.8" ry="4.0" fill="#eef040"/>
<ellipse cx="1208.3" cy="571.8" rx="4.8" ry="4.0" fill="#66f2d2"/>
<ellipse cx="1077.9" cy="388.0" rx="4.8" ry="4.0" fill="#ffa500"/>
<ellipse cx="1065.5" cy="834.6" rx="4.8" ry="4.0" fill="#0a0aff"/>
<ellipse cx="1028.8" cy="612.5" rx="4.8" ry="4.0" fill="#eef040"/>
<ellipse cx="860.8" cy="826.4" rx="4.8" ry="4.0" fill="#66f2d2"/>
<ellipse cx="1217.6" cy="186.6" rx="4.8" ry="4.0" fill="#ffa500"/>
<ellipse cx="895.1" cy="837.3" rx="4.8" ry="4.0" fill="#eef040"/>
<ellipse cx="984.2" cy="442.4" rx="4.8" ry="4.0" fill="#ffa500"/>
<ellipse cx="937.9" cy="550.4" rx="4.8" ry="4.0" fill="#ffa500"/>
<ellipse cx="967.4" cy="668.0" rx="4.8" ry="4.0" fill="#3c9aff"/>
<ellipse cx="1198.9" cy="643.0" rx="4.8" ry="4.0" fill="#66f2d2"/>
<ellipse cx="1257.8" cy="668.6" rx="4.8" ry="4.0" fill="#66f2d2"/>
<ellipse cx="1208.5" cy="693.1" rx="4.8" ry="4.0" fill="#eef040"/>
<ellipse cx="1057.3" cy="632.3" rx="4.8" ry="4.0" fill="#eef040"/>
<ellipse cx="1055.7" cy="589.2" rx="4.8" ry="4.0" fill="#66f2d2"/>
<ellipse cx="945.3" cy="838.5" rx="4.8" ry="4.0" fill="#66f2d2"/>
<ellipse cx="1089.5" cy="788.4" rx="4.8" ry="4.0" fill="#66f2d2"/>
<ellipse cx="908.3" cy="467.8" rx="4.8" ry="4.0" fill="#ff0000"/>
<ellipse cx="937.8" cy="778.2" rx="4.8" ry="4.0" fill="#eef040"/>
<ellipse cx="903.0" cy="544.1" rx="4.8" ry="4.0" fill="#ffa500"/>
<ellipse cx="1125.8" cy="141.4" rx="4.8" ry="4.0" fill="#ff0000"/>
<ellipse cx="873.7" cy="379.2" rx="4.8" ry="4.0" fill="#ff0000"/>
<ellipse cx="1239.2" cy="317.6" rx="4.8" ry="4.0" fill="#ffa500"/>
<ellipse cx="780.5" cy="642.0" rx="4.8" ry="4.0" fill="#ffa500"/>
<ellipse cx="1219.5" cy="588.5" rx="4.8" ry="4.0" fill="#66f2d2"/>
<ellipse cx="1171.0" cy="333.1" rx="4.8" ry="4.0" fill="#ff0000"/>
<ellipse cx="945.4" cy="791.6" rx="4.8" ry="4.0" fill="#3c9aff"/>
<ellipse cx="873.7" cy="461.5" rx="4.8" ry="4.0" fill="#ff0000"/>
<ellipse cx="1066.4" cy="675.0" rx="4.8" ry="4.0" fill="#66f2d2"/>
<ellipse cx="722.2" cy="751.3" rx="4.8" ry="4.0" fill="#66f2d2"/>
<ellipse cx="1162.2" cy="643.8" rx="4.8" ry="4.0" fill="#66f2d2"/>
<ellipse cx="1093.1" cy="570.0" rx="4.8" ry="4.0" fill="#eef040"/>
<ellipse cx="860.2" cy="783.2" rx="4.8" ry="4.0" fill="#66f2d2"/>
<ellipse cx="1143.4" cy="676.6" rx="4.8" ry="4.0" fill="#3c9aff"/>
<ellipse cx="1167.7" cy="347.2" rx="4.8" ry="4.0" fill="#ff0000"/>
<ellipse cx="968.3" cy="545.0" rx="4.8" ry="4.0" fill="#ff0000"/>
<ellipse cx="723.5" cy="744.5" rx="4.8" ry="4.0" fill="#eef040"/>
<ellipse cx="1138.0" cy="769.7" rx="4.8" ry="4.0" fill="#66f2d2"/>
<ellipse cx="994.8" cy="931.6" rx="4.8" ry="4.0" fill="#3c9aff"/>
<ellipse cx="1079.9" cy="758.8" rx="4.8" ry="4.0" fill="#3c9aff"/>
<ellipse cx="972.5" cy="630.3" rx="4.8" ry="4.0" fill="#ffa500"/>
<ellipse cx="1125.1" cy="456.2" rx="4.8" ry="4.0" fill="#eef040"/>
<ellipse cx="576.3" cy="607.0" rx="4.8" ry="4.0" fill="#ffa500"/>
<ellipse cx="992.9" cy="693.5" rx="4.8" ry="4.0" fill="#3c9aff"/>
<ellipse cx="1132.2" cy="787.8" rx="4.8" ry="4.0" fill="#66f2d2"/>
<ellipse cx="1084.2" cy="564.4" rx="4.8" ry="4.0" fill="#eef040"/>
<ellipse cx="1020.2" cy="676.2" rx="4.8" ry="4.0" fill="#3c9aff"/>
<ellipse cx="1278.4" cy="233.2" rx="4.8" ry="4.0" fill="#ffa500"/>
<ellipse cx="959.8" cy="698.3" rx="4.8" ry="4.0" fill="#66f2d2"/>
<ellipse cx="1063.5" cy="608.2" rx="4.8" ry="4.0" fill="#eef040"/>
<ellipse cx="1140.7" cy="381.6" rx="4.8" ry="4.0" fill="#ffa500"/>
<ellipse cx="1118.5" cy="817.2" rx="4.8" ry="4.0" fill="#66f2d2"/>
<ellipse cx="540.0" cy="323.0" rx="4.8" ry="4.0" fill="#ff0000"/>
<ellipse cx="1142.1" cy="624.5" rx="4.8" ry="4.0" fill="#66f2d2"/>
<ellipse cx="944.2" cy="705.7" rx="4.8" ry="4.0" fill="#eef040"/>
<ellipse cx="1219.7" cy="394.7" rx="4.8" ry="4.0" fill="#ffa500"/>
<ellipse cx="1280.4" cy="275.7" rx="4.8" ry="4.0" fill="#ffa500"/>
<ellipse cx="1196.0" cy="154.9" rx="4.8" ry="4.0" fill="#ffa500"/>
<ellipse cx="975.9" cy="564.4" rx="4.8" ry="4.0" fill="#ffa500"/>
<ellipse cx="1069.2" cy="572.2" rx="4.8" ry="4.0" fill="#eef040"/>
<ellipse cx="1239.6" cy="629.9" rx="4.8" ry="4.0" fill="#3c9aff"/>
<ellipse cx="1005.4" cy="413.9" rx="4.8" ry="4.0" fill="#ffa500"/>
<ellipse cx="845.3" cy="660.2" rx="4.8" ry="4.0" fill="#66f2d2"/>
<ellipse cx="1036.5" cy="719.9" rx="4.8" ry="4.0" fill="#66f2d2"/>
<ellipse cx="589.8" cy="433.7" rx="4.8" ry="4.0" fill="#ff0000"/>
<ellipse cx="1200.8" cy="710.2" rx="4.8" ry="4.0" fill="#66f2d2"/>
<ellipse cx="1203.6" cy="584.9" rx="4.8" ry="4.0" fill="#eef040"/>
<ellipse cx="289.1" cy="425.6" rx="4.8" ry="4.0" fill="#ff0000"/>
<ellipse cx="399.7" cy="256.0" rx="4.8" ry="4.0" fill="#ff0000"/>
<ellipse cx="1100.0" cy="703.7" rx="4.8" ry="4.0" fill="#66f2d2"/>
<ellipse cx="959.0" cy="395.4" rx="4.8" ry="4.0" fill="#ffa500"/>
<ellipse cx="1157.7" cy="522.1" rx="4.8" ry="4.0" fill="#ffa500"/>
<ellipse cx="932.4" cy="753.0" rx="4.8" ry="4.0" fill="#eef040"/>
<ellipse cx="1037.7" cy="740.7" rx="4.8" ry="4.0" fill="#3c9aff"/>
<ellipse cx="1025.6" cy="555.1" rx="4.8" ry="4.0" fill="#ffa500"/>
<ellipse cx="914.5" cy="851.9" rx="4.8" ry="4.0" fill="#66f2d2"/>
<ellipse cx="1122.1" cy="602.1" rx="4.8" ry="4.0" fill="#3c9aff"/>
<ellipse cx="1197.8" cy="747.8" rx="4.8" ry="4.0" fill="#3c9aff"/>
<ellipse cx="1094.4" cy="565.7" rx="4.8" ry="4.0" fill="#eef040"/>
<ellipse cx="905.0" cy="587.0" rx="4.8" ry="4.0" fill="#ffa500"/>
<ellipse cx="1020.3" cy="310.9" rx="4.8" ry="4.0" fill="#ff0000"/>
<ellipse cx="1338.7" cy="167.8" rx="4.8" ry="4.0" fill="#ffa500"/>
<ellipse cx="1018.8" cy="396.9" rx="4.8" ry="4.0" fill="#ff0000"/>
<ellipse cx="957.9" cy="559.8" rx="4.8" ry="4.0" fill="#ffa500"/>
<ellipse cx="1006.4" cy="677.3" rx="4.8" ry="4.0" fill="#66f2d2"/>
<ellipse cx="1024.1" cy="476.4" rx="4.8" ry="4.0" fill="#ffa500"/>
<ellipse cx="959.6" cy="561.5" rx="4.8" ry="4.0" fill="#ffa500"/>
<ellipse cx="946.9" cy="735.5" rx="4.8" ry="4.0" fill="#eef040"/>
<ellipse cx="1128.2" cy="446.6" rx="4.8" ry="4.0" fill="#ffa500"/>
<ellipse cx="1187.0" cy="573.7" rx="4.8" ry="4.0" fill="#eef040"/>
<ellipse cx="1146.0" cy="629.7" rx="4.8" ry="4.0" fill="#66f2d2"/>
<ellipse cx="1098.9" cy="467.5" rx="4.8" ry="4.0" fill="#ffa500"/>
<ellipse cx="919.0" cy="819.0" rx="4.8" ry="4.0" fill="#3c9aff"/>
<ellipse cx="887.2" cy="865.6" rx="4.8" ry="4.0" fill="#66f2d2"/>
<ellipse cx="1240.6" cy="251.4" rx="4.8" ry="4.0" fill="#ffa500"/>
<ellipse cx="955.5" cy="778.3" rx="4.8" ry="4.0" fill="#66f2d2"/>
<ellipse cx="1056.4" cy="495.1" rx="4.8" ry="4.0" fill="#ffa500"/>
<ellipse cx="995.2" cy="814.4" rx="4.8" ry="4.0" fill="#3c9aff"/>
<ellipse cx="1068.3" cy="387.9" rx="4.8" ry="4.0" fill="#ffa500"/>
<ellipse cx="1182.1" cy="455.6" rx="4.8" ry="4.0" fill="#ffa500"/>
<ellipse cx="1048.0" cy="624.0" rx="4.8" ry="4.0" fill="#eef040"/>
<ellipse cx="1153.5" cy="677.8" rx="4.8" ry="4.0" fill="#0a0aff"/>
<ellipse cx="943.9" cy="746.6" rx="4.8" ry="4.0" fill="#eef040"/>
<ellipse cx="1068.6" cy="749.6" rx="4.8" ry="4.0" fill="#66f2d2"/>
<ellipse cx="1006.3" cy="468.6" rx="4.8" ry="4.0" fill="#ff0000"/>
<ellipse cx="1242.0" cy="638.3" rx="4.8" ry="4.0" fill="#3c9aff"/>
<ellipse cx="1178.6" cy="526.9" rx="4.8" ry="4.0" fill="#ffa500"/>
<ellipse cx="769.5" cy="789.1" rx="4.8" ry="4.0" fill="#ffa500"/>
<ellipse cx="1041.9" cy="854.8" rx="4.8" ry="4.0" fill="#0a0aff"/>
<ellipse cx="953.0" cy="772.3" rx="4.8" ry="4.0" fill="#66f2d2"/>
<ellipse cx="1254.7" cy="652.5" rx="4.8" ry="4.0" fill="#eef040"/>
<ellipse cx="1212.9" cy="169.7" rx="4.8" ry="4.0" fill="#ffa500"/>
<ellipse cx="1135.5" cy="703.5" rx="4.8" ry="4.0" fill="#3c9aff"/>
<ellipse cx="1044.6" cy="486.2" rx="4.8" ry="4.0" fill="#ffa500"/>
<ellipse cx="1041.7" cy="522.7" rx="4.8" ry="4.0" fill="#ffa500"/>
<ellipse cx="934.7" cy="875.5" rx="4.8" ry="4.0" fill="#0a0aff"/>
<ellipse cx="1124.8" cy="628.3" rx="4.8" ry="4.0" fill="#66f2d2"/>
<ellipse cx="1330.1" cy="328.8" rx="4.8" ry="4.0" fill="#ffa500"/>
<ellipse cx="1183.4" cy="543.8" rx="4.8" ry="4.0" fill="#eef040"/>
<ellipse cx="812.9" cy="677.7" rx="4.8" ry="4.0" fill="#66f2d2"/>
<ellipse cx="965.5" cy="486.4" rx="4.8" ry="4.0" fill="#ffa500"/>
<ellipse cx="1288.5" cy="321.0" rx="4.8" ry="4.0" fill="#eef040"/>
<ellipse cx="730.5" cy="827.8" rx="4.8" ry="4.0" fill="#3c9aff"/>
<ellipse cx="1033.3" cy="635.5" rx="4.8" ry="4.0" fill="#eef040"/>
<ellipse cx="991.9" cy="649.2" rx="4.8" ry="4.0" fill="#66f2d2"/>
<ellipse cx="944.9" cy="725.4" rx="4.8" ry="4.0" fill="#eef040"/>
<ellipse cx="869.6" cy="572.4" rx="4.8" ry="4.0" fill="#ffa500"/>
<ellipse cx="752.8" cy="452.8" rx="4.8" ry="4.0" fill="#ff0000"/>
<ellipse cx="1144.0" cy="602.0" rx="4.8" ry="4.0" fill="#66f2d2"/>
<ellipse cx="1133.3" cy="541.5" rx="4.8" ry="4.0" fill="#eef040"/>
<ellipse cx="1087.1" cy="648.8" rx="4.8" ry="4.0" fill="#eef040"/>
<ellipse cx="1024.2" cy="517.4" rx="4.8" ry="4.0" fill="#ffa500"/>
<ellipse cx="1006.4" cy="644.4" rx="4.8" ry="4.0" fill="#eef040"/>
<ellipse cx="1028.2" cy="445.0" rx="4.8" ry="4.0" fill="#ffa500"/>
<ellipse cx="1240.8" cy="611.2" rx="4.8" ry="4.0" fill="#3c9aff"/>
<ellipse cx="1063.7" cy="443.6" rx="4.8" ry="4.0" fill="#ff0000"/>
<ellipse cx="1045.5" cy="589.8" rx="4.8" ry="4.0" fill="#eef040"/>
<ellipse cx="1115.5" cy="406.5" rx="4.8" ry="4.0" fill="#ffa500"/>
<ellipse cx="1137.8" cy="656.8" rx="4.8" ry="4.0" fill="#66f2d2"/>
<ellipse cx="1097.8" cy="597.7" rx="4.8" ry="4.0" fill="#eef040"/>
<ellipse cx="935.5" cy="806.9" rx="4.8" ry="4.0" fill="#66f2d2"/>
<ellipse cx="1095.4" cy="616.6" rx="4.8" ry="4.0" fill="#eef040"/>
<ellipse cx="954.9" cy="596.2" rx="4.8" ry="4.0" fill="#ffa500"/>
<ellipse cx="1045.8" cy="822.7" rx="4.8" ry="4.0" fill="#0a0aff"/>
<ellipse cx="1143.1" cy="582.2" rx="4.8" ry="4.0" fill="#66f2d2"/>
<ellipse cx="356.7" cy="283.8" rx="4.8" ry="4.0" fill="#ffa500"/>
<ellipse cx="1022.1" cy="448.9" rx="4.8" ry="4.0" fill="#ff0000"/>
<ellipse cx="953.6" cy="812.2" rx="4.8" ry="4.0" fill="#66f2d2"/>
<ellipse cx="1012.3" cy="511.9" rx="4.8" ry="4.0" fill="#ffa500"/>
<ellipse cx="981.7" cy="769.5" rx="4.8" ry="4.0" fill="#66f2d2"/>
<ellipse cx="982.8" cy="677.8" rx="4.8" ry="4.0" fill="#3c9aff"/>
<ellipse cx="1133.3" cy="765.2" rx="4.8" ry="4.0" fill="#66f2d2"/>
<ellipse cx="1128.8" cy="704.4" rx="4.8" ry="4.0" fill="#3c9aff"/>
<ellipse cx="1238.4" cy="358.4" rx="4.8" ry="4.0" fill="#eef040"/>
<ellipse cx="1165.4" cy="506.9" rx="4.8" ry="4.0" fill="#eef040"/>
<ellipse cx="1079.6" cy="778.5" rx="4.8" ry="4.0" fill="#66f2d2"/>
<ellipse cx="1095.5" cy="458.6" rx="4.8" ry="4.0" fill="#ffa500"/>
<ellipse cx="1277.0" cy="299.3" rx="4.8" ry="4.0" fill="#eef040"/>
<ellipse cx="920.0" cy="590.1" rx="4.8" ry="4.0" fill="#eef040"/>
<ellipse cx="849.4" cy="782.5" rx="4.8" ry="4.0" fill="#eef040"/>
<ellipse cx="688.0" cy="538.7" rx="4.8" ry="4.0" fill="#ffa500"/>
<ellipse cx="979.5" cy="836.4" rx="4.8" ry="4.0" fill="#66f2d2"/>
<ellipse cx="1114.8" cy="584.0" rx="4.8" ry="4.0" fill="#66f2d2"/>
<ellipse cx="979.8" cy="822.5" rx="4.8" ry="4.0" fill="#66f2d2"/>
<ellipse cx="1102.6" cy="754.5" rx="4.8" ry="4.0" fill="#66f2d2"/>
<ellipse cx="1184.9" cy="774.3" rx="4.8" ry="4.0" fill="#66f2d2"/>
<ellipse cx="1157.0" cy="817.3" rx="4.8" ry="4.0" fill="#66f2d2"/>
<ellipse cx="1079.2" cy="461.2" rx="4.8" ry="4.0" fill="#ff0000"/>
<ellipse cx="1075.6" cy="783.2" rx="4.8" ry="4.0" fill="#66f2d2"/>
<ellipse cx="1079.1" cy="732.6" rx="4.8" ry="4.0" fill="#66f2d2"/>
<ellipse cx="994.7" cy="403.1" rx="4.8" ry="4.0" fill="#ffa500"/>
<ellipse cx="773.5" cy="719.5" rx="4.8" ry="4.0" fill="#eef040"/>
<ellipse cx="1227.3" cy="707.9" rx="4.8" ry="4.0" fill="#0a0aff"/>
<ellipse cx="1120.6" cy="504.2" rx="4.8" ry="4.0" fill="#ffa500"/>
<ellipse cx="866.9" cy="464.2" rx="4.8" ry="4.0" fill="#ff0000"/>
<ellipse cx="1188.6" cy="121.0" rx="4.8" ry="4.0" fill="#ffa500"/>
<ellipse cx="1157.5" cy="627.7" rx="4.8" ry="4.0" fill="#0a0aff"/>
<ellipse cx="796.0" cy="429.1" rx="4.8" ry="4.0" fill="#ff0000"/>
<ellipse cx="622.8" cy="398.1" rx="4.8" ry="4.0" fill="#ff0000"/>
<ellipse cx="975.7" cy="464.0" rx="4.8" ry="4.0" fill="#ffa500"/>
<ellipse cx="695.2" cy="633.8" rx="4.8" ry="4.0" fill="#ffa500"/>
<ellipse cx="1080.6" cy="373.1" rx="4.8" ry="4.0" fill="#ff0000"/>
<ellipse cx="693.8" cy="786.4" rx="4.8" ry="4.0" fill="#eef040"/>
<ellipse cx="881.8" cy="684.5" rx="4.8" ry="4.0" fill="#66f2d2"/>
<ellipse cx="1197.3" cy="478.3" rx="4.8" ry="4.0" fill="#ffa500"/>
<ellipse cx="912.6" cy="827.9" rx="4.8" ry="4.0" fill="#66f2d2"/>
<ellipse cx="982.1" cy="498.2" rx="4.8" ry="4.0" fill="#ffa500"/>
<ellipse cx="912.6" cy="690.7" rx="4.8" ry="4.0" fill="#66f2d2"/>
<ellipse cx="1171.3" cy="544.1" rx="4.8" ry="4.0" fill="#eef040"/>
<ellipse cx="1140.2" cy="458.5" rx="4.8" ry="4.0" fill="#eef040"/>
<ellipse cx="1061.5" cy="842.6" rx="4.8" ry="4.0" fill="#0a0aff"/>
<ellipse cx="1221.2" cy="644.2" rx="4.8" ry="4.0" fill="#66f2d2"/>
<ellipse cx="1135.1" cy="693.4" rx="4.8" ry="4.0" fill="#66f2d2"/>
<ellipse cx="715.4" cy="691.8" rx="4.8" ry="4.0" fill="#ffa500"/>
<ellipse cx="844.0" cy="773.1" rx="4.8" ry="4.0" fill="#66f2d2"/>
<ellipse cx="1037.0" cy="843.6" rx="4.8" ry="4.0" fill="#0a0aff"/>
<ellipse cx="932.8" cy="813.9" rx="4.8" ry="4.0" fill="#66f2d2"/>
<ellipse cx="1164.2" cy="673.0" rx="4.8" ry="4.0" fill="#3c9aff"/>
<ellipse cx="1226.0" cy="365.6" rx="4.8" ry="4.0" fill="#ffa500"/>
<ellipse cx="1131.1" cy="587.2" rx="4.8" ry="4.0" fill="#66f2d2"/>
<ellipse cx="861.5" cy="544.1" rx="4.8" ry="4.0" fill="#ffa500"/>
<ellipse cx="1217.2" cy="616.8" rx="4.8" ry="4.0" fill="#66f2d2"/>
<ellipse cx="1089.2" cy="731.1" rx="4.8" ry="4.0" fill="#66f2d2"/>
<ellipse cx="1062.6" cy="484.6" rx="4.8" ry="4.0" fill="#ffa500"/>
<ellipse cx="1079.6" cy="630.4" rx="4.8" ry="4.0" fill="#eef040"/>
<ellipse cx="1051.4" cy="564.1" rx="4.8" ry="4.0" fill="#eef040"/>
<ellipse cx="534.1" cy="612.9" rx="4.8" ry="4.0" fill="#ffa500"/>
<ellipse cx="915.3" cy="776.5" rx="4.8" ry="4.0" fill="#66f2d2"/>
<ellipse cx="818.3" cy="685.8" rx="4.8" ry="4.0" fill="#66f2d2"/>
<ellipse cx="1036.9" cy="681.3" rx="4.8" ry="4.0" fill="#66f2d2"/>
<ellipse cx="1148.2" cy="591.8" rx="4.8" ry="4.0" fill="#66f2d2"/>
<ellipse cx="988.3" cy="687.8" rx="4.8" ry="4.0" fill="#66f2d2"/>
<ellipse cx="253.7" cy="370.8" rx="4.8" ry="4.0" fill="#ff0000"/>
<ellipse cx="1104.6" cy="796.8" rx="4.8" ry="4.0" fill="#66f2d2"/>
<ellipse cx="871.0" cy="453.4" rx="4.8" ry="4.0" fill="#ff0000"/>
<ellipse cx="972.2" cy="829.3" rx="4.8" ry="4.0" fill="#66f2d2"/>
<ellipse cx="1054.1" cy="839.3" rx="4.8" ry="4.0" fill="#3c9aff"/>
<ellipse cx="1059.3" cy="736.0" rx="4.8" ry="4.0" fill="#66f2d2"/>
<ellipse cx="1024.9" cy="616.8" rx="4.8" ry="4.0" fill="#eef040"/>
<ellipse cx="1125.5" cy="535.4" rx="4.8" ry="4.0" fill="#eef040"/>
<ellipse cx="1179.8" cy="236.6" rx="4.8" ry="4.0" fill="#ffa500"/>
<ellipse cx="1167.1" cy="616.8" rx="4.8" ry="4.0" fill="#eef040"/>
<ellipse cx="816.9" cy="653.4" rx="4.8" ry="4.0" fill="#66f2d2"/>
<ellipse cx="1118.6" cy="669.8" rx="4.8" ry="4.0" fill="#eef040"/>
<ellipse cx="959.5" cy="682.0" rx="4.8" ry="4.0" fill="#66f2d2"/>
<ellipse cx="1096.9" cy="430.8" rx="4.8" ry="4.0" fill="#ffa500"/>
<ellipse cx="1062.8" cy="534.5" rx="4.8" ry="4.0" fill="#ffa500"/>
<ellipse cx="805.5" cy="496.6" rx="4.8" ry="4.0" fill="#ffa500"/>
<ellipse cx="1233.8" cy="613.2" rx="4.8" ry="4.0" fill="#66f2d2"/>
<ellipse cx="864.2" cy="751.5" rx="4.8" ry="4.0" fill="#3c9aff"/>
<ellipse cx="1014.8" cy="369.6" rx="4.8" ry="4.0" fill="#ff0000"/>
<ellipse cx="1135.6" cy="467.6" rx="4.8" ry="4.0" fill="#eef040"/>
<ellipse cx="1161.1" cy="397.3" rx="4.8" ry="4.0" fill="#ffa500"/>
<ellipse cx="1143.4" cy="666.3" rx="4.8" ry="4.0" fill="#3c9aff"/>
<ellipse cx="1031.5" cy="807.4" rx="4.8" ry="4.0" fill="#66f2d2"/>
<ellipse cx="731.0" cy="779.6" rx="4.8" ry="4.0" fill="#ffa500"/>
<ellipse cx="1023.7" cy="674.8" rx="4.8" ry="4.0" fill="#66f2d2"/>
<ellipse cx="1003.1" cy="694.0" rx="4.8" ry="4.0" fill="#66f2d2"/>
<ellipse cx="1173.6" cy="568.5" rx="4.8" ry="4.0" fill="#eef040"/>
<ellipse cx="1195.7" cy="447.9" rx="4.8" ry="4.0" fill="#ffa500"/>
<ellipse cx="787.2" cy="665.6" rx="4.8" ry="4.0" fill="#0a0aff"/>
<ellipse cx="1001.9" cy="779.2" rx="4.8" ry="4.0" fill="#3c9aff"/>
<ellipse cx="1078.8" cy="488.7" rx="4.8" ry="4.0" fill="#ffa500"/>
<ellipse cx="1082.3" cy="602.6" rx="4.8" ry="4.0" fill="#eef040"/>
<ellipse cx="1224.4" cy="256.8" rx="4.8" ry="4.0" fill="#ffa500"/>
<ellipse cx="758.9" cy="444.0" rx="4.8" ry="4.0" fill="#ff0000"/>
<ellipse cx="1209.6" cy="589.8" rx="4.8" ry="4.0" fill="#66f2d2"/>
<ellipse cx="1084.9" cy="552.0" rx="4.8" ry="4.0" fill="#eef040"/>
<ellipse cx="986.8" cy="410.7" rx="4.8" ry="4.0" fill="#ffa500"/>
<ellipse cx="1013.8" cy="546.8" rx="4.8" ry="4.0" fill="#ffa500"/>
<ellipse cx="865.6" cy="716.9" rx="4.8" ry="4.0" fill="#ffa500"/>
<ellipse cx="891.7" cy="751.8" rx="4.8" ry="4.0" fill="#66f2d2"/>
<ellipse cx="1078.9" cy="603.4" rx="4.8" ry="4.0" fill="#66f2d2"/>
<ellipse cx="937.8" cy="794.3" rx="4.8" ry="4.0" fill="#3c9aff"/>
<ellipse cx="1145.7" cy="761.0" rx="4.8" ry="4.0" fill="#66f2d2"/>
<ellipse cx="1207.7" cy="652.4" rx="4.8" ry="4.0" fill="#3c9aff"/>
<ellipse cx="1047.1" cy="533.1" rx="4.8" ry="4.0" fill="#ffa500"/>
<ellipse cx="1117.5" cy="494.0" rx="4.8" ry="4.0" fill="#eef040"/>
<ellipse cx="898.6" cy="795.1" rx="4.8" ry="4.0" fill="#eef040"/>
<ellipse cx="1104.2" cy="399.6" rx="4.8" ry="4.0" fill="#ffa500"/>
<ellipse cx="1145.1" cy="348.3" rx="4.8" ry="4.0" fill="#ff0000"/>
<ellipse cx="1176.4" cy="725.3" rx="4.8" ry="4.0" fill="#66f2d2"/>
<ellipse cx="717.0" cy="804.1" rx="4.8" ry="4.0" fill="#eef040"/>
<ellipse cx="1243.5" cy="609.2" rx="4.8" ry="4.0" fill="#3c9aff"/>
<ellipse cx="873.7" cy="596.7" rx="4.8" ry="4.0" fill="#eef040"/>
<ellipse cx="952.8" cy="726.1" rx="4.8" ry="4.0" fill="#eef040"/>
<ellipse cx="914.0" cy="670.1" rx="4.8" ry="4.0" fill="#eef040"/>
<ellipse cx="1091.8" cy="809.0" rx="4.8" ry="4.0" fill="#66f2d2"/>
<ellipse cx="839.9" cy="410.5" rx="4.8" ry="4.0" fill="#ff0000"/>
<ellipse cx="1106.7" cy="587.1" rx="4.8" ry="4.0" fill="#eef040"/>
<ellipse cx="1115.3" cy="591.6" rx="4.8" ry="4.0" fill="#66f2d2"/>
<ellipse cx="239.3" cy="351.3" rx="4.8" ry="4.0" fill="#ff0000"/>
<ellipse cx="1167.3" cy="773.8" rx="4.8" ry="4.0" fill="#3c9aff"/>
<ellipse cx="999.7" cy="479.0" rx="4.8" ry="4.0" fill="#ffa500"/>
<ellipse cx="1007.9" cy="725.9" rx="4.8" ry="4.0" fill="#eef040"/>
<ellipse cx="1025.7" cy="682.3" rx="4.8" ry="4.0" fill="#66f2d2"/>
<ellipse cx="735.2" cy="480.4" rx="4.8" ry="4.0" fill="#ffa500"/>
<ellipse cx="1286.5" cy="248.0" rx="4.8" ry="4.0" fill="#ffa500"/>
<ellipse cx="1201.7" cy="375.2" rx="4.8" ry="4.0" fill="#ffa500"/>
<ellipse cx="983.1" cy="434.8" rx="4.8" ry="4.0" fill="#ffa500"/>
<ellipse cx="821.0" cy="763.0" rx="4.8" ry="4.0" fill="#eef040"/>
<ellipse cx="936.5" cy="597.6" rx="4.8" ry="4.0" fill="#ffa500"/>
<ellipse cx="1134.9" cy="712.7" rx="4.8" ry="4.0" fill="#3c9aff"/>
<ellipse cx="808.2" cy="793.3" rx="4.8" ry="4.0" fill="#ffa500"/>
<ellipse cx="1183.9" cy="684.2" rx="4.8" ry="4.0" fill="#66f2d2"/>
<ellipse cx="1181.4" cy="551.5" rx="4.8" ry="4.0" fill="#eef040"/>
<ellipse cx="618.2" cy="662.1" rx="4.8" ry="4.0" fill="#ffa500"/>
<ellipse cx="988.1" cy="688.3" rx="4.8" ry="4.0" fill="#66f2d2"/>
<ellipse cx="519.1" cy="666.6" rx="4.8" ry="4.0" fill="#ffa500"/>
<ellipse cx="1082.0" cy="629.4" rx="4.8" ry="4.0" fill="#66f2d2"/>
<ellipse cx="853.4" cy="734.5" rx="4.8" ry="4.0" fill="#eef040"/>
<ellipse cx="1098.8" cy="285.2" rx="4.8" ry="4.0" fill="#ffa500"/>
<ellipse cx="1026.6" cy="572.9" rx="4.8" ry="4.0" fill="#eef040"/>
<ellipse cx="1125.1" cy="732.6" rx="4.8" ry="4.0" fill="#66f2d2"/>
<ellipse cx="1157.7" cy="371.3" rx="4.8" ry="4.0" fill="#ffa500"/>
<ellipse cx="786.6" cy="550.8" rx="4.8" ry="4.0" fill="#ffa500"/>
<ellipse cx="538.5" cy="672.5" rx="4.8" ry="4.0" fill="#ffa500"/>
<ellipse cx="1109.9" cy="707.1" rx="4.8" ry="4.0" fill="#66f2d2"/>
<ellipse cx="1065.3" cy="395.1" rx="4.8" ry="4.0" fill="#ff0000"/>
<ellipse cx="836.5" cy="593.3" rx="4.8" ry="4.0" fill="#ffa500"/>
<ellipse cx="380.3" cy="280.4" rx="4.8" ry="4.0" fill="#ff0000"/>
<ellipse cx="1193.1" cy="569.5" rx="4.8" ry="4.0" fill="#66f2d2"/>
<ellipse cx="920.0" cy="684.1" rx="4.8" ry="4.0" fill="#66f2d2"/>
<ellipse cx="1122.9" cy="817.4" rx="4.8" ry="4.0" fill="#66f2d2"/>
<ellipse cx="1036.7" cy="577.3" rx="4.8" ry="4.0" fill="#eef040"/>
<ellipse cx="957.5" cy="651.9" rx="4.8" ry="4.0" fill="#66f2d2"/>
<ellipse cx="1153.6" cy="352.0" rx="4.8" ry="4.0" fill="#ff0000"/>
<ellipse cx="1057.7" cy="552.5" rx="4.8" ry="4.0" fill="#ffa500"/>
<ellipse cx="1077.1" cy="434.0" rx="4.8" ry="4.0" fill="#ff0000"/>
<ellipse cx="972.3" cy="732.8" rx="4.8" ry="4.0" fill="#66f2d2"/>
<ellipse cx="1120.4" cy="623.5" rx="4.8" ry="4.0" fill="#3c9aff"/>
<ellipse cx="1078.1" cy="409.4" rx="4.8" ry="4.0" fill="#ffa500"/>
<ellipse cx="999.6" cy="518.7" rx="4.8" ry="4.0" fill="#ffa500"/>
<ellipse cx="1200.8" cy="702.7" rx="4.8" ry="4.0" fill="#66f2d2"/>
<ellipse cx="984.4" cy="737.3" rx="4.8" ry="4.0" fill="#66f2d2"/>
<ellipse cx="1031.5" cy="389.6" rx="4.8" ry="4.0" fill="#ffa500"/>
<ellipse cx="922.6" cy="736.0" rx="4.8" ry="4.0" fill="#eef040"/>
<ellipse cx="1117.5" cy="734.8" rx="4.8" ry="4.0" fill="#66f2d2"/>
<ellipse cx="498.7" cy="283.4" rx="4.8" ry="4.0" fill="#ff0000"/>
<ellipse cx="1140.2" cy="764.9" rx="4.8" ry="4.0" fill="#66f2d2"/>
<ellipse cx="996.6" cy="454.8" rx="4.8" ry="4.0" fill="#ffa500"/>
<ellipse cx="884.5" cy="544.1" rx="4.8" ry="4.0" fill="#ffa500"/>
<ellipse cx="856.1" cy="654.8" rx="4.8" ry="4.0" fill="#eef040"/>
<ellipse cx="1040.4" cy="591.6" rx="4.8" ry="4.0" fill="#eef040"/>
<ellipse cx="1081.0" cy="746.3" rx="4.8" ry="4.0" fill="#3c9aff"/>
<ellipse cx="1011.8" cy="671.9" rx="4.8" ry="4.0" fill="#eef040"/>
<ellipse cx="822.3" cy="816.3" rx="4.8" ry="4.0" fill="#eef040"/>
<ellipse cx="1258.8" cy="292.6" rx="4.8" ry="4.0" fill="#ffa500"/>
<ellipse cx="959.6" cy="432.1" rx="4.8" ry="4.0" fill="#ffa500"/>
<ellipse cx="839.9" cy="673.7" rx="4.8" ry="4.0" fill="#eef040"/>
<ellipse cx="965.3" cy="649.6" rx="4.8" ry="4.0" fill="#66f2d2"/>
<ellipse cx="304.3" cy="322.6" rx="4.8" ry="4.0" fill="#ff0000"/>
<ellipse cx="1035.0" cy="516.1" rx="4.8" ry="4.0" fill="#ffa500"/>
<ellipse cx="1033.4" cy="708.1" rx="4.8" ry="4.0" fill="#eef040"/>
<ellipse cx="1226.4" cy="275.0" rx="4.8" ry="4.0" fill="#ffa500"/>
<ellipse cx="1062.0" cy="639.9" rx="4.8" ry="4.0" fill="#eef040"/>
<ellipse cx="1134.7" cy="533.3" rx="4.8" ry="4.0" fill="#ffa500"/>
<ellipse cx="1108.8" cy="783.6" rx="4.8" ry="4.0" fill="#66f2d2"/>
<ellipse cx="515.7" cy="673.4" rx="4.8" ry="4.0" fill="#ff0000"/>
<ellipse cx="896.0" cy="584.4" rx="4.8" ry="4.0" fill="#eef040"/>
<ellipse cx="848.7" cy="625.8" rx="4.8" ry="4.0" fill="#eef040"/>
<ellipse cx="994.1" cy="597.1" rx="4.8" ry="4.0" fill="#ffa500"/>
<ellipse cx="884.5" cy="798.1" rx="4.8" ry="4.0" fill="#66f2d2"/>
<ellipse cx="1245.3" cy="163.0" rx="4.8" ry="4.0" fill="#ffa500"/>
<ellipse cx="1093.2" cy="775.8" rx="4.8" ry="4.0" fill="#eef040"/>
<ellipse cx="1241.0" cy="663.9" rx="4.8" ry="4.0" fill="#3c9aff"/>
<ellipse cx="1164.0" cy="757.7" rx="4.8" ry="4.0" fill="#3c9aff"/>
<ellipse cx="1054.8" cy="530.0" rx="4.8" ry="4.0" fill="#ffa500"/>
<ellipse cx="1011.3" cy="612.3" rx="4.8" ry="4.0" fill="#eef040"/>
<ellipse cx="1048.1" cy="509.3" rx="4.8" ry="4.0" fill="#ffa500"/>
<ellipse cx="1019.8" cy="491.4" rx="4.8" ry="4.0" fill="#ffa500"/>
<ellipse cx="1076.2" cy="845.8" rx="4.8" ry="4.0" fill="#0a0aff"/>
<ellipse cx="1041.8" cy="776.3" rx="4.8" ry="4.0" fill="#66f2d2"/>
<ellipse cx="1020.7" cy="620.0" rx="4.8" ry="4.0" fill="#eef040"/>
<ellipse cx="1079.5" cy="759.1" rx="4.8" ry="4.0" fill="#66f2d2"/>
<ellipse cx="1221.7" cy="210.2" rx="4.8" ry="4.0" fill="#ffa500"/>
<ellipse cx="1173.9" cy="382.0" rx="4.8" ry="4.0" fill="#ffa500"/>
<ellipse cx="980.3" cy="683.2" rx="4.8" ry="4.0" fill="#66f2d2"/>
<ellipse cx="940.7" cy="369.4" rx="4.8" ry="4.0" fill="#ffa500"/>
<ellipse cx="1084.4" cy="455.1" rx="4.8" ry="4.0" fill="#ffa500"/>
<ellipse cx="1133.9" cy="323.0" rx="4.8" ry="4.0" fill="#ffa500"/>
<ellipse cx="1079.3" cy="574.2" rx="4.8" ry="4.0" fill="#eef040"/>
<ellipse cx="1076.3" cy="703.4" rx="4.8" ry="4.0" fill="#66f2d2"/>
<ellipse cx="476.7" cy="280.0" rx="4.8" ry="4.0" fill="#ff0000"/>
<ellipse cx="1082.4" cy="263.0" rx="4.8" ry="4.0" fill="#ffa500"/>
<ellipse cx="776.4" cy="566.3" rx="4.8" ry="4.0" fill="#ffa500"/>
<ellipse cx="723.1" cy="624.8" rx="4.8" ry="4.0" fill="#ffa500"/>
<ellipse cx="995.2" cy="677.5" rx="4.8" ry="4.0" fill="#66f2d2"/>
<ellipse cx="896.9" cy="712.4" rx="4.8" ry="4.0" fill="#eef040"/>
<ellipse cx="670.9" cy="792.4" rx="4.8" ry="4.0" fill="#66f2d2"/>
<ellipse cx="965.0" cy="788.9" rx="4.8" ry="4.0" fill="#3c9aff"/>
<ellipse cx="998.4" cy="650.5" rx="4.8" ry="4.0" fill="#eef040"/>
<ellipse cx="827.7" cy="697.3" rx="4.8" ry="4.0" fill="#3c9aff"/>
<ellipse cx="1079.7" cy="827.2" rx="4.8" ry="4.0" fill="#3c9aff"/>
<ellipse cx="916.9" cy="707.3" rx="4.8" ry="4.0" fill="#66f2d2"/>
<ellipse cx="1071.3" cy="631.7" rx="4.8" ry="4.0" fill="#eef040"/>
<ellipse cx="918.6" cy="656.5" rx="4.8" ry="4.0" fill="#eef040"/>
<ellipse cx="1131.5" cy="826.4" rx="4.8" ry="4.0" fill="#66f2d2"/>
<ellipse cx="1198.1" cy="491.3" rx="4.8" ry="4.0" fill="#eef040"/>
<ellipse cx="1135.9" cy="374.9" rx="4.8" ry="4.0" fill="#ff0000"/>
<ellipse cx="922.0" cy="511.5" rx="4.8" ry="4.0" fill="#ffa500"/>
<ellipse cx="804.8" cy="665.6" rx="4.8" ry="4.0" fill="#3c9aff"/>
<ellipse cx="914.8" cy="571.4" rx="4.8" ry="4.0" fill="#ffa500"/>
<ellipse cx="955.9" cy="466.9" rx="4.8" ry="4.0" fill="#ffa500"/>
<ellipse cx="991.8" cy="491.8" rx="4.8" ry="4.0" fill="#ffa500"/>
<ellipse cx="1053.6" cy="510.3" rx="4.8" ry="4.0" fill="#ffa500"/>
<ellipse cx="1001.7" cy="769.2" rx="4.8" ry="4.0" fill="#3c9aff"/>
<ellipse cx="918.3" cy="843.1" rx="4.8" ry="4.0" fill="#66f2d2"/>
<ellipse cx="1157.3" cy="500.8" rx="4.8" ry="4.0" fill="#eef040"/>
<ellipse cx="324.6" cy="342.1" rx="4.8" ry="4.0" fill="#ff0000"/>
<ellipse cx="1140.1" cy="829.6" rx="4.8" ry="4.0" fill="#3c9aff"/>
<ellipse cx="928.4" cy="791.4" rx="4.8" ry="4.0" fill="#66f2d2"/>
<ellipse cx="963.2" cy="757.1" rx="4.8" ry="4.0" fill="#66f2d2"/>
<ellipse cx="370.2" cy="265.2" rx="4.8" ry="4.0" fill="#ff0000"/>
<ellipse cx="986.7" cy="741.1" rx="4.8" ry="4.0" fill="#eef040"/>
<ellipse cx="1021.5" cy="683.3" rx="4.8" ry="4.0" fill="#3c9aff"/>
<ellipse cx="1074.1" cy="452.4" rx="4.8" ry="4.0" fill="#ffa500"/>
<ellipse cx="1355.9" cy="210.7" rx="4.8" ry="4.0" fill="#ffa500"/>
<ellipse cx="1023.3" cy="642.8" rx="4.8" ry="4.0" fill="#eef040"/>
<ellipse cx="1042.2" cy="763.9" rx="4.8" ry="4.0" fill="#66f2d2"/>
<ellipse cx="925.3" cy="484.3" rx="4.8" ry="4.0" fill="#ffa500"/>
<ellipse cx="893.4" cy="626.6" rx="4.8" ry="4.0" fill="#eef040"/>
<ellipse cx="1017.0" cy="580.4" rx="4.8" ry="4.0" fill="#eef040"/>
<ellipse cx="1113.7" cy="428.4" rx="4.8" ry="4.0" fill="#ffa500"/>
<ellipse cx="899.3" cy="826.8" rx="4.8" ry="4.0" fill="#66f2d2"/>
<ellipse cx="1115.0" cy="164.3" rx="4.8" ry="4.0" fill="#ff0000"/>
<ellipse cx="958.3" cy="503.8" rx="4.8" ry="4.0" fill="#ffa500"/>
<ellipse cx="1122.3" cy="695.3" rx="4.8" ry="4.0" fill="#3c9aff"/>
<ellipse cx="1163.4" cy="363.1" rx="4.8" ry="4.0" fill="#ffa500"/>
<ellipse cx="1116.3" cy="704.3" rx="4.8" ry="4.0" fill="#66f2d2"/>
<ellipse cx="945.6" cy="715.3" rx="4.8" ry="4.0" fill="#eef040"/>
<ellipse cx="1017.7" cy="462.8" rx="4.8" ry="4.0" fill="#ffa500"/>
<ellipse cx="219.9" cy="319.3" rx="4.8" ry="4.0" fill="#ff0000"/>
<ellipse cx="1013.7" cy="748.4" rx="4.8" ry="4.0" fill="#66f2d2"/>
<ellipse cx="1155.7" cy="695.2" rx="4.8" ry="4.0" fill="#66f2d2"/>
<ellipse cx="924.4" cy="618.8" rx="4.8" ry="4.0" fill="#66f2d2"/>
<ellipse cx="887.2" cy="592.7" rx="4.8" ry="4.0" fill="#ffa500"/>
<ellipse cx="1162.3" cy="358.6" rx="4.8" ry="4.0" fill="#ff0000"/>
<ellipse cx="1151.4" cy="512.2" rx="4.8" ry="4.0" fill="#eef040"/>
<ellipse cx="1174.9" cy="688.3" rx="4.8" ry="4.0" fill="#3c9aff"/>
<ellipse cx="223.3" cy="362.3" rx="4.8" ry="4.0" fill="#ff0000"/>
<ellipse cx="1047.6" cy="783.7" rx="4.8" ry="4.0" fill="#3c9aff"/>
<ellipse cx="963.7" cy="723.1" rx="4.8" ry="4.0" fill="#eef040"/>
<ellipse cx="776.4" cy="516.9" rx="4.8" ry="4.0" fill="#ffa500"/>
<ellipse cx="766.3" cy="593.3" rx="4.8" ry="4.0" fill="#eef040"/>
<ellipse cx="1218.7" cy="405.1" rx="4.8" ry="4.0" fill="#ffa500"/>
<ellipse cx="978.7" cy="614.5" rx="4.8" ry="4.0" fill="#ffa500"/>
<ellipse cx="1113.9" cy="455.2" rx="4.8" ry="4.0" fill="#ffa500"/>
<ellipse cx="1012.3" cy="830.2" rx="4.8" ry="4.0" fill="#66f2d2"/>
<ellipse cx="982.5" cy="593.0" rx="4.8" ry="4.0" fill="#ffa500"/>
<ellipse cx="1139.0" cy="709.8" rx="4.8" ry="4.0" fill="#3c9aff"/>
<ellipse cx="1161.6" cy="508.6" rx="4.8" ry="4.0" fill="#eef040"/>
<ellipse cx="887.2" cy="820.4" rx="4.8" ry="4.0" fill="#66f2d2"/>
<ellipse cx="896.5" cy="721.5" rx="4.8" ry="4.0" fill="#eef040"/>
<ellipse cx="900.8" cy="748.0" rx="4.8" ry="4.0" fill="#66f2d2"/>
<ellipse cx="904.9" cy="727.7" rx="4.8" ry="4.0" fill="#eef040"/>
<ellipse cx="700.6" cy="664.1" rx="4.8" ry="4.0" fill="#ffa500"/>
<ellipse cx="881.8" cy="839.3" rx="4.8" ry="4.0" fill="#0a0aff"/>
<ellipse cx="1154.9" cy="386.8" rx="4.8" ry="4.0" fill="#ffa500"/>
<ellipse cx="1120.9" cy="548.9" rx="4.8" ry="4.0" fill="#eef040"/>
<ellipse cx="575.4" cy="617.2" rx="4.8" ry="4.0" fill="#ffa500"/>
<ellipse cx="841.2" cy="753.5" rx="4.8" ry="4.0" fill="#eef040"/>
<ellipse cx="488.6" cy="183.8" rx="4.8" ry="4.0" fill="#ff0000"/>
<ellipse cx="1105.5" cy="490.2" rx="4.8" ry="4.0" fill="#ffa500"/>
<ellipse cx="987.4" cy="850.1" rx="4.8" ry="4.0" fill="#66f2d2"/>
<ellipse cx="1032.5" cy="823.9" rx="4.8" ry="4.0" fill="#3c9aff"/>
<ellipse cx="987.0" cy="613.8" rx="4.8" ry="4.0" fill="#ffa500"/>
<ellipse cx="1281.1" cy="129.8" rx="4.8" ry="4.0" fill="#ffa500"/>
<ellipse cx="1174.7" cy="660.0" rx="4.8" ry="4.0" fill="#3c9aff"/>
<ellipse cx="792.0" cy="745.4" rx="4.8" ry="4.0" fill="#ffa500"/>
<ellipse cx="1181.3" cy="593.0" rx="4.8" ry="4.0" fill="#eef040"/>
<ellipse cx="1237.2" cy="214.3" rx="4.8" ry="4.0" fill="#ffa500"/>
<ellipse cx="1101.9" cy="767.6" rx="4.8" ry="4.0" fill="#66f2d2"/>
<ellipse cx="1003.3" cy="716.3" rx="4.8" ry="4.0" fill="#3c9aff"/>
<ellipse cx="1072.2" cy="543.6" rx="4.8" ry="4.0" fill="#eef040"/>
<ellipse cx="1154.1" cy="567.9" rx="4.8" ry="4.0" fill="#66f2d2"/>
<ellipse cx="1360.7" cy="222.5" rx="4.8" ry="4.0" fill="#ffa500"/>
<ellipse cx="1242.6" cy="615.8" rx="4.8" ry="4.0" fill="#eef040"/>
<ellipse cx="995.6" cy="485.7" rx="4.8" ry="4.0" fill="#ff0000"/>
<ellipse cx="1260.8" cy="217.0" rx="4.8" ry="4.0" fill="#ffa500"/>
<ellipse cx="400.9" cy="667.4" rx="4.8" ry="4.0" fill="#ffa500"/>
<ellipse cx="1001.4" cy="672.3" rx="4.8" ry="4.0" fill="#66f2d2"/>
<ellipse cx="974.6" cy="483.4" rx="4.8" ry="4.0" fill="#ffa500"/>
<ellipse cx="1075.8" cy="825.4" rx="4.8" ry="4.0" fill="#3c9aff"/>
<ellipse cx="1119.7" cy="709.1" rx="4.8" ry="4.0" fill="#3c9aff"/>
<ellipse cx="1020.7" cy="429.6" rx="4.8" ry="4.0" fill="#ffa500"/>
<ellipse cx="742.7" cy="816.3" rx="4.8" ry="4.0" fill="#66f2d2"/>
<ellipse cx="1198.4" cy="608.8" rx="4.8" ry="4.0" fill="#eef040"/>
<ellipse cx="952.8" cy="832.9" rx="4.8" ry="4.0" fill="#eef040"/>
<ellipse cx="1169.1" cy="571.8" rx="4.8" ry="4.0" fill="#eef040"/>
<ellipse cx="768.8" cy="644.6" rx="4.8" ry="4.0" fill="#ffa500"/>
<ellipse cx="1174.8" cy="604.0" rx="4.8" ry="4.0" fill="#66f2d2"/>
<ellipse cx="787.9" cy="836.6" rx="4.8" ry="4.0" fill="#eef040"/>
<ellipse cx="1139.7" cy="736.8" rx="4.8" ry="4.0" fill="#3c9aff"/>
<ellipse cx="881.8" cy="429.1" rx="4.8" ry="4.0" fill="#ff0000"/>
<ellipse cx="979.9" cy="584.2" rx="4.8" ry="4.0" fill="#ffa500"/>
<ellipse cx="285.8" cy="325.2" rx="4.8" ry="4.0" fill="#ff0000"/>
<ellipse cx="958.4" cy="676.5" rx="4.8" ry="4.0" fill="#66f2d2"/>
<ellipse cx="1043.0" cy="635.9" rx="4.8" ry="4.0" fill="#eef040"/>
<ellipse cx="1110.3" cy="308.1" rx="4.8" ry="4.0" fill="#ff0000"/>
<ellipse cx="1232.5" cy="181.2" rx="4.8" ry="4.0" fill="#ffa500"/>
<ellipse cx="674.2" cy="476.2" rx="4.8" ry="4.0" fill="#ff0000"/>
<ellipse cx="1195.6" cy="603.7" rx="4.8" ry="4.0" fill="#66f2d2"/>
<ellipse cx="973.7" cy="591.1" rx="4.8" ry="4.0" fill="#ffa500"/>
<ellipse cx="471.7" cy="307.0" rx="4.8" ry="4.0" fill="#ffa500"/>
<ellipse cx="975.4" cy="812.4" rx="4.8" ry="4.0" fill="#66f2d2"/>
<ellipse cx="1125.4" cy="773.6" rx="4.8" ry="4.0" fill="#66f2d2"/>
<ellipse cx="888.5" cy="486.5" rx="4.8" ry="4.0" fill="#ff0000"/>
<ellipse cx="1121.8" cy="593.6" rx="4.8" ry="4.0" fill="#66f2d2"/>
<ellipse cx="1185.7" cy="363.8" rx="4.8" ry="4.0" fill="#ffa500"/>
<ellipse cx="808.8" cy="843.3" rx="4.8" ry="4.0" fill="#3c9aff"/>
<ellipse cx="1098.3" cy="535.6" rx="4.8" ry="4.0" fill="#eef040"/>
<ellipse cx="973.3" cy="607.0" rx="4.8" ry="4.0" fill="#ffa500"/>
<ellipse cx="1054.0" cy="612.7" rx="4.8" ry="4.0" fill="#ffa500"/>
<ellipse cx="825.0" cy="714.2" rx="4.8" ry="4.0" fill="#eef040"/>
<ellipse cx="376.9" cy="329.4" rx="4.8" ry="4.0" fill="#ff0000"/>
<ellipse cx="1249.3" cy="174.4" rx="4.8" ry="4.0" fill="#ffa500"/>
<ellipse cx="1019.5" cy="469.7" rx="4.8" ry="4.0" fill="#ffa500"/>
<ellipse cx="1280.4" cy="198.1" rx="4.8" ry="4.0" fill="#ffa500"/>
<ellipse cx="1122.0" cy="809.0" rx="4.8" ry="4.0" fill="#66f2d2"/>
<ellipse cx="1171.8" cy="570.3" rx="4.8" ry="4.0" fill="#eef040"/>
<ellipse cx="1024.2" cy="754.1" rx="4.8" ry="4.0" fill="#66f2d2"/>
<ellipse cx="973.8" cy="532.8" rx="4.8" ry="4.0" fill="#ffa500"/>
<ellipse cx="1192.8" cy="549.7" rx="4.8" ry="4.0" fill="#eef040"/>
<ellipse cx="991.7" cy="468.1" rx="4.8" ry="4.0" fill="#ffa500"/>
<ellipse cx="841.9" cy="581.9" rx="4.8" ry="4.0" fill="#ffa500"/>
<ellipse cx="1001.6" cy="878.2" rx="4.8" ry="4.0" fill="#3c9aff"/>
<ellipse cx="921.6" cy="785.7" rx="4.8" ry="4.0" fill="#66f2d2"/>
<ellipse cx="1038.9" cy="836.4" rx="4.8" ry="4.0" fill="#0a0aff"/>
<ellipse cx="877.7" cy="629.1" rx="4.8" ry="4.0" fill="#eef040"/>
<ellipse cx="966.4" cy="525.9" rx="4.8" ry="4.0" fill="#ffa500"/>
<ellipse cx="942.5" cy="654.3" rx="4.8" ry="4.0" fill="#eef040"/>
<ellipse cx="306.0" cy="429.0" rx="4.8" ry="4.0" fill="#ff0000"/>
<ellipse cx="973.6" cy="628.4" rx="4.8" ry="4.0" fill="#ffa500"/>
<ellipse cx="1176.2" cy="362.1" rx="4.8" ry="4.0" fill="#ff0000"/>
<ellipse cx="972.7" cy="691.1" rx="4.8" ry="4.0" fill="#66f2d2"/>
<ellipse cx="942.9" cy="641.6" rx="4.8" ry="4.0" fill="#66f2d2"/>
<ellipse cx="898.6" cy="465.0" rx="4.8" ry="4.0" fill="#ffa500"/>
<ellipse cx="833.1" cy="657.5" rx="4.8" ry="4.0" fill="#66f2d2"/>
<ellipse cx="459.0" cy="312.9" rx="4.8" ry="4.0" fill="#ff0000"/>
<ellipse cx="1138.5" cy="696.2" rx="4.8" ry="4.0" fill="#3c9aff"/>
<ellipse cx="982.0" cy="535.5" rx="4.8" ry="4.0" fill="#ffa500"/>
<ellipse cx="1133.6" cy="629.4" rx="4.8" ry="4.0" fill="#66f2d2"/>
<ellipse cx="873.0" cy="515.6" rx="4.8" ry="4.0" fill="#ffa500"/>
<ellipse cx="984.4" cy="624.3" rx="4.8" ry="4.0" fill="#ffa500"/>
<ellipse cx="1119.4" cy="593.7" rx="4.8" ry="4.0" fill="#66f2d2"/>
<ellipse cx="583.1" cy="664.1" rx="4.8" ry="4.0" fill="#ffa500"/>
<ellipse cx="1200.1" cy="592.1" rx="4.8" ry="4.0" fill="#eef040"/>
<ellipse cx="1160.4" cy="623.9" rx="4.8" ry="4.0" fill="#0a0aff"/>
<ellipse cx="1232.2" cy="632.8" rx="4.8" ry="4.0" fill="#3c9aff"/>
<ellipse cx="1060.3" cy="819.2" rx="4.8" ry="4.0" fill="#3c9aff"/>
<ellipse cx="1137.5" cy="477.4" rx="4.8" ry="4.0" fill="#eef040"/>
<ellipse cx="1053.1" cy="653.0" rx="4.8" ry="4.0" fill="#eef040"/>
<ellipse cx="1225.7" cy="243.3" rx="4.8" ry="4.0" fill="#ffa500"/>
<ellipse cx="1136.1" cy="725.4" rx="4.8" ry="4.0" fill="#66f2d2"/>
<ellipse cx="976.6" cy="635.4" rx="4.8" ry="4.0" fill="#ffa500"/>
<ellipse cx="1241.6" cy="345.8" rx="4.8" ry="4.0" fill="#ffa500"/>
<ellipse cx="856.1" cy="714.2" rx="4.8" ry="4.0" fill="#eef040"/>
<ellipse cx="1059.9" cy="425.0" rx="4.8" ry="4.0" fill="#ffa500"/>
<ellipse cx="1206.7" cy="349.8" rx="4.8" ry="4.0" fill="#ffa500"/>
<ellipse cx="746.5" cy="665.5" rx="4.8" ry="4.0" fill="#eef040"/>
<ellipse cx="1203.8" cy="453.3" rx="4.8" ry="4.0" fill="#ffa500"/>
<ellipse cx="1109.5" cy="611.2" rx="4.8" ry="4.0" fill="#eef040"/>
<ellipse cx="341.5" cy="348.0" rx="4.8" ry="4.0" fill="#ff0000"/>
<ellipse cx="1057.3" cy="516.5" rx="4.8" ry="4.0" fill="#ffa500"/>
<ellipse cx="1033.5" cy="553.7" rx="4.8" ry="4.0" fill="#ffa500"/>
<ellipse cx="978.5" cy="841.8" rx="4.8" ry="4.0" fill="#66f2d2"/>
<ellipse cx="894.2" cy="733.9" rx="4.8" ry="4.0" fill="#eef040"/>
<ellipse cx="1179.7" cy="450.3" rx="4.8" ry="4.0" fill="#ffa500"/>
<ellipse cx="1311.8" cy="217.7" rx="4.8" ry="4.0" fill="#eef040"/>
<ellipse cx="923.4" cy="851.4" rx="4.8" ry="4.0" fill="#66f2d2"/>
<ellipse cx="1019.2" cy="425.5" rx="4.8" ry="4.0" fill="#ffa500"/>
<ellipse cx="1214.2" cy="280.4" rx="4.8" ry="4.0" fill="#ff0000"/>
<ellipse cx="936.0" cy="847.2" rx="4.8" ry="4.0" fill="#66f2d2"/>
<ellipse cx="1061.8" cy="543.3" rx="4.8" ry="4.0" fill="#ffa500"/>
<ellipse cx="913.7" cy="769.7" rx="4.8" ry="4.0" fill="#66f2d2"/>
<ellipse cx="838.5" cy="741.4" rx="4.8" ry="4.0" fill="#eef040"/>
<ellipse cx="1186.5" cy="598.5" rx="4.8" ry="4.0" fill="#66f2d2"/>
<ellipse cx="800.1" cy="631.8" rx="4.8" ry="4.0" fill="#ffa500"/>
<ellipse cx="1075.9" cy="559.4" rx="4.8" ry="4.0" fill="#ffa500"/>
<ellipse cx="1096.5" cy="616.8" rx="4.8" ry="4.0" fill="#eef040"/>
<ellipse cx="744.0" cy="533.1" rx="4.8" ry="4.0" fill="#ffa500"/>
<ellipse cx="1237.5" cy="698.8" rx="4.8" ry="4.0" fill="#0a0aff"/>
<ellipse cx="1174.7" cy="711.8" rx="4.8" ry="4.0" fill="#66f2d2"/>
<ellipse cx="880.4" cy="535.1" rx="4.8" ry="4.0" fill="#eef040"/>
<ellipse cx="1176.4" cy="771.1" rx="4.8" ry="4.0" fill="#66f2d2"/>
<ellipse cx="1248.0" cy="290.6" rx="4.8" ry="4.0" fill="#ffa500"/>
<ellipse cx="758.0" cy="691.8" rx="4.8" ry="4.0" fill="#eef040"/>
<ellipse cx="724.0" cy="564.8" rx="4.8" ry="4.0" fill="#ffa500"/>
<ellipse cx="1100.4" cy="790.7" rx="4.8" ry="4.0" fill="#66f2d2"/>
<ellipse cx="1248.0" cy="196.7" rx="4.8" ry="4.0" fill="#eef040"/>
<ellipse cx="796.7" cy="666.9" rx="4.8" ry="4.0" fill="#0a0aff"/>
<ellipse cx="1186.1" cy="343.5" rx="4.8" ry="4.0" fill="#ff0000"/>
<ellipse cx="970.9" cy="670.4" rx="4.8" ry="4.0" fill="#3c9aff"/>
<ellipse cx="1001.7" cy="749.8" rx="4.8" ry="4.0" fill="#66f2d2"/>
<ellipse cx="783.2" cy="803.5" rx="4.8" ry="4.0" fill="#eef040"/>
<ellipse cx="1101.1" cy="563.1" rx="4.8" ry="4.0" fill="#eef040"/>
<ellipse cx="1043.1" cy="804.2" rx="4.8" ry="4.0" fill="#66f2d2"/>
<ellipse cx="1000.0" cy="652.6" rx="4.8" ry="4.0" fill="#eef040"/>
<ellipse cx="1105.0" cy="598.7" rx="4.8" ry="4.0" fill="#eef040"/>
<ellipse cx="997.4" cy="805.5" rx="4.8" ry="4.0" fill="#0a0aff"/>
<ellipse cx="1035.1" cy="555.8" rx="4.8" ry="4.0" fill="#ffa500"/>
<ellipse cx="866.2" cy="831.8" rx="4.8" ry="4.0" fill="#66f2d2"/>
<ellipse cx="1089.7" cy="830.6" rx="4.8" ry="4.0" fill="#3c9aff"/>
<ellipse cx="1067.3" cy="587.4" rx="4.8" ry="4.0" fill="#eef040"/>
<ellipse cx="901.4" cy="432.4" rx="4.8" ry="4.0" fill="#ffa500"/>
<ellipse cx="1065.2" cy="467.6" rx="4.8" ry="4.0" fill="#ffa500"/>
<ellipse cx="1305.4" cy="161.9" rx="4.8" ry="4.0" fill="#eef040"/>
<ellipse cx="1056.4" cy="370.1" rx="4.8" ry="4.0" fill="#ffa500"/>
<ellipse cx="959.8" cy="406.7" rx="4.8" ry="4.0" fill="#ffa500"/>
<ellipse cx="1123.1" cy="724.5" rx="4.8" ry="4.0" fill="#66f2d2"/>
<ellipse cx="1062.9" cy="355.3" rx="4.8" ry="4.0" fill="#ff0000"/>
<ellipse cx="1014.5" cy="485.4" rx="4.8" ry="4.0" fill="#ffa500"/>
<ellipse cx="787.2" cy="684.5" rx="4.8" ry="4.0" fill="#eef040"/>
<ellipse cx="1057.7" cy="385.7" rx="4.8" ry="4.0" fill="#ffa500"/>
<ellipse cx="1179.5" cy="754.7" rx="4.8" ry="4.0" fill="#66f2d2"/>
<ellipse cx="1297.9" cy="276.2" rx="4.8" ry="4.0" fill="#eef040"/>
<ellipse cx="1160.2" cy="724.5" rx="4.8" ry="4.0" fill="#66f2d2"/>
<ellipse cx="1138.7" cy="597.2" rx="4.8" ry="4.0" fill="#66f2d2"/>
<ellipse cx="1186.7" cy="470.3" rx="4.8" ry="4.0" fill="#ffa500"/>
<ellipse cx="779.1" cy="785.9" rx="4.8" ry="4.0" fill="#ffa500"/>
<ellipse cx="1273.7" cy="291.2" rx="4.8" ry="4.0" fill="#eef040"/>
<ellipse cx="1082.9" cy="716.5" rx="4.8" ry="4.0" fill="#eef040"/>
<ellipse cx="954.8" cy="476.8" rx="4.8" ry="4.0" fill="#ffa500"/>
<ellipse cx="1101.2" cy="715.4" rx="4.8" ry="4.0" fill="#66f2d2"/>
<ellipse cx="1043.0" cy="473.3" rx="4.8" ry="4.0" fill="#ffa500"/>
<ellipse cx="977.5" cy="803.1" rx="4.8" ry="4.0" fill="#66f2d2"/>
<ellipse cx="941.6" cy="688.1" rx="4.8" ry="4.0" fill="#66f2d2"/>
<ellipse cx="900.2" cy="476.8" rx="4.8" ry="4.0" fill="#ff0000"/>
<ellipse cx="1010.6" cy="631.8" rx="4.8" ry="4.0" fill="#eef040"/>
<ellipse cx="1063.3" cy="784.2" rx="4.8" ry="4.0" fill="#3c9aff"/>
<ellipse cx="1110.4" cy="652.7" rx="4.8" ry="4.0" fill="#66f2d2"/>
<ellipse cx="1237.4" cy="452.7" rx="4.8" ry="4.0" fill="#ffa500"/>
<ellipse cx="935.2" cy="585.9" rx="4.8" ry="4.0" fill="#eef040"/>
<ellipse cx="1066.1" cy="627.6" rx="4.8" ry="4.0" fill="#eef040"/>
<ellipse cx="1085.8" cy="528.7" rx="4.8" ry="4.0" fill="#ffa500"/>
<ellipse cx="1140.1" cy="749.8" rx="4.8" ry="4.0" fill="#3c9aff"/>
<ellipse cx="1102.0" cy="571.0" rx="4.8" ry="4.0" fill="#eef040"/>
<ellipse cx="1180.1" cy="464.5" rx="4.8" ry="4.0" fill="#ffa500"/>
<ellipse cx="993.3" cy="732.1" rx="4.8" ry="4.0" fill="#eef040"/>
<ellipse cx="943.3" cy="848.4" rx="4.8" ry="4.0" fill="#66f2d2"/>
<ellipse cx="706.9" cy="828.5" rx="4.8" ry="4.0" fill="#ffa500"/>
<ellipse cx="1136.1" cy="703.9" rx="4.8" ry="4.0" fill="#3c9aff"/>
<ellipse cx="1137.5" cy="348.1" rx="4.8" ry="4.0" fill="#ff0000"/>
<ellipse cx="750.6" cy="718.2" rx="4.8" ry="4.0" fill="#eef040"/>
<ellipse cx="904.4" cy="654.5" rx="4.8" ry="4.0" fill="#eef040"/>
<ellipse cx="1113.8" cy="514.2" rx="4.8" ry="4.0" fill="#ffa500"/>
<ellipse cx="1024.6" cy="436.9" rx="4.8" ry="4.0" fill="#ffa500"/>
<ellipse cx="1057.5" cy="868.7" rx="4.8" ry="4.0" fill="#0a0aff"/>
<ellipse cx="1078.3" cy="644.5" rx="4.8" ry="4.0" fill="#66f2d2"/>
<ellipse cx="677.0" cy="787.7" rx="4.8" ry="4.0" fill="#66f2d2"/>
<ellipse cx="1135.1" cy="552.8" rx="4.8" ry="4.0" fill="#ffa500"/>
<ellipse cx="924.8" cy="580.0" rx="4.8" ry="4.0" fill="#ffa500"/>
<ellipse cx="1025.2" cy="782.2" rx="4.8" ry="4.0" fill="#3c9aff"/>
<ellipse cx="1118.0" cy="674.8" rx="4.8" ry="4.0" fill="#66f2d2"/>
<ellipse cx="1173.1" cy="262.9" rx="4.8" ry="4.0" fill="#ffa500"/>
<ellipse cx="1062.4" cy="459.1" rx="4.8" ry="4.0" fill="#ffa500"/>
<ellipse cx="1085.3" cy="388.8" rx="4.8" ry="4.0" fill="#ffa500"/>
<ellipse cx="1163.2" cy="646.0" rx="4.8" ry="4.0" fill="#66f2d2"/>
<ellipse cx="660.8" cy="794.5" rx="4.8" ry="4.0" fill="#66f2d2"/>
<ellipse cx="921.1" cy="506.3" rx="4.8" ry="4.0" fill="#ffa500"/>
<ellipse cx="1083.1" cy="620.2" rx="4.8" ry="4.0" fill="#eef040"/>
<ellipse cx="836.5" cy="839.9" rx="4.8" ry="4.0" fill="#eef040"/>
<ellipse cx="1191.7" cy="691.2" rx="4.8" ry="4.0" fill="#66f2d2"/>
<ellipse cx="519.8" cy="196.4" rx="4.8" ry="4.0" fill="#ff0000"/>
<ellipse cx="1133.2" cy="446.6" rx="4.8" ry="4.0" fill="#eef040"/>
<ellipse cx="1126.0" cy="564.9" rx="4.8" ry="4.0" fill="#eef040"/>
<ellipse cx="1014.8" cy="391.4" rx="4.8" ry="4.0" fill="#ffa500"/>
<ellipse cx="998.7" cy="567.7" rx="4.8" ry="4.0" fill="#ffa500"/>
<ellipse cx="952.8" cy="853.3" rx="4.8" ry="4.0" fill="#66f2d2"/>
<ellipse cx="1258.6" cy="623.1" rx="4.8" ry="4.0" fill="#66f2d2"/>
<ellipse cx="1001.6" cy="866.1" rx="4.8" ry="4.0" fill="#3c9aff"/>
<ellipse cx="1177.8" cy="579.2" rx="4.8" ry="4.0" fill="#eef040"/>
<ellipse cx="959.7" cy="742.9" rx="4.8" ry="4.0" fill="#66f2d2"/>
<ellipse cx="1370.3" cy="158.1" rx="4.8" ry="4.0" fill="#ffa500"/>
<ellipse cx="1104.8" cy="454.2" rx="4.8" ry="4.0" fill="#ffa500"/>
<ellipse cx="1093.4" cy="827.5" rx="4.8" ry="4.0" fill="#0a0aff"/>
<ellipse cx="1139.7" cy="628.6" rx="4.8" ry="4.0" fill="#66f2d2"/>
<ellipse cx="848.7" cy="477.5" rx="4.8" ry="4.0" fill="#ff0000"/>
<ellipse cx="1028.9" cy="774.7" rx="4.8" ry="4.0" fill="#66f2d2"/>
<ellipse cx="980.1" cy="523.2" rx="4.8" ry="4.0" fill="#ffa500"/>
<ellipse cx="702.0" cy="754.0" rx="4.8" ry="4.0" fill="#eef040"/>
<ellipse cx="1038.3" cy="763.5" rx="4.8" ry="4.0" fill="#66f2d2"/>
<ellipse cx="1086.7" cy="453.0" rx="4.8" ry="4.0" fill="#ffa500"/>
<ellipse cx="1260.6" cy="648.3" rx="4.8" ry="4.0" fill="#eef040"/>
<ellipse cx="219.1" cy="347.1" rx="4.8" ry="4.0" fill="#ff0000"/>
<ellipse cx="994.4" cy="774.0" rx="4.8" ry="4.0" fill="#3c9aff"/>
<ellipse cx="1198.9" cy="550.5" rx="4.8" ry="4.0" fill="#eef040"/>
<ellipse cx="1173.4" cy="497.7" rx="4.8" ry="4.0" fill="#eef040"/>
<ellipse cx="1079.5" cy="537.3" rx="4.8" ry="4.0" fill="#ffa500"/>
<ellipse cx="984.2" cy="713.2" rx="4.8" ry="4.0" fill="#66f2d2"/>
<ellipse cx="1004.6" cy="556.5" rx="4.8" ry="4.0" fill="#ffa500"/>
<ellipse cx="961.9" cy="753.2" rx="4.8" ry="4.0" fill="#66f2d2"/>
<ellipse cx="1045.0" cy="664.8" rx="4.8" ry="4.0" fill="#66f2d2"/>
<ellipse cx="877.7" cy="669.6" rx="4.8" ry="4.0" fill="#eef040"/>
<ellipse cx="982.7" cy="365.0" rx="4.8" ry="4.0" fill="#ff0000"/>
<ellipse cx="1001.3" cy="441.5" rx="4.8" ry="4.0" fill="#ffa500"/>
<ellipse cx="1217.9" cy="408.2" rx="4.8" ry="4.0" fill="#ffa500"/>
<ellipse cx="1062.1" cy="662.7" rx="4.8" ry="4.0" fill="#3c9aff"/>
<ellipse cx="1182.5" cy="486.7" rx="4.8" ry="4.0" fill="#eef040"/>
<ellipse cx="1006.6" cy="705.5" rx="4.8" ry="4.0" fill="#3c9aff"/>
<ellipse cx="1089.4" cy="471.6" rx="4.8" ry="4.0" fill="#ffa500"/>
<ellipse cx="1015.1" cy="565.6" rx="4.8" ry="4.0" fill="#ffa500"/>
<ellipse cx="238.5" cy="358.1" rx="4.8" ry="4.0" fill="#ff0000"/>
<ellipse cx="1067.8" cy="686.6" rx="4.8" ry="4.0" fill="#66f2d2"/>
<ellipse cx="978.7" cy="529.4" rx="4.8" ry="4.0" fill="#ffa500"/>
<ellipse cx="856.1" cy="790.0" rx="4.8" ry="4.0" fill="#66f2d2"/>
<ellipse cx="825.0" cy="519.6" rx="4.8" ry="4.0" fill="#ffa500"/>
<ellipse cx="883.1" cy="419.7" rx="4.8" ry="4.0" fill="#ff0000"/>
<ellipse cx="625.2" cy="561.5" rx="4.8" ry="4.0" fill="#ffa500"/>
<ellipse cx="1113.0" cy="790.6" rx="4.8" ry="4.0" fill="#66f2d2"/>
<ellipse cx="972.3" cy="788.6" rx="4.8" ry="4.0" fill="#3c9aff"/>
<ellipse cx="1355.9" cy="264.4" rx="4.8" ry="4.0" fill="#ffa500"/>
<ellipse cx="1076.4" cy="764.8" rx="4.8" ry="4.0" fill="#66f2d2"/>
<ellipse cx="939.0" cy="865.0" rx="4.8" ry="4.0" fill="#3c9aff"/>
<ellipse cx="912.3" cy="650.1" rx="4.8" ry="4.0" fill="#eef040"/>
<ellipse cx="1099.3" cy="433.3" rx="4.8" ry="4.0" fill="#ffa500"/>
<ellipse cx="1080.6" cy="689.3" rx="4.8" ry="4.0" fill="#3c9aff"/>
<ellipse cx="1114.0" cy="752.2" rx="4.8" ry="4.0" fill="#66f2d2"/>
<ellipse cx="752.1" cy="879.1" rx="4.8" ry="4.0" fill="#3c9aff"/>
<ellipse cx="1023.8" cy="362.4" rx="4.8" ry="4.0" fill="#ff0000"/>
<ellipse cx="449.7" cy="337.4" rx="4.8" ry="4.0" fill="#ff0000"/>
<ellipse cx="1004.1" cy="758.4" rx="4.8" ry="4.0" fill="#66f2d2"/>
<ellipse cx="921.1" cy="476.5" rx="4.8" ry="4.0" fill="#ffa500"/>
<ellipse cx="821.0" cy="676.4" rx="4.8" ry="4.0" fill="#66f2d2"/>
<ellipse cx="1223.0" cy="390.2" rx="4.8" ry="4.0" fill="#ffa500"/>
<ellipse cx="1142.9" cy="694.8" rx="4.8" ry="4.0" fill="#66f2d2"/>
<ellipse cx="1074.7" cy="592.7" rx="4.8" ry="4.0" fill="#eef040"/>
<ellipse cx="1204.7" cy="552.6" rx="4.8" ry="4.0" fill="#eef040"/>
<ellipse cx="1122.2" cy="491.8" rx="4.8" ry="4.0" fill="#eef040"/>
<ellipse cx="1129.2" cy="645.9" rx="4.8" ry="4.0" fill="#eef040"/>
<ellipse cx="1034.8" cy="743.4" rx="4.8" ry="4.0" fill="#eef040"/>
<ellipse cx="1019.7" cy="347.8" rx="4.8" ry="4.0" fill="#ff0000"/>
<ellipse cx="1285.8" cy="226.4" rx="4.8" ry="4.0" fill="#ffa500"/>
<ellipse cx="1078.8" cy="837.9" rx="4.8" ry="4.0" fill="#3c9aff"/>
<ellipse cx="1018.9" cy="587.6" rx="4.8" ry="4.0" fill="#ffa500"/>
<ellipse cx="466.6" cy="327.2" rx="4.8" ry="4.0" fill="#ff0000"/>
<ellipse cx="1258.1" cy="117.0" rx="4.8" ry="4.0" fill="#ffa500"/>
<ellipse cx="1085.0" cy="442.0" rx="4.8" ry="4.0" fill="#ff0000"/>
<ellipse cx="1145.7" cy="407.8" rx="4.8" ry="4.0" fill="#ffa500"/>
<ellipse cx="1097.4" cy="422.1" rx="4.8" ry="4.0" fill="#ffa500"/>
<ellipse cx="519.9" cy="652.8" rx="4.8" ry="4.0" fill="#ffa500"/>
<ellipse cx="1029.1" cy="668.5" rx="4.8" ry="4.0" fill="#3c9aff"/>
<ellipse cx="983.9" cy="384.6" rx="4.8" ry="4.0" fill="#ffa500"/>
<ellipse cx="1163.6" cy="603.6" rx="4.8" ry="4.0" fill="#eef040"/>
<ellipse cx="1154.8" cy="68.4" rx="4.8" ry="4.0" fill="#ffa500"/>
<ellipse cx="739.8" cy="630.4" rx="4.8" ry="4.0" fill="#eef040"/>
<ellipse cx="1159.0" cy="715.0" rx="4.8" ry="4.0" fill="#3c9aff"/>
<ellipse cx="955.5" cy="710.5" rx="4.8" ry="4.0" fill="#66f2d2"/>
<ellipse cx="1264.2" cy="333.1" rx="4.8" ry="4.0" fill="#ffa500"/>
<ellipse cx="457.3" cy="324.7" rx="4.8" ry="4.0" fill="#ff0000"/>
<ellipse cx="1099.1" cy="688.0" rx="4.8" ry="4.0" fill="#3c9aff"/>
<ellipse cx="1038.3" cy="728.4" rx="4.8" ry="4.0" fill="#66f2d2"/>
<ellipse cx="931.5" cy="486.4" rx="4.8" ry="4.0" fill="#ffa500"/>
<ellipse cx="1005.2" cy="661.4" rx="4.8" ry="4.0" fill="#66f2d2"/>
<ellipse cx="1019.8" cy="382.2" rx="4.8" ry="4.0" fill="#ff0000"/>
<ellipse cx="209.8" cy="338.7" rx="4.8" ry="4.0" fill="#ff0000"/>
<ellipse cx="1263.5" cy="250.1" rx="4.8" ry="4.0" fill="#ffa500"/>
<ellipse cx="1020.5" cy="782.3" rx="4.8" ry="4.0" fill="#66f2d2"/>
<ellipse cx="937.5" cy="422.9" rx="4.8" ry="4.0" fill="#ffa500"/>
<ellipse cx="1038.0" cy="541.1" rx="4.8" ry="4.0" fill="#ffa500"/>
<ellipse cx="1174.5" cy="375.0" rx="4.8" ry="4.0" fill="#ffa500"/>
<ellipse cx="1140.4" cy="591.5" rx="4.8" ry="4.0" fill="#66f2d2"/>
<ellipse cx="1222.3" cy="468.8" rx="4.8" ry="4.0" fill="#ffa500"/>
<ellipse cx="1126.3" cy="675.4" rx="4.8" ry="4.0" fill="#eef040"/>
<ellipse cx="1321.5" cy="138.3" rx="4.8" ry="4.0" fill="#ffa500"/>
<ellipse cx="1264.2" cy="186.6" rx="4.8" ry="4.0" fill="#ffa500"/>
<ellipse cx="969.1" cy="714.1" rx="4.8" ry="4.0" fill="#66f2d2"/>
<ellipse cx="416.8" cy="204.0" rx="4.8" ry="4.0" fill="#ff0000"/>
<ellipse cx="958.3" cy="350.8" rx="4.8" ry="4.0" fill="#ff0000"/>
<ellipse cx="1115.7" cy="694.5" rx="4.8" ry="4.0" fill="#66f2d2"/>
<ellipse cx="1074.0" cy="486.9" rx="4.8" ry="4.0" fill="#ffa500"/>
<ellipse cx="1242.1" cy="372.0" rx="4.8" ry="4.0" fill="#eef040"/>
<ellipse cx="1198.0" cy="186.6" rx="4.8" ry="4.0" fill="#ffa500"/>
<ellipse cx="1094.1" cy="729.8" rx="4.8" ry="4.0" fill="#66f2d2"/>
<ellipse cx="1080.2" cy="611.6" rx="4.8" ry="4.0" fill="#eef040"/>
<ellipse cx="837.2" cy="502.1" rx="4.8" ry="4.0" fill="#ff0000"/>
<ellipse cx="491.1" cy="291.8" rx="4.8" ry="4.0" fill="#ff0000"/>
<ellipse cx="1080.4" cy="523.8" rx="4.8" ry="4.0" fill="#ffa500"/>
<ellipse cx="1132.5" cy="336.5" rx="4.8" ry="4.0" fill="#ff0000"/>
<ellipse cx="1082.7" cy="544.1" rx="4.8" ry="4.0" fill="#ffa500"/>
<ellipse cx="1151.7" cy="691.0" rx="4.8" ry="4.0" fill="#66f2d2"/>
<ellipse cx="723.1" cy="404.5" rx="4.8" ry="4.0" fill="#ff0000"/>
<ellipse cx="1100.9" cy="464.5" rx="4.8" ry="4.0" fill="#ffa500"/>
<ellipse cx="980.6" cy="920.1" rx="4.8" ry="4.0" fill="#0a0aff"/>
<ellipse cx="1081.9" cy="748.6" rx="4.8" ry="4.0" fill="#3c9aff"/>
<ellipse cx="991.0" cy="714.9" rx="4.8" ry="4.0" fill="#3c9aff"/>
<ellipse cx="1018.1" cy="558.6" rx="4.8" ry="4.0" fill="#ffa500"/>
<ellipse cx="1027.8" cy="654.0" rx="4.8" ry="4.0" fill="#eef040"/>
<ellipse cx="996.6" cy="824.9" rx="4.8" ry="4.0" fill="#66f2d2"/>
<ellipse cx="860.2" cy="648.0" rx="4.8" ry="4.0" fill="#eef040"/>
<ellipse cx="1195.5" cy="723.5" rx="4.8" ry="4.0" fill="#3c9aff"/>
<ellipse cx="765.6" cy="815.0" rx="4.8" ry="4.0" fill="#eef040"/>
<ellipse cx="1146.9" cy="605.9" rx="4.8" ry="4.0" fill="#66f2d2"/>
<ellipse cx="1126.2" cy="408.0" rx="4.8" ry="4.0" fill="#ffa500"/>
<ellipse cx="1081.4" cy="581.1" rx="4.8" ry="4.0" fill="#eef040"/>
<ellipse cx="1061.6" cy="809.7" rx="4.8" ry="4.0" fill="#3c9aff"/>
<ellipse cx="477.8" cy="412.5" rx="4.8" ry="4.0" fill="#ff0000"/>
<ellipse cx="459.9" cy="331.5" rx="4.8" ry="4.0" fill="#ff0000"/>
<ellipse cx="1204.4" cy="734.8" rx="4.8" ry="4.0" fill="#66f2d2"/>
<ellipse cx="1073.3" cy="492.7" rx="4.8" ry="4.0" fill="#ffa500"/>
<ellipse cx="925.5" cy="597.2" rx="4.8" ry="4.0" fill="#eef040"/>
<ellipse cx="964.3" cy="413.6" rx="4.8" ry="4.0" fill="#ffa500"/>
<ellipse cx="416.8" cy="298.5" rx="4.8" ry="4.0" fill="#ff0000"/>
<ellipse cx="1146.6" cy="374.3" rx="4.8" ry="4.0" fill="#ff0000"/>
<ellipse cx="1040.0" cy="582.1" rx="4.8" ry="4.0" fill="#eef040"/>
<ellipse cx="1039.9" cy="353.3" rx="4.8" ry="4.0" fill="#ff0000"/>
<ellipse cx="784.5" cy="733.1" rx="4.8" ry="4.0" fill="#eef040"/>
<ellipse cx="978.3" cy="468.5" rx="4.8" ry="4.0" fill="#ffa500"/>
<ellipse cx="1000.9" cy="507.6" rx="4.8" ry="4.0" fill="#ffa500"/>
<ellipse cx="704.6" cy="793.1" rx="4.8" ry="4.0" fill="#66f2d2"/>
<ellipse cx="826.4" cy="826.4" rx="4.8" ry="4.0" fill="#66f2d2"/>
<ellipse cx="1027.4" cy="487.2" rx="4.8" ry="4.0" fill="#ffa500"/>
<ellipse cx="1133.9" cy="729.7" rx="4.8" ry="4.0" fill="#66f2d2"/>
<ellipse cx="1119.9" cy="652.9" rx="4.8" ry="4.0" fill="#66f2d2"/>
<ellipse cx="749.2" cy="609.5" rx="4.8" ry="4.0" fill="#eef040"/>
<ellipse cx="899.8" cy="741.6" rx="4.8" ry="4.0" fill="#3c9aff"/>
<ellipse cx="486.0" cy="283.4" rx="4.8" ry="4.0" fill="#ff0000"/>
<ellipse cx="1142.4" cy="665.3" rx="4.8" ry="4.0" fill="#3c9aff"/>
<ellipse cx="1104.2" cy="526.7" rx="4.8" ry="4.0" fill="#ffa500"/>
<ellipse cx="1044.6" cy="793.9" rx="4.8" ry="4.0" fill="#3c9aff"/>
<ellipse cx="1373.6" cy="211.8" rx="4.8" ry="4.0" fill="#ffa500"/>
<ellipse cx="258.7" cy="540.1" rx="4.8" ry="4.0" fill="#ff0000"/>
<ellipse cx="1077.3" cy="678.9" rx="4.8" ry="4.0" fill="#66f2d2"/>
<ellipse cx="1123.8" cy="308.8" rx="4.8" ry="4.0" fill="#ff0000"/>
<ellipse cx="818.3" cy="703.4" rx="4.8" ry="4.0" fill="#eef040"/>
<ellipse cx="991.6" cy="506.3" rx="4.8" ry="4.0" fill="#ffa500"/>
<ellipse cx="1022.3" cy="826.4" rx="4.8" ry="4.0" fill="#66f2d2"/>
<ellipse cx="1239.4" cy="706.0" rx="4.8" ry="4.0" fill="#3c9aff"/>
<ellipse cx="1225.0" cy="321.0" rx="4.8" ry="4.0" fill="#ffa500"/>
<ellipse cx="960.5" cy="551.5" rx="4.8" ry="4.0" fill="#ffa500"/>
<ellipse cx="1021.7" cy="694.9" rx="4.8" ry="4.0" fill="#66f2d2"/>
<ellipse cx="1072.9" cy="638.4" rx="4.8" ry="4.0" fill="#eef040"/>
<ellipse cx="896.6" cy="532.2" rx="4.8" ry="4.0" fill="#ffa500"/>
<ellipse cx="965.6" cy="854.5" rx="4.8" ry="4.0" fill="#66f2d2"/>
<ellipse cx="933.8" cy="822.5" rx="4.8" ry="4.0" fill="#66f2d2"/>
<ellipse cx="1100.9" cy="603.9" rx="4.8" ry="4.0" fill="#eef040"/>
<ellipse cx="578.1" cy="664.1" rx="4.8" ry="4.0" fill="#ffa500"/>
<ellipse cx="710.5" cy="479.6" rx="4.8" ry="4.0" fill="#ffa500"/>
<ellipse cx="853.4" cy="748.8" rx="4.8" ry="4.0" fill="#66f2d2"/>
<ellipse cx="1003.0" cy="652.7" rx="4.8" ry="4.0" fill="#66f2d2"/>
<ellipse cx="1110.6" cy="368.8" rx="4.8" ry="4.0" fill="#ffa500"/>
<ellipse cx="1121.1" cy="165.7" rx="4.8" ry="4.0" fill="#ff0000"/>
<ellipse cx="957.1" cy="843.8" rx="4.8" ry="4.0" fill="#66f2d2"/>
<ellipse cx="952.0" cy="703.6" rx="4.8" ry="4.0" fill="#66f2d2"/>
<ellipse cx="1082.4" cy="823.6" rx="4.8" ry="4.0" fill="#3c9aff"/>
<ellipse cx="504.7" cy="655.6" rx="4.8" ry="4.0" fill="#ffa500"/>
<ellipse cx="933.4" cy="716.4" rx="4.8" ry="4.0" fill="#66f2d2"/>
<ellipse cx="606.7" cy="331.5" rx="4.8" ry="4.0" fill="#ff0000"/>
<ellipse cx="865.6" cy="625.1" rx="4.8" ry="4.0" fill="#eef040"/>
<ellipse cx="963.9" cy="541.8" rx="4.8" ry="4.0" fill="#ffa500"/>
<ellipse cx="1092.5" cy="409.0" rx="4.8" ry="4.0" fill="#ffa500"/>
<ellipse cx="925.1" cy="705.0" rx="4.8" ry="4.0" fill="#66f2d2"/>
<ellipse cx="802.1" cy="671.7" rx="4.8" ry="4.0" fill="#3c9aff"/>
<ellipse cx="980.0" cy="648.1" rx="4.8" ry="4.0" fill="#66f2d2"/>
<ellipse cx="1109.3" cy="553.2" rx="4.8" ry="4.0" fill="#eef040"/>
<ellipse cx="1202.9" cy="409.9" rx="4.8" ry="4.0" fill="#ffa500"/>
<ellipse cx="1215.1" cy="387.2" rx="4.8" ry="4.0" fill="#ffa500"/>
<ellipse cx="1194.0" cy="622.3" rx="4.8" ry="4.0" fill="#66f2d2"/>
<ellipse cx="1252.3" cy="645.6" rx="4.8" ry="4.0" fill="#66f2d2"/>
<ellipse cx="833.1" cy="641.3" rx="4.8" ry="4.0" fill="#66f2d2"/>
<ellipse cx="1248.2" cy="692.8" rx="4.8" ry="4.0" fill="#0a0aff"/>
<ellipse cx="1223.0" cy="295.3" rx="4.8" ry="4.0" fill="#ffa500"/>
<ellipse cx="831.8" cy="634.5" rx="4.8" ry="4.0" fill="#3c9aff"/>
<ellipse cx="1158.1" cy="657.3" rx="4.8" ry="4.0" fill="#3c9aff"/>
<ellipse cx="1197.5" cy="345.8" rx="4.8" ry="4.0" fill="#ff0000"/>
<ellipse cx="1079.4" cy="552.1" rx="4.8" ry="4.0" fill="#ffa500"/>
<ellipse cx="806.1" cy="516.2" rx="4.8" ry="4.0" fill="#ffa500"/>
<ellipse cx="1179.8" cy="672.0" rx="4.8" ry="4.0" fill="#66f2d2"/>
<ellipse cx="1022.0" cy="414.4" rx="4.8" ry="4.0" fill="#ffa500"/>
<ellipse cx="1194.3" cy="674.9" rx="4.8" ry="4.0" fill="#66f2d2"/>
<ellipse cx="942.7" cy="433.7" rx="4.8" ry="4.0" fill="#ffa500"/>
<ellipse cx="833.1" cy="714.2" rx="4.8" ry="4.0" fill="#66f2d2"/>
<ellipse cx="1144.2" cy="493.8" rx="4.8" ry="4.0" fill="#eef040"/>
<ellipse cx="849.4" cy="603.5" rx="4.8" ry="4.0" fill="#66f2d2"/>
<ellipse cx="1122.9" cy="495.7" rx="4.8" ry="4.0" fill="#eef040"/>
<ellipse cx="884.5" cy="652.1" rx="4.8" ry="4.0" fill="#eef040"/>
<ellipse cx="1080.4" cy="721.7" rx="4.8" ry="4.0" fill="#66f2d2"/>
<ellipse cx="1234.8" cy="603.3" rx="4.8" ry="4.0" fill="#66f2d2"/>
<ellipse cx="1132.5" cy="283.8" rx="4.8" ry="4.0" fill="#ff0000"/>
<ellipse cx="823.0" cy="486.1" rx="4.8" ry="4.0" fill="#ff0000"/>
<ellipse cx="932.2" cy="724.9" rx="4.8" ry="4.0" fill="#eef040"/>
<ellipse cx="475.9" cy="197.3" rx="4.8" ry="4.0" fill="#ff0000"/>
<ellipse cx="1073.6" cy="414.8" rx="4.8" ry="4.0" fill="#ff0000"/>
<ellipse cx="985.1" cy="705.9" rx="4.8" ry="4.0" fill="#eef040"/>
<ellipse cx="1081.0" cy="833.2" rx="4.8" ry="4.0" fill="#3c9aff"/>
<ellipse cx="1127.1" cy="608.5" rx="4.8" ry="4.0" fill="#66f2d2"/>
<ellipse cx="1015.3" cy="451.5" rx="4.8" ry="4.0" fill="#ffa500"/>
<ellipse cx="1073.0" cy="732.3" rx="4.8" ry="4.0" fill="#66f2d2"/>
<ellipse cx="1038.0" cy="830.0" rx="4.8" ry="4.0" fill="#3c9aff"/>
<ellipse cx="1007.0" cy="874.2" rx="4.8" ry="4.0" fill="#3c9aff"/>
<ellipse cx="1181.4" cy="603.6" rx="4.8" ry="4.0" fill="#66f2d2"/>
<ellipse cx="1338.7" cy="246.7" rx="4.8" ry="4.0" fill="#eef040"/>
<ellipse cx="938.9" cy="505.9" rx="4.8" ry="4.0" fill="#ffa500"/>
<ellipse cx="1135.9" cy="558.1" rx="4.8" ry="4.0" fill="#eef040"/>
<ellipse cx="1087.6" cy="572.5" rx="4.8" ry="4.0" fill="#eef040"/>
<ellipse cx="615.1" cy="585.1" rx="4.8" ry="4.0" fill="#ffa500"/>
<ellipse cx="877.7" cy="483.8" rx="4.8" ry="4.0" fill="#ff0000"/>
<ellipse cx="999.5" cy="738.3" rx="4.8" ry="4.0" fill="#eef040"/>
<ellipse cx="1265.6" cy="308.8" rx="4.8" ry="4.0" fill="#ffa500"/>
<ellipse cx="1075.3" cy="813.2" rx="4.8" ry="4.0" fill="#66f2d2"/>
<ellipse cx="830.4" cy="542.7" rx="4.8" ry="4.0" fill="#ffa500"/>
<ellipse cx="1175.5" cy="701.0" rx="4.8" ry="4.0" fill="#66f2d2"/>
<ellipse cx="957.0" cy="872.2" rx="4.8" ry="4.0" fill="#66f2d2"/>
<ellipse cx="884.5" cy="715.6" rx="4.8" ry="4.0" fill="#eef040"/>
<ellipse cx="1154.9" cy="626.7" rx="4.8" ry="4.0" fill="#0a0aff"/>
<ellipse cx="1147.7" cy="568.3" rx="4.8" ry="4.0" fill="#66f2d2"/>
<ellipse cx="982.3" cy="792.3" rx="4.8" ry="4.0" fill="#3c9aff"/>
<ellipse cx="1046.7" cy="766.9" rx="4.8" ry="4.0" fill="#66f2d2"/>
<ellipse cx="1012.0" cy="647.5" rx="4.8" ry="4.0" fill="#eef040"/>
<ellipse cx="1063.2" cy="363.4" rx="4.8" ry="4.0" fill="#ffa500"/>
<ellipse cx="1037.8" cy="752.9" rx="4.8" ry="4.0" fill="#eef040"/>
<ellipse cx="479.9" cy="658.2" rx="4.8" ry="4.0" fill="#ffa500"/>
<ellipse cx="1146.2" cy="814.1" rx="4.8" ry="4.0" fill="#66f2d2"/>
<ellipse cx="860.4" cy="420.8" rx="4.8" ry="4.0" fill="#ff0000"/>
<ellipse cx="986.0" cy="872.8" rx="4.8" ry="4.0" fill="#3c9aff"/>
<ellipse cx="1197.5" cy="597.1" rx="4.8" ry="4.0" fill="#eef040"/>
<ellipse cx="1140.5" cy="619.3" rx="4.8" ry="4.0" fill="#66f2d2"/>
<ellipse cx="1028.1" cy="464.1" rx="4.8" ry="4.0" fill="#ffa500"/>
<ellipse cx="709.6" cy="850.1" rx="4.8" ry="4.0" fill="#3c9aff"/>
<ellipse cx="1053.9" cy="705.8" rx="4.8" ry="4.0" fill="#66f2d2"/>
<ellipse cx="728.3" cy="689.8" rx="4.8" ry="4.0" fill="#ffa500"/>
<ellipse cx="919.0" cy="630.5" rx="4.8" ry="4.0" fill="#eef040"/>
<ellipse cx="999.1" cy="429.0" rx="4.8" ry="4.0" fill="#ffa500"/>
<ellipse cx="1158.0" cy="345.9" rx="4.8" ry="4.0" fill="#ff0000"/>
<ellipse cx="1001.5" cy="549.7" rx="4.8" ry="4.0" fill="#ffa500"/>
<ellipse cx="1185.5" cy="706.8" rx="4.8" ry="4.0" fill="#66f2d2"/>
<ellipse cx="1143.6" cy="462.0" rx="4.8" ry="4.0" fill="#eef040"/>
<ellipse cx="1022.0" cy="736.5" rx="4.8" ry="4.0" fill="#eef040"/>
<ellipse cx="1041.5" cy="408.1" rx="4.8" ry="4.0" fill="#ffa500"/>
<ellipse cx="993.7" cy="854.4" rx="4.8" ry="4.0" fill="#3c9aff"/>
<ellipse cx="961.9" cy="569.5" rx="4.8" ry="4.0" fill="#ffa500"/>
<ellipse cx="371.4" cy="674.2" rx="4.8" ry="4.0" fill="#ffa500"/>
<ellipse cx="980.6" cy="696.4" rx="4.8" ry="4.0" fill="#66f2d2"/>
<ellipse cx="749.9" cy="641.9" rx="4.8" ry="4.0" fill="#eef040"/>
<ellipse cx="810.2" cy="552.2" rx="4.8" ry="4.0" fill="#ffa500"/>
<ellipse cx="1061.1" cy="625.8" rx="4.8" ry="4.0" fill="#eef040"/>
<ellipse cx="1095.5" cy="413.1" rx="4.8" ry="4.0" fill="#ffa500"/>
<ellipse cx="990.6" cy="630.3" rx="4.8" ry="4.0" fill="#66f2d2"/>
<ellipse cx="1040.4" cy="578.3" rx="4.8" ry="4.0" fill="#ffa500"/>
<ellipse cx="1020.1" cy="597.1" rx="4.8" ry="4.0" fill="#ffa500"/>
<ellipse cx="1161.7" cy="701.0" rx="4.8" ry="4.0" fill="#66f2d2"/>
<ellipse cx="1073.3" cy="445.7" rx="4.8" ry="4.0" fill="#ff0000"/>
<ellipse cx="1193.3" cy="218.3" rx="4.8" ry="4.0" fill="#ffa500"/>
<ellipse cx="953.7" cy="716.4" rx="4.8" ry="4.0" fill="#66f2d2"/>
<ellipse cx="1046.6" cy="304.6" rx="4.8" ry="4.0" fill="#ff0000"/>
<ellipse cx="1061.6" cy="676.3" rx="4.8" ry="4.0" fill="#3c9aff"/>
<ellipse cx="1037.5" cy="775.0" rx="4.8" ry="4.0" fill="#3c9aff"/>
<ellipse cx="1026.3" cy="706.0" rx="4.8" ry="4.0" fill="#66f2d2"/>
<ellipse cx="1181.2" cy="563.7" rx="4.8" ry="4.0" fill="#eef040"/>
<ellipse cx="1304.9" cy="230.0" rx="4.8" ry="4.0" fill="#eef040"/>
<ellipse cx="826.4" cy="793.3" rx="4.8" ry="4.0" fill="#66f2d2"/>
<ellipse cx="1051.6" cy="631.8" rx="4.8" ry="4.0" fill="#eef040"/>
<ellipse cx="1102.9" cy="803.7" rx="4.8" ry="4.0" fill="#66f2d2"/>
<ellipse cx="1153.0" cy="543.4" rx="4.8" ry="4.0" fill="#eef040"/>
<ellipse cx="1177.8" cy="221.0" rx="4.8" ry="4.0" fill="#ffa500"/>
<ellipse cx="1233.8" cy="461.0" rx="4.8" ry="4.0" fill="#eef040"/>
<ellipse cx="1161.6" cy="225.8" rx="4.8" ry="4.0" fill="#ffa500"/>
<ellipse cx="812.9" cy="805.5" rx="4.8" ry="4.0" fill="#eef040"/>
<ellipse cx="1222.5" cy="710.0" rx="4.8" ry="4.0" fill="#0a0aff"/>
<ellipse cx="1067.5" cy="472.3" rx="4.8" ry="4.0" fill="#ffa500"/>
<ellipse cx="693.8" cy="794.5" rx="4.8" ry="4.0" fill="#eef040"/>
<ellipse cx="830.4" cy="681.8" rx="4.8" ry="4.0" fill="#66f2d2"/>
<ellipse cx="1149.0" cy="730.1" rx="4.8" ry="4.0" fill="#3c9aff"/>
<ellipse cx="1045.4" cy="700.3" rx="4.8" ry="4.0" fill="#66f2d2"/>
<ellipse cx="969.3" cy="733.5" rx="4.8" ry="4.0" fill="#66f2d2"/>
<ellipse cx="1062.5" cy="591.5" rx="4.8" ry="4.0" fill="#66f2d2"/>
<ellipse cx="1201.0" cy="571.1" rx="4.8" ry="4.0" fill="#eef040"/>
<ellipse cx="1059.7" cy="428.8" rx="4.8" ry="4.0" fill="#ffa500"/>
<ellipse cx="1214.9" cy="408.8" rx="4.8" ry="4.0" fill="#ffa500"/>
<ellipse cx="1048.7" cy="549.0" rx="4.8" ry="4.0" fill="#ffa500"/>
<ellipse cx="1069.3" cy="689.8" rx="4.8" ry="4.0" fill="#3c9aff"/>
<ellipse cx="1200.4" cy="629.2" rx="4.8" ry="4.0" fill="#3c9aff"/>
<ellipse cx="1199.7" cy="364.7" rx="4.8" ry="4.0" fill="#ff0000"/>
<ellipse cx="1338.7" cy="298.2" rx="4.8" ry="4.0" fill="#ffa500"/>
<ellipse cx="1065.0" cy="847.7" rx="4.8" ry="4.0" fill="#0a0aff"/>
<ellipse cx="1040.0" cy="413.6" rx="4.8" ry="4.0" fill="#ffa500"/>
<ellipse cx="1013.0" cy="732.6" rx="4.8" ry="4.0" fill="#eef040"/>
<ellipse cx="1214.5" cy="450.3" rx="4.8" ry="4.0" fill="#ffa500"/>
<ellipse cx="1018.5" cy="810.0" rx="4.8" ry="4.0" fill="#66f2d2"/>
<ellipse cx="1040.4" cy="608.8" rx="4.8" ry="4.0" fill="#eef040"/>
<ellipse cx="942.6" cy="585.7" rx="4.8" ry="4.0" fill="#ffa500"/>
<ellipse cx="1185.1" cy="719.2" rx="4.8" ry="4.0" fill="#66f2d2"/>
<ellipse cx="966.3" cy="593.6" rx="4.8" ry="4.0" fill="#ffa500"/>
<ellipse cx="1138.6" cy="436.1" rx="4.8" ry="4.0" fill="#ffa500"/>
<ellipse cx="1041.2" cy="598.4" rx="4.8" ry="4.0" fill="#eef040"/>
<ellipse cx="858.8" cy="583.9" rx="4.8" ry="4.0" fill="#eef040"/>
<ellipse cx="984.7" cy="928.9" rx="4.8" ry="4.0" fill="#0a0aff"/>
<ellipse cx="792.6" cy="466.9" rx="4.8" ry="4.0" fill="#ff0000"/>
<ellipse cx="1181.3" cy="373.2" rx="4.8" ry="4.0" fill="#ff0000"/>
<ellipse cx="900.6" cy="685.6" rx="4.8" ry="4.0" fill="#66f2d2"/>
<ellipse cx="979.6" cy="554.3" rx="4.8" ry="4.0" fill="#ffa500"/>
<ellipse cx="986.2" cy="714.0" rx="4.8" ry="4.0" fill="#66f2d2"/>
<ellipse cx="1041.7" cy="736.8" rx="4.8" ry="4.0" fill="#66f2d2"/>
<ellipse cx="1184.6" cy="677.3" rx="4.8" ry="4.0" fill="#66f2d2"/>
<ellipse cx="1196.7" cy="75.8" rx="4.8" ry="4.0" fill="#ffa500"/>
<ellipse cx="1013.3" cy="715.9" rx="4.8" ry="4.0" fill="#66f2d2"/>
<ellipse cx="1150.8" cy="646.8" rx="4.8" ry="4.0" fill="#0a0aff"/>
<ellipse cx="1083.4" cy="504.6" rx="4.8" ry="4.0" fill="#ffa500"/>
<ellipse cx="885.8" cy="672.3" rx="4.8" ry="4.0" fill="#eef040"/>
<ellipse cx="702.6" cy="696.6" rx="4.8" ry="4.0" fill="#ffa500"/>
<ellipse cx="838.5" cy="631.8" rx="4.8" ry="4.0" fill="#66f2d2"/>
<ellipse cx="1015.6" cy="685.6" rx="4.8" ry="4.0" fill="#66f2d2"/>
<ellipse cx="731.9" cy="428.5" rx="4.8" ry="4.0" fill="#ff0000"/>
<ellipse cx="646.6" cy="659.4" rx="4.8" ry="4.0" fill="#ff0000"/>
<ellipse cx="999.8" cy="730.6" rx="4.8" ry="4.0" fill="#66f2d2"/>
<ellipse cx="972.6" cy="685.3" rx="4.8" ry="4.0" fill="#66f2d2"/>
<ellipse cx="1241.9" cy="218.3" rx="4.8" ry="4.0" fill="#ffa500"/>
<ellipse cx="1246.3" cy="645.8" rx="4.8" ry="4.0" fill="#66f2d2"/>
<ellipse cx="1254.4" cy="688.8" rx="4.8" ry="4.0" fill="#66f2d2"/>
<ellipse cx="1040.2" cy="383.4" rx="4.8" ry="4.0" fill="#ffa500"/>
<ellipse cx="925.5" cy="868.0" rx="4.8" ry="4.0" fill="#66f2d2"/>
<ellipse cx="1205.8" cy="612.7" rx="4.8" ry="4.0" fill="#66f2d2"/>
<ellipse cx="1129.4" cy="370.4" rx="4.8" ry="4.0" fill="#ffa500"/>
<ellipse cx="1225.9" cy="731.2" rx="4.8" ry="4.0" fill="#3c9aff"/>
<ellipse cx="1111.7" cy="549.6" rx="4.8" ry="4.0" fill="#eef040"/>
<ellipse cx="973.6" cy="412.0" rx="4.8" ry="4.0" fill="#ffa500"/>
<ellipse cx="787.2" cy="503.4" rx="4.8" ry="4.0" fill="#ffa500"/>
<ellipse cx="1067.6" cy="608.4" rx="4.8" ry="4.0" fill="#eef040"/>
<ellipse cx="1035.8" cy="647.1" rx="4.8" ry="4.0" fill="#eef040"/>
<ellipse cx="934.4" cy="615.6" rx="4.8" ry="4.0" fill="#eef040"/>
<ellipse cx="846.6" cy="806.2" rx="4.8" ry="4.0" fill="#eef040"/>
<ellipse cx="1137.6" cy="740.4" rx="4.8" ry="4.0" fill="#3c9aff"/>
<ellipse cx="977.0" cy="754.6" rx="4.8" ry="4.0" fill="#66f2d2"/>
<ellipse cx="1161.5" cy="596.4" rx="4.8" ry="4.0" fill="#66f2d2"/>
<ellipse cx="1257.6" cy="668.4" rx="4.8" ry="4.0" fill="#66f2d2"/>
<ellipse cx="1166.4" cy="690.3" rx="4.8" ry="4.0" fill="#66f2d2"/>
<ellipse cx="741.3" cy="435.9" rx="4.8" ry="4.0" fill="#ff0000"/>
<ellipse cx="1204.5" cy="762.5" rx="4.8" ry="4.0" fill="#eef040"/>
<ellipse cx="1175.2" cy="696.0" rx="4.8" ry="4.0" fill="#66f2d2"/>
<ellipse cx="1075.4" cy="363.7" rx="4.8" ry="4.0" fill="#ff0000"/>
<ellipse cx="1222.3" cy="618.1" rx="4.8" ry="4.0" fill="#66f2d2"/>
<ellipse cx="953.5" cy="547.4" rx="4.8" ry="4.0" fill="#ff0000"/>
<ellipse cx="1058.9" cy="856.2" rx="4.8" ry="4.0" fill="#0a0aff"/>
<ellipse cx="1139.3" cy="830.1" rx="4.8" ry="4.0" fill="#0a0aff"/>
<ellipse cx="961.5" cy="815.4" rx="4.8" ry="4.0" fill="#66f2d2"/>
<ellipse cx="1195.6" cy="589.6" rx="4.8" ry="4.0" fill="#66f2d2"/>
<ellipse cx="986.0" cy="878.2" rx="4.8" ry="4.0" fill="#0a0aff"/>
<ellipse cx="952.3" cy="764.4" rx="4.8" ry="4.0" fill="#66f2d2"/>
<ellipse cx="875.0" cy="611.6" rx="4.8" ry="4.0" fill="#66f2d2"/>
<ellipse cx="1143.8" cy="695.1" rx="4.8" ry="4.0" fill="#3c9aff"/>
<ellipse cx="761.6" cy="580.5" rx="4.8" ry="4.0" fill="#eef040"/>
<ellipse cx="789.9" cy="725.0" rx="4.8" ry="4.0" fill="#66f2d2"/>
<ellipse cx="1221.7" cy="669.4" rx="4.8" ry="4.0" fill="#66f2d2"/>
<ellipse cx="1166.6" cy="663.0" rx="4.8" ry="4.0" fill="#3c9aff"/>
<ellipse cx="1145.6" cy="527.6" rx="4.8" ry="4.0" fill="#eef040"/>
<ellipse cx="1253.9" cy="689.4" rx="4.8" ry="4.0" fill="#3c9aff"/>
<ellipse cx="1073.8" cy="392.1" rx="4.8" ry="4.0" fill="#ffa500"/>
<ellipse cx="1000.1" cy="354.5" rx="4.8" ry="4.0" fill="#ff0000"/>
<ellipse cx="558.6" cy="228.5" rx="4.8" ry="4.0" fill="#ff0000"/>
<ellipse cx="944.7" cy="824.2" rx="4.8" ry="4.0" fill="#66f2d2"/>
<ellipse cx="1079.6" cy="742.2" rx="4.8" ry="4.0" fill="#3c9aff"/>
<ellipse cx="1161.0" cy="700.8" rx="4.8" ry="4.0" fill="#3c9aff"/>
<ellipse cx="981.3" cy="889.7" rx="4.8" ry="4.0" fill="#0a0aff"/>
<ellipse cx="860.8" cy="528.4" rx="4.8" ry="4.0" fill="#ffa500"/>
<ellipse cx="1126.0" cy="768.0" rx="4.8" ry="4.0" fill="#66f2d2"/>
<ellipse cx="835.2" cy="527.0" rx="4.8" ry="4.0" fill="#ffa500"/>
<ellipse cx="240.2" cy="385.9" rx="4.8" ry="4.0" fill="#ff0000"/>
<ellipse cx="977.6" cy="411.5" rx="4.8" ry="4.0" fill="#ffa500"/>
<ellipse cx="905.6" cy="748.6" rx="4.8" ry="4.0" fill="#eef040"/>
<ellipse cx="1058.0" cy="600.3" rx="4.8" ry="4.0" fill="#eef040"/>
<ellipse cx="920.8" cy="638.8" rx="4.8" ry="4.0" fill="#eef040"/>
<ellipse cx="1184.4" cy="496.7" rx="4.8" ry="4.0" fill="#ffa500"/>
<ellipse cx="1083.5" cy="707.6" rx="4.8" ry="4.0" fill="#66f2d2"/>
<ellipse cx="1059.3" cy="645.3" rx="4.8" ry="4.0" fill="#eef040"/>
<ellipse cx="1047.5" cy="411.1" rx="4.8" ry="4.0" fill="#ffa500"/>
<ellipse cx="767.7" cy="502.1" rx="4.8" ry="4.0" fill="#ffa500"/>
<ellipse cx="943.5" cy="484.6" rx="4.8" ry="4.0" fill="#ffa500"/>
<ellipse cx="712.7" cy="773.5" rx="4.8" ry="4.0" fill="#eef040"/>
<ellipse cx="1284.2" cy="352.7" rx="4.8" ry="4.0" fill="#eef040"/>
<ellipse cx="1019.2" cy="605.5" rx="4.8" ry="4.0" fill="#eef040"/>
<ellipse cx="1078.8" cy="478.4" rx="4.8" ry="4.0" fill="#ffa500"/>
<ellipse cx="1022.6" cy="763.2" rx="4.8" ry="4.0" fill="#3c9aff"/>
<ellipse cx="1300.6" cy="325.0" rx="4.8" ry="4.0" fill="#eef040"/>
<ellipse cx="1146.4" cy="647.7" rx="4.8" ry="4.0" fill="#66f2d2"/>
<ellipse cx="845.3" cy="524.3" rx="4.8" ry="4.0" fill="#ffa500"/>
<ellipse cx="1138.5" cy="417.8" rx="4.8" ry="4.0" fill="#ffa500"/>
<ellipse cx="931.7" cy="613.5" rx="4.8" ry="4.0" fill="#eef040"/>
<ellipse cx="1189.9" cy="320.3" rx="4.8" ry="4.0" fill="#ff0000"/>
<ellipse cx="1257.5" cy="304.1" rx="4.8" ry="4.0" fill="#ffa500"/>
<ellipse cx="974.7" cy="386.7" rx="4.8" ry="4.0" fill="#ffa500"/>
<ellipse cx="1186.8" cy="668.5" rx="4.8" ry="4.0" fill="#3c9aff"/>
<ellipse cx="1094.0" cy="370.1" rx="4.8" ry="4.0" fill="#ff0000"/>
<ellipse cx="1016.3" cy="575.0" rx="4.8" ry="4.0" fill="#ffa500"/>
<ellipse cx="476.7" cy="370.3" rx="4.8" ry="4.0" fill="#ff0000"/>
<ellipse cx="1040.9" cy="570.0" rx="4.8" ry="4.0" fill="#eef040"/>
<ellipse cx="777.1" cy="458.8" rx="4.8" ry="4.0" fill="#ff0000"/>
<ellipse cx="1117.0" cy="710.5" rx="4.8" ry="4.0" fill="#66f2d2"/>
<ellipse cx="1038.6" cy="505.3" rx="4.8" ry="4.0" fill="#ffa500"/>
<ellipse cx="1179.8" cy="743.5" rx="4.8" ry="4.0" fill="#66f2d2"/>
<ellipse cx="873.7" cy="433.2" rx="4.8" ry="4.0" fill="#ff0000"/>
<ellipse cx="776.4" cy="669.6" rx="4.8" ry="4.0" fill="#eef040"/>
<ellipse cx="819.0" cy="507.5" rx="4.8" ry="4.0" fill="#ffa500"/>
<ellipse cx="917.3" cy="616.6" rx="4.8" ry="4.0" fill="#eef040"/>
<ellipse cx="702.6" cy="778.3" rx="4.8" ry="4.0" fill="#eef040"/>
<ellipse cx="745.4" cy="507.5" rx="4.8" ry="4.0" fill="#ffa500"/>
<ellipse cx="1111.0" cy="567.6" rx="4.8" ry="4.0" fill="#eef040"/>
<ellipse cx="1115.9" cy="678.2" rx="4.8" ry="4.0" fill="#eef040"/>
<ellipse cx="1064.4" cy="733.1" rx="4.8" ry="4.0" fill="#eef040"/>
<ellipse cx="1180.6" cy="623.4" rx="4.8" ry="4.0" fill="#66f2d2"/>
<ellipse cx="1027.9" cy="525.9" rx="4.8" ry="4.0" fill="#ffa500"/>
<ellipse cx="849.4" cy="537.2" rx="4.8" ry="4.0" fill="#ffa500"/>
<ellipse cx="1005.2" cy="616.9" rx="4.8" ry="4.0" fill="#eef040"/>
<ellipse cx="929.2" cy="630.9" rx="4.8" ry="4.0" fill="#66f2d2"/>
<ellipse cx="1057.1" cy="684.3" rx="4.8" ry="4.0" fill="#eef040"/>
<ellipse cx="411.8" cy="216.7" rx="4.8" ry="4.0" fill="#ff0000"/>
<ellipse cx="938.4" cy="512.4" rx="4.8" ry="4.0" fill="#ffa500"/>
<ellipse cx="1067.7" cy="427.1" rx="4.8" ry="4.0" fill="#ff0000"/>
<ellipse cx="1123.7" cy="427.8" rx="4.8" ry="4.0" fill="#ffa500"/>
<ellipse cx="1021.6" cy="528.8" rx="4.8" ry="4.0" fill="#ffa500"/>
<ellipse cx="1155.4" cy="710.9" rx="4.8" ry="4.0" fill="#3c9aff"/>
<ellipse cx="986.9" cy="810.2" rx="4.8" ry="4.0" fill="#3c9aff"/>
<ellipse cx="1097.3" cy="559.5" rx="4.8" ry="4.0" fill="#ffa500"/>
<ellipse cx="1256.2" cy="364.1" rx="4.8" ry="4.0" fill="#eef040"/>
<ellipse cx="1072.3" cy="467.4" rx="4.8" ry="4.0" fill="#ffa500"/>
<ellipse cx="1027.7" cy="765.7" rx="4.8" ry="4.0" fill="#3c9aff"/>
<ellipse cx="831.8" cy="723.7" rx="4.8" ry="4.0" fill="#eef040"/>
<ellipse cx="911.1" cy="630.0" rx="4.8" ry="4.0" fill="#66f2d2"/>
<ellipse cx="763.6" cy="537.8" rx="4.8" ry="4.0" fill="#ffa500"/>
<ellipse cx="1136.5" cy="755.9" rx="4.8" ry="4.0" fill="#3c9aff"/>
<ellipse cx="1032.8" cy="768.9" rx="4.8" ry="4.0" fill="#66f2d2"/>
<ellipse cx="518.2" cy="699.5" rx="4.8" ry="4.0" fill="#ffa500"/>
<ellipse cx="935.6" cy="652.5" rx="4.8" ry="4.0" fill="#66f2d2"/>
<ellipse cx="1033.0" cy="588.0" rx="4.8" ry="4.0" fill="#eef040"/>
<ellipse cx="495.3" cy="332.3" rx="4.8" ry="4.0" fill="#ff0000"/>
<ellipse cx="1008.6" cy="651.1" rx="4.8" ry="4.0" fill="#eef040"/>
<ellipse cx="829.1" cy="572.4" rx="4.8" ry="4.0" fill="#ffa500"/>
<ellipse cx="903.1" cy="754.8" rx="4.8" ry="4.0" fill="#3c9aff"/>
<ellipse cx="1183.6" cy="581.6" rx="4.8" ry="4.0" fill="#eef040"/>
<ellipse cx="1121.8" cy="666.6" rx="4.8" ry="4.0" fill="#eef040"/>
<ellipse cx="1323.6" cy="203.7" rx="4.8" ry="4.0" fill="#ffa500"/>
<ellipse cx="1094.4" cy="434.2" rx="4.8" ry="4.0" fill="#ff0000"/>
<ellipse cx="1141.9" cy="489.7" rx="4.8" ry="4.0" fill="#eef040"/>
<ellipse cx="849.4" cy="561.6" rx="4.8" ry="4.0" fill="#ffa500"/>
<ellipse cx="1089.5" cy="605.4" rx="4.8" ry="4.0" fill="#eef040"/>
<ellipse cx="804.8" cy="526.4" rx="4.8" ry="4.0" fill="#ffa500"/>
<ellipse cx="760.2" cy="851.4" rx="4.8" ry="4.0" fill="#0a0aff"/>
<ellipse cx="1102.4" cy="686.5" rx="4.8" ry="4.0" fill="#3c9aff"/>
<ellipse cx="1076.9" cy="383.1" rx="4.8" ry="4.0" fill="#ffa500"/>
<ellipse cx="1243.3" cy="620.0" rx="4.8" ry="4.0" fill="#eef040"/>
<ellipse cx="938.0" cy="734.7" rx="4.8" ry="4.0" fill="#eef040"/>
<ellipse cx="739.1" cy="735.0" rx="4.8" ry="4.0" fill="#eef040"/>
<ellipse cx="1132.2" cy="806.5" rx="4.8" ry="4.0" fill="#66f2d2"/>
<ellipse cx="1110.3" cy="811.0" rx="4.8" ry="4.0" fill="#66f2d2"/>
<ellipse cx="1140.5" cy="640.1" rx="4.8" ry="4.0" fill="#66f2d2"/>
<ellipse cx="1118.4" cy="254.1" rx="4.8" ry="4.0" fill="#ffa500"/>
<ellipse cx="1271.0" cy="220.4" rx="4.8" ry="4.0" fill="#ffa500"/>
<ellipse cx="1131.5" cy="752.1" rx="4.8" ry="4.0" fill="#3c9aff"/>
<ellipse cx="1206.2" cy="465.7" rx="4.8" ry="4.0" fill="#ffa500"/>
<ellipse cx="1015.8" cy="532.3" rx="4.8" ry="4.0" fill="#ffa500"/>
<ellipse cx="740.0" cy="458.8" rx="4.8" ry="4.0" fill="#ffa500"/>
<ellipse cx="1185.5" cy="608.9" rx="4.8" ry="4.0" fill="#66f2d2"/>
<ellipse cx="1138.9" cy="352.8" rx="4.8" ry="4.0" fill="#ff0000"/>
<ellipse cx="825.0" cy="502.1" rx="4.8" ry="4.0" fill="#ff0000"/>
<ellipse cx="1075.4" cy="624.6" rx="4.8" ry="4.0" fill="#eef040"/>
<ellipse cx="1020.1" cy="607.2" rx="4.8" ry="4.0" fill="#eef040"/>
<ellipse cx="1259.0" cy="618.1" rx="4.8" ry="4.0" fill="#66f2d2"/>
<ellipse cx="1115.3" cy="442.1" rx="4.8" ry="4.0" fill="#ffa500"/>
<ellipse cx="816.9" cy="722.3" rx="4.8" ry="4.0" fill="#eef040"/>
<ellipse cx="922.7" cy="765.8" rx="4.8" ry="4.0" fill="#66f2d2"/>
<ellipse cx="1023.6" cy="456.3" rx="4.8" ry="4.0" fill="#ff0000"/>
<ellipse cx="926.0" cy="749.3" rx="4.8" ry="4.0" fill="#eef040"/>
<ellipse cx="1093.5" cy="490.8" rx="4.8" ry="4.0" fill="#ffa500"/>
<ellipse cx="999.5" cy="703.4" rx="4.8" ry="4.0" fill="#eef040"/>
<ellipse cx="1220.7" cy="768.5" rx="4.8" ry="4.0" fill="#eef040"/>
<ellipse cx="1042.5" cy="774.3" rx="4.8" ry="4.0" fill="#3c9aff"/>
<ellipse cx="1027.0" cy="430.2" rx="4.8" ry="4.0" fill="#ffa500"/>
<ellipse cx="1203.1" cy="447.6" rx="4.8" ry="4.0" fill="#ffa500"/>
<ellipse cx="980.8" cy="502.3" rx="4.8" ry="4.0" fill="#ffa500"/>
<ellipse cx="988.9" cy="548.4" rx="4.8" ry="4.0" fill="#ffa500"/>
<ellipse cx="1199.5" cy="716.5" rx="4.8" ry="4.0" fill="#0a0aff"/>
<ellipse cx="1226.7" cy="637.2" rx="4.8" ry="4.0" fill="#3c9aff"/>
<ellipse cx="873.7" cy="658.8" rx="4.8" ry="4.0" fill="#eef040"/>
<ellipse cx="1185.1" cy="711.2" rx="4.8" ry="4.0" fill="#3c9aff"/>
<ellipse cx="771.0" cy="800.8" rx="4.8" ry="4.0" fill="#eef040"/>
<ellipse cx="1180.2" cy="532.4" rx="4.8" ry="4.0" fill="#ffa500"/>
<ellipse cx="1197.4" cy="180.5" rx="4.8" ry="4.0" fill="#ffa500"/>
<ellipse cx="1198.5" cy="620.9" rx="4.8" ry="4.0" fill="#66f2d2"/>
<ellipse cx="958.5" cy="618.6" rx="4.8" ry="4.0" fill="#ffa500"/>
<ellipse cx="1084.9" cy="623.7" rx="4.8" ry="4.0" fill="#eef040"/>
<ellipse cx="1109.2" cy="727.2" rx="4.8" ry="4.0" fill="#66f2d2"/>
<ellipse cx="881.8" cy="519.6" rx="4.8" ry="4.0" fill="#ffa500"/>
<ellipse cx="1274.3" cy="318.9" rx="4.8" ry="4.0" fill="#ffa500"/>
<ellipse cx="871.0" cy="648.0" rx="4.8" ry="4.0" fill="#eef040"/>
<ellipse cx="1085.3" cy="403.7" rx="4.8" ry="4.0" fill="#ff0000"/>
<ellipse cx="712.1" cy="717.5" rx="4.8" ry="4.0" fill="#ffa500"/>
<ellipse cx="1054.8" cy="848.3" rx="4.8" ry="4.0" fill="#0a0aff"/>
<ellipse cx="860.2" cy="675.0" rx="4.8" ry="4.0" fill="#eef040"/>
<ellipse cx="1070.7" cy="552.3" rx="4.8" ry="4.0" fill="#ffa500"/>
<ellipse cx="737.3" cy="846.7" rx="4.8" ry="4.0" fill="#3c9aff"/>
<ellipse cx="1008.2" cy="545.3" rx="4.8" ry="4.0" fill="#ffa500"/>
<ellipse cx="1269.6" cy="312.9" rx="4.8" ry="4.0" fill="#ffa500"/>
<ellipse cx="1114.9" cy="554.9" rx="4.8" ry="4.0" fill="#eef040"/>
<ellipse cx="853.4" cy="467.6" rx="4.8" ry="4.0" fill="#ff0000"/>
<ellipse cx="1331.2" cy="245.6" rx="4.8" ry="4.0" fill="#ffa500"/>
<ellipse cx="219.9" cy="355.6" rx="4.8" ry="4.0" fill="#ff0000"/>
<ellipse cx="940.7" cy="608.6" rx="4.8" ry="4.0" fill="#eef040"/>
<ellipse cx="700.8" cy="856.1" rx="4.8" ry="4.0" fill="#66f2d2"/>
<ellipse cx="792.6" cy="662.9" rx="4.8" ry="4.0" fill="#3c9aff"/>
<ellipse cx="1056.6" cy="578.7" rx="4.8" ry="4.0" fill="#ffa500"/>
<ellipse cx="1079.1" cy="682.3" rx="4.8" ry="4.0" fill="#3c9aff"/>
<ellipse cx="1073.4" cy="793.2" rx="4.8" ry="4.0" fill="#3c9aff"/>
<ellipse cx="1037.5" cy="529.3" rx="4.8" ry="4.0" fill="#ffa500"/>
<ellipse cx="1245.3" cy="234.5" rx="4.8" ry="4.0" fill="#ffa500"/>
<ellipse cx="992.1" cy="942.4" rx="4.8" ry="4.0" fill="#0a0aff"/>
<ellipse cx="854.8" cy="763.6" rx="4.8" ry="4.0" fill="#66f2d2"/>
<ellipse cx="1139.0" cy="720.4" rx="4.8" ry="4.0" fill="#66f2d2"/>
<ellipse cx="1064.2" cy="766.2" rx="4.8" ry="4.0" fill="#66f2d2"/>
<ellipse cx="931.1" cy="837.4" rx="4.8" ry="4.0" fill="#3c9aff"/>
<ellipse cx="912.8" cy="587.7" rx="4.8" ry="4.0" fill="#eef040"/>
<ellipse cx="728.3" cy="665.5" rx="4.8" ry="4.0" fill="#ffa500"/>
<ellipse cx="803.4" cy="679.1" rx="4.8" ry="4.0" fill="#0a0aff"/>
<ellipse cx="523.2" cy="291.8" rx="4.8" ry="4.0" fill="#ff0000"/>
<ellipse cx="1106.3" cy="687.8" rx="4.8" ry="4.0" fill="#3c9aff"/>
<ellipse cx="1135.5" cy="574.1" rx="4.8" ry="4.0" fill="#66f2d2"/>
<ellipse cx="959.0" cy="641.8" rx="4.8" ry="4.0" fill="#66f2d2"/>
<ellipse cx="560.7" cy="636.6" rx="4.8" ry="4.0" fill="#eef040"/>
<ellipse cx="668.9" cy="670.9" rx="4.8" ry="4.0" fill="#ffa500"/>
<ellipse cx="1114.9" cy="645.3" rx="4.8" ry="4.0" fill="#66f2d2"/>
<ellipse cx="1235.8" cy="288.5" rx="4.8" ry="4.0" fill="#ffa500"/>
<ellipse cx="1153.0" cy="786.0" rx="4.8" ry="4.0" fill="#66f2d2"/>
<ellipse cx="1000.2" cy="624.4" rx="4.8" ry="4.0" fill="#66f2d2"/>
<ellipse cx="553.5" cy="545.4" rx="4.8" ry="4.0" fill="#ff0000"/>
<ellipse cx="921.7" cy="675.5" rx="4.8" ry="4.0" fill="#eef040"/>
<ellipse cx="1266.9" cy="238.6" rx="4.8" ry="4.0" fill="#ffa500"/>
<ellipse cx="1087.1" cy="772.1" rx="4.8" ry="4.0" fill="#3c9aff"/>
<ellipse cx="1036.9" cy="482.4" rx="4.8" ry="4.0" fill="#ffa500"/>
<ellipse cx="922.1" cy="606.9" rx="4.8" ry="4.0" fill="#66f2d2"/>
<ellipse cx="1161.5" cy="608.5" rx="4.8" ry="4.0" fill="#66f2d2"/>
<ellipse cx="1170.8" cy="732.8" rx="4.8" ry="4.0" fill="#66f2d2"/>
<ellipse cx="1107.8" cy="668.4" rx="4.8" ry="4.0" fill="#66f2d2"/>
<ellipse cx="518.9" cy="318.0" rx="4.8" ry="4.0" fill="#ff0000"/>
<ellipse cx="1060.6" cy="835.4" rx="4.8" ry="4.0" fill="#0a0aff"/>
<ellipse cx="977.3" cy="375.1" rx="4.8" ry="4.0" fill="#ff0000"/>
<ellipse cx="1055.8" cy="579.7" rx="4.8" ry="4.0" fill="#eef040"/>
<ellipse cx="893.0" cy="549.5" rx="4.8" ry="4.0" fill="#ffa500"/>
<ellipse cx="388.7" cy="273.7" rx="4.8" ry="4.0" fill="#ffa500"/>
<ellipse cx="957.8" cy="665.9" rx="4.8" ry="4.0" fill="#3c9aff"/>
<ellipse cx="1163.9" cy="624.1" rx="4.8" ry="4.0" fill="#66f2d2"/>
<ellipse cx="749.9" cy="774.2" rx="4.8" ry="4.0" fill="#ffa500"/>
<ellipse cx="1173.8" cy="594.9" rx="4.8" ry="4.0" fill="#eef040"/>
<ellipse cx="718.9" cy="570.8" rx="4.8" ry="4.0" fill="#ffa500"/>
<ellipse cx="1147.3" cy="807.6" rx="4.8" ry="4.0" fill="#66f2d2"/>
<ellipse cx="1147.1" cy="805.5" rx="4.8" ry="4.0" fill="#0a0aff"/>
<ellipse cx="1219.5" cy="661.9" rx="4.8" ry="4.0" fill="#66f2d2"/>
<ellipse cx="502.9" cy="304.5" rx="4.8" ry="4.0" fill="#ff0000"/>
<ellipse cx="1225.2" cy="590.5" rx="4.8" ry="4.0" fill="#66f2d2"/>
<ellipse cx="1025.9" cy="716.9" rx="4.8" ry="4.0" fill="#66f2d2"/>
<ellipse cx="962.4" cy="746.5" rx="4.8" ry="4.0" fill="#66f2d2"/>
<ellipse cx="1092.0" cy="628.6" rx="4.8" ry="4.0" fill="#eef040"/>
<ellipse cx="917.8" cy="836.8" rx="4.8" ry="4.0" fill="#66f2d2"/>
<ellipse cx="1115.0" cy="462.2" rx="4.8" ry="4.0" fill="#ffa500"/>
<ellipse cx="660.7" cy="565.7" rx="4.8" ry="4.0" fill="#ffa500"/>
<ellipse cx="1003.3" cy="502.1" rx="4.8" ry="4.0" fill="#ffa500"/>
<ellipse cx="1205.0" cy="664.0" rx="4.8" ry="4.0" fill="#66f2d2"/>
<ellipse cx="1080.1" cy="414.6" rx="4.8" ry="4.0" fill="#ff0000"/>
<ellipse cx="1301.1" cy="237.0" rx="4.8" ry="4.0" fill="#eef040"/>
<ellipse cx="1264.9" cy="286.5" rx="4.8" ry="4.0" fill="#eef040"/>
<ellipse cx="1125.2" cy="594.3" rx="4.8" ry="4.0" fill="#66f2d2"/>
<ellipse cx="1259.5" cy="262.2" rx="4.8" ry="4.0" fill="#ffa500"/>
<ellipse cx="1032.8" cy="448.7" rx="4.8" ry="4.0" fill="#ffa500"/>
<ellipse cx="1064.0" cy="618.4" rx="4.8" ry="4.0" fill="#ffa500"/>
<ellipse cx="1059.8" cy="630.0" rx="4.8" ry="4.0" fill="#ffa500"/>
<ellipse cx="1079.4" cy="833.2" rx="4.8" ry="4.0" fill="#3c9aff"/>
<ellipse cx="1140.9" cy="441.4" rx="4.8" ry="4.0" fill="#eef040"/>
<ellipse cx="937.7" cy="524.0" rx="4.8" ry="4.0" fill="#ffa500"/>
<ellipse cx="1145.1" cy="559.3" rx="4.8" ry="4.0" fill="#eef040"/>
<ellipse cx="955.9" cy="578.7" rx="4.8" ry="4.0" fill="#ffa500"/>
<ellipse cx="1222.5" cy="456.3" rx="4.8" ry="4.0" fill="#ffa500"/>
<ellipse cx="673.3" cy="401.9" rx="4.8" ry="4.0" fill="#ff0000"/>
<ellipse cx="270.5" cy="600.9" rx="4.8" ry="4.0" fill="#ff0000"/>
<ellipse cx="787.2" cy="535.1" rx="4.8" ry="4.0" fill="#ffa500"/>
<ellipse cx="1135.1" cy="497.0" rx="4.8" ry="4.0" fill="#eef040"/>
<ellipse cx="1006.1" cy="494.6" rx="4.8" ry="4.0" fill="#ffa500"/>
<ellipse cx="959.1" cy="625.0" rx="4.8" ry="4.0" fill="#eef040"/>
<ellipse cx="1094.9" cy="470.4" rx="4.8" ry="4.0" fill="#ffa500"/>
<ellipse cx="837.9" cy="622.4" rx="4.8" ry="4.0" fill="#0a0aff"/>
<ellipse cx="912.3" cy="510.1" rx="4.8" ry="4.0" fill="#ffa500"/>
<ellipse cx="1019.1" cy="550.9" rx="4.8" ry="4.0" fill="#ffa500"/>
<ellipse cx="1081.3" cy="591.0" rx="4.8" ry="4.0" fill="#66f2d2"/>
<ellipse cx="1037.4" cy="473.7" rx="4.8" ry="4.0" fill="#ffa500"/>
<ellipse cx="1118.8" cy="642.0" rx="4.8" ry="4.0" fill="#eef040"/>
<ellipse cx="997.3" cy="643.6" rx="4.8" ry="4.0" fill="#eef040"/>
<ellipse cx="1071.2" cy="831.0" rx="4.8" ry="4.0" fill="#3c9aff"/>
<ellipse cx="1102.5" cy="702.8" rx="4.8" ry="4.0" fill="#66f2d2"/>
<ellipse cx="590.6" cy="483.3" rx="4.8" ry="4.0" fill="#ff0000"/>
<ellipse cx="1111.4" cy="664.8" rx="4.8" ry="4.0" fill="#66f2d2"/>
<ellipse cx="1182.0" cy="796.9" rx="4.8" ry="4.0" fill="#eef040"/>
<ellipse cx="973.2" cy="510.0" rx="4.8" ry="4.0" fill="#ffa500"/>
<ellipse cx="1325.8" cy="192.5" rx="4.8" ry="4.0" fill="#ffa500"/>
<ellipse cx="957.5" cy="799.9" rx="4.8" ry="4.0" fill="#66f2d2"/>
<ellipse cx="1197.4" cy="244.7" rx="4.8" ry="4.0" fill="#ffa500"/>
<ellipse cx="1200.3" cy="593.8" rx="4.8" ry="4.0" fill="#66f2d2"/>
<ellipse cx="1097.6" cy="659.3" rx="4.8" ry="4.0" fill="#eef040"/>
<ellipse cx="1126.1" cy="717.7" rx="4.8" ry="4.0" fill="#66f2d2"/>
<ellipse cx="979.3" cy="858.4" rx="4.8" ry="4.0" fill="#66f2d2"/>
<ellipse cx="1079.8" cy="516.1" rx="4.8" ry="4.0" fill="#ffa500"/>
<ellipse cx="1253.9" cy="655.2" rx="4.8" ry="4.0" fill="#66f2d2"/>
<ellipse cx="600.0" cy="311.2" rx="4.8" ry="4.0" fill="#ff0000"/>
<ellipse cx="1137.1" cy="810.1" rx="4.8" ry="4.0" fill="#0a0aff"/>
<ellipse cx="496.2" cy="193.6" rx="4.8" ry="4.0" fill="#ff0000"/>
<ellipse cx="1133.3" cy="613.5" rx="4.8" ry="4.0" fill="#66f2d2"/>
<ellipse cx="1094.8" cy="752.3" rx="4.8" ry="4.0" fill="#66f2d2"/>
<ellipse cx="904.2" cy="556.2" rx="4.8" ry="4.0" fill="#ffa500"/>
<ellipse cx="1123.6" cy="798.2" rx="4.8" ry="4.0" fill="#66f2d2"/>
<ellipse cx="961.6" cy="832.0" rx="4.8" ry="4.0" fill="#66f2d2"/>
<ellipse cx="885.8" cy="833.2" rx="4.8" ry="4.0" fill="#3c9aff"/>
<ellipse cx="1034.3" cy="711.0" rx="4.8" ry="4.0" fill="#eef040"/>
<ellipse cx="903.8" cy="647.4" rx="4.8" ry="4.0" fill="#eef040"/>
<ellipse cx="958.1" cy="788.3" rx="4.8" ry="4.0" fill="#3c9aff"/>
<ellipse cx="1168.7" cy="590.6" rx="4.8" ry="4.0" fill="#66f2d2"/>
<ellipse cx="1035.2" cy="740.0" rx="4.8" ry="4.0" fill="#66f2d2"/>
<ellipse cx="1161.2" cy="801.2" rx="4.8" ry="4.0" fill="#66f2d2"/>
<ellipse cx="887.8" cy="392.0" rx="4.8" ry="4.0" fill="#ff0000"/>
<ellipse cx="1137.5" cy="576.4" rx="4.8" ry="4.0" fill="#66f2d2"/>
<ellipse cx="966.0" cy="763.3" rx="4.8" ry="4.0" fill="#66f2d2"/>
<ellipse cx="761.6" cy="514.9" rx="4.8" ry="4.0" fill="#ff0000"/>
<ellipse cx="1013.1" cy="472.8" rx="4.8" ry="4.0" fill="#ffa500"/>
<ellipse cx="1021.7" cy="790.8" rx="4.8" ry="4.0" fill="#66f2d2"/>
<ellipse cx="654.8" cy="585.6" rx="4.8" ry="4.0" fill="#ffa500"/>
<ellipse cx="1157.4" cy="604.9" rx="4.8" ry="4.0" fill="#eef040"/>
<ellipse cx="930.6" cy="609.9" rx="4.8" ry="4.0" fill="#eef040"/>
<ellipse cx="1034.4" cy="669.4" rx="4.8" ry="4.0" fill="#66f2d2"/>
<ellipse cx="1158.1" cy="737.1" rx="4.8" ry="4.0" fill="#3c9aff"/>
<ellipse cx="966.9" cy="843.3" rx="4.8" ry="4.0" fill="#66f2d2"/>
<ellipse cx="1053.5" cy="483.3" rx="4.8" ry="4.0" fill="#ffa500"/>
<ellipse cx="1099.5" cy="416.5" rx="4.8" ry="4.0" fill="#ffa500"/>
<ellipse cx="1241.9" cy="332.4" rx="4.8" ry="4.0" fill="#ffa500"/>
<ellipse cx="1253.4" cy="168.4" rx="4.8" ry="4.0" fill="#ffa500"/>
<ellipse cx="736.4" cy="749.2" rx="4.8" ry="4.0" fill="#eef040"/>
<ellipse cx="799.4" cy="824.4" rx="4.8" ry="4.0" fill="#eef040"/>
<ellipse cx="1195.7" cy="762.7" rx="4.8" ry="4.0" fill="#eef040"/>
<ellipse cx="1208.8" cy="325.7" rx="4.8" ry="4.0" fill="#ffa500"/>
<ellipse cx="1334.4" cy="189.2" rx="4.8" ry="4.0" fill="#ffa500"/>
<ellipse cx="448.2" cy="659.0" rx="4.8" ry="4.0" fill="#ffa500"/>
<ellipse cx="1198.9" cy="669.3" rx="4.8" ry="4.0" fill="#66f2d2"/>
<ellipse cx="1236.3" cy="643.9" rx="4.8" ry="4.0" fill="#66f2d2"/>
<ellipse cx="1018.0" cy="704.8" rx="4.8" ry="4.0" fill="#eef040"/>
<ellipse cx="1037.9" cy="347.0" rx="4.8" ry="4.0" fill="#ffa500"/>
<ellipse cx="1140.9" cy="749.3" rx="4.8" ry="4.0" fill="#3c9aff"/>
<ellipse cx="1155.3" cy="743.7" rx="4.8" ry="4.0" fill="#3c9aff"/>
<ellipse cx="1073.5" cy="750.9" rx="4.8" ry="4.0" fill="#3c9aff"/>
<ellipse cx="1034.5" cy="467.1" rx="4.8" ry="4.0" fill="#ffa500"/>
<ellipse cx="932.0" cy="570.6" rx="4.8" ry="4.0" fill="#ffa500"/>
<ellipse cx="1206.8" cy="264.9" rx="4.8" ry="4.0" fill="#ff0000"/>
<ellipse cx="1305.9" cy="149.5" rx="4.8" ry="4.0" fill="#ffa500"/>
<ellipse cx="922.0" cy="409.2" rx="4.8" ry="4.0" fill="#ffa500"/>
<ellipse cx="957.3" cy="536.9" rx="4.8" ry="4.0" fill="#ffa500"/>
<ellipse cx="1207.7" cy="752.0" rx="4.8" ry="4.0" fill="#0a0aff"/>
<ellipse cx="916.4" cy="524.3" rx="4.8" ry="4.0" fill="#ffa500"/>
<ellipse cx="846.0" cy="816.3" rx="4.8" ry="4.0" fill="#66f2d2"/>
<ellipse cx="677.2" cy="363.8" rx="4.8" ry="4.0" fill="#ff0000"/>
<ellipse cx="282.4" cy="423.1" rx="4.8" ry="4.0" fill="#ff0000"/>
<ellipse cx="295.0" cy="427.3" rx="4.8" ry="4.0" fill="#ff0000"/>
<ellipse cx="833.1" cy="606.8" rx="4.8" ry="4.0" fill="#eef040"/>
<ellipse cx="279.9" cy="353.9" rx="4.8" ry="4.0" fill="#ff0000"/>
<ellipse cx="880.4" cy="568.4" rx="4.8" ry="4.0" fill="#ffa500"/>
<ellipse cx="1075.3" cy="402.7" rx="4.8" ry="4.0" fill="#ffa500"/>
<ellipse cx="1032.4" cy="412.6" rx="4.8" ry="4.0" fill="#ffa500"/>
<ellipse cx="1370.3" cy="250.4" rx="4.8" ry="4.0" fill="#eef040"/>
<ellipse cx="1154.6" cy="629.4" rx="4.8" ry="4.0" fill="#0a0aff"/>
<ellipse cx="1082.2" cy="474.2" rx="4.8" ry="4.0" fill="#ffa500"/>
<ellipse cx="1121.2" cy="618.3" rx="4.8" ry="4.0" fill="#66f2d2"/>
<ellipse cx="734.6" cy="552.2" rx="4.8" ry="4.0" fill="#ffa500"/>
<ellipse cx="1062.2" cy="599.6" rx="4.8" ry="4.0" fill="#eef040"/>
<ellipse cx="1065.4" cy="543.9" rx="4.8" ry="4.0" fill="#ffa500"/>
<ellipse cx="772.8" cy="702.6" rx="4.8" ry="4.0" fill="#66f2d2"/>
<ellipse cx="982.9" cy="755.1" rx="4.8" ry="4.0" fill="#66f2d2"/>
<ellipse cx="1073.3" cy="805.1" rx="4.8" ry="4.0" fill="#66f2d2"/>
<ellipse cx="943.5" cy="530.9" rx="4.8" ry="4.0" fill="#ffa500"/>
<ellipse cx="987.4" cy="469.1" rx="4.8" ry="4.0" fill="#ffa500"/>
<ellipse cx="720.2" cy="772.9" rx="4.8" ry="4.0" fill="#eef040"/>
<ellipse cx="952.5" cy="565.8" rx="4.8" ry="4.0" fill="#ffa500"/>
<ellipse cx="1235.8" cy="324.3" rx="4.8" ry="4.0" fill="#ffa500"/>
<ellipse cx="1061.4" cy="669.6" rx="4.8" ry="4.0" fill="#66f2d2"/>
<ellipse cx="1345.7" cy="288.5" rx="4.8" ry="4.0" fill="#ffa500"/>
<ellipse cx="1154.8" cy="807.5" rx="4.8" ry="4.0" fill="#66f2d2"/>
<ellipse cx="1003.6" cy="826.7" rx="4.8" ry="4.0" fill="#66f2d2"/>
<ellipse cx="1181.8" cy="266.3" rx="4.8" ry="4.0" fill="#ff0000"/>
<ellipse cx="991.8" cy="555.3" rx="4.8" ry="4.0" fill="#ffa500"/>
<ellipse cx="1201.7" cy="560.1" rx="4.8" ry="4.0" fill="#eef040"/>
<ellipse cx="1024.1" cy="796.7" rx="4.8" ry="4.0" fill="#3c9aff"/>
<ellipse cx="1138.8" cy="602.1" rx="4.8" ry="4.0" fill="#66f2d2"/>
<ellipse cx="1196.7" cy="297.3" rx="4.8" ry="4.0" fill="#ff0000"/>
<ellipse cx="1257.9" cy="651.7" rx="4.8" ry="4.0" fill="#eef040"/>
<ellipse cx="1177.1" cy="702.8" rx="4.8" ry="4.0" fill="#66f2d2"/>
<ellipse cx="795.3" cy="542.0" rx="4.8" ry="4.0" fill="#ffa500"/>
<ellipse cx="1174.0" cy="665.4" rx="4.8" ry="4.0" fill="#66f2d2"/>
<ellipse cx="618.5" cy="623.1" rx="4.8" ry="4.0" fill="#ffa500"/>
<ellipse cx="1189.3" cy="287.2" rx="4.8" ry="4.0" fill="#ff0000"/>
<ellipse cx="1090.9" cy="592.5" rx="4.8" ry="4.0" fill="#eef040"/>
<ellipse cx="1097.0" cy="684.6" rx="4.8" ry="4.0" fill="#3c9aff"/>
<ellipse cx="1033.6" cy="851.9" rx="4.8" ry="4.0" fill="#0a0aff"/>
<ellipse cx="874.3" cy="528.4" rx="4.8" ry="4.0" fill="#eef040"/>
<ellipse cx="1253.4" cy="225.8" rx="4.8" ry="4.0" fill="#ffa500"/>
<ellipse cx="945.2" cy="558.1" rx="4.8" ry="4.0" fill="#ff0000"/>
<ellipse cx="689.1" cy="741.8" rx="4.8" ry="4.0" fill="#eef040"/>
<ellipse cx="965.6" cy="468.0" rx="4.8" ry="4.0" fill="#ffa500"/>
<ellipse cx="1004.9" cy="453.4" rx="4.8" ry="4.0" fill="#ffa500"/>
<ellipse cx="970.9" cy="850.1" rx="4.8" ry="4.0" fill="#0a0aff"/>
<ellipse cx="1051.9" cy="430.7" rx="4.8" ry="4.0" fill="#ffa500"/>
<ellipse cx="811.5" cy="733.1" rx="4.8" ry="4.0" fill="#ffa500"/>
<ellipse cx="1057.8" cy="716.9" rx="4.8" ry="4.0" fill="#eef040"/>
<ellipse cx="1208.8" cy="198.7" rx="4.8" ry="4.0" fill="#ffa500"/>
<ellipse cx="796.7" cy="485.8" rx="4.8" ry="4.0" fill="#ffa500"/>
<ellipse cx="1135.2" cy="256.1" rx="4.8" ry="4.0" fill="#ffa500"/>
<ellipse cx="1245.1" cy="612.4" rx="4.8" ry="4.0" fill="#66f2d2"/>
<ellipse cx="445.5" cy="237.8" rx="4.8" ry="4.0" fill="#ff0000"/>
<ellipse cx="920.0" cy="695.0" rx="4.8" ry="4.0" fill="#66f2d2"/>
<ellipse cx="1153.6" cy="367.9" rx="4.8" ry="4.0" fill="#ff0000"/>
<ellipse cx="843.9" cy="699.3" rx="4.8" ry="4.0" fill="#66f2d2"/>
<ellipse cx="956.0" cy="878.9" rx="4.8" ry="4.0" fill="#66f2d2"/>
<ellipse cx="740.0" cy="839.9" rx="4.8" ry="4.0" fill="#3c9aff"/>
<ellipse cx="1084.6" cy="634.6" rx="4.8" ry="4.0" fill="#eef040"/>
<ellipse cx="1230.8" cy="673.7" rx="4.8" ry="4.0" fill="#66f2d2"/>
<ellipse cx="933.3" cy="557.7" rx="4.8" ry="4.0" fill="#ffa500"/>
<ellipse cx="1199.0" cy="579.7" rx="4.8" ry="4.0" fill="#66f2d2"/>
<ellipse cx="1145.1" cy="509.3" rx="4.8" ry="4.0" fill="#ffa500"/>
<ellipse cx="1251.4" cy="310.2" rx="4.8" ry="4.0" fill="#ffa500"/>
<ellipse cx="795.3" cy="783.9" rx="4.8" ry="4.0" fill="#eef040"/>
<ellipse cx="1150.8" cy="571.9" rx="4.8" ry="4.0" fill="#eef040"/>
<ellipse cx="1085.5" cy="416.7" rx="4.8" ry="4.0" fill="#ffa500"/>
<ellipse cx="1242.6" cy="654.7" rx="4.8" ry="4.0" fill="#66f2d2"/>
<ellipse cx="975.8" cy="495.6" rx="4.8" ry="4.0" fill="#ffa500"/>
<ellipse cx="869.6" cy="633.2" rx="4.8" ry="4.0" fill="#eef040"/>
<ellipse cx="1327.9" cy="175.8" rx="4.8" ry="4.0" fill="#ffa500"/>
<ellipse cx="997.8" cy="520.0" rx="4.8" ry="4.0" fill="#ffa500"/>
<ellipse cx="796.7" cy="708.8" rx="4.8" ry="4.0" fill="#eef040"/>
<ellipse cx="1119.3" cy="572.0" rx="4.8" ry="4.0" fill="#eef040"/>
<ellipse cx="944.8" cy="513.6" rx="4.8" ry="4.0" fill="#ffa500"/>
<ellipse cx="1122.9" cy="824.9" rx="4.8" ry="4.0" fill="#3c9aff"/>
<ellipse cx="1053.2" cy="454.1" rx="4.8" ry="4.0" fill="#ffa500"/>
<ellipse cx="779.1" cy="502.7" rx="4.8" ry="4.0" fill="#ffa500"/>
<ellipse cx="1157.1" cy="585.4" rx="4.8" ry="4.0" fill="#66f2d2"/>
<ellipse cx="1096.4" cy="528.4" rx="4.8" ry="4.0" fill="#ffa500"/>
<ellipse cx="730.3" cy="769.5" rx="4.8" ry="4.0" fill="#ffa500"/>
<ellipse cx="1149.3" cy="392.7" rx="4.8" ry="4.0" fill="#ffa500"/>
<ellipse cx="1133.3" cy="484.6" rx="4.8" ry="4.0" fill="#ffa500"/>
<ellipse cx="893.5" cy="594.8" rx="4.8" ry="4.0" fill="#eef040"/>
<ellipse cx="1166.7" cy="712.9" rx="4.8" ry="4.0" fill="#3c9aff"/>
<ellipse cx="953.3" cy="410.8" rx="4.8" ry="4.0" fill="#ffa500"/>
<ellipse cx="808.2" cy="652.1" rx="4.8" ry="4.0" fill="#3c9aff"/>
<ellipse cx="257.1" cy="405.4" rx="4.8" ry="4.0" fill="#ff0000"/>
<ellipse cx="1242.0" cy="590.5" rx="4.8" ry="4.0" fill="#66f2d2"/>
<ellipse cx="1104.1" cy="836.1" rx="4.8" ry="4.0" fill="#3c9aff"/>
<ellipse cx="1119.8" cy="586.8" rx="4.8" ry="4.0" fill="#66f2d2"/>
<ellipse cx="1053.2" cy="795.4" rx="4.8" ry="4.0" fill="#66f2d2"/>
<ellipse cx="1131.8" cy="672.3" rx="4.8" ry="4.0" fill="#3c9aff"/>
<ellipse cx="905.2" cy="865.2" rx="4.8" ry="4.0" fill="#66f2d2"/>
<ellipse cx="825.0" cy="633.2" rx="4.8" ry="4.0" fill="#3c9aff"/>
<ellipse cx="1040.1" cy="470.9" rx="4.8" ry="4.0" fill="#ffa500"/>
<ellipse cx="885.8" cy="763.6" rx="4.8" ry="4.0" fill="#66f2d2"/>
<ellipse cx="1041.6" cy="498.1" rx="4.8" ry="4.0" fill="#ffa500"/>
<ellipse cx="770.1" cy="743.1" rx="4.8" ry="4.0" fill="#eef040"/>
<ellipse cx="1144.0" cy="785.7" rx="4.8" ry="4.0" fill="#eef040"/>
<ellipse cx="1194.1" cy="412.6" rx="4.8" ry="4.0" fill="#ffa500"/>
<ellipse cx="1257.5" cy="326.4" rx="4.8" ry="4.0" fill="#ffa500"/>
<ellipse cx="1126.7" cy="388.7" rx="4.8" ry="4.0" fill="#ffa500"/>
<ellipse cx="941.1" cy="853.4" rx="4.8" ry="4.0" fill="#66f2d2"/>
<ellipse cx="1097.3" cy="665.1" rx="4.8" ry="4.0" fill="#66f2d2"/>
<ellipse cx="939.1" cy="471.4" rx="4.8" ry="4.0" fill="#ffa500"/>
<ellipse cx="935.2" cy="535.4" rx="4.8" ry="4.0" fill="#ffa500"/>
<ellipse cx="1019.4" cy="671.9" rx="4.8" ry="4.0" fill="#eef040"/>
<ellipse cx="1231.1" cy="337.8" rx="4.8" ry="4.0" fill="#ffa500"/>
<ellipse cx="377.8" cy="337.8" rx="4.8" ry="4.0" fill="#ff0000"/>
<ellipse cx="1226.1" cy="594.1" rx="4.8" ry="4.0" fill="#66f2d2"/>
<ellipse cx="1003.7" cy="533.3" rx="4.8" ry="4.0" fill="#ffa500"/>
<ellipse cx="1226.0" cy="605.0" rx="4.8" ry="4.0" fill="#66f2d2"/>
<ellipse cx="1115.3" cy="763.1" rx="4.8" ry="4.0" fill="#66f2d2"/>
<ellipse cx="1103.2" cy="761.3" rx="4.8" ry="4.0" fill="#66f2d2"/>
<ellipse cx="1024.6" cy="836.2" rx="4.8" ry="4.0" fill="#66f2d2"/>
<ellipse cx="1258.0" cy="631.9" rx="4.8" ry="4.0" fill="#3c9aff"/>
<ellipse cx="1073.5" cy="770.6" rx="4.8" ry="4.0" fill="#3c9aff"/>
<ellipse cx="918.9" cy="384.8" rx="4.8" ry="4.0" fill="#ff0000"/>
<ellipse cx="885.8" cy="748.1" rx="4.8" ry="4.0" fill="#66f2d2"/>
<ellipse cx="749.2" cy="750.6" rx="4.8" ry="4.0" fill="#eef040"/>
<ellipse cx="841.2" cy="548.1" rx="4.8" ry="4.0" fill="#ffa500"/>
<ellipse cx="1265.3" cy="634.3" rx="4.8" ry="4.0" fill="#66f2d2"/>
<ellipse cx="779.1" cy="685.8" rx="4.8" ry="4.0" fill="#eef040"/>
<ellipse cx="999.8" cy="515.9" rx="4.8" ry="4.0" fill="#ffa500"/>
<ellipse cx="905.9" cy="624.7" rx="4.8" ry="4.0" fill="#eef040"/>
<ellipse cx="1179.8" cy="613.1" rx="4.8" ry="4.0" fill="#66f2d2"/>
<ellipse cx="1165.0" cy="170.4" rx="4.8" ry="4.0" fill="#ffa500"/>
<ellipse cx="1093.0" cy="612.2" rx="4.8" ry="4.0" fill="#3c9aff"/>
<ellipse cx="1069.8" cy="433.8" rx="4.8" ry="4.0" fill="#ffa500"/>
<ellipse cx="1197.3" cy="623.6" rx="4.8" ry="4.0" fill="#3c9aff"/>
<ellipse cx="913.6" cy="614.5" rx="4.8" ry="4.0" fill="#eef040"/>
<ellipse cx="1194.0" cy="335.8" rx="4.8" ry="4.0" fill="#ff0000"/>
<ellipse cx="1344.0" cy="225.7" rx="4.8" ry="4.0" fill="#ffa500"/>
<ellipse cx="776.4" cy="527.7" rx="4.8" ry="4.0" fill="#ffa500"/>
<ellipse cx="986.2" cy="513.6" rx="4.8" ry="4.0" fill="#ffa500"/>
<ellipse cx="1212.7" cy="647.7" rx="4.8" ry="4.0" fill="#66f2d2"/>
<ellipse cx="913.1" cy="716.1" rx="4.8" ry="4.0" fill="#66f2d2"/>
<ellipse cx="860.8" cy="516.9" rx="4.8" ry="4.0" fill="#ffa500"/>
<ellipse cx="1248.8" cy="590.5" rx="4.8" ry="4.0" fill="#66f2d2"/>
<ellipse cx="981.3" cy="417.7" rx="4.8" ry="4.0" fill="#ffa500"/>
<ellipse cx="1347.3" cy="212.3" rx="4.8" ry="4.0" fill="#ffa500"/>
<ellipse cx="1181.1" cy="737.4" rx="4.8" ry="4.0" fill="#66f2d2"/>
<ellipse cx="1140.8" cy="619.6" rx="4.8" ry="4.0" fill="#66f2d2"/>
<ellipse cx="787.2" cy="827.1" rx="4.8" ry="4.0" fill="#eef040"/>
<ellipse cx="1117.7" cy="350.2" rx="4.8" ry="4.0" fill="#ffa500"/>
<ellipse cx="1108.4" cy="634.5" rx="4.8" ry="4.0" fill="#66f2d2"/>
<ellipse cx="1039.5" cy="429.2" rx="4.8" ry="4.0" fill="#ffa500"/>
<ellipse cx="1078.9" cy="448.5" rx="4.8" ry="4.0" fill="#ff0000"/>
<ellipse cx="1204.5" cy="676.3" rx="4.8" ry="4.0" fill="#66f2d2"/>
<ellipse cx="1234.3" cy="346.1" rx="4.8" ry="4.0" fill="#eef040"/>
<ellipse cx="937.3" cy="387.7" rx="4.8" ry="4.0" fill="#ff0000"/>
<ellipse cx="1096.8" cy="816.0" rx="4.8" ry="4.0" fill="#66f2d2"/>
<ellipse cx="1201.2" cy="648.1" rx="4.8" ry="4.0" fill="#3c9aff"/>
<ellipse cx="1038.3" cy="624.0" rx="4.8" ry="4.0" fill="#eef040"/>
<ellipse cx="1105.3" cy="386.5" rx="4.8" ry="4.0" fill="#ffa500"/>
<ellipse cx="1186.3" cy="633.1" rx="4.8" ry="4.0" fill="#66f2d2"/>
<ellipse cx="965.2" cy="702.3" rx="4.8" ry="4.0" fill="#66f2d2"/>
<ellipse cx="998.7" cy="638.9" rx="4.8" ry="4.0" fill="#66f2d2"/>
<ellipse cx="1113.1" cy="483.1" rx="4.8" ry="4.0" fill="#eef040"/>
<ellipse cx="858.8" cy="502.1" rx="4.8" ry="4.0" fill="#ffa500"/>
<ellipse cx="942.1" cy="764.0" rx="4.8" ry="4.0" fill="#66f2d2"/>
<ellipse cx="1035.8" cy="785.9" rx="4.8" ry="4.0" fill="#66f2d2"/>
<ellipse cx="1117.1" cy="719.0" rx="4.8" ry="4.0" fill="#3c9aff"/>
<ellipse cx="864.2" cy="662.9" rx="4.8" ry="4.0" fill="#66f2d2"/>
<ellipse cx="416.1" cy="658.2" rx="4.8" ry="4.0" fill="#ffa500"/>
<ellipse cx="899.6" cy="574.9" rx="4.8" ry="4.0" fill="#eef040"/>
<ellipse cx="982.1" cy="477.0" rx="4.8" ry="4.0" fill="#ffa500"/>
<ellipse cx="1086.1" cy="814.3" rx="4.8" ry="4.0" fill="#66f2d2"/>
<ellipse cx="1036.2" cy="817.1" rx="4.8" ry="4.0" fill="#3c9aff"/>
<ellipse cx="733.7" cy="608.1" rx="4.8" ry="4.0" fill="#ffa500"/>
<ellipse cx="1230.7" cy="671.0" rx="4.8" ry="4.0" fill="#66f2d2"/>
<ellipse cx="915.6" cy="798.5" rx="4.8" ry="4.0" fill="#66f2d2"/>
<ellipse cx="1081.5" cy="799.0" rx="4.8" ry="4.0" fill="#66f2d2"/>
<ellipse cx="1123.1" cy="543.6" rx="4.8" ry="4.0" fill="#eef040"/>
<ellipse cx="926.9" cy="773.5" rx="4.8" ry="4.0" fill="#66f2d2"/>
<ellipse cx="744.0" cy="592.0" rx="4.8" ry="4.0" fill="#ffa500"/>
<ellipse cx="1004.7" cy="649.1" rx="4.8" ry="4.0" fill="#66f2d2"/>
<ellipse cx="1041.2" cy="551.7" rx="4.8" ry="4.0" fill="#ffa500"/>
<ellipse cx="1060.9" cy="659.3" rx="4.8" ry="4.0" fill="#66f2d2"/>
<ellipse cx="1080.0" cy="428.1" rx="4.8" ry="4.0" fill="#ffa500"/>
<ellipse cx="903.0" cy="635.9" rx="4.8" ry="4.0" fill="#eef040"/>
<ellipse cx="1040.3" cy="397.0" rx="4.8" ry="4.0" fill="#ffa500"/>
<ellipse cx="871.0" cy="584.6" rx="4.8" ry="4.0" fill="#eef040"/>
<ellipse cx="853.4" cy="688.5" rx="4.8" ry="4.0" fill="#eef040"/>
<ellipse cx="362.6" cy="321.0" rx="4.8" ry="4.0" fill="#ff0000"/>
<ellipse cx="1061.5" cy="828.8" rx="4.8" ry="4.0" fill="#3c9aff"/>
<ellipse cx="1215.6" cy="621.2" rx="4.8" ry="4.0" fill="#0a0aff"/>
<ellipse cx="1082.8" cy="698.9" rx="4.8" ry="4.0" fill="#66f2d2"/>
<ellipse cx="1174.3" cy="529.6" rx="4.8" ry="4.0" fill="#ffa500"/>
<ellipse cx="1137.8" cy="530.1" rx="4.8" ry="4.0" fill="#eef040"/>
<ellipse cx="1047.7" cy="589.0" rx="4.8" ry="4.0" fill="#eef040"/>
<ellipse cx="885.8" cy="692.6" rx="4.8" ry="4.0" fill="#eef040"/>
<ellipse cx="1195.3" cy="371.4" rx="4.8" ry="4.0" fill="#ff0000"/>
<ellipse cx="1057.6" cy="611.6" rx="4.8" ry="4.0" fill="#66f2d2"/>
<ellipse cx="1283.1" cy="217.6" rx="4.8" ry="4.0" fill="#ffa500"/>
<ellipse cx="1032.0" cy="753.6" rx="4.8" ry="4.0" fill="#66f2d2"/>
<ellipse cx="1092.0" cy="768.5" rx="4.8" ry="4.0" fill="#eef040"/>
<ellipse cx="545.1" cy="298.5" rx="4.8" ry="4.0" fill="#ff0000"/>
<ellipse cx="1101.3" cy="586.8" rx="4.8" ry="4.0" fill="#eef040"/>
<ellipse cx="777.8" cy="619.0" rx="4.8" ry="4.0" fill="#eef040"/>
<ellipse cx="1120.7" cy="743.7" rx="4.8" ry="4.0" fill="#3c9aff"/>
<ellipse cx="1032.5" cy="655.9" rx="4.8" ry="4.0" fill="#eef040"/>
<ellipse cx="979.2" cy="574.6" rx="4.8" ry="4.0" fill="#ffa500"/>
<ellipse cx="1235.3" cy="690.4" rx="4.8" ry="4.0" fill="#3c9aff"/>
<ellipse cx="1120.0" cy="361.3" rx="4.8" ry="4.0" fill="#ffa500"/>
<ellipse cx="1118.8" cy="652.6" rx="4.8" ry="4.0" fill="#eef040"/>
</g>
<line x1="1242.6" y1="987.6" x2="1247.5" y2="1013.1" stroke="#000" stroke-linecap="round" stroke-width="4.2"/>
<line x1="1257.2" y1="912.3" x2="1245.8" y2="940.2" stroke="#000" stroke-linecap="round" stroke-width="4.2"/>
<line x1="1297.8" y1="840.4" x2="1280" y2="865.7" stroke="#000" stroke-linecap="round" stroke-width="4.2"/>
<line x1="1304.5" y1="767.8" x2="1303.7" y2="796.5" stroke="#000" stroke-linecap="round" stroke-width="3.6"/>
<path d="M965.5,1005.8 Q980,1015 985,1031.4" fill="none" stroke="#000" stroke-linecap="round" stroke-width="4"/>
<circle cx="1027.5" cy="981.5" r="2.6" fill="#000"/>
<circle cx="1049.4" cy="983.5" r="2.8" fill="#000"/>
<circle cx="1051" cy="988" r="2.5" fill="#000"/>
<circle cx="1056.7" cy="994.9" r="2.8" fill="#000"/>
<circle cx="1033.6" cy="998.6" r="3.6" fill="#000"/>
<circle cx="1037.2" cy="1005.8" r="3" fill="#000"/>
<circle cx="1044.5" cy="999.8" r="2.6" fill="#000"/>
<circle cx="1059.1" cy="1005.8" r="2.6" fill="#000"/>
<circle cx="1021.4" cy="1013.1" r="2.8" fill="#000"/>
<circle cx="1038.5" cy="996" r="2.4" fill="#000"/>
<circle cx="1208.6" cy="1013.1" r="3.2" fill="#000"/>
<circle cx="1139.3" cy="877" r="2.6" fill="#000"/>
<circle cx="1139.8" cy="874" r="2" fill="#000"/>
<circle cx="1164.8" cy="883.1" r="3.6" fill="#000"/>
<circle cx="1280.9" cy="745.8" r="2.4" fill="#000"/>
<circle cx="1319.7" cy="732.3" r="2.4" fill="#000"/>
<circle cx="1280.9" cy="819.3" r="2.2" fill="#000"/>
<circle cx="1284.3" cy="833.6" r="2.4" fill="#000"/>
<circle cx="1226.5" cy="799" r="3.2" fill="#000"/>
<circle cx="1224.5" cy="805" r="3.6" fill="#000"/>
<circle cx="1228" cy="810" r="3.2" fill="#000"/>
<circle cx="1223" cy="813" r="3" fill="#000"/>
<circle cx="1230" cy="807" r="2.5" fill="#000"/>
<circle cx="1319.7" cy="731.5" r="2.8" fill="#000"/>
<circle cx="1322" cy="729.5" r="2.2" fill="#000"/>
<circle cx="1281.5" cy="745" r="2.8" fill="#000"/>
<circle cx="1282.5" cy="748" r="2.2" fill="#000"/>
<ellipse cx="1110.2" cy="1005.8" rx="17.5" ry="6.5" transform="rotate(-20 1110.2 1005.8)" fill="none" stroke="#000" stroke-width="3.2"/>
<g transform="translate(821.1,176.6) scale(1.146,1)">
<line x1="16.8" y1="-40.7" x2="18.0" y2="-43.4" stroke="#555" stroke-width="1.2"/>
<line x1="40.7" y1="-16.8" x2="43.4" y2="-18.0" stroke="#555" stroke-width="1.2"/>
<line x1="40.7" y1="16.8" x2="43.4" y2="18.0" stroke="#555" stroke-width="1.2"/>
<line x1="16.8" y1="40.7" x2="18.0" y2="43.4" stroke="#555" stroke-width="1.2"/>
<line x1="-16.8" y1="40.7" x2="-18.0" y2="43.4" stroke="#555" stroke-width="1.2"/>
<line x1="-40.7" y1="16.8" x2="-43.4" y2="18.0" stroke="#555" stroke-width="1.2"/>
<line x1="-40.7" y1="-16.8" x2="-43.4" y2="-18.0" stroke="#555" stroke-width="1.2"/>
<line x1="-16.8" y1="-40.7" x2="-18.0" y2="-43.4" stroke="#555" stroke-width="1.2"/>
<circle r="41.8" fill="none" stroke="#000" stroke-width="4.2"/>
<circle r="41.4" fill="none" stroke="#fff" stroke-width="0.9" stroke-dasharray="9 14"/>
<circle r="38.2" fill="none" stroke="#000" stroke-width="1.1"/>
<polygon points="0,0 24.75,-24.75 6.15,-14.64" fill="#fff" stroke="#000" stroke-width="0.8" stroke-linejoin="miter"/><polygon points="0,0 24.75,-24.75 14.64,-6.15" fill="#000" stroke="#000" stroke-width="0.8"/><line x1="0" y1="0" x2="24.01" y2="-24.01" stroke="#fff" stroke-width="0.9"/>
<polygon points="0,0 24.75,24.75 14.64,6.15" fill="#fff" stroke="#000" stroke-width="0.8" stroke-linejoin="miter"/><polygon points="0,0 24.75,24.75 6.15,14.64" fill="#000" stroke="#000" stroke-width="0.8"/><line x1="0" y1="0" x2="24.01" y2="24.01" stroke="#fff" stroke-width="0.9"/>
<polygon points="0,0 -24.75,24.75 -6.15,14.64" fill="#fff" stroke="#000" stroke-width="0.8" stroke-linejoin="miter"/><polygon points="0,0 -24.75,24.75 -14.64,6.15" fill="#000" stroke="#000" stroke-width="0.8"/><line x1="0" y1="0" x2="-24.01" y2="24.01" stroke="#fff" stroke-width="0.9"/>
<polygon points="0,0 -24.75,-24.75 -14.64,-6.15" fill="#fff" stroke="#000" stroke-width="0.8" stroke-linejoin="miter"/><polygon points="0,0 -24.75,-24.75 -6.15,-14.64" fill="#000" stroke="#000" stroke-width="0.8"/><line x1="0" y1="0" x2="-24.01" y2="-24.01" stroke="#fff" stroke-width="0.9"/>
<polygon points="0,0 0.00,-51.00 -8.00,-19.38" fill="#fff" stroke="#000" stroke-width="0.9" stroke-linejoin="miter"/><polygon points="0,0 0.00,-51.00 8.00,-19.38" fill="#000" stroke="#000" stroke-width="0.9"/><line x1="0" y1="0" x2="0.00" y2="-49.47" stroke="#fff" stroke-width="0.9"/>
<polygon points="0,0 51.00,-0.00 19.38,-8.00" fill="#fff" stroke="#000" stroke-width="0.9" stroke-linejoin="miter"/><polygon points="0,0 51.00,-0.00 19.38,8.00" fill="#000" stroke="#000" stroke-width="0.9"/><line x1="0" y1="0" x2="49.47" y2="-0.00" stroke="#fff" stroke-width="0.9"/>
<polygon points="0,0 0.00,51.00 8.00,19.38" fill="#fff" stroke="#000" stroke-width="0.9" stroke-linejoin="miter"/><polygon points="0,0 0.00,51.00 -8.00,19.38" fill="#000" stroke="#000" stroke-width="0.9"/><line x1="0" y1="0" x2="0.00" y2="49.47" stroke="#fff" stroke-width="0.9"/>
<polygon points="0,0 -51.00,0.00 -19.38,8.00" fill="#fff" stroke="#000" stroke-width="0.9" stroke-linejoin="miter"/><polygon points="0,0 -51.00,0.00 -19.38,-8.00" fill="#000" stroke="#000" stroke-width="0.9"/><line x1="0" y1="0" x2="-49.47" y2="0.00" stroke="#fff" stroke-width="0.9"/>
<circle r="1.6" fill="#fff"/>
</g>
<text x="822" y="118.6" font-size="25" text-anchor="middle" fill="#000" font-family="Liberation Serif">N</text>
<text x="821" y="249.5" font-size="25" text-anchor="middle" fill="#000" font-family="Liberation Serif">S</text>
<text x="748" y="185" font-size="25" text-anchor="middle" fill="#000" font-family="Liberation Serif">W</text>
<text x="892.6" y="186" font-size="25" text-anchor="middle" fill="#000" font-family="Liberation Serif">E</text>
<rect x="1301.8" y="874.5" width="160" height="188" fill="#fff" stroke="#000" stroke-width="4"/>
<defs><clipPath id="iclip"><rect x="1304" y="876.5" width="156" height="184"/></clipPath></defs>
<g clip-path="url(#iclip)">
<polygon points="1300,872 1432,872 1425,877 1410.8,887.5 1401.3,895.7 1389.5,904 1375.3,909.9 1360,917 1340,921 1320,925 1303,926" fill="#101010"/>
<ellipse cx="1359.7" cy="902.2" rx="4.0" ry="3.6" fill="#0a0aff" stroke="#000" stroke-width="2.0"/>
<ellipse cx="1361.5" cy="899.4" rx="4.0" ry="3.6" fill="#66f2d2" stroke="#000" stroke-width="2.0"/>
<ellipse cx="1324.4" cy="899.6" rx="4.0" ry="3.6" fill="#3c9aff" stroke="#000" stroke-width="2.0"/>
<ellipse cx="1404.7" cy="877.1" rx="4.0" ry="3.6" fill="#66f2d2" stroke="#000" stroke-width="2.0"/>
<ellipse cx="1312.0" cy="915.7" rx="4.0" ry="3.6" fill="#3c9aff" stroke="#000" stroke-width="2.0"/>
<ellipse cx="1305.5" cy="925.0" rx="4.0" ry="3.6" fill="#eef040" stroke="#000" stroke-width="2.0"/>
<ellipse cx="1386.3" cy="905.2" rx="4.0" ry="3.6" fill="#66f2d2" stroke="#000" stroke-width="2.0"/>
<ellipse cx="1302.0" cy="900.5" rx="4.0" ry="3.6" fill="#66f2d2" stroke="#000" stroke-width="2.0"/>
<ellipse cx="1325.1" cy="885.1" rx="4.0" ry="3.6" fill="#66f2d2" stroke="#000" stroke-width="2.0"/>
<ellipse cx="1361.2" cy="895.8" rx="4.0" ry="3.6" fill="#0a0aff" stroke="#000" stroke-width="2.0"/>
<ellipse cx="1368.5" cy="906.6" rx="4.0" ry="3.6" fill="#66f2d2" stroke="#000" stroke-width="2.0"/>
<ellipse cx="1387.4" cy="896.7" rx="4.0" ry="3.6" fill="#66f2d2" stroke="#000" stroke-width="2.0"/>
<ellipse cx="1341.6" cy="884.4" rx="4.0" ry="3.6" fill="#66f2d2" stroke="#000" stroke-width="2.0"/>
<ellipse cx="1309.3" cy="913.4" rx="4.0" ry="3.6" fill="#66f2d2" stroke="#000" stroke-width="2.0"/>
<ellipse cx="1309.6" cy="906.0" rx="4.0" ry="3.6" fill="#3c9aff" stroke="#000" stroke-width="2.0"/>
<ellipse cx="1335.6" cy="876.7" rx="4.0" ry="3.6" fill="#66f2d2" stroke="#000" stroke-width="2.0"/>
<ellipse cx="1315.6" cy="885.3" rx="4.0" ry="3.6" fill="#66f2d2" stroke="#000" stroke-width="2.0"/>
<ellipse cx="1323.5" cy="902.2" rx="4.0" ry="3.6" fill="#66f2d2" stroke="#000" stroke-width="2.0"/>
<ellipse cx="1325.2" cy="911.5" rx="4.0" ry="3.6" fill="#66f2d2" stroke="#000" stroke-width="2.0"/>
<ellipse cx="1385.0" cy="878.3" rx="4.0" ry="3.6" fill="#66f2d2" stroke="#000" stroke-width="2.0"/>
<ellipse cx="1328.1" cy="886.6" rx="4.0" ry="3.6" fill="#eef040" stroke="#000" stroke-width="2.0"/>
<ellipse cx="1406.1" cy="888.4" rx="4.0" ry="3.6" fill="#0a0aff" stroke="#000" stroke-width="2.0"/>
<ellipse cx="1327.8" cy="893.3" rx="4.0" ry="3.6" fill="#0a0aff" stroke="#000" stroke-width="2.0"/>
<ellipse cx="1334.1" cy="913.7" rx="4.0" ry="3.6" fill="#66f2d2" stroke="#000" stroke-width="2.0"/>
<ellipse cx="1339.1" cy="876.0" rx="4.0" ry="3.6" fill="#66f2d2" stroke="#000" stroke-width="2.0"/>
<ellipse cx="1376.9" cy="885.1" rx="4.0" ry="3.6" fill="#66f2d2" stroke="#000" stroke-width="2.0"/>
<ellipse cx="1349.1" cy="896.5" rx="4.0" ry="3.6" fill="#eef040" stroke="#000" stroke-width="2.0"/>
<ellipse cx="1363.9" cy="903.0" rx="4.0" ry="3.6" fill="#0a0aff" stroke="#000" stroke-width="2.0"/>
<ellipse cx="1324.1" cy="880.3" rx="4.0" ry="3.6" fill="#0a0aff" stroke="#000" stroke-width="2.0"/>
<ellipse cx="1407.9" cy="885.5" rx="4.0" ry="3.6" fill="#66f2d2" stroke="#000" stroke-width="2.0"/>
<ellipse cx="1325.9" cy="923.3" rx="4.0" ry="3.6" fill="#0a0aff" stroke="#000" stroke-width="2.0"/>
<ellipse cx="1379.7" cy="894.8" rx="4.0" ry="3.6" fill="#66f2d2" stroke="#000" stroke-width="2.0"/>
<ellipse cx="1331.5" cy="910.0" rx="4.0" ry="3.6" fill="#66f2d2" stroke="#000" stroke-width="2.0"/>
<ellipse cx="1338.7" cy="881.5" rx="4.0" ry="3.6" fill="#3c9aff" stroke="#000" stroke-width="2.0"/>
<ellipse cx="1309.1" cy="884.3" rx="4.0" ry="3.6" fill="#66f2d2" stroke="#000" stroke-width="2.0"/>
<ellipse cx="1337.0" cy="921.5" rx="4.0" ry="3.6" fill="#66f2d2" stroke="#000" stroke-width="2.0"/>
<ellipse cx="1302.2" cy="886.5" rx="4.0" ry="3.6" fill="#66f2d2" stroke="#000" stroke-width="2.0"/>
<ellipse cx="1308.0" cy="881.5" rx="4.0" ry="3.6" fill="#66f2d2" stroke="#000" stroke-width="2.0"/>
<ellipse cx="1375.5" cy="879.1" rx="4.0" ry="3.6" fill="#66f2d2" stroke="#000" stroke-width="2.0"/>
<ellipse cx="1304.6" cy="873.0" rx="4.0" ry="3.6" fill="#0a0aff" stroke="#000" stroke-width="2.0"/>
<ellipse cx="1302.8" cy="906.4" rx="4.0" ry="3.6" fill="#66f2d2" stroke="#000" stroke-width="2.0"/>
<ellipse cx="1396.4" cy="889.2" rx="4.0" ry="3.6" fill="#eef040" stroke="#000" stroke-width="2.0"/>
<ellipse cx="1309.9" cy="901.5" rx="4.0" ry="3.6" fill="#3c9aff" stroke="#000" stroke-width="2.0"/>
<ellipse cx="1375.6" cy="905.7" rx="4.0" ry="3.6" fill="#66f2d2" stroke="#000" stroke-width="2.0"/>
<ellipse cx="1396.1" cy="893.0" rx="4.0" ry="3.6" fill="#3c9aff" stroke="#000" stroke-width="2.0"/>
<ellipse cx="1376.7" cy="895.8" rx="4.0" ry="3.6" fill="#0a0aff" stroke="#000" stroke-width="2.0"/>
<ellipse cx="1363.5" cy="884.4" rx="4.0" ry="3.6" fill="#3c9aff" stroke="#000" stroke-width="2.0"/>
<ellipse cx="1365.6" cy="905.2" rx="4.0" ry="3.6" fill="#0a0aff" stroke="#000" stroke-width="2.0"/>
<ellipse cx="1333.8" cy="872.6" rx="4.0" ry="3.6" fill="#66f2d2" stroke="#000" stroke-width="2.0"/>
<ellipse cx="1389.5" cy="882.9" rx="4.0" ry="3.6" fill="#66f2d2" stroke="#000" stroke-width="2.0"/>
<ellipse cx="1343.2" cy="908.0" rx="4.0" ry="3.6" fill="#66f2d2" stroke="#000" stroke-width="2.0"/>
<ellipse cx="1356.9" cy="915.5" rx="4.0" ry="3.6" fill="#0a0aff" stroke="#000" stroke-width="2.0"/>
<ellipse cx="1377.0" cy="889.1" rx="4.0" ry="3.6" fill="#66f2d2" stroke="#000" stroke-width="2.0"/>
<ellipse cx="1322.3" cy="896.3" rx="4.0" ry="3.6" fill="#66f2d2" stroke="#000" stroke-width="2.0"/>
<ellipse cx="1382.6" cy="898.7" rx="4.0" ry="3.6" fill="#66f2d2" stroke="#000" stroke-width="2.0"/>
<ellipse cx="1359.7" cy="876.0" rx="4.0" ry="3.6" fill="#66f2d2" stroke="#000" stroke-width="2.0"/>
<ellipse cx="1415.2" cy="874.2" rx="4.0" ry="3.6" fill="#3c9aff" stroke="#000" stroke-width="2.0"/>
<ellipse cx="1404.5" cy="873.0" rx="4.0" ry="3.6" fill="#66f2d2" stroke="#000" stroke-width="2.0"/>
<ellipse cx="1360.0" cy="873.3" rx="4.0" ry="3.6" fill="#0a0aff" stroke="#000" stroke-width="2.0"/>
<ellipse cx="1331.3" cy="879.6" rx="4.0" ry="3.6" fill="#66f2d2" stroke="#000" stroke-width="2.0"/>
<ellipse cx="1362.7" cy="881.6" rx="4.0" ry="3.6" fill="#66f2d2" stroke="#000" stroke-width="2.0"/>
<ellipse cx="1362.3" cy="910.6" rx="4.0" ry="3.6" fill="#66f2d2" stroke="#000" stroke-width="2.0"/>
<ellipse cx="1336.0" cy="890.7" rx="4.0" ry="3.6" fill="#3c9aff" stroke="#000" stroke-width="2.0"/>
<ellipse cx="1399.8" cy="893.2" rx="4.0" ry="3.6" fill="#0a0aff" stroke="#000" stroke-width="2.0"/>
<ellipse cx="1419.6" cy="876.7" rx="4.0" ry="3.6" fill="#0a0aff" stroke="#000" stroke-width="2.0"/>
<ellipse cx="1395.4" cy="879.0" rx="4.0" ry="3.6" fill="#66f2d2" stroke="#000" stroke-width="2.0"/>
<ellipse cx="1349.7" cy="902.7" rx="4.0" ry="3.6" fill="#0a0aff" stroke="#000" stroke-width="2.0"/>
<ellipse cx="1361.2" cy="907.2" rx="4.0" ry="3.6" fill="#66f2d2" stroke="#000" stroke-width="2.0"/>
<ellipse cx="1328.2" cy="920.6" rx="4.0" ry="3.6" fill="#eef040" stroke="#000" stroke-width="2.0"/>
<ellipse cx="1346.0" cy="876.5" rx="4.0" ry="3.6" fill="#66f2d2" stroke="#000" stroke-width="2.0"/>
<ellipse cx="1364.3" cy="873.5" rx="4.0" ry="3.6" fill="#0a0aff" stroke="#000" stroke-width="2.0"/>
<ellipse cx="1322.8" cy="890.1" rx="4.0" ry="3.6" fill="#0a0aff" stroke="#000" stroke-width="2.0"/>
<ellipse cx="1318.5" cy="880.0" rx="4.0" ry="3.6" fill="#66f2d2" stroke="#000" stroke-width="2.0"/>
<ellipse cx="1369.5" cy="887.7" rx="4.0" ry="3.6" fill="#3c9aff" stroke="#000" stroke-width="2.0"/>
<ellipse cx="1341.1" cy="892.6" rx="4.0" ry="3.6" fill="#0a0aff" stroke="#000" stroke-width="2.0"/>
<ellipse cx="1369.2" cy="902.9" rx="4.0" ry="3.6" fill="#66f2d2" stroke="#000" stroke-width="2.0"/>
<ellipse cx="1370.7" cy="899.2" rx="4.0" ry="3.6" fill="#66f2d2" stroke="#000" stroke-width="2.0"/>
<ellipse cx="1368.1" cy="893.6" rx="4.0" ry="3.6" fill="#0a0aff" stroke="#000" stroke-width="2.0"/>
<ellipse cx="1374.3" cy="898.5" rx="4.0" ry="3.6" fill="#3c9aff" stroke="#000" stroke-width="2.0"/>
<ellipse cx="1362.5" cy="878.9" rx="4.0" ry="3.6" fill="#66f2d2" stroke="#000" stroke-width="2.0"/>
<ellipse cx="1362.9" cy="889.1" rx="4.0" ry="3.6" fill="#66f2d2" stroke="#000" stroke-width="2.0"/>
<ellipse cx="1317.1" cy="914.1" rx="4.0" ry="3.6" fill="#66f2d2" stroke="#000" stroke-width="2.0"/>
<ellipse cx="1390.7" cy="889.4" rx="4.0" ry="3.6" fill="#66f2d2" stroke="#000" stroke-width="2.0"/>
<ellipse cx="1381.8" cy="877.7" rx="4.0" ry="3.6" fill="#3c9aff" stroke="#000" stroke-width="2.0"/>
<ellipse cx="1316.2" cy="899.6" rx="4.0" ry="3.6" fill="#66f2d2" stroke="#000" stroke-width="2.0"/>
<ellipse cx="1357.7" cy="892.3" rx="4.0" ry="3.6" fill="#66f2d2" stroke="#000" stroke-width="2.0"/>
<ellipse cx="1369.9" cy="880.6" rx="4.0" ry="3.6" fill="#66f2d2" stroke="#000" stroke-width="2.0"/>
<ellipse cx="1383.3" cy="906.5" rx="4.0" ry="3.6" fill="#66f2d2" stroke="#000" stroke-width="2.0"/>
<ellipse cx="1413.1" cy="884.6" rx="4.0" ry="3.6" fill="#3c9aff" stroke="#000" stroke-width="2.0"/>
<ellipse cx="1341.7" cy="889.0" rx="4.0" ry="3.6" fill="#0a0aff" stroke="#000" stroke-width="2.0"/>
<ellipse cx="1417.2" cy="879.2" rx="4.0" ry="3.6" fill="#66f2d2" stroke="#000" stroke-width="2.0"/>
<ellipse cx="1395.9" cy="886.0" rx="4.0" ry="3.6" fill="#66f2d2" stroke="#000" stroke-width="2.0"/>
<ellipse cx="1353.2" cy="909.0" rx="4.0" ry="3.6" fill="#66f2d2" stroke="#000" stroke-width="2.0"/>
<ellipse cx="1326.5" cy="908.8" rx="4.0" ry="3.6" fill="#0a0aff" stroke="#000" stroke-width="2.0"/>
<ellipse cx="1366.7" cy="912.9" rx="4.0" ry="3.6" fill="#66f2d2" stroke="#000" stroke-width="2.0"/>
<ellipse cx="1309.3" cy="877.7" rx="4.0" ry="3.6" fill="#66f2d2" stroke="#000" stroke-width="2.0"/>
<ellipse cx="1422.3" cy="877.1" rx="4.0" ry="3.6" fill="#66f2d2" stroke="#000" stroke-width="2.0"/>
<ellipse cx="1400.9" cy="889.6" rx="4.0" ry="3.6" fill="#66f2d2" stroke="#000" stroke-width="2.0"/>
<ellipse cx="1379.3" cy="872.7" rx="4.0" ry="3.6" fill="#3c9aff" stroke="#000" stroke-width="2.0"/>
<ellipse cx="1411.4" cy="881.8" rx="4.0" ry="3.6" fill="#66f2d2" stroke="#000" stroke-width="2.0"/>
<ellipse cx="1367.7" cy="872.8" rx="4.0" ry="3.6" fill="#0a0aff" stroke="#000" stroke-width="2.0"/>
<ellipse cx="1353.4" cy="904.4" rx="4.0" ry="3.6" fill="#66f2d2" stroke="#000" stroke-width="2.0"/>
<ellipse cx="1334.1" cy="921.2" rx="4.0" ry="3.6" fill="#3c9aff" stroke="#000" stroke-width="2.0"/>
<ellipse cx="1309.3" cy="890.5" rx="4.0" ry="3.6" fill="#66f2d2" stroke="#000" stroke-width="2.0"/>
<ellipse cx="1301.4" cy="891.2" rx="4.0" ry="3.6" fill="#3c9aff" stroke="#000" stroke-width="2.0"/>
<ellipse cx="1382.4" cy="884.5" rx="4.0" ry="3.6" fill="#eef040" stroke="#000" stroke-width="2.0"/>
<ellipse cx="1387.9" cy="890.2" rx="4.0" ry="3.6" fill="#3c9aff" stroke="#000" stroke-width="2.0"/>
<ellipse cx="1353.0" cy="874.7" rx="4.0" ry="3.6" fill="#66f2d2" stroke="#000" stroke-width="2.0"/>
<ellipse cx="1349.6" cy="877.3" rx="4.0" ry="3.6" fill="#66f2d2" stroke="#000" stroke-width="2.0"/>
<ellipse cx="1400.2" cy="874.4" rx="4.0" ry="3.6" fill="#0a0aff" stroke="#000" stroke-width="2.0"/>
<ellipse cx="1380.7" cy="875.2" rx="4.0" ry="3.6" fill="#eef040" stroke="#000" stroke-width="2.0"/>
<ellipse cx="1355.5" cy="900.4" rx="4.0" ry="3.6" fill="#66f2d2" stroke="#000" stroke-width="2.0"/>
<ellipse cx="1348.3" cy="887.4" rx="4.0" ry="3.6" fill="#3c9aff" stroke="#000" stroke-width="2.0"/>
<ellipse cx="1374.0" cy="887.3" rx="4.0" ry="3.6" fill="#3c9aff" stroke="#000" stroke-width="2.0"/>
<ellipse cx="1339.1" cy="872.8" rx="4.0" ry="3.6" fill="#66f2d2" stroke="#000" stroke-width="2.0"/>
<ellipse cx="1332.2" cy="900.3" rx="4.0" ry="3.6" fill="#0a0aff" stroke="#000" stroke-width="2.0"/>
<ellipse cx="1395.4" cy="897.3" rx="4.0" ry="3.6" fill="#eef040" stroke="#000" stroke-width="2.0"/>
<ellipse cx="1315.2" cy="905.7" rx="4.0" ry="3.6" fill="#66f2d2" stroke="#000" stroke-width="2.0"/>
<ellipse cx="1326.9" cy="874.8" rx="4.0" ry="3.6" fill="#66f2d2" stroke="#000" stroke-width="2.0"/>
<ellipse cx="1316.4" cy="895.9" rx="4.0" ry="3.6" fill="#3c9aff" stroke="#000" stroke-width="2.0"/>
<ellipse cx="1360.1" cy="886.2" rx="4.0" ry="3.6" fill="#66f2d2" stroke="#000" stroke-width="2.0"/>
<ellipse cx="1382.5" cy="891.4" rx="4.0" ry="3.6" fill="#66f2d2" stroke="#000" stroke-width="2.0"/>
<ellipse cx="1390.4" cy="902.5" rx="4.0" ry="3.6" fill="#66f2d2" stroke="#000" stroke-width="2.0"/>
<ellipse cx="1356.1" cy="905.7" rx="4.0" ry="3.6" fill="#66f2d2" stroke="#000" stroke-width="2.0"/>
<ellipse cx="1371.5" cy="875.9" rx="4.0" ry="3.6" fill="#66f2d2" stroke="#000" stroke-width="2.0"/>
<ellipse cx="1345.4" cy="912.2" rx="4.0" ry="3.6" fill="#0a0aff" stroke="#000" stroke-width="2.0"/>
<ellipse cx="1401.5" cy="883.5" rx="4.0" ry="3.6" fill="#66f2d2" stroke="#000" stroke-width="2.0"/>
<ellipse cx="1348.7" cy="907.3" rx="4.0" ry="3.6" fill="#eef040" stroke="#000" stroke-width="2.0"/>
<ellipse cx="1343.0" cy="901.6" rx="4.0" ry="3.6" fill="#3c9aff" stroke="#000" stroke-width="2.0"/>
<ellipse cx="1339.5" cy="913.9" rx="4.0" ry="3.6" fill="#66f2d2" stroke="#000" stroke-width="2.0"/>
<ellipse cx="1332.8" cy="891.5" rx="4.0" ry="3.6" fill="#66f2d2" stroke="#000" stroke-width="2.0"/>
<ellipse cx="1348.0" cy="893.4" rx="4.0" ry="3.6" fill="#66f2d2" stroke="#000" stroke-width="2.0"/>
<ellipse cx="1371.8" cy="902.6" rx="4.0" ry="3.6" fill="#eef040" stroke="#000" stroke-width="2.0"/>
<ellipse cx="1332.4" cy="883.9" rx="4.0" ry="3.6" fill="#3c9aff" stroke="#000" stroke-width="2.0"/>
<ellipse cx="1352.1" cy="890.2" rx="4.0" ry="3.6" fill="#eef040" stroke="#000" stroke-width="2.0"/>
<ellipse cx="1370.9" cy="910.9" rx="4.0" ry="3.6" fill="#3c9aff" stroke="#000" stroke-width="2.0"/>
<ellipse cx="1355.5" cy="879.9" rx="4.0" ry="3.6" fill="#3c9aff" stroke="#000" stroke-width="2.0"/>
<ellipse cx="1322.1" cy="883.0" rx="4.0" ry="3.6" fill="#66f2d2" stroke="#000" stroke-width="2.0"/>
<ellipse cx="1308.2" cy="896.8" rx="4.0" ry="3.6" fill="#66f2d2" stroke="#000" stroke-width="2.0"/>
<ellipse cx="1420.0" cy="874.0" rx="4.0" ry="3.6" fill="#66f2d2" stroke="#000" stroke-width="2.0"/>
<ellipse cx="1322.8" cy="912.9" rx="4.0" ry="3.6" fill="#66f2d2" stroke="#000" stroke-width="2.0"/>
<ellipse cx="1362.4" cy="892.1" rx="4.0" ry="3.6" fill="#0a0aff" stroke="#000" stroke-width="2.0"/>
<ellipse cx="1335.2" cy="900.9" rx="4.0" ry="3.6" fill="#66f2d2" stroke="#000" stroke-width="2.0"/>
<ellipse cx="1401.7" cy="872.1" rx="4.0" ry="3.6" fill="#0a0aff" stroke="#000" stroke-width="2.0"/>
<ellipse cx="1310.9" cy="886.6" rx="4.0" ry="3.6" fill="#3c9aff" stroke="#000" stroke-width="2.0"/>
<ellipse cx="1312.8" cy="897.9" rx="4.0" ry="3.6" fill="#66f2d2" stroke="#000" stroke-width="2.0"/>
<ellipse cx="1320.8" cy="916.9" rx="4.0" ry="3.6" fill="#66f2d2" stroke="#000" stroke-width="2.0"/>
<ellipse cx="1340.4" cy="897.2" rx="4.0" ry="3.6" fill="#3c9aff" stroke="#000" stroke-width="2.0"/>
<ellipse cx="1314.0" cy="893.3" rx="4.0" ry="3.6" fill="#66f2d2" stroke="#000" stroke-width="2.0"/>
<ellipse cx="1386.3" cy="872.7" rx="4.0" ry="3.6" fill="#66f2d2" stroke="#000" stroke-width="2.0"/>
<ellipse cx="1405.5" cy="883.2" rx="4.0" ry="3.6" fill="#3c9aff" stroke="#000" stroke-width="2.0"/>
<ellipse cx="1338.3" cy="892.3" rx="4.0" ry="3.6" fill="#66f2d2" stroke="#000" stroke-width="2.0"/>
<ellipse cx="1409.1" cy="877.0" rx="4.0" ry="3.6" fill="#66f2d2" stroke="#000" stroke-width="2.0"/>
<ellipse cx="1312.5" cy="908.6" rx="4.0" ry="3.6" fill="#3c9aff" stroke="#000" stroke-width="2.0"/>
<ellipse cx="1323.7" cy="893.7" rx="4.0" ry="3.6" fill="#0a0aff" stroke="#000" stroke-width="2.0"/>
<ellipse cx="1378.2" cy="876.9" rx="4.0" ry="3.6" fill="#66f2d2" stroke="#000" stroke-width="2.0"/>
<ellipse cx="1346.5" cy="899.0" rx="4.0" ry="3.6" fill="#66f2d2" stroke="#000" stroke-width="2.0"/>
<ellipse cx="1368.1" cy="910.6" rx="4.0" ry="3.6" fill="#0a0aff" stroke="#000" stroke-width="2.0"/>
<ellipse cx="1316.4" cy="924.6" rx="4.0" ry="3.6" fill="#66f2d2" stroke="#000" stroke-width="2.0"/>
<ellipse cx="1310.1" cy="873.7" rx="4.0" ry="3.6" fill="#66f2d2" stroke="#000" stroke-width="2.0"/>
<ellipse cx="1326.3" cy="897.3" rx="4.0" ry="3.6" fill="#66f2d2" stroke="#000" stroke-width="2.0"/>
<ellipse cx="1305.0" cy="908.2" rx="4.0" ry="3.6" fill="#66f2d2" stroke="#000" stroke-width="2.0"/>
<ellipse cx="1354.0" cy="895.4" rx="4.0" ry="3.6" fill="#66f2d2" stroke="#000" stroke-width="2.0"/>
<ellipse cx="1307.2" cy="911.2" rx="4.0" ry="3.6" fill="#0a0aff" stroke="#000" stroke-width="2.0"/>
<ellipse cx="1369.5" cy="884.9" rx="4.0" ry="3.6" fill="#66f2d2" stroke="#000" stroke-width="2.0"/>
<ellipse cx="1352.2" cy="884.7" rx="4.0" ry="3.6" fill="#66f2d2" stroke="#000" stroke-width="2.0"/>
<ellipse cx="1329.3" cy="912.3" rx="4.0" ry="3.6" fill="#66f2d2" stroke="#000" stroke-width="2.0"/>
<ellipse cx="1308.3" cy="920.3" rx="4.0" ry="3.6" fill="#0a0aff" stroke="#000" stroke-width="2.0"/>
<ellipse cx="1304.1" cy="920.5" rx="4.0" ry="3.6" fill="#66f2d2" stroke="#000" stroke-width="2.0"/>
<ellipse cx="1325.8" cy="917.2" rx="4.0" ry="3.6" fill="#66f2d2" stroke="#000" stroke-width="2.0"/>
<ellipse cx="1326.7" cy="906.1" rx="4.0" ry="3.6" fill="#66f2d2" stroke="#000" stroke-width="2.0"/>
<ellipse cx="1314.0" cy="911.2" rx="4.0" ry="3.6" fill="#66f2d2" stroke="#000" stroke-width="2.0"/>
<ellipse cx="1393.8" cy="882.6" rx="4.0" ry="3.6" fill="#66f2d2" stroke="#000" stroke-width="2.0"/>
<ellipse cx="1404.3" cy="892.1" rx="4.0" ry="3.6" fill="#3c9aff" stroke="#000" stroke-width="2.0"/>
<ellipse cx="1330.2" cy="888.3" rx="4.0" ry="3.6" fill="#0a0aff" stroke="#000" stroke-width="2.0"/>
<ellipse cx="1388.0" cy="886.9" rx="4.0" ry="3.6" fill="#3c9aff" stroke="#000" stroke-width="2.0"/>
<ellipse cx="1311.9" cy="925.1" rx="4.0" ry="3.6" fill="#66f2d2" stroke="#000" stroke-width="2.0"/>
<ellipse cx="1306.0" cy="904.4" rx="4.0" ry="3.6" fill="#66f2d2" stroke="#000" stroke-width="2.0"/>
<ellipse cx="1324.6" cy="920.4" rx="4.0" ry="3.6" fill="#eef040" stroke="#000" stroke-width="2.0"/>
<ellipse cx="1304.4" cy="896.9" rx="4.0" ry="3.6" fill="#3c9aff" stroke="#000" stroke-width="2.0"/>
<ellipse cx="1366.0" cy="881.7" rx="4.0" ry="3.6" fill="#66f2d2" stroke="#000" stroke-width="2.0"/>
<ellipse cx="1385.1" cy="891.4" rx="4.0" ry="3.6" fill="#3c9aff" stroke="#000" stroke-width="2.0"/>
<ellipse cx="1402.9" cy="880.9" rx="4.0" ry="3.6" fill="#66f2d2" stroke="#000" stroke-width="2.0"/>
<ellipse cx="1331.1" cy="895.8" rx="4.0" ry="3.6" fill="#3c9aff" stroke="#000" stroke-width="2.0"/>
<ellipse cx="1329.2" cy="903.3" rx="4.0" ry="3.6" fill="#66f2d2" stroke="#000" stroke-width="2.0"/>
<ellipse cx="1415.2" cy="881.7" rx="4.0" ry="3.6" fill="#66f2d2" stroke="#000" stroke-width="2.0"/>
<ellipse cx="1357.4" cy="895.9" rx="4.0" ry="3.6" fill="#66f2d2" stroke="#000" stroke-width="2.0"/>
<ellipse cx="1341.5" cy="905.5" rx="4.0" ry="3.6" fill="#66f2d2" stroke="#000" stroke-width="2.0"/>
<ellipse cx="1334.9" cy="903.8" rx="4.0" ry="3.6" fill="#66f2d2" stroke="#000" stroke-width="2.0"/>
<ellipse cx="1408.3" cy="881.3" rx="4.0" ry="3.6" fill="#66f2d2" stroke="#000" stroke-width="2.0"/>
<ellipse cx="1321.1" cy="909.3" rx="4.0" ry="3.6" fill="#0a0aff" stroke="#000" stroke-width="2.0"/>
<ellipse cx="1319.1" cy="896.6" rx="4.0" ry="3.6" fill="#3c9aff" stroke="#000" stroke-width="2.0"/>
<ellipse cx="1305.2" cy="885.0" rx="4.0" ry="3.6" fill="#0a0aff" stroke="#000" stroke-width="2.0"/>
<ellipse cx="1318.7" cy="893.2" rx="4.0" ry="3.6" fill="#66f2d2" stroke="#000" stroke-width="2.0"/>
<ellipse cx="1356.0" cy="876.1" rx="4.0" ry="3.6" fill="#66f2d2" stroke="#000" stroke-width="2.0"/>
<ellipse cx="1345.9" cy="881.9" rx="4.0" ry="3.6" fill="#66f2d2" stroke="#000" stroke-width="2.0"/>
<ellipse cx="1311.0" cy="919.6" rx="4.0" ry="3.6" fill="#66f2d2" stroke="#000" stroke-width="2.0"/>
<ellipse cx="1307.2" cy="893.3" rx="4.0" ry="3.6" fill="#66f2d2" stroke="#000" stroke-width="2.0"/>
<ellipse cx="1305.4" cy="880.1" rx="4.0" ry="3.6" fill="#66f2d2" stroke="#000" stroke-width="2.0"/>
<ellipse cx="1304.2" cy="888.9" rx="4.0" ry="3.6" fill="#66f2d2" stroke="#000" stroke-width="2.0"/>
<ellipse cx="1393.3" cy="886.1" rx="4.0" ry="3.6" fill="#3c9aff" stroke="#000" stroke-width="2.0"/>
<ellipse cx="1387.9" cy="879.9" rx="4.0" ry="3.6" fill="#66f2d2" stroke="#000" stroke-width="2.0"/>
<ellipse cx="1337.0" cy="910.5" rx="4.0" ry="3.6" fill="#66f2d2" stroke="#000" stroke-width="2.0"/>
<ellipse cx="1351.0" cy="918.8" rx="4.0" ry="3.6" fill="#66f2d2" stroke="#000" stroke-width="2.0"/>
<ellipse cx="1343.3" cy="898.8" rx="4.0" ry="3.6" fill="#66f2d2" stroke="#000" stroke-width="2.0"/>
<ellipse cx="1312.3" cy="890.5" rx="4.0" ry="3.6" fill="#66f2d2" stroke="#000" stroke-width="2.0"/>
<ellipse cx="1319.9" cy="903.5" rx="4.0" ry="3.6" fill="#3c9aff" stroke="#000" stroke-width="2.0"/>
<ellipse cx="1354.9" cy="886.9" rx="4.0" ry="3.6" fill="#0a0aff" stroke="#000" stroke-width="2.0"/>
<ellipse cx="1372.4" cy="905.7" rx="4.0" ry="3.6" fill="#66f2d2" stroke="#000" stroke-width="2.0"/>
<ellipse cx="1344.0" cy="890.7" rx="4.0" ry="3.6" fill="#0a0aff" stroke="#000" stroke-width="2.0"/>
<ellipse cx="1341.4" cy="910.7" rx="4.0" ry="3.6" fill="#3c9aff" stroke="#000" stroke-width="2.0"/>
<ellipse cx="1374.4" cy="892.0" rx="4.0" ry="3.6" fill="#66f2d2" stroke="#000" stroke-width="2.0"/>
<ellipse cx="1342.9" cy="881.6" rx="4.0" ry="3.6" fill="#66f2d2" stroke="#000" stroke-width="2.0"/>
<ellipse cx="1316.6" cy="875.4" rx="4.0" ry="3.6" fill="#66f2d2" stroke="#000" stroke-width="2.0"/>
<ellipse cx="1324.4" cy="872.7" rx="4.0" ry="3.6" fill="#66f2d2" stroke="#000" stroke-width="2.0"/>
<ellipse cx="1317.7" cy="909.1" rx="4.0" ry="3.6" fill="#66f2d2" stroke="#000" stroke-width="2.0"/>
<ellipse cx="1343.6" cy="873.4" rx="4.0" ry="3.6" fill="#66f2d2" stroke="#000" stroke-width="2.0"/>
<ellipse cx="1410.7" cy="887.3" rx="4.0" ry="3.6" fill="#66f2d2" stroke="#000" stroke-width="2.0"/>
<ellipse cx="1405.6" cy="879.9" rx="4.0" ry="3.6" fill="#66f2d2" stroke="#000" stroke-width="2.0"/>
<ellipse cx="1314.1" cy="922.4" rx="4.0" ry="3.6" fill="#66f2d2" stroke="#000" stroke-width="2.0"/>
<ellipse cx="1306.8" cy="875.5" rx="4.0" ry="3.6" fill="#0a0aff" stroke="#000" stroke-width="2.0"/>
<ellipse cx="1322.3" cy="878.4" rx="4.0" ry="3.6" fill="#66f2d2" stroke="#000" stroke-width="2.0"/>
<ellipse cx="1301.4" cy="883.3" rx="4.0" ry="3.6" fill="#eef040" stroke="#000" stroke-width="2.0"/>
<ellipse cx="1303.1" cy="903.1" rx="4.0" ry="3.6" fill="#66f2d2" stroke="#000" stroke-width="2.0"/>
<ellipse cx="1397.9" cy="883.4" rx="4.0" ry="3.6" fill="#3c9aff" stroke="#000" stroke-width="2.0"/>
<ellipse cx="1356.9" cy="872.5" rx="4.0" ry="3.6" fill="#66f2d2" stroke="#000" stroke-width="2.0"/>
<ellipse cx="1385.0" cy="883.5" rx="4.0" ry="3.6" fill="#3c9aff" stroke="#000" stroke-width="2.0"/>
<ellipse cx="1414.5" cy="878.8" rx="4.0" ry="3.6" fill="#eef040" stroke="#000" stroke-width="2.0"/>
<ellipse cx="1336.9" cy="906.8" rx="4.0" ry="3.6" fill="#66f2d2" stroke="#000" stroke-width="2.0"/>
<ellipse cx="1313.2" cy="874.0" rx="4.0" ry="3.6" fill="#66f2d2" stroke="#000" stroke-width="2.0"/>
<ellipse cx="1315.5" cy="881.8" rx="4.0" ry="3.6" fill="#66f2d2" stroke="#000" stroke-width="2.0"/>
<ellipse cx="1383.3" cy="894.9" rx="4.0" ry="3.6" fill="#0a0aff" stroke="#000" stroke-width="2.0"/>
<ellipse cx="1337.8" cy="918.1" rx="4.0" ry="3.6" fill="#3c9aff" stroke="#000" stroke-width="2.0"/>
<ellipse cx="1351.2" cy="912.1" rx="4.0" ry="3.6" fill="#66f2d2" stroke="#000" stroke-width="2.0"/>
<ellipse cx="1355.5" cy="890.4" rx="4.0" ry="3.6" fill="#0a0aff" stroke="#000" stroke-width="2.0"/>
<ellipse cx="1425.4" cy="873.3" rx="4.0" ry="3.6" fill="#3c9aff" stroke="#000" stroke-width="2.0"/>
<ellipse cx="1397.9" cy="876.5" rx="4.0" ry="3.6" fill="#66f2d2" stroke="#000" stroke-width="2.0"/>
<ellipse cx="1367.0" cy="878.7" rx="4.0" ry="3.6" fill="#66f2d2" stroke="#000" stroke-width="2.0"/>
<ellipse cx="1320.7" cy="900.7" rx="4.0" ry="3.6" fill="#66f2d2" stroke="#000" stroke-width="2.0"/>
<ellipse cx="1314.6" cy="888.2" rx="4.0" ry="3.6" fill="#eef040" stroke="#000" stroke-width="2.0"/>
<ellipse cx="1306.5" cy="917.1" rx="4.0" ry="3.6" fill="#66f2d2" stroke="#000" stroke-width="2.0"/>
<ellipse cx="1378.9" cy="891.9" rx="4.0" ry="3.6" fill="#66f2d2" stroke="#000" stroke-width="2.0"/>
<ellipse cx="1380.4" cy="903.8" rx="4.0" ry="3.6" fill="#66f2d2" stroke="#000" stroke-width="2.0"/>
<ellipse cx="1365.7" cy="899.9" rx="4.0" ry="3.6" fill="#3c9aff" stroke="#000" stroke-width="2.0"/>
<ellipse cx="1333.3" cy="886.6" rx="4.0" ry="3.6" fill="#0a0aff" stroke="#000" stroke-width="2.0"/>
<ellipse cx="1389.7" cy="876.6" rx="4.0" ry="3.6" fill="#eef040" stroke="#000" stroke-width="2.0"/>
<ellipse cx="1341.9" cy="916.2" rx="4.0" ry="3.6" fill="#0a0aff" stroke="#000" stroke-width="2.0"/>
<ellipse cx="1384.8" cy="875.1" rx="4.0" ry="3.6" fill="#3c9aff" stroke="#000" stroke-width="2.0"/>
<ellipse cx="1376.5" cy="872.3" rx="4.0" ry="3.6" fill="#3c9aff" stroke="#000" stroke-width="2.0"/>
<ellipse cx="1358.1" cy="912.6" rx="4.0" ry="3.6" fill="#66f2d2" stroke="#000" stroke-width="2.0"/>
<ellipse cx="1315.3" cy="917.0" rx="4.0" ry="3.6" fill="#3c9aff" stroke="#000" stroke-width="2.0"/>
<ellipse cx="1391.0" cy="893.0" rx="4.0" ry="3.6" fill="#3c9aff" stroke="#000" stroke-width="2.0"/>
<ellipse cx="1326.7" cy="890.7" rx="4.0" ry="3.6" fill="#66f2d2" stroke="#000" stroke-width="2.0"/>
<ellipse cx="1346.2" cy="903.9" rx="4.0" ry="3.6" fill="#66f2d2" stroke="#000" stroke-width="2.0"/>
<ellipse cx="1375.0" cy="901.8" rx="4.0" ry="3.6" fill="#66f2d2" stroke="#000" stroke-width="2.0"/>
<ellipse cx="1320.0" cy="923.3" rx="4.0" ry="3.6" fill="#3c9aff" stroke="#000" stroke-width="2.0"/>
<ellipse cx="1338.7" cy="885.7" rx="4.0" ry="3.6" fill="#66f2d2" stroke="#000" stroke-width="2.0"/>
<ellipse cx="1346.0" cy="884.5" rx="4.0" ry="3.6" fill="#eef040" stroke="#000" stroke-width="2.0"/>
<ellipse cx="1368.8" cy="876.2" rx="4.0" ry="3.6" fill="#66f2d2" stroke="#000" stroke-width="2.0"/>
<ellipse cx="1401.7" cy="886.2" rx="4.0" ry="3.6" fill="#66f2d2" stroke="#000" stroke-width="2.0"/>
<ellipse cx="1330.9" cy="919.6" rx="4.0" ry="3.6" fill="#66f2d2" stroke="#000" stroke-width="2.0"/>
<ellipse cx="1319.8" cy="885.7" rx="4.0" ry="3.6" fill="#66f2d2" stroke="#000" stroke-width="2.0"/>
<ellipse cx="1331.4" cy="907.3" rx="4.0" ry="3.6" fill="#66f2d2" stroke="#000" stroke-width="2.0"/>
<ellipse cx="1337.9" cy="904.0" rx="4.0" ry="3.6" fill="#3c9aff" stroke="#000" stroke-width="2.0"/>
<ellipse cx="1420.7" cy="879.7" rx="4.0" ry="3.6" fill="#66f2d2" stroke="#000" stroke-width="2.0"/>
<ellipse cx="1303.2" cy="913.2" rx="4.0" ry="3.6" fill="#66f2d2" stroke="#000" stroke-width="2.0"/>
<ellipse cx="1329.0" cy="915.2" rx="4.0" ry="3.6" fill="#66f2d2" stroke="#000" stroke-width="2.0"/>
<ellipse cx="1330.8" cy="922.5" rx="4.0" ry="3.6" fill="#0a0aff" stroke="#000" stroke-width="2.0"/>
<ellipse cx="1366.4" cy="890.5" rx="4.0" ry="3.6" fill="#66f2d2" stroke="#000" stroke-width="2.0"/>
<ellipse cx="1323.3" cy="916.0" rx="4.0" ry="3.6" fill="#66f2d2" stroke="#000" stroke-width="2.0"/>
<ellipse cx="1391.7" cy="899.9" rx="4.0" ry="3.6" fill="#66f2d2" stroke="#000" stroke-width="2.0"/>
<ellipse cx="1336.0" cy="882.1" rx="4.0" ry="3.6" fill="#3c9aff" stroke="#000" stroke-width="2.0"/>
<ellipse cx="1344.0" cy="887.1" rx="4.0" ry="3.6" fill="#66f2d2" stroke="#000" stroke-width="2.0"/>
<ellipse cx="1342.1" cy="913.4" rx="4.0" ry="3.6" fill="#3c9aff" stroke="#000" stroke-width="2.0"/>
<ellipse cx="1391.7" cy="895.6" rx="4.0" ry="3.6" fill="#66f2d2" stroke="#000" stroke-width="2.0"/>
<ellipse cx="1302.2" cy="875.9" rx="4.0" ry="3.6" fill="#66f2d2" stroke="#000" stroke-width="2.0"/>
<ellipse cx="1359.8" cy="889.0" rx="4.0" ry="3.6" fill="#3c9aff" stroke="#000" stroke-width="2.0"/>
<ellipse cx="1393.9" cy="872.9" rx="4.0" ry="3.6" fill="#66f2d2" stroke="#000" stroke-width="2.0"/>
<ellipse cx="1322.1" cy="905.8" rx="4.0" ry="3.6" fill="#0a0aff" stroke="#000" stroke-width="2.0"/>
<ellipse cx="1341.1" cy="919.1" rx="4.0" ry="3.6" fill="#0a0aff" stroke="#000" stroke-width="2.0"/>
<ellipse cx="1345.0" cy="895.8" rx="4.0" ry="3.6" fill="#66f2d2" stroke="#000" stroke-width="2.0"/>
<ellipse cx="1305.8" cy="891.1" rx="4.0" ry="3.6" fill="#eef040" stroke="#000" stroke-width="2.0"/>
<ellipse cx="1302.8" cy="909.6" rx="4.0" ry="3.6" fill="#66f2d2" stroke="#000" stroke-width="2.0"/>
<ellipse cx="1351.5" cy="899.2" rx="4.0" ry="3.6" fill="#66f2d2" stroke="#000" stroke-width="2.0"/>
<ellipse cx="1329.6" cy="873.2" rx="4.0" ry="3.6" fill="#66f2d2" stroke="#000" stroke-width="2.0"/>
<ellipse cx="1381.9" cy="887.4" rx="4.0" ry="3.6" fill="#66f2d2" stroke="#000" stroke-width="2.0"/>
<ellipse cx="1398.3" cy="896.5" rx="4.0" ry="3.6" fill="#66f2d2" stroke="#000" stroke-width="2.0"/>
<ellipse cx="1301.8" cy="880.0" rx="4.0" ry="3.6" fill="#66f2d2" stroke="#000" stroke-width="2.0"/>
<ellipse cx="1371.8" cy="890.2" rx="4.0" ry="3.6" fill="#66f2d2" stroke="#000" stroke-width="2.0"/>
<ellipse cx="1334.2" cy="916.7" rx="4.0" ry="3.6" fill="#66f2d2" stroke="#000" stroke-width="2.0"/>
<ellipse cx="1349.1" cy="910.2" rx="4.0" ry="3.6" fill="#0a0aff" stroke="#000" stroke-width="2.0"/>
<ellipse cx="1401.0" cy="878.1" rx="4.0" ry="3.6" fill="#eef040" stroke="#000" stroke-width="2.0"/>
<ellipse cx="1300.1" cy="872.1" rx="4.0" ry="3.6" fill="#66f2d2" stroke="#000" stroke-width="2.0"/>
<ellipse cx="1320.1" cy="914.3" rx="4.0" ry="3.6" fill="#eef040" stroke="#000" stroke-width="2.0"/>
<ellipse cx="1321.4" cy="873.9" rx="4.0" ry="3.6" fill="#66f2d2" stroke="#000" stroke-width="2.0"/>
<ellipse cx="1375.5" cy="908.4" rx="4.0" ry="3.6" fill="#eef040" stroke="#000" stroke-width="2.0"/>
<ellipse cx="1308.5" cy="908.5" rx="4.0" ry="3.6" fill="#66f2d2" stroke="#000" stroke-width="2.0"/>
<ellipse cx="1306.7" cy="922.5" rx="4.0" ry="3.6" fill="#66f2d2" stroke="#000" stroke-width="2.0"/>
<ellipse cx="1379.6" cy="897.4" rx="4.0" ry="3.6" fill="#66f2d2" stroke="#000" stroke-width="2.0"/>
<ellipse cx="1346.5" cy="917.7" rx="4.0" ry="3.6" fill="#0a0aff" stroke="#000" stroke-width="2.0"/>
<ellipse cx="1318.8" cy="906.5" rx="4.0" ry="3.6" fill="#0a0aff" stroke="#000" stroke-width="2.0"/>
<ellipse cx="1338.4" cy="894.9" rx="4.0" ry="3.6" fill="#66f2d2" stroke="#000" stroke-width="2.0"/>
<ellipse cx="1312.8" cy="877.0" rx="4.0" ry="3.6" fill="#66f2d2" stroke="#000" stroke-width="2.0"/>
<ellipse cx="1334.0" cy="908.5" rx="4.0" ry="3.6" fill="#66f2d2" stroke="#000" stroke-width="2.0"/>
<ellipse cx="1318.2" cy="882.7" rx="4.0" ry="3.6" fill="#66f2d2" stroke="#000" stroke-width="2.0"/>
<ellipse cx="1350.1" cy="880.6" rx="4.0" ry="3.6" fill="#0a0aff" stroke="#000" stroke-width="2.0"/>
<ellipse cx="1316.8" cy="891.0" rx="4.0" ry="3.6" fill="#66f2d2" stroke="#000" stroke-width="2.0"/>
<ellipse cx="1410.6" cy="873.6" rx="4.0" ry="3.6" fill="#66f2d2" stroke="#000" stroke-width="2.0"/>
<ellipse cx="1404.8" cy="886.1" rx="4.0" ry="3.6" fill="#0a0aff" stroke="#000" stroke-width="2.0"/>
<ellipse cx="1372.1" cy="893.6" rx="4.0" ry="3.6" fill="#66f2d2" stroke="#000" stroke-width="2.0"/>
<ellipse cx="1374.8" cy="876.0" rx="4.0" ry="3.6" fill="#3c9aff" stroke="#000" stroke-width="2.0"/>
<ellipse cx="1389.3" cy="873.1" rx="4.0" ry="3.6" fill="#0a0aff" stroke="#000" stroke-width="2.0"/>
<ellipse cx="1348.0" cy="872.3" rx="4.0" ry="3.6" fill="#0a0aff" stroke="#000" stroke-width="2.0"/>
<ellipse cx="1352.1" cy="878.7" rx="4.0" ry="3.6" fill="#66f2d2" stroke="#000" stroke-width="2.0"/>
<ellipse cx="1311.8" cy="903.4" rx="4.0" ry="3.6" fill="#66f2d2" stroke="#000" stroke-width="2.0"/>
<ellipse cx="1365.5" cy="896.1" rx="4.0" ry="3.6" fill="#66f2d2" stroke="#000" stroke-width="2.0"/>
<ellipse cx="1378.4" cy="906.7" rx="4.0" ry="3.6" fill="#0a0aff" stroke="#000" stroke-width="2.0"/>
<ellipse cx="1310.5" cy="894.9" rx="4.0" ry="3.6" fill="#66f2d2" stroke="#000" stroke-width="2.0"/>
<ellipse cx="1385.4" cy="888.8" rx="4.0" ry="3.6" fill="#66f2d2" stroke="#000" stroke-width="2.0"/>
<ellipse cx="1359.9" cy="881.6" rx="4.0" ry="3.6" fill="#0a0aff" stroke="#000" stroke-width="2.0"/>
<ellipse cx="1383.7" cy="901.6" rx="4.0" ry="3.6" fill="#3c9aff" stroke="#000" stroke-width="2.0"/>
<ellipse cx="1321.8" cy="920.0" rx="4.0" ry="3.6" fill="#66f2d2" stroke="#000" stroke-width="2.0"/>
<ellipse cx="1379.1" cy="886.6" rx="4.0" ry="3.6" fill="#66f2d2" stroke="#000" stroke-width="2.0"/>
<ellipse cx="1362.5" cy="915.0" rx="4.0" ry="3.6" fill="#0a0aff" stroke="#000" stroke-width="2.0"/>
<ellipse cx="1357.7" cy="908.9" rx="4.0" ry="3.6" fill="#66f2d2" stroke="#000" stroke-width="2.0"/>
<ellipse cx="1430.4" cy="872.8" rx="4.0" ry="3.6" fill="#66f2d2" stroke="#000" stroke-width="2.0"/>
<ellipse cx="1369.3" cy="891.2" rx="4.0" ry="3.6" fill="#66f2d2" stroke="#000" stroke-width="2.0"/>
<ellipse cx="1319.4" cy="911.5" rx="4.0" ry="3.6" fill="#66f2d2" stroke="#000" stroke-width="2.0"/>
<ellipse cx="1379.7" cy="900.4" rx="4.0" ry="3.6" fill="#66f2d2" stroke="#000" stroke-width="2.0"/>
<ellipse cx="1354.3" cy="917.5" rx="4.0" ry="3.6" fill="#66f2d2" stroke="#000" stroke-width="2.0"/>
<ellipse cx="1336.7" cy="897.7" rx="4.0" ry="3.6" fill="#eef040" stroke="#000" stroke-width="2.0"/>
<ellipse cx="1318.1" cy="920.8" rx="4.0" ry="3.6" fill="#eef040" stroke="#000" stroke-width="2.0"/>
<ellipse cx="1382.1" cy="872.4" rx="4.0" ry="3.6" fill="#3c9aff" stroke="#000" stroke-width="2.0"/>
<ellipse cx="1324.1" cy="887.5" rx="4.0" ry="3.6" fill="#66f2d2" stroke="#000" stroke-width="2.0"/>
<ellipse cx="1400.0" cy="880.6" rx="4.0" ry="3.6" fill="#66f2d2" stroke="#000" stroke-width="2.0"/>
<ellipse cx="1351.8" cy="872.1" rx="4.0" ry="3.6" fill="#66f2d2" stroke="#000" stroke-width="2.0"/>
<ellipse cx="1351.2" cy="893.4" rx="4.0" ry="3.6" fill="#3c9aff" stroke="#000" stroke-width="2.0"/>
<ellipse cx="1357.9" cy="883.7" rx="4.0" ry="3.6" fill="#66f2d2" stroke="#000" stroke-width="2.0"/>
<ellipse cx="1373.0" cy="884.6" rx="4.0" ry="3.6" fill="#66f2d2" stroke="#000" stroke-width="2.0"/>
<ellipse cx="1359.2" cy="898.0" rx="4.0" ry="3.6" fill="#66f2d2" stroke="#000" stroke-width="2.0"/>
<ellipse cx="1329.9" cy="898.2" rx="4.0" ry="3.6" fill="#0a0aff" stroke="#000" stroke-width="2.0"/>
<ellipse cx="1348.5" cy="883.4" rx="4.0" ry="3.6" fill="#66f2d2" stroke="#000" stroke-width="2.0"/>
<ellipse cx="1333.7" cy="894.1" rx="4.0" ry="3.6" fill="#3c9aff" stroke="#000" stroke-width="2.0"/>
<ellipse cx="1412.0" cy="878.1" rx="4.0" ry="3.6" fill="#66f2d2" stroke="#000" stroke-width="2.0"/>
<ellipse cx="1306.4" cy="901.4" rx="4.0" ry="3.6" fill="#66f2d2" stroke="#000" stroke-width="2.0"/>
<ellipse cx="1347.0" cy="914.7" rx="4.0" ry="3.6" fill="#3c9aff" stroke="#000" stroke-width="2.0"/>
<ellipse cx="1336.3" cy="887.7" rx="4.0" ry="3.6" fill="#66f2d2" stroke="#000" stroke-width="2.0"/>
<ellipse cx="1353.0" cy="914.8" rx="4.0" ry="3.6" fill="#3c9aff" stroke="#000" stroke-width="2.0"/>
<ellipse cx="1407.8" cy="873.3" rx="4.0" ry="3.6" fill="#66f2d2" stroke="#000" stroke-width="2.0"/>
<ellipse cx="1383.1" cy="881.6" rx="4.0" ry="3.6" fill="#66f2d2" stroke="#000" stroke-width="2.0"/>
<ellipse cx="1306.4" cy="898.8" rx="4.0" ry="3.6" fill="#66f2d2" stroke="#000" stroke-width="2.0"/>
<ellipse cx="1345.3" cy="879.1" rx="4.0" ry="3.6" fill="#0a0aff" stroke="#000" stroke-width="2.0"/>
<ellipse cx="1339.9" cy="901.5" rx="4.0" ry="3.6" fill="#66f2d2" stroke="#000" stroke-width="2.0"/>
<ellipse cx="1370.7" cy="872.7" rx="4.0" ry="3.6" fill="#66f2d2" stroke="#000" stroke-width="2.0"/>
<ellipse cx="1358.8" cy="878.6" rx="4.0" ry="3.6" fill="#0a0aff" stroke="#000" stroke-width="2.0"/>
<ellipse cx="1353.0" cy="901.7" rx="4.0" ry="3.6" fill="#66f2d2" stroke="#000" stroke-width="2.0"/>
<ellipse cx="1302.2" cy="894.9" rx="4.0" ry="3.6" fill="#66f2d2" stroke="#000" stroke-width="2.0"/>
<ellipse cx="1359.6" cy="915.9" rx="4.0" ry="3.6" fill="#66f2d2" stroke="#000" stroke-width="2.0"/>
<ellipse cx="1353.9" cy="912.0" rx="4.0" ry="3.6" fill="#3c9aff" stroke="#000" stroke-width="2.0"/>
<ellipse cx="1376.9" cy="881.5" rx="4.0" ry="3.6" fill="#66f2d2" stroke="#000" stroke-width="2.0"/>
<ellipse cx="1338.6" cy="889.0" rx="4.0" ry="3.6" fill="#66f2d2" stroke="#000" stroke-width="2.0"/>
<ellipse cx="1372.1" cy="879.1" rx="4.0" ry="3.6" fill="#3c9aff" stroke="#000" stroke-width="2.0"/>
<ellipse cx="1334.2" cy="898.4" rx="4.0" ry="3.6" fill="#3c9aff" stroke="#000" stroke-width="2.0"/>
<ellipse cx="1309.2" cy="917.1" rx="4.0" ry="3.6" fill="#3c9aff" stroke="#000" stroke-width="2.0"/>
<ellipse cx="1328.0" cy="881.7" rx="4.0" ry="3.6" fill="#3c9aff" stroke="#000" stroke-width="2.0"/>
<ellipse cx="1365.3" cy="887.3" rx="4.0" ry="3.6" fill="#0a0aff" stroke="#000" stroke-width="2.0"/>
<ellipse cx="1309.6" cy="922.8" rx="4.0" ry="3.6" fill="#66f2d2" stroke="#000" stroke-width="2.0"/>
<ellipse cx="1391.4" cy="880.8" rx="4.0" ry="3.6" fill="#3c9aff" stroke="#000" stroke-width="2.0"/>
<ellipse cx="1387.6" cy="901.3" rx="4.0" ry="3.6" fill="#3c9aff" stroke="#000" stroke-width="2.0"/>
<ellipse cx="1317.3" cy="903.2" rx="4.0" ry="3.6" fill="#66f2d2" stroke="#000" stroke-width="2.0"/>
<ellipse cx="1312.3" cy="881.2" rx="4.0" ry="3.6" fill="#0a0aff" stroke="#000" stroke-width="2.0"/>
<ellipse cx="1397.5" cy="873.8" rx="4.0" ry="3.6" fill="#66f2d2" stroke="#000" stroke-width="2.0"/>
<ellipse cx="1379.5" cy="880.3" rx="4.0" ry="3.6" fill="#66f2d2" stroke="#000" stroke-width="2.0"/>
<ellipse cx="1392.1" cy="875.2" rx="4.0" ry="3.6" fill="#66f2d2" stroke="#000" stroke-width="2.0"/>
<ellipse cx="1369.3" cy="896.9" rx="4.0" ry="3.6" fill="#66f2d2" stroke="#000" stroke-width="2.0"/>
<ellipse cx="1385.3" cy="898.7" rx="4.0" ry="3.6" fill="#66f2d2" stroke="#000" stroke-width="2.0"/>
<ellipse cx="1334.6" cy="879.5" rx="4.0" ry="3.6" fill="#66f2d2" stroke="#000" stroke-width="2.0"/>
<ellipse cx="1342.6" cy="878.9" rx="4.0" ry="3.6" fill="#66f2d2" stroke="#000" stroke-width="2.0"/>
<ellipse cx="1317.5" cy="872.6" rx="4.0" ry="3.6" fill="#66f2d2" stroke="#000" stroke-width="2.0"/>
<ellipse cx="1393.0" cy="890.9" rx="4.0" ry="3.6" fill="#eef040" stroke="#000" stroke-width="2.0"/>
<ellipse cx="1320.5" cy="888.4" rx="4.0" ry="3.6" fill="#66f2d2" stroke="#000" stroke-width="2.0"/>
<ellipse cx="1379.8" cy="883.0" rx="4.0" ry="3.6" fill="#66f2d2" stroke="#000" stroke-width="2.0"/>
<ellipse cx="1328.1" cy="879.1" rx="4.0" ry="3.6" fill="#66f2d2" stroke="#000" stroke-width="2.0"/>
<ellipse cx="1332.3" cy="875.2" rx="4.0" ry="3.6" fill="#66f2d2" stroke="#000" stroke-width="2.0"/>
<ellipse cx="1331.9" cy="903.4" rx="4.0" ry="3.6" fill="#3c9aff" stroke="#000" stroke-width="2.0"/>
<ellipse cx="1311" cy="922" rx="4.4" ry="4.0" fill="#3c9aff" stroke="#000" stroke-width="1.5"/>
<ellipse cx="1320" cy="922" rx="4.4" ry="4.0" fill="#0a0aff" stroke="#000" stroke-width="1.5"/>
<ellipse cx="1330" cy="920" rx="4.4" ry="4.0" fill="#66f2d2" stroke="#000" stroke-width="1.5"/>
<ellipse cx="1341" cy="917" rx="4.4" ry="4.0" fill="#0a0aff" stroke="#000" stroke-width="1.5"/>
<ellipse cx="1352" cy="916" rx="4.4" ry="4.0" fill="#0a0aff" stroke="#000" stroke-width="1.5"/>
<ellipse cx="1359" cy="913" rx="4.4" ry="4.0" fill="#3c9aff" stroke="#000" stroke-width="1.5"/>
<ellipse cx="1368" cy="907" rx="4.4" ry="4.0" fill="#3c9aff" stroke="#000" stroke-width="1.5"/>
<ellipse cx="1378" cy="903" rx="4.4" ry="4.0" fill="#3c9aff" stroke="#000" stroke-width="1.5"/>
<ellipse cx="1390" cy="899" rx="4.4" ry="4.0" fill="#3c9aff" stroke="#000" stroke-width="1.5"/>
<ellipse cx="1398" cy="893" rx="4.4" ry="4.0" fill="#66f2d2" stroke="#000" stroke-width="1.5"/>
<ellipse cx="1405" cy="886" rx="4.4" ry="4.0" fill="#eef040" stroke="#000" stroke-width="1.5"/>
<ellipse cx="1413" cy="881" rx="4.4" ry="4.0" fill="#eef040" stroke="#000" stroke-width="1.5"/>
<ellipse cx="1419" cy="878" rx="4.4" ry="4.0" fill="#eef040" stroke="#000" stroke-width="1.5"/>
<ellipse cx="1400" cy="889" rx="4.4" ry="4.0" fill="#66f2d2" stroke="#000" stroke-width="1.5"/>
<ellipse cx="1322" cy="917" rx="4.4" ry="4.0" fill="#66f2d2" stroke="#000" stroke-width="1.5"/>
<ellipse cx="1340" cy="909" rx="4.4" ry="4.0" fill="#0a0aff" stroke="#000" stroke-width="1.5"/>
<ellipse cx="1352" cy="905" rx="4.4" ry="4.0" fill="#0a0aff" stroke="#000" stroke-width="1.5"/>
<ellipse cx="1360" cy="903" rx="4.4" ry="4.0" fill="#0a0aff" stroke="#000" stroke-width="1.5"/>
<ellipse cx="1320" cy="934" rx="4.4" ry="4.0" fill="#66f2d2" stroke="#000" stroke-width="1.5"/>
<ellipse cx="1336" cy="935" rx="4.4" ry="4.0" fill="#66f2d2" stroke="#000" stroke-width="1.5"/>
<ellipse cx="1314" cy="942" rx="4.4" ry="4.0" fill="#66f2d2" stroke="#000" stroke-width="1.5"/>
<ellipse cx="1328" cy="945" rx="4.4" ry="4.0" fill="#66f2d2" stroke="#000" stroke-width="1.5"/>
<ellipse cx="1325" cy="950" rx="4.4" ry="4.0" fill="#66f2d2" stroke="#000" stroke-width="1.5"/>
<ellipse cx="1331" cy="941" rx="4.4" ry="4.0" fill="#0a0aff" stroke="#000" stroke-width="1.5"/>
<ellipse cx="1322" cy="938" rx="4.4" ry="4.0" fill="#0a0aff" stroke="#000" stroke-width="1.5"/>
<ellipse cx="1337" cy="929" rx="4.4" ry="4.0" fill="#0a0aff" stroke="#000" stroke-width="1.5"/>
<line x1="1452.2" y1="878" x2="1452.2" y2="888.6" stroke="#000" stroke-linecap="round" stroke-width="2.4"/>
<line x1="1449.2" y1="906.4" x2="1443.3" y2="914.6" stroke="#000" stroke-linecap="round" stroke-width="2.4"/>
<line x1="1435" y1="932.4" x2="1430.3" y2="943" stroke="#000" stroke-linecap="round" stroke-width="2.4"/>
<line x1="1326.1" y1="966.7" x2="1332.3" y2="976.9" stroke="#000" stroke-linecap="round" stroke-width="2.2"/>
<line x1="1429.3" y1="960.6" x2="1430.7" y2="969.4" stroke="#000" stroke-linecap="round" stroke-width="2.2"/>
<line x1="1434" y1="996.6" x2="1430.7" y2="1006.1" stroke="#000" stroke-linecap="round" stroke-width="2.2"/>
<line x1="1338.4" y1="1002" x2="1336.3" y2="1010.8" stroke="#000" stroke-linecap="round" stroke-width="2.2"/>
<line x1="1407.6" y1="1034.6" x2="1400.8" y2="1042.7" stroke="#000" stroke-linecap="round" stroke-width="2.4"/>
<line x1="1316.6" y1="1048.2" x2="1318.7" y2="1057.7" stroke="#000" stroke-linecap="round" stroke-width="2.2"/>
<line x1="1366.9" y1="1056.3" x2="1368.2" y2="1061.7" stroke="#000" stroke-linecap="round" stroke-width="2.2"/>
<circle cx="1423.2" cy="892.2" r="2.2" fill="#000"/>
<circle cx="1427.3" cy="891.6" r="1.4" fill="#000"/>
<circle cx="1442.1" cy="893.4" r="1.2" fill="#000"/>
<circle cx="1443.9" cy="896.9" r="1.2" fill="#000"/>
<circle cx="1432.7" cy="902.2" r="1.2" fill="#000"/>
<circle cx="1445.1" cy="902.8" r="1.2" fill="#000"/>
<circle cx="1438.6" cy="906.4" r="1.2" fill="#000"/>
<circle cx="1390.7" cy="919.4" r="1.8" fill="#000"/>
<circle cx="1399.6" cy="921.1" r="1.8" fill="#000"/>
<circle cx="1350" cy="961" r="1.8" fill="#000"/>
<circle cx="1354" cy="965" r="2" fill="#000"/>
<circle cx="1358" cy="962" r="1.6" fill="#000"/>
<circle cx="1348" cy="966" r="1.4" fill="#000"/>
<circle cx="1417.1" cy="970.1" r="1.6" fill="#000"/>
<ellipse cx="1379" cy="968" rx="7" ry="3" transform="rotate(-15 1379 968)" fill="none" stroke="#000" stroke-width="1.8"/>
<circle cx="1398.5" cy="1023.6" r="1.5" fill="#000"/>
<circle cx="1408.9" cy="1010.7" r="1.1" fill="#000"/>
<circle cx="1419.8" cy="1014.6" r="0.9" fill="#000"/>
<circle cx="1381.8" cy="1025.5" r="1.2" fill="#000"/>
<circle cx="1349.5" cy="1036.9" r="1.4" fill="#000"/>
<circle cx="1401.5" cy="1019.1" r="0.9" fill="#000"/>
<circle cx="1390.7" cy="1014.3" r="1.4" fill="#000"/>
<circle cx="1363.2" cy="1039.1" r="1.4" fill="#000"/>
<circle cx="1377.8" cy="1031.2" r="1.3" fill="#000"/>
<circle cx="1371.6" cy="1035.7" r="1.5" fill="#000"/>
<circle cx="1412.1" cy="1009.7" r="0.9" fill="#000"/>
<circle cx="1357.0" cy="1033.0" r="1.2" fill="#000"/>
<circle cx="1354.4" cy="1037.9" r="1.0" fill="#000"/>
<circle cx="1409.1" cy="1011.6" r="1.1" fill="#000"/>
<circle cx="1396.0" cy="1023.2" r="0.8" fill="#000"/>
<circle cx="1408.6" cy="1010.2" r="1.4" fill="#000"/>
<circle cx="1378.6" cy="1022.4" r="0.8" fill="#000"/>
<circle cx="1370.1" cy="1030.6" r="1.3" fill="#000"/>
<circle cx="1422.4" cy="1008.4" r="1.0" fill="#000"/>
<circle cx="1392.0" cy="1018.5" r="1.3" fill="#000"/>
<circle cx="1412.1" cy="1008.9" r="1.5" fill="#000"/>
<circle cx="1356.5" cy="1038.4" r="1.4" fill="#000"/>
<circle cx="1380.9" cy="1029.7" r="1.0" fill="#000"/>
<circle cx="1370.3" cy="1024.8" r="0.9" fill="#000"/>
<circle cx="1406.2" cy="1013.9" r="0.8" fill="#000"/>
<circle cx="1421.5" cy="1007.3" r="1.0" fill="#000"/>
<circle cx="1397.5" cy="1020.5" r="1.1" fill="#000"/>
<circle cx="1360.9" cy="1032.6" r="1.1" fill="#000"/>
<circle cx="1406.3" cy="1016.0" r="1.5" fill="#000"/>
<circle cx="1399.6" cy="1015.1" r="1.1" fill="#000"/>
<circle cx="1366.6" cy="1032.8" r="1.1" fill="#000"/>
<circle cx="1426.2" cy="1013.7" r="1.1" fill="#000"/>
<circle cx="1388.9" cy="1024.1" r="1.0" fill="#000"/>
<circle cx="1376.0" cy="1025.6" r="1.5" fill="#000"/>
<circle cx="1420.7" cy="1009.3" r="1.0" fill="#000"/>
<circle cx="1355.5" cy="1040.5" r="1.4" fill="#000"/>
<circle cx="1380.7" cy="1031.7" r="1.3" fill="#000"/>
<circle cx="1401.6" cy="1017.1" r="1.3" fill="#000"/>
<circle cx="1371.5" cy="1034.2" r="1.3" fill="#000"/>
<circle cx="1377.9" cy="1032.4" r="1.2" fill="#000"/>
<circle cx="1353.4" cy="1036.6" r="1.3" fill="#000"/>
<circle cx="1388.2" cy="1027.0" r="1.4" fill="#000"/>
<circle cx="1378.1" cy="1031.7" r="1.4" fill="#000"/>
<circle cx="1380.6" cy="1033.2" r="1.3" fill="#000"/>
<circle cx="1425.8" cy="1009.0" r="1.2" fill="#000"/>
<circle cx="1382.5" cy="1017.5" r="1.7" fill="#000"/>
<circle cx="1387.2" cy="1015.4" r="1.6" fill="#000"/>
<circle cx="1391.0" cy="1007.6" r="1.6" fill="#000"/>
<circle cx="1388.7" cy="1015.0" r="1.3" fill="#000"/>
<circle cx="1389.4" cy="1016.6" r="1.5" fill="#000"/>
<circle cx="1390.8" cy="1005.4" r="1.1" fill="#000"/>
<circle cx="1386.6" cy="1014.8" r="1.2" fill="#000"/>
<circle cx="1390.3" cy="1014.5" r="1.0" fill="#000"/>
<circle cx="1387.1" cy="1008.4" r="1.0" fill="#000"/>
<circle cx="1382.0" cy="1009.8" r="1.1" fill="#000"/>
<circle cx="1382.9" cy="1005.5" r="1.4" fill="#000"/>
<circle cx="1385.7" cy="1014.2" r="1.5" fill="#000"/>
</g>
</g>
<rect x="124" y="39" width="1338" height="1024" fill="none" stroke="#000" stroke-width="4"/>
<line x1="109.5" x2="124" y1="305.8" y2="305.8" stroke="#000" stroke-width="4"/>
<text x="0" y="0" transform="translate(105.5,316.6) scale(1.08,1)" font-size="29" text-anchor="end" fill="#000" font-family="Liberation Serif">40° N</text>
<line x1="109.5" x2="124" y1="572.9" y2="572.9" stroke="#000" stroke-width="4"/>
<text x="0" y="0" transform="translate(105.5,583.6999999999999) scale(1.08,1)" font-size="29" text-anchor="end" fill="#000" font-family="Liberation Serif">30° N</text>
<line x1="109.5" x2="124" y1="831.2" y2="831.2" stroke="#000" stroke-width="4"/>
<text x="0" y="0" transform="translate(105.5,842.0) scale(1.08,1)" font-size="29" text-anchor="end" fill="#000" font-family="Liberation Serif">20° N</text>
<line x1="406" x2="406" y1="1063" y2="1076" stroke="#000" stroke-width="4"/>
<text x="0" y="0" transform="translate(406,1101.8) scale(1.12,1)" font-size="29" text-anchor="middle" fill="#000" font-family="Liberation Serif">90° E</text>
<line x1="699.5" x2="699.5" y1="1063" y2="1076" stroke="#000" stroke-width="4"/>
<text x="0" y="0" transform="translate(699.5,1101.8) scale(1.12,1)" font-size="29" text-anchor="middle" fill="#000" font-family="Liberation Serif">100° E</text>
<line x1="992" x2="992" y1="1063" y2="1076" stroke="#000" stroke-width="4"/>
<text x="0" y="0" transform="translate(992,1101.8) scale(1.12,1)" font-size="29" text-anchor="middle" fill="#000" font-family="Liberation Serif">110° E</text>
<line x1="1283" x2="1283" y1="1063" y2="1076" stroke="#000" stroke-width="4"/>
<text x="0" y="0" transform="translate(1283,1101.8) scale(1.12,1)" font-size="29" text-anchor="middle" fill="#000" font-family="Liberation Serif">120° E</text>
<text x="816.5" y="85" font-size="42" font-weight="bold" text-anchor="middle" fill="#000" font-family="Liberation Serif">(a)</text>
<text x="0" y="0" transform="translate(163.5,730) scale(1.15,1)" font-size="28" fill="#111" font-family="Liberation Serif">Annual precipitation (mm)</text>
<ellipse cx="192.2" cy="767.3" rx="5.4" ry="4.9" fill="#ff0000" stroke="#000" stroke-width="2"/>
<text x="0" y="0" transform="translate(232.5,778.0) scale(1.18,1)" font-size="28" fill="#111" font-family="Liberation Serif">&lt; 400</text>
<ellipse cx="192.2" cy="808.3" rx="5.4" ry="4.9" fill="#ffa000" stroke="#000" stroke-width="2"/>
<text x="0" y="0" transform="translate(232.5,819.0) scale(1.18,1)" font-size="28" fill="#111" font-family="Liberation Serif">400 ~ 800</text>
<ellipse cx="192.2" cy="849.2" rx="5.4" ry="4.9" fill="#eef040" stroke="#000" stroke-width="2"/>
<text x="0" y="0" transform="translate(232.5,859.9000000000001) scale(1.18,1)" font-size="28" fill="#111" font-family="Liberation Serif">800 ~ 1200</text>
<ellipse cx="192.2" cy="889.6" rx="5.4" ry="4.9" fill="#66f0d0" stroke="#000" stroke-width="2"/>
<text x="0" y="0" transform="translate(232.5,900.3000000000001) scale(1.18,1)" font-size="28" fill="#111" font-family="Liberation Serif">1200 ~ 1600</text>
<ellipse cx="192.2" cy="930.6" rx="5.4" ry="4.9" fill="#3c96ff" stroke="#000" stroke-width="2"/>
<text x="0" y="0" transform="translate(232.5,941.3000000000001) scale(1.18,1)" font-size="28" fill="#111" font-family="Liberation Serif">1600 ~ 2000</text>
<ellipse cx="192.2" cy="971.5" rx="5.4" ry="4.9" fill="#0000ff" stroke="#000" stroke-width="2"/>
<text x="0" y="0" transform="translate(232.5,982.2) scale(1.18,1)" font-size="28" fill="#111" font-family="Liberation Serif">&gt; 2000</text>
<rect x="167.2" y="1032.5" width="515.9000000000001" height="13.799999999999955" fill="#000"/>
<rect x="200.6" y="1035" width="30.400000000000006" height="9.3" fill="#fff"/>
<rect x="265.5" y="1035" width="29.899999999999977" height="9.3" fill="#fff"/>
<rect x="426.2" y="1035" width="126.19999999999999" height="9.3" fill="#fff"/>
<text x="0" y="0" transform="translate(168,1021.8) scale(1.22,1)" font-size="27.5" text-anchor="middle" fill="#000" font-family="Liberation Serif">0</text>
<text x="0" y="0" transform="translate(232,1021.8) scale(1.22,1)" font-size="27.5" text-anchor="middle" fill="#000" font-family="Liberation Serif">250</text>
<text x="0" y="0" transform="translate(296.5,1021.8) scale(1.22,1)" font-size="27.5" text-anchor="middle" fill="#000" font-family="Liberation Serif">500</text>
<text x="0" y="0" transform="translate(425,1021.8) scale(1.22,1)" font-size="27.5" text-anchor="middle" fill="#000" font-family="Liberation Serif">1,000</text>
<text x="0" y="0" transform="translate(554,1021.8) scale(1.22,1)" font-size="27.5" text-anchor="middle" fill="#000" font-family="Liberation Serif">1,500</text>
<text x="0" y="0" transform="translate(681,1021.8) scale(1.22,1)" font-size="27.5" text-anchor="middle" fill="#000" font-family="Liberation Serif">2,000</text>
<text x="0" y="0" transform="translate(690.6,1045.8) scale(1.15,1)" font-size="27.5" fill="#000" font-family="Liberation Serif">Kilometers</text>
<line x1="150.0" x2="1461.0" y1="1846.6" y2="1846.6" stroke="#e3e3e3" stroke-width="2"/>
<line x1="150.0" x2="1461.0" y1="1766.9" y2="1766.9" stroke="#e3e3e3" stroke-width="2"/>
<line x1="150.0" x2="1461.0" y1="1687.3" y2="1687.3" stroke="#e3e3e3" stroke-width="2"/>
<line x1="150.0" x2="1461.0" y1="1607.6" y2="1607.6" stroke="#e3e3e3" stroke-width="2"/>
<line x1="150.0" x2="1461.0" y1="1527.9" y2="1527.9" stroke="#e3e3e3" stroke-width="2"/>
<line x1="150.0" x2="1461.0" y1="1448.2" y2="1448.2" stroke="#e3e3e3" stroke-width="2"/>
<line x1="150.0" x2="1461.0" y1="1368.5" y2="1368.5" stroke="#e3e3e3" stroke-width="2"/>
<line x1="150.0" x2="1461.0" y1="1288.9" y2="1288.9" stroke="#e3e3e3" stroke-width="2"/>
<line y1="1210.0" y2="1925.8" x1="249.0" x2="249.0" stroke="#e3e3e3" stroke-width="2"/>
<line y1="1210.0" y2="1925.8" x1="350.1" x2="350.1" stroke="#e3e3e3" stroke-width="2"/>
<line y1="1210.0" y2="1925.8" x1="451.3" x2="451.3" stroke="#e3e3e3" stroke-width="2"/>
<line y1="1210.0" y2="1925.8" x1="552.5" x2="552.5" stroke="#e3e3e3" stroke-width="2"/>
<line y1="1210.0" y2="1925.8" x1="653.6" x2="653.6" stroke="#e3e3e3" stroke-width="2"/>
<line y1="1210.0" y2="1925.8" x1="754.8" x2="754.8" stroke="#e3e3e3" stroke-width="2"/>
<line y1="1210.0" y2="1925.8" x1="855.9" x2="855.9" stroke="#e3e3e3" stroke-width="2"/>
<line y1="1210.0" y2="1925.8" x1="957.1" x2="957.1" stroke="#e3e3e3" stroke-width="2"/>
<line y1="1210.0" y2="1925.8" x1="1058.2" x2="1058.2" stroke="#e3e3e3" stroke-width="2"/>
<line y1="1210.0" y2="1925.8" x1="1159.3" x2="1159.3" stroke="#e3e3e3" stroke-width="2"/>
<line y1="1210.0" y2="1925.8" x1="1260.5" x2="1260.5" stroke="#e3e3e3" stroke-width="2"/>
<line y1="1210.0" y2="1925.8" x1="1361.7" x2="1361.7" stroke="#e3e3e3" stroke-width="2"/>
<line x1="148.0" x2="160.0" y1="1926.3" y2="1926.3" stroke="#8a8a8a" stroke-width="3"/>
<line x1="1451.0" x2="1463.0" y1="1926.3" y2="1926.3" stroke="#8a8a8a" stroke-width="3"/>
<line x1="148.0" x2="160.0" y1="1846.6" y2="1846.6" stroke="#8a8a8a" stroke-width="3"/>
<line x1="1451.0" x2="1463.0" y1="1846.6" y2="1846.6" stroke="#8a8a8a" stroke-width="3"/>
<line x1="148.0" x2="160.0" y1="1766.9" y2="1766.9" stroke="#8a8a8a" stroke-width="3"/>
<line x1="1451.0" x2="1463.0" y1="1766.9" y2="1766.9" stroke="#8a8a8a" stroke-width="3"/>
<line x1="148.0" x2="160.0" y1="1687.3" y2="1687.3" stroke="#8a8a8a" stroke-width="3"/>
<line x1="1451.0" x2="1463.0" y1="1687.3" y2="1687.3" stroke="#8a8a8a" stroke-width="3"/>
<line x1="148.0" x2="160.0" y1="1607.6" y2="1607.6" stroke="#8a8a8a" stroke-width="3"/>
<line x1="1451.0" x2="1463.0" y1="1607.6" y2="1607.6" stroke="#8a8a8a" stroke-width="3"/>
<line x1="148.0" x2="160.0" y1="1527.9" y2="1527.9" stroke="#8a8a8a" stroke-width="3"/>
<line x1="1451.0" x2="1463.0" y1="1527.9" y2="1527.9" stroke="#8a8a8a" stroke-width="3"/>
<line x1="148.0" x2="160.0" y1="1448.2" y2="1448.2" stroke="#8a8a8a" stroke-width="3"/>
<line x1="1451.0" x2="1463.0" y1="1448.2" y2="1448.2" stroke="#8a8a8a" stroke-width="3"/>
<line x1="148.0" x2="160.0" y1="1368.5" y2="1368.5" stroke="#8a8a8a" stroke-width="3"/>
<line x1="1451.0" x2="1463.0" y1="1368.5" y2="1368.5" stroke="#8a8a8a" stroke-width="3"/>
<line x1="148.0" x2="160.0" y1="1288.9" y2="1288.9" stroke="#8a8a8a" stroke-width="3"/>
<line x1="1451.0" x2="1463.0" y1="1288.9" y2="1288.9" stroke="#8a8a8a" stroke-width="3"/>
<line x1="148.0" x2="160.0" y1="1209.2" y2="1209.2" stroke="#8a8a8a" stroke-width="3"/>
<line x1="1451.0" x2="1463.0" y1="1209.2" y2="1209.2" stroke="#8a8a8a" stroke-width="3"/>
<line x1="249.0" x2="249.0" y1="1925.8" y2="1913.8" stroke="#555" stroke-width="3"/>
<line x1="249.0" x2="249.0" y1="1208.0" y2="1220.0" stroke="#444" stroke-width="3"/>
<line x1="350.1" x2="350.1" y1="1925.8" y2="1913.8" stroke="#555" stroke-width="3"/>
<line x1="350.1" x2="350.1" y1="1208.0" y2="1220.0" stroke="#444" stroke-width="3"/>
<line x1="451.3" x2="451.3" y1="1925.8" y2="1913.8" stroke="#555" stroke-width="3"/>
<line x1="451.3" x2="451.3" y1="1208.0" y2="1220.0" stroke="#444" stroke-width="3"/>
<line x1="552.5" x2="552.5" y1="1925.8" y2="1913.8" stroke="#555" stroke-width="3"/>
<line x1="552.5" x2="552.5" y1="1208.0" y2="1220.0" stroke="#444" stroke-width="3"/>
<line x1="653.6" x2="653.6" y1="1925.8" y2="1913.8" stroke="#555" stroke-width="3"/>
<line x1="653.6" x2="653.6" y1="1208.0" y2="1220.0" stroke="#444" stroke-width="3"/>
<line x1="754.8" x2="754.8" y1="1925.8" y2="1913.8" stroke="#555" stroke-width="3"/>
<line x1="754.8" x2="754.8" y1="1208.0" y2="1220.0" stroke="#444" stroke-width="3"/>
<line x1="855.9" x2="855.9" y1="1925.8" y2="1913.8" stroke="#555" stroke-width="3"/>
<line x1="855.9" x2="855.9" y1="1208.0" y2="1220.0" stroke="#444" stroke-width="3"/>
<line x1="957.1" x2="957.1" y1="1925.8" y2="1913.8" stroke="#555" stroke-width="3"/>
<line x1="957.1" x2="957.1" y1="1208.0" y2="1220.0" stroke="#444" stroke-width="3"/>
<line x1="1058.2" x2="1058.2" y1="1925.8" y2="1913.8" stroke="#555" stroke-width="3"/>
<line x1="1058.2" x2="1058.2" y1="1208.0" y2="1220.0" stroke="#444" stroke-width="3"/>
<line x1="1159.3" x2="1159.3" y1="1925.8" y2="1913.8" stroke="#555" stroke-width="3"/>
<line x1="1159.3" x2="1159.3" y1="1208.0" y2="1220.0" stroke="#444" stroke-width="3"/>
<line x1="1260.5" x2="1260.5" y1="1925.8" y2="1913.8" stroke="#555" stroke-width="3"/>
<line x1="1260.5" x2="1260.5" y1="1208.0" y2="1220.0" stroke="#444" stroke-width="3"/>
<line x1="1361.7" x2="1361.7" y1="1925.8" y2="1913.8" stroke="#555" stroke-width="3"/>
<line x1="1361.7" x2="1361.7" y1="1208.0" y2="1220.0" stroke="#444" stroke-width="3"/>
<rect x="222.5" y="1777.7" width="25.5" height="148.8" fill="#16288c" stroke="#0a0f3a" stroke-width="2"/>
<rect x="251.0" y="1739.8" width="25.5" height="186.7" fill="#fdd700" stroke="#3a3000" stroke-width="2.8"/>
<rect x="323.6" y="1871.3" width="25.5" height="55.2" fill="#16288c" stroke="#0a0f3a" stroke-width="2"/>
<rect x="352.1" y="1855.4" width="25.5" height="71.1" fill="#fdd700" stroke="#3a3000" stroke-width="2.8"/>
<rect x="424.8" y="1738.3" width="25.5" height="188.2" fill="#16288c" stroke="#0a0f3a" stroke-width="2"/>
<rect x="453.3" y="1741.8" width="25.5" height="184.7" fill="#fdd700" stroke="#3a3000" stroke-width="2.8"/>
<rect x="526.0" y="1659.4" width="25.5" height="267.1" fill="#16288c" stroke="#0a0f3a" stroke-width="2"/>
<rect x="554.5" y="1696.8" width="25.5" height="229.7" fill="#fdd700" stroke="#3a3000" stroke-width="2.8"/>
<rect x="627.1" y="1485.7" width="25.5" height="440.8" fill="#16288c" stroke="#0a0f3a" stroke-width="2"/>
<rect x="655.6" y="1594.0" width="25.5" height="332.5" fill="#fdd700" stroke="#3a3000" stroke-width="2.8"/>
<rect x="728.2" y="1415.9" width="25.5" height="510.6" fill="#16288c" stroke="#0a0f3a" stroke-width="2"/>
<rect x="756.8" y="1496.4" width="25.5" height="430.1" fill="#fdd700" stroke="#3a3000" stroke-width="2.8"/>
<rect x="829.4" y="1276.5" width="25.5" height="650.0" fill="#16288c" stroke="#0a0f3a" stroke-width="2"/>
<rect x="857.9" y="1509.2" width="25.5" height="417.3" fill="#fdd700" stroke="#3a3000" stroke-width="2.8"/>
<rect x="930.6" y="1264.6" width="25.5" height="661.9" fill="#16288c" stroke="#0a0f3a" stroke-width="2"/>
<rect x="959.1" y="1439.9" width="25.5" height="486.6" fill="#fdd700" stroke="#3a3000" stroke-width="2.8"/>
<rect x="1031.7" y="1553.4" width="25.5" height="373.1" fill="#16288c" stroke="#0a0f3a" stroke-width="2"/>
<rect x="1060.2" y="1635.5" width="25.5" height="291.0" fill="#fdd700" stroke="#3a3000" stroke-width="2.8"/>
<rect x="1132.8" y="1777.3" width="25.5" height="149.2" fill="#16288c" stroke="#0a0f3a" stroke-width="2"/>
<rect x="1161.3" y="1764.5" width="25.5" height="162.0" fill="#fdd700" stroke="#3a3000" stroke-width="2.8"/>
<rect x="1234.0" y="1760.6" width="25.5" height="165.9" fill="#16288c" stroke="#0a0f3a" stroke-width="2"/>
<rect x="1262.5" y="1743.8" width="25.5" height="182.7" fill="#fdd700" stroke="#3a3000" stroke-width="2.8"/>
<rect x="1335.2" y="1797.6" width="25.5" height="128.9" fill="#16288c" stroke="#0a0f3a" stroke-width="2"/>
<rect x="1363.7" y="1754.6" width="25.5" height="171.9" fill="#fdd700" stroke="#3a3000" stroke-width="2.8"/>
<rect x="148.0" y="1208.0" width="1315.0" height="717.8" fill="none" stroke="#8a8a8a" stroke-width="4"/>
<line x1="146.0" x2="1465.0" y1="1927.8" y2="1927.8" stroke="#111" stroke-width="2"/>
<rect x="148" y="1208" width="668" height="80" fill="#fff" stroke="#7a7a7a" stroke-width="4"/>
<rect x="165" y="1218.5" width="93" height="26" fill="#16288c" stroke="#0a0f3a" stroke-width="2"/>
<rect x="165" y="1252.5" width="93" height="26" fill="#fdd700" stroke="#2a2200" stroke-width="2.2"/>
<text x="268" y="1242" font-size="31.6" fill="#262626" font-family="Liberation Serif">Regional average precipitation over China</text>
<text x="268" y="1276" font-size="31.6" fill="#262626" font-family="Liberation Serif">Standard deviations</text>
<text x="134" y="1938.3" font-size="36" text-anchor="end" fill="#262626" font-family="Liberation Serif">0</text>
<text x="134" y="1858.6" font-size="36" text-anchor="end" fill="#262626" font-family="Liberation Serif">20</text>
<text x="134" y="1778.9" font-size="36" text-anchor="end" fill="#262626" font-family="Liberation Serif">40</text>
<text x="134" y="1699.3" font-size="36" text-anchor="end" fill="#262626" font-family="Liberation Serif">60</text>
<text x="134" y="1619.6" font-size="36" text-anchor="end" fill="#262626" font-family="Liberation Serif">80</text>
<text x="134" y="1539.9" font-size="36" text-anchor="end" fill="#262626" font-family="Liberation Serif">100</text>
<text x="134" y="1460.2" font-size="36" text-anchor="end" fill="#262626" font-family="Liberation Serif">120</text>
<text x="134" y="1380.5" font-size="36" text-anchor="end" fill="#262626" font-family="Liberation Serif">140</text>
<text x="134" y="1300.9" font-size="36" text-anchor="end" fill="#262626" font-family="Liberation Serif">160</text>
<text x="134" y="1221.2" font-size="36" text-anchor="end" fill="#262626" font-family="Liberation Serif">180</text>
<text x="249.0" y="1971.5" font-size="37" text-anchor="middle" fill="#262626" font-family="Liberation Serif">Jan</text>
<text x="350.1" y="1971.5" font-size="37" text-anchor="middle" fill="#262626" font-family="Liberation Serif">Feb</text>
<text x="451.3" y="1971.5" font-size="37" text-anchor="middle" fill="#262626" font-family="Liberation Serif">Mar</text>
<text x="552.5" y="1971.5" font-size="37" text-anchor="middle" fill="#262626" font-family="Liberation Serif">Apr</text>
<text x="653.6" y="1971.5" font-size="37" text-anchor="middle" fill="#262626" font-family="Liberation Serif">May</text>
<text x="754.8" y="1971.5" font-size="37" text-anchor="middle" fill="#262626" font-family="Liberation Serif">Jun</text>
<text x="855.9" y="1971.5" font-size="37" text-anchor="middle" fill="#262626" font-family="Liberation Serif">Jul</text>
<text x="957.1" y="1971.5" font-size="37" text-anchor="middle" fill="#262626" font-family="Liberation Serif">Aug</text>
<text x="1058.2" y="1971.5" font-size="37" text-anchor="middle" fill="#262626" font-family="Liberation Serif">Sep</text>
<text x="1159.3" y="1971.5" font-size="37" text-anchor="middle" fill="#262626" font-family="Liberation Serif">Oct</text>
<text x="1260.5" y="1971.5" font-size="37" text-anchor="middle" fill="#262626" font-family="Liberation Serif">Nov</text>
<text x="1361.7" y="1971.5" font-size="37" text-anchor="middle" fill="#262626" font-family="Liberation Serif">Dec</text>
<text x="806.5" y="2017.5" font-size="41" text-anchor="middle" fill="#262626" font-family="Liberation Serif">Month</text>
<text transform="translate(64.5,1565) rotate(-90)" x="0" y="0" font-size="40" text-anchor="middle" fill="#262626" font-family="Liberation Serif">Precipitation (mm)</text>
<text x="805" y="1182.5" font-size="42.5" font-weight="bold" text-anchor="middle" fill="#000" font-family="Liberation Serif">(b)</text>
</svg></body></html>
